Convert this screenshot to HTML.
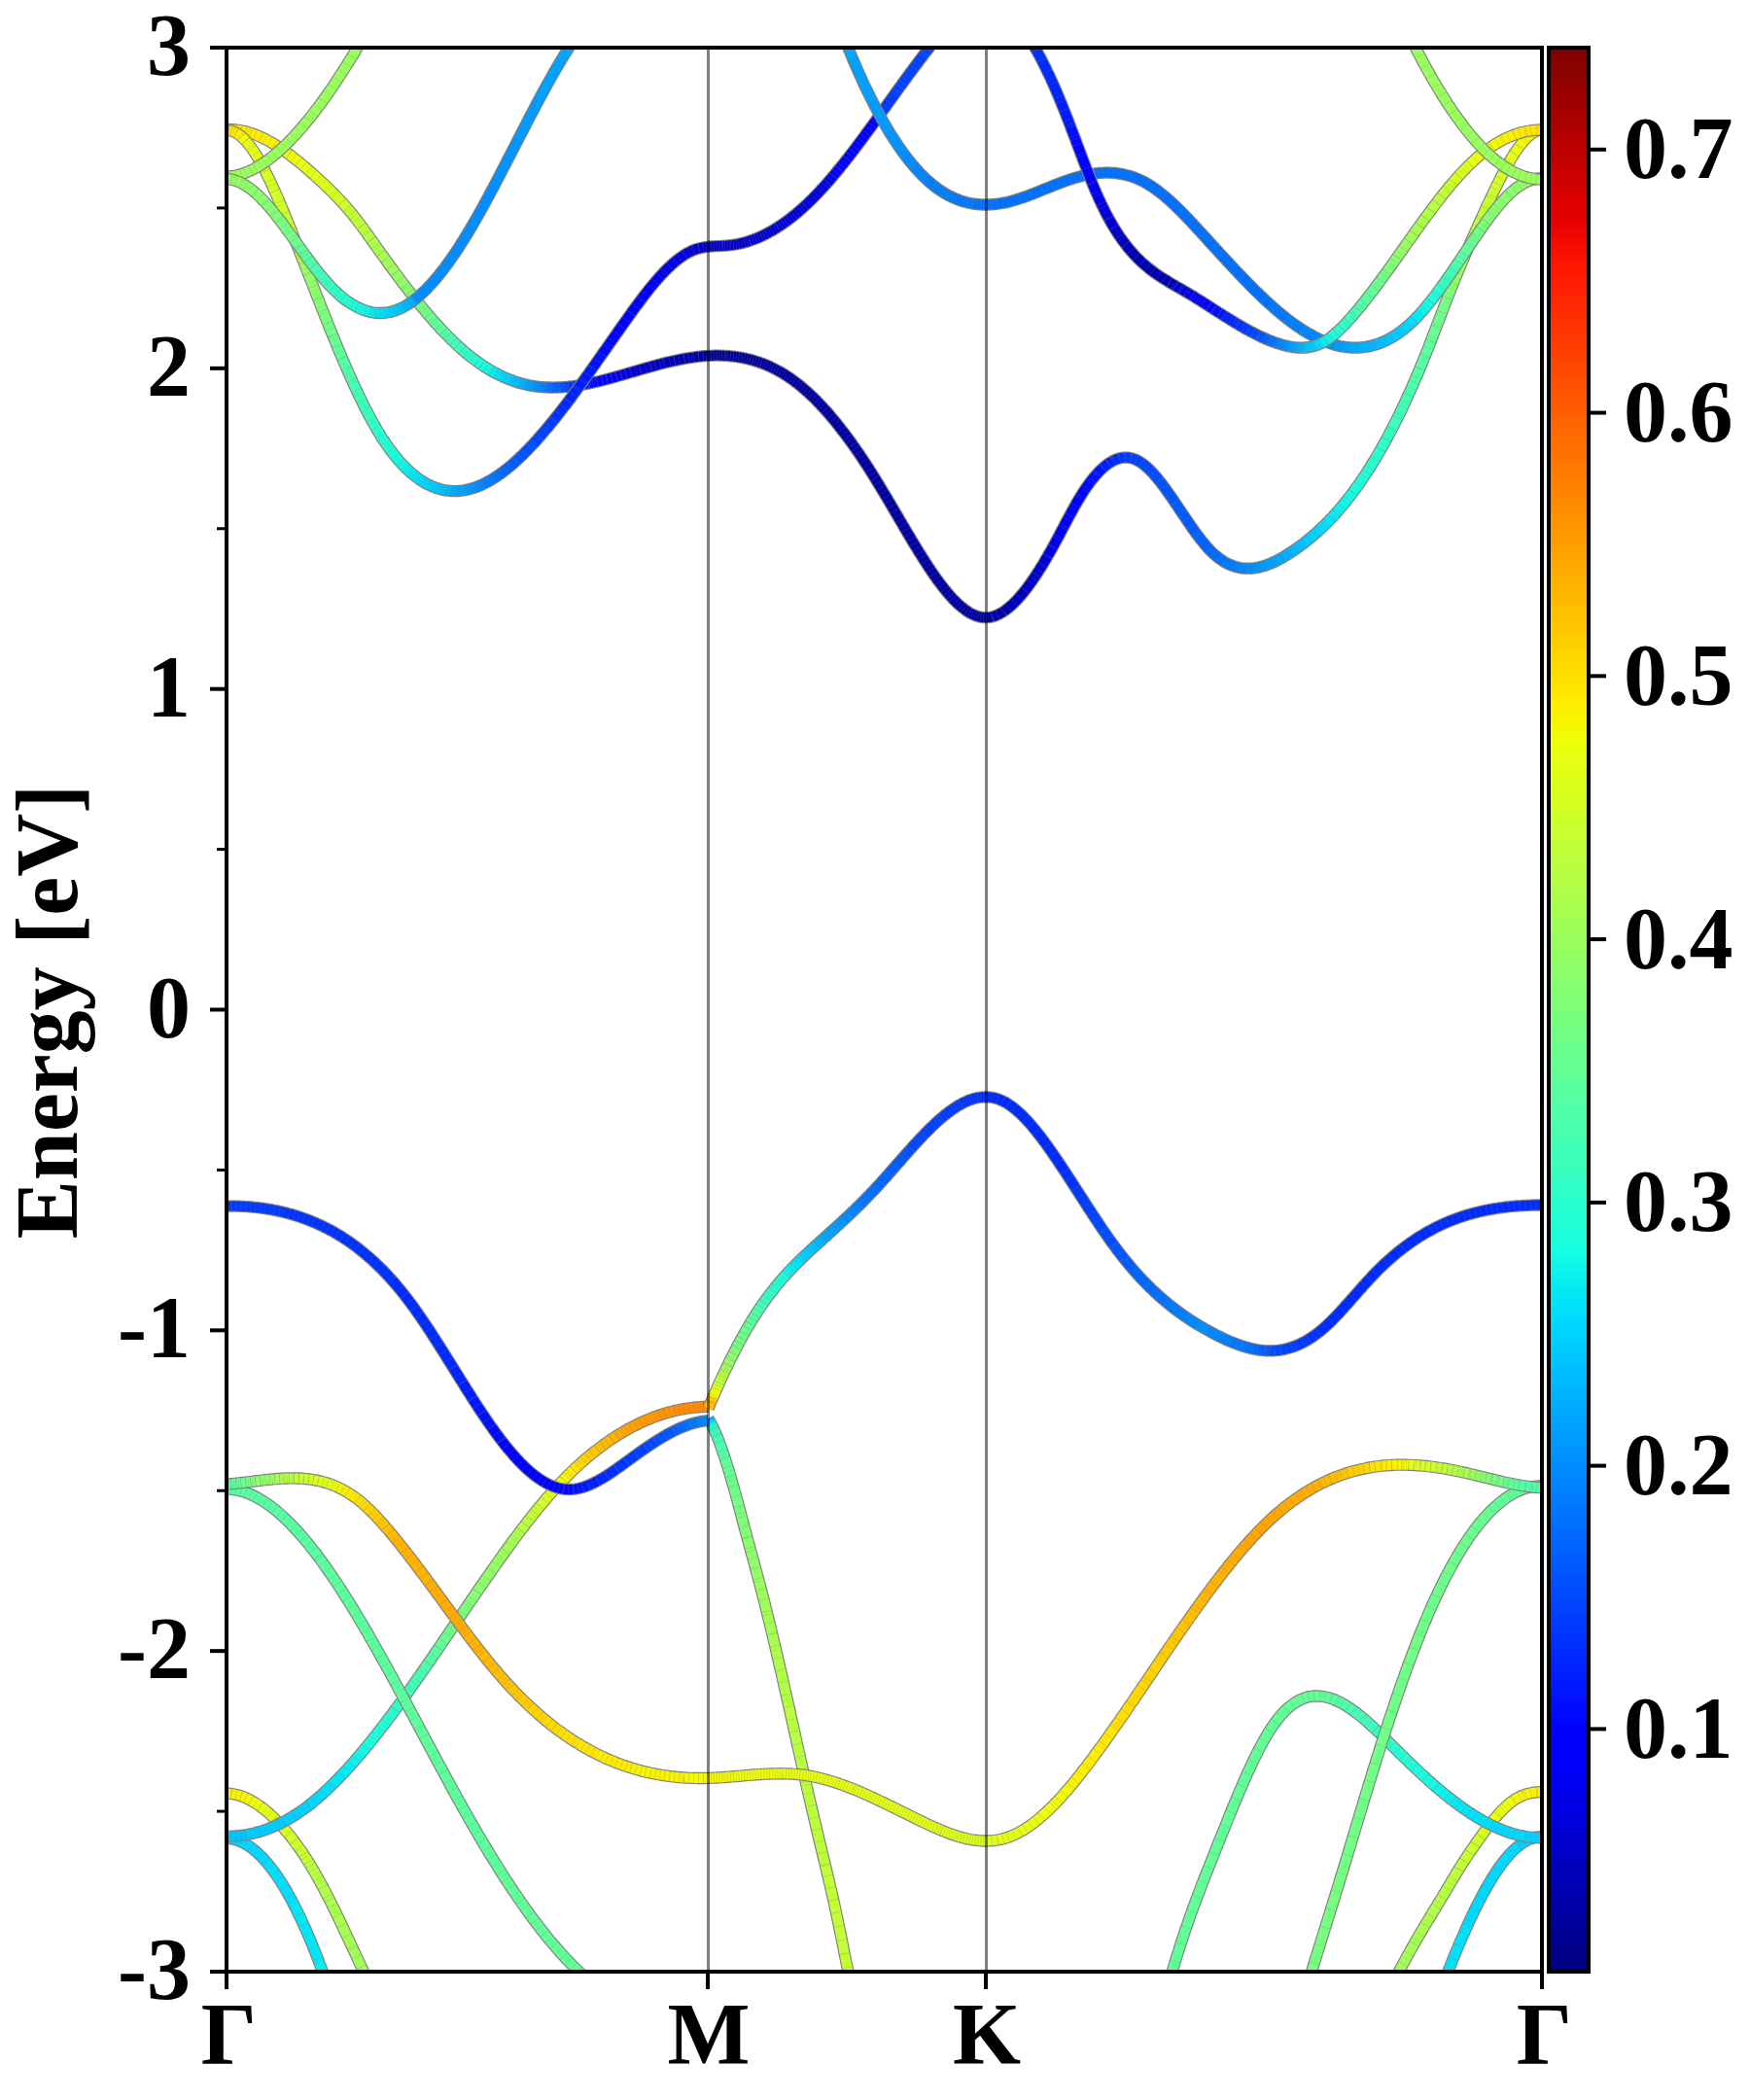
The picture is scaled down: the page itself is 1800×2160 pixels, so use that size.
<!DOCTYPE html>
<html lang="en"><head><meta charset="utf-8"><title>Band structure</title>
<style>html,body{margin:0;padding:0;background:#fff}svg{display:block}</style></head>
<body>
<svg width="1800" height="2160" viewBox="0 0 1800 2160" font-family="'Liberation Serif',serif" font-weight="bold" font-size="90px" fill="#000">
<rect width="1800" height="2160" fill="#fff"/>
<defs><clipPath id="ax"><rect x="233.0" y="49.0" width="1353.0" height="1979.0"/></clipPath></defs>
<g clip-path="url(#ax)" fill="none" stroke-linecap="butt" stroke-linejoin="round">
<g><path d="M233.0,1891.0 235.5,1891.1 238.0,1891.4 240.5,1891.9 242.9,1892.5 245.3,1893.3 247.6,1894.3 249.9,1895.3 252.2,1896.5 254.4,1897.8 256.5,1899.2 258.6,1900.6 260.6,1902.2 262.5,1903.8 264.4,1905.4 266.3,1907.2 268.1,1908.9 269.9,1910.7 271.6,1912.6 273.3,1914.5 274.9,1916.4 276.6,1918.3 278.1,1920.3 279.7,1922.3 281.2,1924.3 282.7,1926.4 284.1,1928.4 285.5,1930.5 286.9,1932.6 288.3,1934.7 289.7,1936.9 291.0,1939.0 292.3,1941.2 293.6,1943.3 294.9,1945.5 296.1,1947.7 297.3,1949.9 298.6,1952.1 299.8,1954.3 300.9,1956.5 302.1,1958.8 303.3,1961.0 304.4,1963.2 305.5,1965.5 306.6,1967.7 307.7,1970.0 308.8,1972.3 309.9,1974.5 310.9,1976.8 312.0,1979.1 313.0,1981.4 314.0,1983.7 315.1,1986.0 316.1,1988.3 317.1,1990.6 318.1,1992.9 319.0,1995.2 320.0,1997.5 321.0,1999.9 321.9,2002.2 322.8,2004.5 323.8,2006.8 324.7,2009.2 325.6,2011.5 326.5,2013.9 327.4,2016.2 328.3,2018.5 329.2,2020.9 330.1,2023.2 331.0,2025.6 331.9,2027.9 332.7,2030.3 333.6,2032.7 334.4,2035.0 335.3,2037.4 336.1,2039.7 336.9,2042.1 337.8,2044.5 338.6,2046.9 339.4,2049.2 340.2,2051.6 341.0,2053.9" stroke="#808080" stroke-width="12.3"/>
<path d="M233.0,1891.0 235.5,1891.1 238.0,1891.4 240.5,1891.9 242.9,1892.5 245.3,1893.3 247.6,1894.3" stroke="#00d2ff" stroke-width="10.0"/>
<path d="M247.6,1894.3 249.9,1895.3 252.2,1896.5 254.4,1897.8 256.5,1899.2 258.6,1900.6 260.6,1902.2 262.5,1903.8 264.4,1905.4 266.3,1907.2 268.1,1908.9 269.9,1910.7 271.6,1912.6 273.3,1914.5 274.9,1916.4" stroke="#00d9ff" stroke-width="10.0"/>
<path d="M274.9,1916.4 276.6,1918.3 278.1,1920.3 279.7,1922.3 281.2,1924.3 282.7,1926.4 284.1,1928.4 285.5,1930.5 286.9,1932.6 288.3,1934.7 289.7,1936.9 291.0,1939.0 292.3,1941.2 293.6,1943.3 294.9,1945.5 296.1,1947.7 297.3,1949.9 298.6,1952.1 299.8,1954.3 300.9,1956.5" stroke="#00e0fb" stroke-width="10.0"/>
<path d="M300.9,1956.5 302.1,1958.8 303.3,1961.0 304.4,1963.2 305.5,1965.5 306.6,1967.7 307.7,1970.0 308.8,1972.3 309.9,1974.5 310.9,1976.8 312.0,1979.1 313.0,1981.4 314.0,1983.7 315.1,1986.0 316.1,1988.3 317.1,1990.6 318.1,1992.9 319.0,1995.2 320.0,1997.5 321.0,1999.9 321.9,2002.2 322.8,2004.5 323.8,2006.8 324.7,2009.2 325.6,2011.5 326.5,2013.9 327.4,2016.2 328.3,2018.5" stroke="#02e7f5" stroke-width="10.0"/>
<path d="M328.3,2018.5 329.2,2020.9 330.1,2023.2 331.0,2025.6 331.9,2027.9 332.7,2030.3 333.6,2032.7 334.4,2035.0 335.3,2037.4 336.1,2039.7 336.9,2042.1 337.8,2044.5 338.6,2046.9 339.4,2049.2 340.2,2051.6 341.0,2053.9" stroke="#07eef0" stroke-width="10.0"/>
<path d="M238.7,1886.5l-1.6,9.9M244.3,1887.8l-2.8,9.6M249.9,1889.8l-4.0,9.2M255.3,1892.5l-5.0,8.7M260.7,1896.0l-5.8,8.1M266.0,1900.1l-6.5,7.6M271.2,1904.9l-7.0,7.1M276.4,1910.4l-7.5,6.6M281.5,1916.5l-7.8,6.2M286.6,1923.3l-8.1,5.8M291.7,1930.8l-8.4,5.5M296.7,1938.8l-8.6,5.1M301.8,1947.6l-8.7,4.9M306.8,1957.0l-8.9,4.6M311.8,1967.0l-9.0,4.4M316.8,1977.7l-9.1,4.1M321.8,1989.0l-9.2,3.9M326.8,2001.0l-9.3,3.8M331.8,2013.6l-9.3,3.6M336.8,2026.9l-9.4,3.4M341.8,2040.8l-9.4,3.3" stroke="#7a7a7a" stroke-opacity="0.3" stroke-width="0.9"/>
</g>
<g><path d="M1481.0,2049.5 1481.9,2047.1 1482.8,2044.8 1483.7,2042.5 1484.6,2040.1 1485.5,2037.8 1486.4,2035.5 1487.3,2033.2 1488.2,2030.8 1489.1,2028.5 1490.0,2026.2 1490.9,2023.9 1491.9,2021.6 1492.8,2019.2 1493.7,2016.9 1494.7,2014.6 1495.6,2012.3 1496.6,2010.0 1497.5,2007.7 1498.5,2005.4 1499.5,2003.1 1500.4,2000.8 1501.4,1998.5 1502.4,1996.2 1503.4,1993.9 1504.4,1991.7 1505.4,1989.4 1506.4,1987.1 1507.4,1984.8 1508.4,1982.6 1509.5,1980.3 1510.5,1978.0 1511.5,1975.8 1512.6,1973.5 1513.7,1971.3 1514.7,1969.0 1515.8,1966.8 1516.9,1964.5 1518.0,1962.3 1519.1,1960.1 1520.2,1957.9 1521.4,1955.6 1522.5,1953.4 1523.7,1951.2 1524.8,1949.0 1526.0,1946.9 1527.2,1944.7 1528.4,1942.5 1529.7,1940.3 1530.9,1938.2 1532.2,1936.1 1533.4,1933.9 1534.7,1931.8 1536.0,1929.7 1537.4,1927.6 1538.7,1925.5 1540.1,1923.5 1541.5,1921.4 1542.9,1919.4 1544.4,1917.4 1545.9,1915.4 1547.4,1913.5 1549.0,1911.6 1550.6,1909.7 1552.2,1907.8 1553.9,1906.0 1555.6,1904.3 1557.4,1902.6 1559.2,1900.9 1561.1,1899.3 1563.0,1897.8 1565.0,1896.4 1567.1,1895.0 1569.2,1893.8 1571.4,1892.7 1573.7,1891.7 1576.0,1890.8 1578.4,1890.1 1580.8,1889.6 1583.3,1889.3 1585.7,1889.2 1586.0,1889.2" stroke="#808080" stroke-width="12.3"/>
<path d="M1481.0,2049.5 1481.9,2047.1 1482.8,2044.8 1483.7,2042.5 1484.6,2040.1 1485.5,2037.8 1486.4,2035.5 1487.3,2033.2 1488.2,2030.8 1489.1,2028.5 1490.0,2026.2 1490.9,2023.9 1491.9,2021.6 1492.8,2019.2 1493.7,2016.9 1494.7,2014.6 1495.6,2012.3 1496.6,2010.0 1497.5,2007.7 1498.5,2005.4 1499.5,2003.1 1500.4,2000.8 1501.4,1998.5 1502.4,1996.2 1503.4,1993.9 1504.4,1991.7 1505.4,1989.4 1506.4,1987.1 1507.4,1984.8 1508.4,1982.6 1509.5,1980.3" stroke="#00e0fb" stroke-width="10.0"/>
<path d="M1509.5,1980.3 1510.5,1978.0 1511.5,1975.8 1512.6,1973.5 1513.7,1971.3 1514.7,1969.0 1515.8,1966.8 1516.9,1964.5 1518.0,1962.3 1519.1,1960.1 1520.2,1957.9 1521.4,1955.6 1522.5,1953.4 1523.7,1951.2 1524.8,1949.0 1526.0,1946.9 1527.2,1944.7 1528.4,1942.5 1529.7,1940.3 1530.9,1938.2 1532.2,1936.1 1533.4,1933.9 1534.7,1931.8 1536.0,1929.7 1537.4,1927.6 1538.7,1925.5 1540.1,1923.5 1541.5,1921.4 1542.9,1919.4 1544.4,1917.4 1545.9,1915.4 1547.4,1913.5 1549.0,1911.6 1550.6,1909.7 1552.2,1907.8 1553.9,1906.0 1555.6,1904.3 1557.4,1902.6 1559.2,1900.9 1561.1,1899.3" stroke="#00d9ff" stroke-width="10.0"/>
<path d="M1561.1,1899.3 1563.0,1897.8 1565.0,1896.4 1567.1,1895.0 1569.2,1893.8 1571.4,1892.7 1573.7,1891.7 1576.0,1890.8 1578.4,1890.1 1580.8,1889.6 1583.3,1889.3 1585.7,1889.2 1586.0,1889.2" stroke="#00d2ff" stroke-width="10.0"/>
<path d="M1478.5,2042.1l9.3,3.6M1484.2,2027.3l9.3,3.7M1489.9,2013.0l9.3,3.8M1495.7,1999.2l9.2,3.9M1501.4,1986.0l9.1,4.1M1507.2,1973.3l9.1,4.2M1512.9,1961.3l9.0,4.4M1518.7,1949.9l8.9,4.7M1524.5,1939.3l8.7,4.9M1530.3,1929.4l8.5,5.2M1536.1,1920.4l8.3,5.6M1542.0,1912.3l7.9,6.1M1548.0,1905.1l7.5,6.7M1554.0,1898.9l6.8,7.3M1560.1,1893.7l6.0,8.0M1566.4,1889.6l4.9,8.7M1572.8,1886.6l3.5,9.4M1579.4,1884.8l1.8,9.8" stroke="#7a7a7a" stroke-opacity="0.3" stroke-width="0.9"/>
</g>
<g><path d="M233.0,1844.5 235.5,1844.7 238.0,1845.0 240.5,1845.4 242.9,1845.9 245.4,1846.5 247.8,1847.3 250.1,1848.1 252.5,1849.1 254.7,1850.2 257.0,1851.3 259.2,1852.5 261.4,1853.8 263.5,1855.1 265.6,1856.5 267.7,1858.0 269.7,1859.5 271.7,1861.0 273.7,1862.6 275.6,1864.2 277.5,1865.9 279.3,1867.6 281.2,1869.3 283.0,1871.1 284.7,1872.9 286.5,1874.7 288.2,1876.5 289.9,1878.4 291.6,1880.2 293.3,1882.1 294.9,1884.1 296.5,1886.0 298.1,1887.9 299.7,1889.9 301.2,1891.9 302.7,1893.9 304.2,1895.9 305.7,1897.9 307.2,1900.0 308.6,1902.1 310.1,1904.1 311.5,1906.2 312.9,1908.3 314.2,1910.4 315.6,1912.5 316.9,1914.6 318.3,1916.8 319.6,1918.9 320.9,1921.1 322.2,1923.2 323.4,1925.4 324.7,1927.6 325.9,1929.8 327.2,1932.0 328.4,1934.2 329.6,1936.4 330.8,1938.6 332.0,1940.8 333.2,1943.0 334.3,1945.2 335.5,1947.4 336.6,1949.7 337.8,1951.9 338.9,1954.1 340.1,1956.4 341.2,1958.6 342.3,1960.9 343.4,1963.1 344.5,1965.4 345.6,1967.6 346.7,1969.9 347.8,1972.1 348.9,1974.4 350.0,1976.6 351.0,1978.9 352.1,1981.2 353.2,1983.4 354.2,1985.7 355.3,1987.9 356.4,1990.2 357.4,1992.5 358.5,1994.7 359.6,1997.0 360.6,1999.3 361.7,2001.5 362.7,2003.8 363.8,2006.1 364.8,2008.3 365.9,2010.6 366.9,2012.9 368.0,2015.1 369.1,2017.4 370.1,2019.7 371.2,2021.9 372.2,2024.2 373.3,2026.5 374.4,2028.7 375.4,2031.0 376.5,2033.2 377.6,2035.5 378.6,2037.7 379.7,2040.0 380.8,2042.2 381.9,2044.5 383.0,2046.7 384.1,2049.0 385.2,2051.2 385.5,2051.9" stroke="#808080" stroke-width="12.3"/>
<path d="M233.0,1844.5 235.5,1844.7 238.0,1845.0" stroke="#ffec00" stroke-width="10.0"/>
<path d="M238.0,1845.0 240.5,1845.4 242.9,1845.9 245.4,1846.5 247.8,1847.3" stroke="#f9f300" stroke-width="10.0"/>
<path d="M247.8,1847.3 250.1,1848.1 252.5,1849.1 254.7,1850.2 257.0,1851.3 259.2,1852.5" stroke="#f4f903" stroke-width="10.0"/>
<path d="M259.2,1852.5 261.4,1853.8 263.5,1855.1 265.6,1856.5 267.7,1858.0" stroke="#eeff09" stroke-width="10.0"/>
<path d="M267.7,1858.0 269.7,1859.5 271.7,1861.0 273.7,1862.6 275.6,1864.2" stroke="#e8ff0f" stroke-width="10.0"/>
<path d="M275.6,1864.2 277.5,1865.9 279.3,1867.6 281.2,1869.3 283.0,1871.1" stroke="#e3ff14" stroke-width="10.0"/>
<path d="M283.0,1871.1 284.7,1872.9 286.5,1874.7 288.2,1876.5 289.9,1878.4" stroke="#ddff1a" stroke-width="10.0"/>
<path d="M289.9,1878.4 291.6,1880.2 293.3,1882.1 294.9,1884.1 296.5,1886.0" stroke="#d7ff1f" stroke-width="10.0"/>
<path d="M296.5,1886.0 298.1,1887.9 299.7,1889.9 301.2,1891.9 302.7,1893.9" stroke="#d2ff25" stroke-width="10.0"/>
<path d="M302.7,1893.9 304.2,1895.9 305.7,1897.9 307.2,1900.0 308.6,1902.1" stroke="#ccff2b" stroke-width="10.0"/>
<path d="M308.6,1902.1 310.1,1904.1 311.5,1906.2 312.9,1908.3 314.2,1910.4" stroke="#c6ff30" stroke-width="10.0"/>
<path d="M314.2,1910.4 315.6,1912.5 316.9,1914.6 318.3,1916.8 319.6,1918.9" stroke="#c1ff36" stroke-width="10.0"/>
<path d="M319.6,1918.9 320.9,1921.1 322.2,1923.2 323.4,1925.4 324.7,1927.6" stroke="#bbff3c" stroke-width="10.0"/>
<path d="M324.7,1927.6 325.9,1929.8 327.2,1932.0 328.4,1934.2 329.6,1936.4" stroke="#b6ff41" stroke-width="10.0"/>
<path d="M329.6,1936.4 330.8,1938.6 332.0,1940.8 333.2,1943.0 334.3,1945.2 335.5,1947.4 336.6,1949.7 337.8,1951.9 338.9,1954.1" stroke="#b0ff47" stroke-width="10.0"/>
<path d="M338.9,1954.1 340.1,1956.4 341.2,1958.6 342.3,1960.9 343.4,1963.1 344.5,1965.4 345.6,1967.6 346.7,1969.9 347.8,1972.1 348.9,1974.4 350.0,1976.6 351.0,1978.9" stroke="#aaff4c" stroke-width="10.0"/>
<path d="M351.0,1978.9 352.1,1981.2 353.2,1983.4 354.2,1985.7 355.3,1987.9 356.4,1990.2 357.4,1992.5 358.5,1994.7 359.6,1997.0 360.6,1999.3 361.7,2001.5 362.7,2003.8" stroke="#a5ff52" stroke-width="10.0"/>
<path d="M362.7,2003.8 363.8,2006.1 364.8,2008.3 365.9,2010.6 366.9,2012.9 368.0,2015.1 369.1,2017.4 370.1,2019.7 371.2,2021.9 372.2,2024.2 373.3,2026.5 374.4,2028.7" stroke="#9fff58" stroke-width="10.0"/>
<path d="M374.4,2028.7 375.4,2031.0 376.5,2033.2 377.6,2035.5 378.6,2037.7 379.7,2040.0 380.8,2042.2 381.9,2044.5 383.0,2046.7 384.1,2049.0 385.2,2051.2 385.5,2051.9" stroke="#99ff5d" stroke-width="10.0"/>
<path d="M238.6,1840.0l-1.3,9.9M244.1,1841.0l-2.3,9.7M249.5,1842.6l-3.2,9.5M254.8,1844.7l-4.0,9.1M260.1,1847.3l-4.7,8.8M265.4,1850.4l-5.3,8.4M270.6,1853.9l-5.9,8.1M275.8,1857.9l-6.3,7.8M280.9,1862.3l-6.7,7.4M286.1,1867.1l-7.0,7.1M291.1,1872.3l-7.3,6.9M296.2,1877.9l-7.5,6.6M301.3,1884.0l-7.8,6.3M306.4,1890.4l-8.0,6.0M311.4,1897.3l-8.2,5.8M316.4,1904.6l-8.3,5.5M321.5,1912.5l-8.5,5.3M326.5,1920.7l-8.6,5.1M331.5,1929.5l-8.7,4.9M336.5,1938.7l-8.8,4.7M341.5,1948.2l-8.9,4.6M346.5,1958.1l-9.0,4.4M351.5,1968.2l-9.0,4.4M356.4,1978.6l-9.0,4.3M361.4,1989.1l-9.1,4.2M366.4,1999.8l-9.1,4.2M371.3,2010.4l-9.1,4.2M376.3,2021.0l-9.1,4.2M381.2,2031.5l-9.0,4.3M386.2,2041.8l-9.0,4.4" stroke="#7a7a7a" stroke-opacity="0.3" stroke-width="0.9"/>
</g>
<g><path d="M1427.5,2050.1 1428.6,2047.8 1429.7,2045.6 1430.9,2043.4 1432.0,2041.2 1433.1,2038.9 1434.3,2036.7 1435.4,2034.5 1436.6,2032.3 1437.7,2030.1 1438.9,2027.9 1440.0,2025.7 1441.2,2023.5 1442.4,2021.3 1443.6,2019.1 1444.8,2016.9 1446.0,2014.7 1447.2,2012.5 1448.4,2010.3 1449.6,2008.1 1450.8,2006.0 1452.0,2003.8 1453.2,2001.6 1454.5,1999.5 1455.7,1997.3 1457.0,1995.1 1458.2,1993.0 1459.5,1990.8 1460.7,1988.7 1462.0,1986.5 1463.3,1984.4 1464.6,1982.2 1465.8,1980.1 1467.1,1978.0 1468.4,1975.8 1469.7,1973.7 1471.0,1971.5 1472.3,1969.4 1473.6,1967.3 1474.9,1965.1 1476.2,1963.0 1477.5,1960.9 1478.8,1958.7 1480.1,1956.6 1481.4,1954.5 1482.7,1952.3 1484.0,1950.2 1485.3,1948.0 1486.6,1945.9 1487.9,1943.7 1489.1,1941.6 1490.4,1939.4 1491.7,1937.3 1492.9,1935.1 1494.2,1933.0 1495.5,1930.8 1496.8,1928.7 1498.1,1926.5 1499.4,1924.4 1500.7,1922.3 1502.0,1920.2 1503.3,1918.1 1504.7,1916.0 1506.0,1913.9 1507.4,1911.8 1508.8,1909.8 1510.1,1907.7 1511.5,1905.6 1512.9,1903.6 1514.4,1901.5 1515.8,1899.5 1517.2,1897.4 1518.6,1895.4 1520.1,1893.3 1521.5,1891.3 1523.0,1889.3 1524.4,1887.2 1525.9,1885.2 1527.4,1883.2 1528.9,1881.2 1530.4,1879.3 1531.9,1877.3 1533.4,1875.3 1535.0,1873.4 1536.6,1871.5 1538.2,1869.6 1539.8,1867.7 1541.4,1865.9 1543.1,1864.0 1544.8,1862.2 1546.6,1860.5 1548.3,1858.8 1550.2,1857.1 1552.0,1855.5 1553.9,1853.9 1555.9,1852.5 1557.9,1851.1 1560.0,1849.8 1562.2,1848.6 1564.4,1847.5 1566.7,1846.5 1569.0,1845.7 1571.4,1845.0 1573.8,1844.4 1576.2,1843.9 1578.7,1843.6 1581.2,1843.3 1583.7,1843.2 1586.0,1843.2" stroke="#808080" stroke-width="12.3"/>
<path d="M1427.5,2050.1 1428.6,2047.8 1429.7,2045.6 1430.9,2043.4 1432.0,2041.2 1433.1,2038.9 1434.3,2036.7" stroke="#99ff5d" stroke-width="10.0"/>
<path d="M1434.3,2036.7 1435.4,2034.5 1436.6,2032.3 1437.7,2030.1 1438.9,2027.9 1440.0,2025.7 1441.2,2023.5 1442.4,2021.3 1443.6,2019.1 1444.8,2016.9 1446.0,2014.7" stroke="#9fff58" stroke-width="10.0"/>
<path d="M1446.0,2014.7 1447.2,2012.5 1448.4,2010.3 1449.6,2008.1 1450.8,2006.0 1452.0,2003.8 1453.2,2001.6 1454.5,1999.5 1455.7,1997.3 1457.0,1995.1" stroke="#a5ff52" stroke-width="10.0"/>
<path d="M1457.0,1995.1 1458.2,1993.0 1459.5,1990.8 1460.7,1988.7 1462.0,1986.5 1463.3,1984.4 1464.6,1982.2 1465.8,1980.1 1467.1,1978.0 1468.4,1975.8" stroke="#aaff4c" stroke-width="10.0"/>
<path d="M1468.4,1975.8 1469.7,1973.7 1471.0,1971.5 1472.3,1969.4 1473.6,1967.3 1474.9,1965.1 1476.2,1963.0 1477.5,1960.9 1478.8,1958.7 1480.1,1956.6" stroke="#b0ff47" stroke-width="10.0"/>
<path d="M1480.1,1956.6 1481.4,1954.5 1482.7,1952.3 1484.0,1950.2 1485.3,1948.0 1486.6,1945.9 1487.9,1943.7 1489.1,1941.6 1490.4,1939.4 1491.7,1937.3" stroke="#b6ff41" stroke-width="10.0"/>
<path d="M1491.7,1937.3 1492.9,1935.1 1494.2,1933.0 1495.5,1930.8 1496.8,1928.7 1498.1,1926.5 1499.4,1924.4 1500.7,1922.3" stroke="#bbff3c" stroke-width="10.0"/>
<path d="M1500.7,1922.3 1502.0,1920.2 1503.3,1918.1 1504.7,1916.0 1506.0,1913.9" stroke="#c1ff36" stroke-width="10.0"/>
<path d="M1506.0,1913.9 1507.4,1911.8 1508.8,1909.8 1510.1,1907.7 1511.5,1905.6" stroke="#c6ff30" stroke-width="10.0"/>
<path d="M1511.5,1905.6 1512.9,1903.6 1514.4,1901.5 1515.8,1899.5 1517.2,1897.4" stroke="#ccff2b" stroke-width="10.0"/>
<path d="M1517.2,1897.4 1518.6,1895.4 1520.1,1893.3 1521.5,1891.3 1523.0,1889.3" stroke="#d2ff25" stroke-width="10.0"/>
<path d="M1523.0,1889.3 1524.4,1887.2 1525.9,1885.2 1527.4,1883.2" stroke="#d7ff1f" stroke-width="10.0"/>
<path d="M1527.4,1883.2 1528.9,1881.2 1530.4,1879.3 1531.9,1877.3 1533.4,1875.3 1535.0,1873.4" stroke="#ddff1a" stroke-width="10.0"/>
<path d="M1535.0,1873.4 1536.6,1871.5 1538.2,1869.6 1539.8,1867.7 1541.4,1865.9" stroke="#e3ff14" stroke-width="10.0"/>
<path d="M1541.4,1865.9 1543.1,1864.0 1544.8,1862.2 1546.6,1860.5 1548.3,1858.8" stroke="#e8ff0f" stroke-width="10.0"/>
<path d="M1548.3,1858.8 1550.2,1857.1 1552.0,1855.5 1553.9,1853.9 1555.9,1852.5" stroke="#eeff09" stroke-width="10.0"/>
<path d="M1555.9,1852.5 1557.9,1851.1 1560.0,1849.8 1562.2,1848.6 1564.4,1847.5 1566.7,1846.5" stroke="#f4f903" stroke-width="10.0"/>
<path d="M1566.7,1846.5 1569.0,1845.7 1571.4,1845.0 1573.8,1844.4 1576.2,1843.9 1578.7,1843.6 1581.2,1843.3" stroke="#f9f300" stroke-width="10.0"/>
<path d="M1581.2,1843.3 1583.7,1843.2 1586.0,1843.2" stroke="#ffec00" stroke-width="10.0"/>
<path d="M1427.2,2039.5l8.9,4.5M1433.0,2028.3l8.9,4.6M1438.7,2017.5l8.8,4.7M1444.5,2007.0l8.7,4.9M1450.2,1996.8l8.7,5.0M1456.0,1986.9l8.6,5.1M1461.7,1977.3l8.6,5.2M1467.4,1967.8l8.5,5.2M1473.1,1958.5l8.5,5.2M1478.8,1949.0l8.6,5.2M1484.5,1939.5l8.6,5.1M1490.3,1929.8l8.6,5.1M1496.0,1920.3l8.5,5.3M1501.8,1911.2l8.4,5.5M1507.6,1902.6l8.3,5.6M1513.3,1894.2l8.2,5.7M1519.1,1886.1l8.1,5.8M1524.9,1878.3l8.0,6.0M1530.7,1870.8l7.8,6.3M1536.5,1863.8l7.5,6.6M1542.5,1857.5l7.1,7.1M1548.5,1851.9l6.5,7.6M1554.6,1847.2l5.6,8.3M1560.9,1843.6l4.4,9.0M1567.3,1841.0l3.2,9.5M1573.6,1839.3l2.0,9.8M1579.9,1838.4l0.9,10.0" stroke="#7a7a7a" stroke-opacity="0.3" stroke-width="0.9"/>
</g>
<g><path d="M233.0,1888.8 235.5,1888.8 238.0,1888.7 240.5,1888.6 243.0,1888.4 245.5,1888.2 248.0,1887.9 250.5,1887.6 252.9,1887.2 255.4,1886.8 257.9,1886.3 260.3,1885.7 262.7,1885.2 265.2,1884.5 267.6,1883.8 270.0,1883.1 272.3,1882.3 274.7,1881.4 277.0,1880.5 279.4,1879.6 281.7,1878.6 284.0,1877.6 286.2,1876.5 288.5,1875.4 290.7,1874.3 293.0,1873.1 295.2,1871.9 297.3,1870.7 299.5,1869.4 301.6,1868.1 303.8,1866.7 305.9,1865.3 308.0,1863.9 310.0,1862.5 312.1,1861.1 314.1,1859.6 316.1,1858.1 318.1,1856.5 320.1,1855.0 322.0,1853.4 323.9,1851.8 325.9,1850.2 327.8,1848.5 329.7,1846.9 331.5,1845.2 333.4,1843.5 335.2,1841.8 337.1,1840.1 338.9,1838.4 340.7,1836.6 342.5,1834.9 344.3,1833.1 346.0,1831.3 347.8,1829.6 349.5,1827.7 351.3,1825.9 353.0,1824.1 354.7,1822.3 356.4,1820.4 358.1,1818.6 359.8,1816.7 361.4,1814.9 363.1,1813.0 364.8,1811.1 366.4,1809.2 368.0,1807.3 369.7,1805.4 371.3,1803.5 372.9,1801.6 374.5,1799.7 376.1,1797.7 377.7,1795.8 379.3,1793.8 380.9,1791.9 382.4,1789.9 384.0,1788.0 385.5,1786.0 387.1,1784.1 388.6,1782.1 390.2,1780.1 391.7,1778.1 393.2,1776.2 394.8,1774.2 396.3,1772.2 397.8,1770.2 399.3,1768.2 400.8,1766.2 402.3,1764.2 403.8,1762.2 405.3,1760.2 406.8,1758.1 408.3,1756.1 409.8,1754.1 411.2,1752.1 412.7,1750.1 414.2,1748.0 415.6,1746.0 417.1,1744.0 418.6,1741.9 420.0,1739.9 421.5,1737.9 422.9,1735.8 424.4,1733.8 425.8,1731.7 427.2,1729.7 428.7,1727.7 430.1,1725.6 431.6,1723.6 433.0,1721.5 434.4,1719.4 435.8,1717.4 437.3,1715.3 438.7,1713.3 440.1,1711.2 441.5,1709.2 443.0,1707.1 444.4,1705.0 445.8,1703.0 447.2,1700.9 448.6,1698.9 450.0,1696.8 451.4,1694.7 452.9,1692.7 454.3,1690.6 455.7,1688.5 457.1,1686.5 458.5,1684.4 459.9,1682.3 461.3,1680.3 462.7,1678.2 464.1,1676.1 465.5,1674.1 466.9,1672.0 468.3,1669.9 469.7,1667.9 471.2,1665.8 472.6,1663.7 474.0,1661.7 475.4,1659.6 476.8,1657.5 478.2,1655.5 479.6,1653.4 481.0,1651.3 482.4,1649.3 483.8,1647.2 485.2,1645.1 486.6,1643.1 488.1,1641.0 489.5,1639.0 490.9,1636.9 492.3,1634.8 493.7,1632.8 495.1,1630.7 496.6,1628.7 498.0,1626.6 499.4,1624.6 500.8,1622.5 502.3,1620.5 503.7,1618.4 505.1,1616.4 506.6,1614.3 508.0,1612.3 509.4,1610.3 510.9,1608.2 512.3,1606.2 513.8,1604.1 515.2,1602.1 516.7,1600.1 518.1,1598.0 519.6,1596.0 521.1,1594.0 522.5,1592.0 524.0,1590.0 525.5,1587.9 526.9,1585.9 528.4,1583.9 529.9,1581.9 531.4,1579.9 532.9,1577.9 534.4,1575.9 535.9,1573.9 537.4,1571.9 538.9,1570.0 540.4,1568.0 542.0,1566.0 543.5,1564.0 545.0,1562.1 546.6,1560.1 548.1,1558.2 549.7,1556.2 551.3,1554.3 552.8,1552.3 554.4,1550.4 556.0,1548.5 557.6,1546.6 559.2,1544.7 560.8,1542.8 562.4,1540.9 564.1,1539.0 565.7,1537.1 567.4,1535.2 569.0,1533.4 570.7,1531.5 572.4,1529.7 574.1,1527.9 575.8,1526.0 577.5,1524.2 579.2,1522.4 581.0,1520.7 582.7,1518.9 584.5,1517.1 586.2,1515.4 588.0,1513.6 589.8,1511.9 591.6,1510.2 593.5,1508.5 595.3,1506.8 597.1,1505.1 599.0,1503.5 600.9,1501.8 602.8,1500.2 604.7,1498.6 606.6,1497.0 608.5,1495.4 610.5,1493.9 612.4,1492.3 614.4,1490.8 616.4,1489.3 618.4,1487.8 620.4,1486.3 622.4,1484.9 624.4,1483.4 626.5,1482.0 628.5,1480.6 630.6,1479.3 632.7,1477.9 634.8,1476.6 636.9,1475.3 639.1,1474.0 641.2,1472.7 643.4,1471.5 645.5,1470.2 647.7,1469.0 649.9,1467.9 652.1,1466.7 654.4,1465.6 656.6,1464.5 658.9,1463.4 661.1,1462.4 663.4,1461.4 665.7,1460.4 668.0,1459.4 670.3,1458.5 672.6,1457.6 675.0,1456.7 677.3,1455.9 679.7,1455.1 682.1,1454.3 684.4,1453.6 686.8,1452.9 689.2,1452.3 691.7,1451.6 694.1,1451.0 696.5,1450.5 699.0,1450.0 701.4,1449.5 703.9,1449.1 706.3,1448.7 708.8,1448.3 711.3,1448.0 713.8,1447.7 716.2,1447.5 718.7,1447.3 721.2,1447.1 723.7,1447.0 726.2,1446.9 728.4,1446.9" stroke="#808080" stroke-width="12.3"/>
<path d="M233.0,1888.8 235.5,1888.8 238.0,1888.7 240.5,1888.6 243.0,1888.4 245.5,1888.2 248.0,1887.9 250.5,1887.6 252.9,1887.2" stroke="#00c5ff" stroke-width="10.0"/>
<path d="M252.9,1887.2 255.4,1886.8 257.9,1886.3 260.3,1885.7 262.7,1885.2 265.2,1884.5 267.6,1883.8 270.0,1883.1 272.3,1882.3 274.7,1881.4 277.0,1880.5 279.4,1879.6 281.7,1878.6 284.0,1877.6 286.2,1876.5 288.5,1875.4 290.7,1874.3 293.0,1873.1" stroke="#00ccff" stroke-width="10.0"/>
<path d="M293.0,1873.1 295.2,1871.9 297.3,1870.7 299.5,1869.4 301.6,1868.1 303.8,1866.7 305.9,1865.3 308.0,1863.9 310.0,1862.5 312.1,1861.1 314.1,1859.6 316.1,1858.1 318.1,1856.5" stroke="#00d2ff" stroke-width="10.0"/>
<path d="M318.1,1856.5 320.1,1855.0 322.0,1853.4 323.9,1851.8 325.9,1850.2 327.8,1848.5 329.7,1846.9" stroke="#00d9ff" stroke-width="10.0"/>
<path d="M329.7,1846.9 331.5,1845.2 333.4,1843.5 335.2,1841.8 337.1,1840.1 338.9,1838.4 340.7,1836.6" stroke="#00e0fb" stroke-width="10.0"/>
<path d="M340.7,1836.6 342.5,1834.9 344.3,1833.1 346.0,1831.3 347.8,1829.6 349.5,1827.7 351.3,1825.9" stroke="#02e7f5" stroke-width="10.0"/>
<path d="M351.3,1825.9 353.0,1824.1 354.7,1822.3 356.4,1820.4 358.1,1818.6 359.8,1816.7 361.4,1814.9" stroke="#07eef0" stroke-width="10.0"/>
<path d="M361.4,1814.9 363.1,1813.0 364.8,1811.1 366.4,1809.2 368.0,1807.3 369.7,1805.4" stroke="#0df5ea" stroke-width="10.0"/>
<path d="M369.7,1805.4 371.3,1803.5 372.9,1801.6 374.5,1799.7 376.1,1797.7 377.7,1795.8" stroke="#12fce4" stroke-width="10.0"/>
<path d="M377.7,1795.8 379.3,1793.8 380.9,1791.9 382.4,1789.9 384.0,1788.0" stroke="#18ffdf" stroke-width="10.0"/>
<path d="M384.0,1788.0 385.5,1786.0 387.1,1784.1 388.6,1782.1 390.2,1780.1 391.7,1778.1" stroke="#1effd9" stroke-width="10.0"/>
<path d="M391.7,1778.1 393.2,1776.2 394.8,1774.2 396.3,1772.2 397.8,1770.2 399.3,1768.2" stroke="#23ffd3" stroke-width="10.0"/>
<path d="M399.3,1768.2 400.8,1766.2 402.3,1764.2 403.8,1762.2 405.3,1760.2 406.8,1758.1" stroke="#29ffce" stroke-width="10.0"/>
<path d="M406.8,1758.1 408.3,1756.1 409.8,1754.1 411.2,1752.1 412.7,1750.1" stroke="#2fffc8" stroke-width="10.0"/>
<path d="M412.7,1750.1 414.2,1748.0 415.6,1746.0 417.1,1744.0 418.6,1741.9" stroke="#34ffc3" stroke-width="10.0"/>
<path d="M418.6,1741.9 420.0,1739.9 421.5,1737.9 422.9,1735.8" stroke="#3affbd" stroke-width="10.0"/>
<path d="M422.9,1735.8 424.4,1733.8 425.8,1731.7 427.2,1729.7 428.7,1727.7" stroke="#3fffb7" stroke-width="10.0"/>
<path d="M428.7,1727.7 430.1,1725.6 431.6,1723.6 433.0,1721.5 434.4,1719.4" stroke="#45ffb2" stroke-width="10.0"/>
<path d="M434.4,1719.4 435.8,1717.4 437.3,1715.3 438.7,1713.3 440.1,1711.2" stroke="#4bffac" stroke-width="10.0"/>
<path d="M440.1,1711.2 441.5,1709.2 443.0,1707.1 444.4,1705.0" stroke="#50ffa6" stroke-width="10.0"/>
<path d="M444.4,1705.0 445.8,1703.0 447.2,1700.9 448.6,1698.9" stroke="#56ffa1" stroke-width="10.0"/>
<path d="M448.6,1698.9 450.0,1696.8 451.4,1694.7" stroke="#5cff9b" stroke-width="10.0"/>
<path d="M451.4,1694.7 452.9,1692.7 454.3,1690.6 455.7,1688.5" stroke="#61ff96" stroke-width="10.0"/>
<path d="M455.7,1688.5 457.1,1686.5 458.5,1684.4 459.9,1682.3" stroke="#67ff90" stroke-width="10.0"/>
<path d="M459.9,1682.3 461.3,1680.3 462.7,1678.2 464.1,1676.1" stroke="#6cff8a" stroke-width="10.0"/>
<path d="M464.1,1676.1 465.5,1674.1 466.9,1672.0 468.3,1669.9" stroke="#72ff85" stroke-width="10.0"/>
<path d="M468.3,1669.9 469.7,1667.9 471.2,1665.8 472.6,1663.7 474.0,1661.7" stroke="#78ff7f" stroke-width="10.0"/>
<path d="M474.0,1661.7 475.4,1659.6 476.8,1657.5 478.2,1655.5 479.6,1653.4 481.0,1651.3 482.4,1649.3" stroke="#7dff79" stroke-width="10.0"/>
<path d="M482.4,1649.3 483.8,1647.2 485.2,1645.1 486.6,1643.1 488.1,1641.0 489.5,1639.0 490.9,1636.9" stroke="#83ff74" stroke-width="10.0"/>
<path d="M490.9,1636.9 492.3,1634.8 493.7,1632.8 495.1,1630.7 496.6,1628.7 498.0,1626.6" stroke="#89ff6e" stroke-width="10.0"/>
<path d="M498.0,1626.6 499.4,1624.6 500.8,1622.5 502.3,1620.5 503.7,1618.4 505.1,1616.4 506.6,1614.3" stroke="#8eff69" stroke-width="10.0"/>
<path d="M506.6,1614.3 508.0,1612.3 509.4,1610.3 510.9,1608.2 512.3,1606.2 513.8,1604.1" stroke="#94ff63" stroke-width="10.0"/>
<path d="M513.8,1604.1 515.2,1602.1 516.7,1600.1 518.1,1598.0 519.6,1596.0" stroke="#99ff5d" stroke-width="10.0"/>
<path d="M519.6,1596.0 521.1,1594.0 522.5,1592.0 524.0,1590.0" stroke="#9fff58" stroke-width="10.0"/>
<path d="M524.0,1590.0 525.5,1587.9 526.9,1585.9 528.4,1583.9" stroke="#a5ff52" stroke-width="10.0"/>
<path d="M528.4,1583.9 529.9,1581.9 531.4,1579.9 532.9,1577.9" stroke="#aaff4c" stroke-width="10.0"/>
<path d="M532.9,1577.9 534.4,1575.9 535.9,1573.9" stroke="#b0ff47" stroke-width="10.0"/>
<path d="M535.9,1573.9 537.4,1571.9 538.9,1570.0 540.4,1568.0" stroke="#b6ff41" stroke-width="10.0"/>
<path d="M540.4,1568.0 542.0,1566.0 543.5,1564.0 545.0,1562.1" stroke="#bbff3c" stroke-width="10.0"/>
<path d="M545.0,1562.1 546.6,1560.1 548.1,1558.2" stroke="#c1ff36" stroke-width="10.0"/>
<path d="M548.1,1558.2 549.7,1556.2 551.3,1554.3 552.8,1552.3" stroke="#c6ff30" stroke-width="10.0"/>
<path d="M552.8,1552.3 554.4,1550.4 556.0,1548.5" stroke="#ccff2b" stroke-width="10.0"/>
<path d="M556.0,1548.5 557.6,1546.6 559.2,1544.7 560.8,1542.8" stroke="#d2ff25" stroke-width="10.0"/>
<path d="M560.8,1542.8 562.4,1540.9 564.1,1539.0" stroke="#d7ff1f" stroke-width="10.0"/>
<path d="M564.1,1539.0 565.7,1537.1 567.4,1535.2" stroke="#ddff1a" stroke-width="10.0"/>
<path d="M567.4,1535.2 569.0,1533.4 570.7,1531.5" stroke="#e3ff14" stroke-width="10.0"/>
<path d="M570.7,1531.5 572.4,1529.7 574.1,1527.9 575.8,1526.0" stroke="#e8ff0f" stroke-width="10.0"/>
<path d="M575.8,1526.0 577.5,1524.2 579.2,1522.4" stroke="#eeff09" stroke-width="10.0"/>
<path d="M579.2,1522.4 581.0,1520.7 582.7,1518.9" stroke="#f4f903" stroke-width="10.0"/>
<path d="M582.7,1518.9 584.5,1517.1 586.2,1515.4" stroke="#f9f300" stroke-width="10.0"/>
<path d="M586.2,1515.4 588.0,1513.6 589.8,1511.9" stroke="#ffec00" stroke-width="10.0"/>
<path d="M589.8,1511.9 591.6,1510.2 593.5,1508.5" stroke="#ffe600" stroke-width="10.0"/>
<path d="M593.5,1508.5 595.3,1506.8 597.1,1505.1" stroke="#ffdf00" stroke-width="10.0"/>
<path d="M597.1,1505.1 599.0,1503.5 600.9,1501.8" stroke="#ffd900" stroke-width="10.0"/>
<path d="M600.9,1501.8 602.8,1500.2 604.7,1498.6" stroke="#ffd300" stroke-width="10.0"/>
<path d="M604.7,1498.6 606.6,1497.0 608.5,1495.4" stroke="#ffcc00" stroke-width="10.0"/>
<path d="M608.5,1495.4 610.5,1493.9 612.4,1492.3 614.4,1490.8" stroke="#ffc600" stroke-width="10.0"/>
<path d="M614.4,1490.8 616.4,1489.3 618.4,1487.8 620.4,1486.3" stroke="#ffbf00" stroke-width="10.0"/>
<path d="M620.4,1486.3 622.4,1484.9 624.4,1483.4 626.5,1482.0 628.5,1480.6" stroke="#ffb900" stroke-width="10.0"/>
<path d="M628.5,1480.6 630.6,1479.3 632.7,1477.9 634.8,1476.6" stroke="#ffb200" stroke-width="10.0"/>
<path d="M634.8,1476.6 636.9,1475.3 639.1,1474.0 641.2,1472.7" stroke="#ffac00" stroke-width="10.0"/>
<path d="M641.2,1472.7 643.4,1471.5 645.5,1470.2 647.7,1469.0" stroke="#ffa500" stroke-width="10.0"/>
<path d="M647.7,1469.0 649.9,1467.9 652.1,1466.7 654.4,1465.6 656.6,1464.5 658.9,1463.4" stroke="#ff9f00" stroke-width="10.0"/>
<path d="M658.9,1463.4 661.1,1462.4 663.4,1461.4 665.7,1460.4 668.0,1459.4 670.3,1458.5 672.6,1457.6 675.0,1456.7 677.3,1455.9" stroke="#ff9800" stroke-width="10.0"/>
<path d="M677.3,1455.9 679.7,1455.1 682.1,1454.3 684.4,1453.6 686.8,1452.9 689.2,1452.3 691.7,1451.6 694.1,1451.0" stroke="#ff9200" stroke-width="10.0"/>
<path d="M694.1,1451.0 696.5,1450.5 699.0,1450.0 701.4,1449.5 703.9,1449.1 706.3,1448.7 708.8,1448.3 711.3,1448.0 713.8,1447.7 716.2,1447.5 718.7,1447.3 721.2,1447.1 723.7,1447.0 726.2,1446.9 728.4,1446.9" stroke="#ff8b00" stroke-width="10.0"/>
<path d="M237.8,1883.7l0.3,10.0M242.5,1883.5l0.8,10.0M247.3,1883.0l1.2,9.9M252.0,1882.3l1.6,9.9M256.7,1881.4l2.1,9.8M261.5,1880.3l2.5,9.7M266.2,1879.0l2.9,9.6M271.0,1877.4l3.3,9.4M275.8,1875.7l3.7,9.3M280.5,1873.7l4.0,9.1M285.3,1871.4l4.4,9.0M290.1,1869.0l4.7,8.8M294.9,1866.3l5.0,8.6M299.7,1863.4l5.3,8.5M304.5,1860.2l5.6,8.3M309.3,1856.8l5.9,8.1M314.2,1853.2l6.1,7.9M319.0,1849.4l6.3,7.7M323.9,1845.3l6.5,7.6M328.7,1841.0l6.7,7.4M333.6,1836.5l6.9,7.3M338.5,1831.8l7.0,7.1M343.4,1826.9l7.1,7.0M348.3,1821.8l7.3,6.9M353.2,1816.5l7.4,6.8M358.1,1811.1l7.5,6.6M363.0,1805.5l7.6,6.5M367.9,1799.7l7.6,6.4M372.8,1793.8l7.7,6.4M377.8,1787.8l7.8,6.3M382.7,1781.6l7.9,6.2M387.6,1775.3l7.9,6.1M392.5,1768.9l8.0,6.1M397.5,1762.3l8.0,6.0M402.4,1755.7l8.0,5.9M407.3,1748.9l8.1,5.9M412.3,1742.1l8.1,5.8M417.2,1735.2l8.1,5.8M422.2,1728.2l8.2,5.8M427.1,1721.2l8.2,5.7M432.0,1714.1l8.2,5.7M437.0,1707.0l8.2,5.7M441.9,1699.8l8.2,5.7M446.9,1692.5l8.3,5.6M451.8,1685.3l8.3,5.6M456.8,1678.0l8.3,5.6M461.8,1670.7l8.3,5.6M466.7,1663.4l8.3,5.6M471.7,1656.2l8.3,5.6M476.6,1648.9l8.3,5.6M481.6,1641.6l8.3,5.7M486.5,1634.4l8.2,5.7M491.5,1627.2l8.2,5.7M496.5,1620.1l8.2,5.7M501.4,1612.9l8.2,5.7M506.4,1605.9l8.2,5.8M511.4,1598.9l8.1,5.8M516.3,1592.0l8.1,5.9M521.3,1585.2l8.1,5.9M526.3,1578.4l8.0,6.0M531.3,1571.8l8.0,6.0M536.2,1565.2l7.9,6.1M541.2,1558.8l7.9,6.2M546.2,1552.5l7.8,6.3M551.2,1546.4l7.7,6.4M556.2,1540.4l7.6,6.5M561.2,1534.6l7.5,6.6M566.2,1529.0l7.4,6.7M571.2,1523.6l7.3,6.8M576.3,1518.3l7.2,7.0M581.3,1513.2l7.0,7.1M586.3,1508.3l6.9,7.2M591.3,1503.6l6.7,7.4M596.4,1499.1l6.6,7.5M601.4,1494.8l6.4,7.7M606.4,1490.7l6.3,7.8M611.5,1486.7l6.1,7.9M616.5,1482.9l5.9,8.1M621.6,1479.3l5.7,8.2M626.6,1475.9l5.5,8.3M631.7,1472.6l5.3,8.5M636.8,1469.5l5.1,8.6M641.8,1466.6l4.9,8.7M646.9,1463.8l4.7,8.8M651.9,1461.2l4.5,9.0M657.0,1458.8l4.2,9.1M662.1,1456.5l4.0,9.2M667.2,1454.4l3.7,9.3M672.3,1452.4l3.5,9.4M677.4,1450.6l3.2,9.5M682.5,1449.0l2.9,9.6M687.6,1447.5l2.6,9.7M692.7,1446.2l2.3,9.7M697.8,1445.1l2.0,9.8M702.9,1444.1l1.7,9.9M708.0,1443.4l1.4,9.9M713.1,1442.7l1.0,9.9M718.2,1442.3l0.7,10.0M723.4,1442.0l0.4,10.0" stroke="#7a7a7a" stroke-opacity="0.3" stroke-width="0.9"/>
</g>
<g><path d="M1199.0,2051.8 1199.6,2049.4 1200.3,2047.0 1201.0,2044.6 1201.6,2042.2 1202.3,2039.8 1203.0,2037.4 1203.7,2035.0 1204.3,2032.6 1205.0,2030.2 1205.7,2027.8 1206.4,2025.4 1207.1,2023.0 1207.9,2020.7 1208.6,2018.3 1209.3,2015.9 1210.0,2013.5 1210.8,2011.1 1211.5,2008.7 1212.3,2006.4 1213.0,2004.0 1213.8,2001.6 1214.5,1999.3 1215.3,1996.9 1216.1,1994.5 1216.9,1992.2 1217.7,1989.8 1218.4,1987.4 1219.2,1985.1 1220.0,1982.7 1220.9,1980.4 1221.7,1978.0 1222.5,1975.7 1223.3,1973.3 1224.2,1971.0 1225.0,1968.6 1225.8,1966.3 1226.7,1963.9 1227.5,1961.6 1228.4,1959.2 1229.3,1956.9 1230.1,1954.6 1231.0,1952.2 1231.9,1949.9 1232.8,1947.6 1233.7,1945.2 1234.5,1942.9 1235.4,1940.6 1236.3,1938.2 1237.2,1935.9 1238.1,1933.6 1239.0,1931.3 1240.0,1928.9 1240.9,1926.6 1241.8,1924.3 1242.7,1922.0 1243.6,1919.6 1244.6,1917.3 1245.5,1915.0 1246.4,1912.7 1247.3,1910.4 1248.3,1908.0 1249.2,1905.7 1250.1,1903.4 1251.0,1901.1 1252.0,1898.8 1252.9,1896.4 1253.8,1894.1 1254.8,1891.8 1255.7,1889.5 1256.6,1887.2 1257.5,1884.8 1258.5,1882.5 1259.4,1880.2 1260.3,1877.9 1261.3,1875.6 1262.2,1873.2 1263.1,1870.9 1264.1,1868.6 1265.0,1866.3 1266.0,1864.0 1266.9,1861.7 1267.9,1859.4 1268.8,1857.1 1269.8,1854.8 1270.7,1852.5 1271.7,1850.2 1272.7,1847.9 1273.6,1845.6 1274.6,1843.3 1275.6,1841.0 1276.6,1838.7 1277.6,1836.4 1278.6,1834.1 1279.6,1831.8 1280.6,1829.5 1281.6,1827.3 1282.6,1825.0 1283.6,1822.7 1284.7,1820.5 1285.7,1818.2 1286.8,1816.0 1287.8,1813.7 1288.9,1811.5 1290.0,1809.2 1291.1,1807.0 1292.2,1804.8 1293.3,1802.5 1294.4,1800.3 1295.6,1798.1 1296.8,1795.9 1297.9,1793.8 1299.1,1791.6 1300.3,1789.4 1301.6,1787.3 1302.8,1785.1 1304.1,1783.0 1305.4,1780.9 1306.7,1778.8 1308.1,1776.7 1309.5,1774.7 1310.9,1772.7 1312.4,1770.7 1313.8,1768.7 1315.4,1766.8 1317.0,1764.9 1318.6,1763.1 1320.3,1761.3 1322.0,1759.5 1323.8,1757.8 1325.6,1756.2 1327.5,1754.6 1329.5,1753.1 1331.5,1751.7 1333.6,1750.4 1335.7,1749.2 1337.9,1748.1 1340.2,1747.1 1342.5,1746.3 1344.9,1745.6 1347.3,1745.1 1349.8,1744.7 1352.3,1744.5 1354.8,1744.5 1357.3,1744.6 1359.8,1744.8 1362.3,1745.2 1364.7,1745.7 1367.1,1746.4 1369.5,1747.2 1371.9,1748.0 1374.2,1749.0 1376.5,1750.1 1378.8,1751.2 1381.0,1752.4 1383.2,1753.6 1385.3,1754.9 1387.4,1756.3 1389.5,1757.7 1391.6,1759.2 1393.6,1760.6 1395.6,1762.2 1397.6,1763.7 1399.6,1765.3 1401.5,1766.9 1403.4,1768.5 1405.3,1770.1 1407.2,1771.8 1409.1,1773.5 1410.9,1775.2 1412.8,1776.9 1414.6,1778.6 1416.4,1780.3 1418.3,1782.0 1420.1,1783.8 1421.9,1785.5 1423.6,1787.3 1425.4,1789.0 1427.2,1790.8 1429.0,1792.5 1430.8,1794.3 1432.5,1796.1 1434.3,1797.8 1436.1,1799.6 1437.9,1801.3 1439.6,1803.1 1441.4,1804.9 1443.2,1806.6 1445.0,1808.4 1446.8,1810.1 1448.6,1811.8 1450.3,1813.6 1452.2,1815.3 1454.0,1817.0 1455.8,1818.7 1457.6,1820.4 1459.4,1822.1 1461.2,1823.8 1463.1,1825.5 1464.9,1827.2 1466.8,1828.9 1468.6,1830.6 1470.5,1832.2 1472.4,1833.9 1474.2,1835.5 1476.1,1837.2 1478.0,1838.8 1479.9,1840.4 1481.8,1842.0 1483.7,1843.6 1485.7,1845.2 1487.6,1846.7 1489.6,1848.3 1491.5,1849.8 1493.5,1851.4 1495.5,1852.9 1497.4,1854.4 1499.4,1855.9 1501.5,1857.4 1503.5,1858.8 1505.5,1860.3 1507.6,1861.7 1509.6,1863.1 1511.7,1864.5 1513.8,1865.8 1515.9,1867.2 1518.0,1868.5 1520.1,1869.8 1522.3,1871.0 1524.4,1872.3 1526.6,1873.5 1528.8,1874.7 1531.0,1875.8 1533.2,1876.9 1535.5,1878.0 1537.7,1879.1 1540.0,1880.1 1542.3,1881.1 1544.6,1882.0 1546.9,1882.9 1549.3,1883.8 1551.6,1884.6 1554.0,1885.4 1556.4,1886.1 1558.8,1886.8 1561.2,1887.4 1563.6,1887.9 1566.1,1888.4 1568.5,1888.9 1571.0,1889.3 1573.5,1889.6 1575.9,1889.8 1578.4,1890.0 1580.9,1890.2 1583.4,1890.3 1585.9,1890.3 1586.0,1890.3" stroke="#808080" stroke-width="12.3"/>
<path d="M1199.0,2051.8 1199.6,2049.4 1200.3,2047.0 1201.0,2044.6 1201.6,2042.2 1202.3,2039.8 1203.0,2037.4 1203.7,2035.0 1204.3,2032.6 1205.0,2030.2 1205.7,2027.8 1206.4,2025.4 1207.1,2023.0 1207.9,2020.7 1208.6,2018.3 1209.3,2015.9 1210.0,2013.5 1210.8,2011.1 1211.5,2008.7 1212.3,2006.4 1213.0,2004.0 1213.8,2001.6 1214.5,1999.3 1215.3,1996.9 1216.1,1994.5 1216.9,1992.2 1217.7,1989.8 1218.4,1987.4 1219.2,1985.1 1220.0,1982.7 1220.9,1980.4 1221.7,1978.0 1222.5,1975.7 1223.3,1973.3 1224.2,1971.0 1225.0,1968.6 1225.8,1966.3 1226.7,1963.9 1227.5,1961.6 1228.4,1959.2 1229.3,1956.9 1230.1,1954.6 1231.0,1952.2 1231.9,1949.9 1232.8,1947.6 1233.7,1945.2 1234.5,1942.9 1235.4,1940.6 1236.3,1938.2 1237.2,1935.9 1238.1,1933.6 1239.0,1931.3 1240.0,1928.9 1240.9,1926.6 1241.8,1924.3 1242.7,1922.0 1243.6,1919.6 1244.6,1917.3 1245.5,1915.0 1246.4,1912.7 1247.3,1910.4 1248.3,1908.0 1249.2,1905.7 1250.1,1903.4 1251.0,1901.1 1252.0,1898.8 1252.9,1896.4 1253.8,1894.1 1254.8,1891.8 1255.7,1889.5 1256.6,1887.2 1257.5,1884.8 1258.5,1882.5 1259.4,1880.2 1260.3,1877.9 1261.3,1875.6 1262.2,1873.2 1263.1,1870.9 1264.1,1868.6 1265.0,1866.3 1266.0,1864.0 1266.9,1861.7 1267.9,1859.4 1268.8,1857.1 1269.8,1854.8 1270.7,1852.5 1271.7,1850.2 1272.7,1847.9 1273.6,1845.6 1274.6,1843.3 1275.6,1841.0 1276.6,1838.7 1277.6,1836.4 1278.6,1834.1 1279.6,1831.8 1280.6,1829.5 1281.6,1827.3 1282.6,1825.0 1283.6,1822.7 1284.7,1820.5 1285.7,1818.2 1286.8,1816.0 1287.8,1813.7 1288.9,1811.5 1290.0,1809.2 1291.1,1807.0 1292.2,1804.8 1293.3,1802.5 1294.4,1800.3 1295.6,1798.1 1296.8,1795.9 1297.9,1793.8 1299.1,1791.6 1300.3,1789.4 1301.6,1787.3 1302.8,1785.1 1304.1,1783.0 1305.4,1780.9 1306.7,1778.8 1308.1,1776.7 1309.5,1774.7 1310.9,1772.7 1312.4,1770.7 1313.8,1768.7 1315.4,1766.8 1317.0,1764.9 1318.6,1763.1 1320.3,1761.3 1322.0,1759.5 1323.8,1757.8 1325.6,1756.2 1327.5,1754.6 1329.5,1753.1 1331.5,1751.7 1333.6,1750.4 1335.7,1749.2 1337.9,1748.1 1340.2,1747.1 1342.5,1746.3 1344.9,1745.6 1347.3,1745.1 1349.8,1744.7 1352.3,1744.5 1354.8,1744.5 1357.3,1744.6 1359.8,1744.8" stroke="#61ff96" stroke-width="10.0"/>
<path d="M1359.8,1744.8 1362.3,1745.2 1364.7,1745.7 1367.1,1746.4 1369.5,1747.2" stroke="#5cff9b" stroke-width="10.0"/>
<path d="M1369.5,1747.2 1371.9,1748.0 1374.2,1749.0 1376.5,1750.1" stroke="#56ffa1" stroke-width="10.0"/>
<path d="M1376.5,1750.1 1378.8,1751.2 1381.0,1752.4 1383.2,1753.6 1385.3,1754.9 1387.4,1756.3" stroke="#50ffa6" stroke-width="10.0"/>
<path d="M1387.4,1756.3 1389.5,1757.7 1391.6,1759.2 1393.6,1760.6" stroke="#4bffac" stroke-width="10.0"/>
<path d="M1393.6,1760.6 1395.6,1762.2 1397.6,1763.7 1399.6,1765.3 1401.5,1766.9" stroke="#45ffb2" stroke-width="10.0"/>
<path d="M1401.5,1766.9 1403.4,1768.5 1405.3,1770.1 1407.2,1771.8" stroke="#3fffb7" stroke-width="10.0"/>
<path d="M1407.2,1771.8 1409.1,1773.5 1410.9,1775.2 1412.8,1776.9 1414.6,1778.6" stroke="#3affbd" stroke-width="10.0"/>
<path d="M1414.6,1778.6 1416.4,1780.3 1418.3,1782.0 1420.1,1783.8" stroke="#34ffc3" stroke-width="10.0"/>
<path d="M1420.1,1783.8 1421.9,1785.5 1423.6,1787.3 1425.4,1789.0 1427.2,1790.8" stroke="#2fffc8" stroke-width="10.0"/>
<path d="M1427.2,1790.8 1429.0,1792.5 1430.8,1794.3 1432.5,1796.1 1434.3,1797.8 1436.1,1799.6" stroke="#29ffce" stroke-width="10.0"/>
<path d="M1436.1,1799.6 1437.9,1801.3 1439.6,1803.1 1441.4,1804.9 1443.2,1806.6 1445.0,1808.4 1446.8,1810.1" stroke="#23ffd3" stroke-width="10.0"/>
<path d="M1446.8,1810.1 1448.6,1811.8 1450.3,1813.6 1452.2,1815.3 1454.0,1817.0 1455.8,1818.7" stroke="#1effd9" stroke-width="10.0"/>
<path d="M1455.8,1818.7 1457.6,1820.4 1459.4,1822.1 1461.2,1823.8 1463.1,1825.5 1464.9,1827.2 1466.8,1828.9" stroke="#18ffdf" stroke-width="10.0"/>
<path d="M1466.8,1828.9 1468.6,1830.6 1470.5,1832.2 1472.4,1833.9 1474.2,1835.5 1476.1,1837.2" stroke="#12fce4" stroke-width="10.0"/>
<path d="M1476.1,1837.2 1478.0,1838.8 1479.9,1840.4 1481.8,1842.0 1483.7,1843.6 1485.7,1845.2 1487.6,1846.7" stroke="#0df5ea" stroke-width="10.0"/>
<path d="M1487.6,1846.7 1489.6,1848.3 1491.5,1849.8 1493.5,1851.4 1495.5,1852.9 1497.4,1854.4" stroke="#07eef0" stroke-width="10.0"/>
<path d="M1497.4,1854.4 1499.4,1855.9 1501.5,1857.4 1503.5,1858.8 1505.5,1860.3 1507.6,1861.7 1509.6,1863.1" stroke="#02e7f5" stroke-width="10.0"/>
<path d="M1509.6,1863.1 1511.7,1864.5 1513.8,1865.8 1515.9,1867.2 1518.0,1868.5 1520.1,1869.8 1522.3,1871.0 1524.4,1872.3 1526.6,1873.5 1528.8,1874.7 1531.0,1875.8 1533.2,1876.9" stroke="#00e0fb" stroke-width="10.0"/>
<path d="M1533.2,1876.9 1535.5,1878.0 1537.7,1879.1 1540.0,1880.1 1542.3,1881.1 1544.6,1882.0 1546.9,1882.9 1549.3,1883.8 1551.6,1884.6 1554.0,1885.4 1556.4,1886.1 1558.8,1886.8 1561.2,1887.4 1563.6,1887.9 1566.1,1888.4 1568.5,1888.9" stroke="#00d9ff" stroke-width="10.0"/>
<path d="M1568.5,1888.9 1571.0,1889.3 1573.5,1889.6 1575.9,1889.8 1578.4,1890.0 1580.9,1890.2 1583.4,1890.3 1585.9,1890.3 1586.0,1890.3" stroke="#00d2ff" stroke-width="10.0"/>
<path d="M1198.3,2035.6l9.6,2.7M1204.0,2016.0l9.6,2.9M1209.8,1997.7l9.5,3.1M1215.5,1980.5l9.5,3.2M1221.3,1964.2l9.4,3.4M1227.0,1948.7l9.4,3.5M1232.7,1933.7l9.3,3.6M1238.5,1919.1l9.3,3.7M1244.2,1904.8l9.3,3.7M1249.9,1890.5l9.3,3.7M1255.6,1876.2l9.3,3.7M1261.3,1862.1l9.3,3.8M1267.1,1848.3l9.2,3.9M1272.8,1834.8l9.2,4.0M1278.6,1821.8l9.1,4.1M1284.3,1809.5l9.0,4.3M1290.1,1797.9l8.9,4.6M1295.9,1787.1l8.7,4.9M1301.7,1777.3l8.4,5.4M1307.6,1768.6l8.1,5.9M1313.6,1761.1l7.5,6.6M1319.7,1754.8l6.9,7.3M1325.8,1749.6l6.0,8.0M1332.1,1745.5l4.9,8.7M1338.4,1742.5l3.6,9.3M1344.9,1740.5l2.2,9.8M1351.3,1739.6l0.7,10.0M1357.8,1739.6l-0.7,10.0M1364.1,1740.5l-2.0,9.8M1370.4,1742.2l-3.1,9.5M1376.6,1744.6l-4.1,9.1M1382.7,1747.6l-4.8,8.8M1388.7,1751.1l-5.4,8.4M1394.6,1755.2l-5.8,8.1M1400.5,1759.6l-6.2,7.9M1406.4,1764.4l-6.5,7.6M1412.2,1769.5l-6.7,7.4M1418.0,1774.9l-6.8,7.3M1423.7,1780.4l-7.0,7.2M1429.5,1786.0l-7.0,7.1M1435.2,1791.7l-7.1,7.1M1440.9,1797.4l-7.0,7.1M1446.6,1803.0l-7.0,7.1M1452.3,1808.5l-6.9,7.2M1458.0,1814.0l-6.9,7.3M1463.7,1819.3l-6.8,7.3M1469.3,1824.5l-6.7,7.4M1475.0,1829.6l-6.6,7.5M1480.7,1834.5l-6.5,7.6M1486.3,1839.2l-6.4,7.7M1492.0,1843.8l-6.2,7.8M1497.6,1848.2l-6.1,7.9M1503.2,1852.5l-5.9,8.1M1508.8,1856.5l-5.7,8.2M1514.5,1860.3l-5.5,8.4M1520.0,1863.9l-5.3,8.5M1525.6,1867.2l-5.0,8.7M1531.2,1870.3l-4.7,8.8M1536.7,1873.1l-4.4,9.0M1542.3,1875.6l-4.0,9.2M1547.8,1877.9l-3.6,9.3M1553.3,1879.9l-3.2,9.5M1558.8,1881.6l-2.7,9.6M1564.2,1883.0l-2.2,9.8M1569.7,1884.0l-1.6,9.9M1575.1,1884.7l-1.1,9.9M1580.5,1885.2l-0.5,10.0" stroke="#7a7a7a" stroke-opacity="0.3" stroke-width="0.9"/>
</g>
<g><path d="M233.0,1531.6 235.5,1531.7 238.0,1531.9 240.5,1532.2 243.0,1532.6 245.4,1533.1 247.9,1533.7 250.3,1534.4 252.7,1535.2 255.0,1536.1 257.4,1537.0 259.7,1538.0 261.9,1539.1 264.2,1540.3 266.4,1541.5 268.5,1542.8 270.7,1544.1 272.8,1545.5 274.9,1546.9 276.9,1548.3 279.0,1549.8 281.0,1551.3 282.9,1552.9 284.9,1554.5 286.8,1556.1 288.7,1557.8 290.6,1559.5 292.4,1561.2 294.2,1562.9 296.0,1564.7 297.8,1566.4 299.6,1568.2 301.3,1570.0 303.1,1571.9 304.8,1573.7 306.5,1575.6 308.1,1577.4 309.8,1579.3 311.4,1581.2 313.1,1583.1 314.7,1585.1 316.3,1587.0 317.9,1588.9 319.4,1590.9 321.0,1592.9 322.5,1594.8 324.1,1596.8 325.6,1598.8 327.1,1600.8 328.6,1602.8 330.1,1604.9 331.6,1606.9 333.0,1608.9 334.5,1611.0 336.0,1613.0 337.4,1615.1 338.8,1617.1 340.2,1619.2 341.7,1621.2 343.1,1623.3 344.5,1625.4 345.9,1627.5 347.2,1629.6 348.6,1631.7 350.0,1633.8 351.3,1635.9 352.7,1638.0 354.0,1640.1 355.4,1642.2 356.7,1644.3 358.1,1646.5 359.4,1648.6 360.7,1650.7 362.0,1652.8 363.3,1655.0 364.6,1657.1 365.9,1659.3 367.2,1661.4 368.5,1663.6 369.8,1665.7 371.1,1667.9 372.3,1670.0 373.6,1672.2 374.9,1674.3 376.1,1676.5 377.4,1678.7 378.7,1680.8 379.9,1683.0 381.1,1685.2 382.4,1687.3 383.6,1689.5 384.9,1691.7 386.1,1693.9 387.3,1696.0 388.6,1698.2 389.8,1700.4 391.0,1702.6 392.2,1704.8 393.5,1707.0 394.7,1709.2 395.9,1711.3 397.1,1713.5 398.3,1715.7 399.5,1717.9 400.7,1720.1 401.9,1722.3 403.1,1724.5 404.3,1726.7 405.5,1728.9 406.7,1731.1 407.9,1733.3 409.1,1735.5 410.3,1737.7 411.5,1739.9 412.7,1742.1 413.8,1744.3 415.0,1746.5 416.2,1748.7 417.4,1750.9 418.6,1753.1 419.8,1755.3 420.9,1757.5 422.1,1759.7 423.3,1761.9 424.5,1764.1 425.7,1766.3 426.8,1768.5 428.0,1770.7 429.2,1772.9 430.4,1775.1 431.6,1777.4 432.7,1779.6 433.9,1781.8 435.1,1784.0 436.3,1786.2 437.4,1788.4 438.6,1790.6 439.8,1792.8 441.0,1795.0 442.2,1797.2 443.3,1799.4 444.5,1801.6 445.7,1803.8 446.9,1806.0 448.1,1808.2 449.2,1810.4 450.4,1812.6 451.6,1814.8 452.8,1817.0 454.0,1819.2 455.2,1821.4 456.4,1823.6 457.5,1825.8 458.7,1828.0 459.9,1830.2 461.1,1832.4 462.3,1834.6 463.5,1836.8 464.7,1839.0 465.9,1841.2 467.1,1843.3 468.3,1845.5 469.5,1847.7 470.7,1849.9 472.0,1852.1 473.2,1854.3 474.4,1856.5 475.6,1858.6 476.8,1860.8 478.1,1863.0 479.3,1865.2 480.5,1867.3 481.8,1869.5 483.0,1871.7 484.2,1873.8 485.5,1876.0 486.7,1878.2 488.0,1880.3 489.2,1882.5 490.5,1884.6 491.7,1886.8 493.0,1889.0 494.3,1891.1 495.5,1893.3 496.8,1895.4 498.1,1897.5 499.4,1899.7 500.7,1901.8 502.0,1904.0 503.2,1906.1 504.5,1908.2 505.9,1910.4 507.2,1912.5 508.5,1914.6 509.8,1916.7 511.1,1918.8 512.4,1920.9 513.8,1923.1 515.1,1925.2 516.4,1927.3 517.8,1929.4 519.1,1931.5 520.5,1933.6 521.9,1935.7 523.2,1937.7 524.6,1939.8 526.0,1941.9 527.4,1944.0 528.8,1946.0 530.2,1948.1 531.6,1950.2 533.0,1952.2 534.4,1954.3 535.8,1956.3 537.2,1958.4 538.7,1960.4 540.1,1962.5 541.6,1964.5 543.0,1966.5 544.5,1968.5 546.0,1970.5 547.4,1972.5 548.9,1974.5 550.4,1976.5 551.9,1978.5 553.4,1980.5 555.0,1982.5 556.5,1984.5 558.0,1986.4 559.6,1988.4 561.1,1990.3 562.7,1992.3 564.3,1994.2 565.9,1996.1 567.5,1998.0 569.1,1999.9 570.7,2001.8 572.3,2003.7 574.0,2005.6 575.6,2007.4 577.3,2009.3 578.9,2011.1 580.6,2013.0 582.3,2014.8 584.1,2016.6 585.8,2018.4 587.5,2020.2 589.3,2021.9 591.0,2023.7 592.8,2025.4 594.6,2027.1 596.4,2028.8 598.3,2030.5 600.1,2032.2 602.0,2033.9 603.9,2035.5 605.8,2037.1 607.7,2038.7 609.6,2040.3 611.6,2041.8 612.0,2042.1" stroke="#808080" stroke-width="12.3"/>
<path d="M233.0,1531.6 235.5,1531.7 238.0,1531.9 240.5,1532.2 243.0,1532.6 245.4,1533.1 247.9,1533.7 250.3,1534.4 252.7,1535.2 255.0,1536.1 257.4,1537.0 259.7,1538.0 261.9,1539.1 264.2,1540.3 266.4,1541.5 268.5,1542.8 270.7,1544.1 272.8,1545.5 274.9,1546.9 276.9,1548.3 279.0,1549.8 281.0,1551.3 282.9,1552.9 284.9,1554.5 286.8,1556.1 288.7,1557.8 290.6,1559.5 292.4,1561.2 294.2,1562.9 296.0,1564.7 297.8,1566.4 299.6,1568.2 301.3,1570.0 303.1,1571.9 304.8,1573.7 306.5,1575.6 308.1,1577.4 309.8,1579.3 311.4,1581.2 313.1,1583.1 314.7,1585.1 316.3,1587.0 317.9,1588.9 319.4,1590.9 321.0,1592.9 322.5,1594.8 324.1,1596.8 325.6,1598.8 327.1,1600.8 328.6,1602.8" stroke="#56ffa1" stroke-width="10.0"/>
<path d="M328.6,1602.8 330.1,1604.9 331.6,1606.9 333.0,1608.9 334.5,1611.0 336.0,1613.0 337.4,1615.1 338.8,1617.1 340.2,1619.2 341.7,1621.2 343.1,1623.3 344.5,1625.4 345.9,1627.5 347.2,1629.6 348.6,1631.7 350.0,1633.8 351.3,1635.9 352.7,1638.0 354.0,1640.1 355.4,1642.2 356.7,1644.3 358.1,1646.5 359.4,1648.6 360.7,1650.7 362.0,1652.8 363.3,1655.0 364.6,1657.1 365.9,1659.3 367.2,1661.4 368.5,1663.6 369.8,1665.7 371.1,1667.9 372.3,1670.0 373.6,1672.2 374.9,1674.3 376.1,1676.5 377.4,1678.7 378.7,1680.8 379.9,1683.0 381.1,1685.2 382.4,1687.3 383.6,1689.5 384.9,1691.7 386.1,1693.9 387.3,1696.0 388.6,1698.2 389.8,1700.4 391.0,1702.6 392.2,1704.8 393.5,1707.0 394.7,1709.2 395.9,1711.3 397.1,1713.5 398.3,1715.7 399.5,1717.9 400.7,1720.1 401.9,1722.3 403.1,1724.5 404.3,1726.7 405.5,1728.9 406.7,1731.1 407.9,1733.3 409.1,1735.5 410.3,1737.7 411.5,1739.9 412.7,1742.1 413.8,1744.3 415.0,1746.5 416.2,1748.7 417.4,1750.9 418.6,1753.1 419.8,1755.3 420.9,1757.5 422.1,1759.7 423.3,1761.9 424.5,1764.1 425.7,1766.3 426.8,1768.5 428.0,1770.7 429.2,1772.9 430.4,1775.1 431.6,1777.4 432.7,1779.6 433.9,1781.8 435.1,1784.0 436.3,1786.2 437.4,1788.4 438.6,1790.6 439.8,1792.8 441.0,1795.0 442.2,1797.2 443.3,1799.4 444.5,1801.6 445.7,1803.8 446.9,1806.0 448.1,1808.2 449.2,1810.4 450.4,1812.6 451.6,1814.8 452.8,1817.0 454.0,1819.2 455.2,1821.4 456.4,1823.6 457.5,1825.8 458.7,1828.0 459.9,1830.2 461.1,1832.4 462.3,1834.6 463.5,1836.8 464.7,1839.0 465.9,1841.2 467.1,1843.3 468.3,1845.5 469.5,1847.7 470.7,1849.9 472.0,1852.1 473.2,1854.3 474.4,1856.5 475.6,1858.6 476.8,1860.8 478.1,1863.0 479.3,1865.2 480.5,1867.3 481.8,1869.5 483.0,1871.7 484.2,1873.8 485.5,1876.0 486.7,1878.2 488.0,1880.3 489.2,1882.5 490.5,1884.6 491.7,1886.8 493.0,1889.0 494.3,1891.1 495.5,1893.3 496.8,1895.4 498.1,1897.5 499.4,1899.7 500.7,1901.8 502.0,1904.0 503.2,1906.1 504.5,1908.2 505.9,1910.4 507.2,1912.5 508.5,1914.6 509.8,1916.7 511.1,1918.8 512.4,1920.9 513.8,1923.1 515.1,1925.2 516.4,1927.3 517.8,1929.4" stroke="#5cff9b" stroke-width="10.0"/>
<path d="M517.8,1929.4 519.1,1931.5 520.5,1933.6 521.9,1935.7 523.2,1937.7 524.6,1939.8 526.0,1941.9 527.4,1944.0 528.8,1946.0 530.2,1948.1 531.6,1950.2 533.0,1952.2 534.4,1954.3 535.8,1956.3 537.2,1958.4 538.7,1960.4 540.1,1962.5 541.6,1964.5 543.0,1966.5 544.5,1968.5 546.0,1970.5 547.4,1972.5 548.9,1974.5 550.4,1976.5 551.9,1978.5 553.4,1980.5 555.0,1982.5 556.5,1984.5 558.0,1986.4 559.6,1988.4 561.1,1990.3 562.7,1992.3 564.3,1994.2 565.9,1996.1 567.5,1998.0 569.1,1999.9 570.7,2001.8 572.3,2003.7 574.0,2005.6 575.6,2007.4 577.3,2009.3 578.9,2011.1 580.6,2013.0 582.3,2014.8 584.1,2016.6 585.8,2018.4 587.5,2020.2 589.3,2021.9 591.0,2023.7 592.8,2025.4 594.6,2027.1 596.4,2028.8 598.3,2030.5 600.1,2032.2 602.0,2033.9 603.9,2035.5 605.8,2037.1 607.7,2038.7 609.6,2040.3 611.6,2041.8 612.0,2042.1" stroke="#61ff96" stroke-width="10.0"/>
<path d="M238.4,1526.9l-1.0,10.0M243.8,1527.7l-1.8,9.8M249.2,1528.9l-2.6,9.7M254.5,1530.5l-3.3,9.4M259.8,1532.6l-4.0,9.2M265.0,1535.1l-4.5,8.9M270.2,1537.9l-5.1,8.6M275.4,1541.2l-5.5,8.3M280.5,1544.8l-5.9,8.1M285.7,1548.7l-6.3,7.8M290.8,1553.0l-6.6,7.5M295.9,1557.6l-6.8,7.3M300.9,1562.5l-7.1,7.1M306.0,1567.7l-7.3,6.9M311.1,1573.2l-7.5,6.7M316.1,1579.0l-7.6,6.5M321.1,1585.0l-7.8,6.3M326.1,1591.3l-7.9,6.1M331.1,1597.9l-8.0,6.0M336.2,1604.7l-8.1,5.9M341.2,1611.7l-8.2,5.7M346.1,1619.0l-8.3,5.6M351.1,1626.4l-8.3,5.5M356.1,1634.1l-8.4,5.4M361.1,1641.9l-8.5,5.3M366.1,1649.9l-8.5,5.2M371.1,1658.1l-8.6,5.2M376.0,1666.5l-8.6,5.1M381.0,1674.9l-8.6,5.0M386.0,1683.6l-8.7,5.0M391.0,1692.3l-8.7,4.9M395.9,1701.1l-8.7,4.9M400.9,1710.1l-8.8,4.8M405.9,1719.1l-8.8,4.8M410.8,1728.2l-8.8,4.8M415.8,1737.3l-8.8,4.8M420.7,1746.6l-8.8,4.7M425.7,1755.8l-8.8,4.7M430.7,1765.1l-8.8,4.7M435.6,1774.3l-8.8,4.7M440.6,1783.6l-8.8,4.7M445.5,1792.9l-8.8,4.7M450.5,1802.1l-8.8,4.7M455.4,1811.4l-8.8,4.7M460.4,1820.5l-8.8,4.8M465.3,1829.6l-8.8,4.8M470.3,1838.7l-8.8,4.8M475.2,1847.6l-8.7,4.8M480.2,1856.5l-8.7,4.9M485.1,1865.3l-8.7,4.9M490.0,1873.9l-8.7,5.0M495.0,1882.4l-8.6,5.0M499.9,1890.8l-8.6,5.1M504.9,1899.1l-8.6,5.2M509.8,1907.2l-8.5,5.2M514.7,1915.2l-8.5,5.3M519.7,1923.0l-8.4,5.4M524.6,1930.7l-8.4,5.4M529.5,1938.2l-8.3,5.5M534.4,1945.5l-8.3,5.6M539.4,1952.7l-8.2,5.7M544.3,1959.7l-8.1,5.8M549.2,1966.5l-8.1,5.9M554.1,1973.1l-8.0,6.0M559.0,1979.6l-7.9,6.1M563.9,1985.8l-7.8,6.2M568.8,1991.9l-7.7,6.4M573.7,1997.7l-7.6,6.5M578.6,2003.3l-7.5,6.6M583.5,2008.7l-7.4,6.8M588.4,2013.9l-7.2,6.9M593.3,2018.9l-7.0,7.1M598.2,2023.6l-6.9,7.3M603.0,2028.1l-6.7,7.4M607.9,2032.3l-6.5,7.6M612.7,2036.3l-6.3,7.8" stroke="#7a7a7a" stroke-opacity="0.3" stroke-width="0.9"/>
</g>
<g><path d="M1342.5,2049.4 1343.2,2047.1 1344.0,2044.7 1344.7,2042.3 1345.4,2039.9 1346.1,2037.5 1346.9,2035.1 1347.6,2032.7 1348.3,2030.3 1349.1,2027.9 1349.8,2025.6 1350.5,2023.2 1351.3,2020.8 1352.0,2018.4 1352.7,2016.0 1353.5,2013.6 1354.2,2011.2 1355.0,2008.8 1355.7,2006.5 1356.4,2004.1 1357.2,2001.7 1357.9,1999.3 1358.7,1996.9 1359.4,1994.5 1360.2,1992.1 1360.9,1989.8 1361.6,1987.4 1362.4,1985.0 1363.1,1982.6 1363.9,1980.2 1364.6,1977.8 1365.4,1975.4 1366.1,1973.0 1366.8,1970.7 1367.6,1968.3 1368.3,1965.9 1369.1,1963.5 1369.8,1961.1 1370.5,1958.7 1371.3,1956.3 1372.0,1953.9 1372.8,1951.5 1373.5,1949.2 1374.2,1946.8 1375.0,1944.4 1375.7,1942.0 1376.4,1939.6 1377.2,1937.2 1377.9,1934.8 1378.6,1932.4 1379.4,1930.0 1380.1,1927.6 1380.8,1925.2 1381.6,1922.8 1382.3,1920.4 1383.0,1918.1 1383.7,1915.7 1384.5,1913.3 1385.2,1910.9 1385.9,1908.5 1386.6,1906.1 1387.3,1903.7 1388.1,1901.3 1388.8,1898.9 1389.5,1896.5 1390.2,1894.1 1390.9,1891.7 1391.7,1889.3 1392.4,1886.9 1393.1,1884.5 1393.8,1882.1 1394.5,1879.7 1395.2,1877.3 1396.0,1874.9 1396.7,1872.6 1397.4,1870.2 1398.1,1867.8 1398.8,1865.4 1399.6,1863.0 1400.3,1860.6 1401.0,1858.2 1401.7,1855.8 1402.4,1853.4 1403.2,1851.0 1403.9,1848.6 1404.6,1846.2 1405.3,1843.8 1406.1,1841.4 1406.8,1839.1 1407.5,1836.7 1408.2,1834.3 1409.0,1831.9 1409.7,1829.5 1410.4,1827.1 1411.2,1824.7 1411.9,1822.3 1412.6,1820.0 1413.4,1817.6 1414.1,1815.2 1414.9,1812.8 1415.6,1810.4 1416.4,1808.0 1417.1,1805.7 1417.9,1803.3 1418.6,1800.9 1419.4,1798.5 1420.1,1796.1 1420.9,1793.7 1421.6,1791.4 1422.4,1789.0 1423.1,1786.6 1423.9,1784.2 1424.7,1781.9 1425.4,1779.5 1426.2,1777.1 1427.0,1774.7 1427.8,1772.4 1428.5,1770.0 1429.3,1767.6 1430.1,1765.2 1430.9,1762.9 1431.7,1760.5 1432.5,1758.1 1433.3,1755.8 1434.1,1753.4 1434.9,1751.0 1435.7,1748.7 1436.5,1746.3 1437.3,1744.0 1438.1,1741.6 1438.9,1739.2 1439.7,1736.9 1440.5,1734.5 1441.3,1732.2 1442.2,1729.8 1443.0,1727.5 1443.8,1725.1 1444.7,1722.8 1445.5,1720.4 1446.4,1718.1 1447.2,1715.7 1448.1,1713.4 1448.9,1711.0 1449.8,1708.7 1450.7,1706.4 1451.5,1704.0 1452.4,1701.7 1453.3,1699.4 1454.2,1697.0 1455.1,1694.7 1456.0,1692.4 1456.9,1690.1 1457.8,1687.7 1458.7,1685.4 1459.6,1683.1 1460.5,1680.8 1461.4,1678.5 1462.4,1676.2 1463.3,1673.9 1464.3,1671.6 1465.2,1669.3 1466.2,1667.0 1467.2,1664.7 1468.1,1662.4 1469.1,1660.1 1470.1,1657.8 1471.1,1655.5 1472.1,1653.2 1473.1,1651.0 1474.2,1648.7 1475.2,1646.4 1476.2,1644.2 1477.3,1641.9 1478.3,1639.7 1479.4,1637.4 1480.5,1635.2 1481.6,1632.9 1482.7,1630.7 1483.8,1628.5 1484.9,1626.2 1486.0,1624.0 1487.1,1621.8 1488.3,1619.6 1489.5,1617.4 1490.6,1615.2 1491.8,1613.0 1493.0,1610.8 1494.2,1608.7 1495.4,1606.5 1496.7,1604.3 1497.9,1602.2 1499.2,1600.0 1500.4,1597.9 1501.7,1595.8 1503.0,1593.7 1504.3,1591.5 1505.7,1589.5 1507.0,1587.4 1508.4,1585.3 1509.8,1583.2 1511.2,1581.2 1512.6,1579.1 1514.1,1577.1 1515.5,1575.1 1517.0,1573.1 1518.5,1571.2 1520.0,1569.2 1521.6,1567.3 1523.2,1565.3 1524.8,1563.4 1526.4,1561.6 1528.0,1559.7 1529.7,1557.9 1531.4,1556.1 1533.1,1554.3 1534.9,1552.6 1536.7,1550.9 1538.5,1549.2 1540.4,1547.6 1542.3,1546.0 1544.2,1544.4 1546.2,1542.9 1548.2,1541.4 1550.2,1540.0 1552.3,1538.7 1554.4,1537.4 1556.6,1536.2 1558.8,1535.0 1561.0,1534.0 1563.3,1533.0 1565.6,1532.0 1567.9,1531.2 1570.3,1530.5 1572.7,1529.9 1575.1,1529.4 1577.6,1529.0 1580.1,1528.7 1582.5,1528.5 1585.0,1528.4 1586.0,1528.4" stroke="#808080" stroke-width="12.3"/>
<path d="M1342.5,2049.4 1343.2,2047.1 1344.0,2044.7 1344.7,2042.3 1345.4,2039.9 1346.1,2037.5 1346.9,2035.1 1347.6,2032.7 1348.3,2030.3 1349.1,2027.9 1349.8,2025.6 1350.5,2023.2 1351.3,2020.8 1352.0,2018.4 1352.7,2016.0 1353.5,2013.6 1354.2,2011.2 1355.0,2008.8 1355.7,2006.5 1356.4,2004.1 1357.2,2001.7 1357.9,1999.3 1358.7,1996.9 1359.4,1994.5 1360.2,1992.1 1360.9,1989.8 1361.6,1987.4 1362.4,1985.0 1363.1,1982.6 1363.9,1980.2 1364.6,1977.8 1365.4,1975.4 1366.1,1973.0 1366.8,1970.7 1367.6,1968.3 1368.3,1965.9 1369.1,1963.5 1369.8,1961.1 1370.5,1958.7 1371.3,1956.3 1372.0,1953.9 1372.8,1951.5 1373.5,1949.2 1374.2,1946.8 1375.0,1944.4 1375.7,1942.0 1376.4,1939.6 1377.2,1937.2 1377.9,1934.8 1378.6,1932.4 1379.4,1930.0 1380.1,1927.6 1380.8,1925.2 1381.6,1922.8 1382.3,1920.4" stroke="#78ff7f" stroke-width="10.0"/>
<path d="M1382.3,1920.4 1383.0,1918.1 1383.7,1915.7 1384.5,1913.3 1385.2,1910.9 1385.9,1908.5 1386.6,1906.1 1387.3,1903.7 1388.1,1901.3 1388.8,1898.9 1389.5,1896.5 1390.2,1894.1 1390.9,1891.7 1391.7,1889.3 1392.4,1886.9 1393.1,1884.5 1393.8,1882.1 1394.5,1879.7 1395.2,1877.3 1396.0,1874.9 1396.7,1872.6 1397.4,1870.2 1398.1,1867.8 1398.8,1865.4 1399.6,1863.0 1400.3,1860.6 1401.0,1858.2 1401.7,1855.8 1402.4,1853.4 1403.2,1851.0 1403.9,1848.6 1404.6,1846.2 1405.3,1843.8 1406.1,1841.4 1406.8,1839.1 1407.5,1836.7 1408.2,1834.3 1409.0,1831.9 1409.7,1829.5 1410.4,1827.1 1411.2,1824.7 1411.9,1822.3 1412.6,1820.0 1413.4,1817.6 1414.1,1815.2 1414.9,1812.8 1415.6,1810.4 1416.4,1808.0 1417.1,1805.7 1417.9,1803.3 1418.6,1800.9 1419.4,1798.5 1420.1,1796.1 1420.9,1793.7 1421.6,1791.4 1422.4,1789.0 1423.1,1786.6 1423.9,1784.2 1424.7,1781.9 1425.4,1779.5 1426.2,1777.1 1427.0,1774.7 1427.8,1772.4 1428.5,1770.0 1429.3,1767.6 1430.1,1765.2 1430.9,1762.9 1431.7,1760.5 1432.5,1758.1 1433.3,1755.8 1434.1,1753.4 1434.9,1751.0 1435.7,1748.7 1436.5,1746.3 1437.3,1744.0 1438.1,1741.6 1438.9,1739.2 1439.7,1736.9 1440.5,1734.5 1441.3,1732.2 1442.2,1729.8 1443.0,1727.5 1443.8,1725.1 1444.7,1722.8 1445.5,1720.4 1446.4,1718.1 1447.2,1715.7 1448.1,1713.4 1448.9,1711.0 1449.8,1708.7 1450.7,1706.4 1451.5,1704.0 1452.4,1701.7 1453.3,1699.4 1454.2,1697.0 1455.1,1694.7 1456.0,1692.4 1456.9,1690.1 1457.8,1687.7 1458.7,1685.4 1459.6,1683.1 1460.5,1680.8 1461.4,1678.5" stroke="#72ff85" stroke-width="10.0"/>
<path d="M1461.4,1678.5 1462.4,1676.2 1463.3,1673.9 1464.3,1671.6 1465.2,1669.3 1466.2,1667.0 1467.2,1664.7 1468.1,1662.4 1469.1,1660.1 1470.1,1657.8 1471.1,1655.5 1472.1,1653.2 1473.1,1651.0 1474.2,1648.7 1475.2,1646.4 1476.2,1644.2 1477.3,1641.9 1478.3,1639.7 1479.4,1637.4 1480.5,1635.2 1481.6,1632.9 1482.7,1630.7 1483.8,1628.5 1484.9,1626.2 1486.0,1624.0 1487.1,1621.8 1488.3,1619.6 1489.5,1617.4 1490.6,1615.2 1491.8,1613.0 1493.0,1610.8 1494.2,1608.7 1495.4,1606.5 1496.7,1604.3 1497.9,1602.2 1499.2,1600.0 1500.4,1597.9 1501.7,1595.8 1503.0,1593.7 1504.3,1591.5 1505.7,1589.5 1507.0,1587.4 1508.4,1585.3 1509.8,1583.2 1511.2,1581.2" stroke="#6cff8a" stroke-width="10.0"/>
<path d="M1511.2,1581.2 1512.6,1579.1 1514.1,1577.1 1515.5,1575.1 1517.0,1573.1 1518.5,1571.2 1520.0,1569.2 1521.6,1567.3 1523.2,1565.3 1524.8,1563.4 1526.4,1561.6 1528.0,1559.7 1529.7,1557.9 1531.4,1556.1 1533.1,1554.3" stroke="#67ff90" stroke-width="10.0"/>
<path d="M1533.1,1554.3 1534.9,1552.6 1536.7,1550.9 1538.5,1549.2 1540.4,1547.6 1542.3,1546.0 1544.2,1544.4 1546.2,1542.9 1548.2,1541.4 1550.2,1540.0 1552.3,1538.7 1554.4,1537.4" stroke="#61ff96" stroke-width="10.0"/>
<path d="M1554.4,1537.4 1556.6,1536.2 1558.8,1535.0 1561.0,1534.0 1563.3,1533.0 1565.6,1532.0 1567.9,1531.2 1570.3,1530.5 1572.7,1529.9 1575.1,1529.4 1577.6,1529.0" stroke="#5cff9b" stroke-width="10.0"/>
<path d="M1577.6,1529.0 1580.1,1528.7 1582.5,1528.5 1585.0,1528.4 1586.0,1528.4" stroke="#56ffa1" stroke-width="10.0"/>
<path d="M1341.2,2036.6l9.6,2.9M1346.9,2018.0l9.6,3.0M1352.6,1999.5l9.5,3.0M1358.3,1981.1l9.5,3.0M1364.1,1962.8l9.6,3.0M1369.8,1944.3l9.6,2.9M1375.5,1925.7l9.6,2.9M1381.2,1906.8l9.6,2.9M1386.9,1887.8l9.6,2.9M1392.6,1868.7l9.6,2.9M1398.3,1849.7l9.6,2.9M1404.1,1830.9l9.6,2.9M1409.8,1812.3l9.5,3.0M1415.5,1794.1l9.5,3.0M1421.2,1776.3l9.5,3.1M1427.0,1758.9l9.5,3.2M1432.7,1741.9l9.5,3.2M1438.4,1725.5l9.4,3.3M1444.1,1709.5l9.4,3.4M1449.9,1694.2l9.3,3.6M1455.6,1679.5l9.3,3.7M1461.4,1665.5l9.2,3.9M1467.1,1652.2l9.1,4.0M1472.9,1639.5l9.1,4.2M1478.6,1627.5l9.0,4.4M1484.4,1616.2l8.9,4.7M1490.2,1605.6l8.7,4.9M1496.0,1595.6l8.6,5.1M1501.8,1586.3l8.4,5.4M1507.6,1577.6l8.2,5.7M1513.4,1569.6l8.0,6.0M1519.3,1562.2l7.7,6.4M1525.2,1555.4l7.4,6.8M1531.1,1549.3l7.0,7.2M1537.0,1543.9l6.5,7.6M1543.0,1539.0l6.0,8.0M1549.0,1534.8l5.4,8.4M1555.1,1531.3l4.7,8.8M1561.2,1528.4l3.9,9.2M1567.4,1526.2l3.0,9.6M1573.6,1524.6l2.0,9.8M1579.8,1523.7l0.9,10.0" stroke="#7a7a7a" stroke-opacity="0.3" stroke-width="0.9"/>
</g>
<g><path d="M728.5,1459.1 729.8,1461.3 731.1,1463.5 732.3,1465.8 733.4,1468.1 734.5,1470.4 735.5,1472.7 736.5,1475.0 737.5,1477.4 738.4,1479.7 739.4,1482.1 740.3,1484.5 741.1,1486.8 742.0,1489.2 742.8,1491.6 743.7,1494.0 744.5,1496.4 745.3,1498.8 746.0,1501.2 746.8,1503.6 747.6,1506.0 748.3,1508.4 749.1,1510.8 749.8,1513.2 750.5,1515.6 751.2,1518.0 751.9,1520.4 752.6,1522.8 753.3,1525.2 754.0,1527.6 754.7,1530.1 755.4,1532.5 756.0,1534.9 756.7,1537.3 757.3,1539.7 758.0,1542.1 758.7,1544.6 759.3,1547.0 760.0,1549.4 760.6,1551.8 761.2,1554.2 761.9,1556.7 762.5,1559.1 763.2,1561.5 763.8,1563.9 764.4,1566.3 765.1,1568.7 765.7,1571.2 766.4,1573.6 767.0,1576.0 767.7,1578.4 768.3,1580.8 769.0,1583.2 769.6,1585.6 770.3,1588.0 770.9,1590.4 771.6,1592.8 772.2,1595.3 772.9,1597.7 773.6,1600.1 774.2,1602.5 774.9,1604.9 775.5,1607.3 776.2,1609.7 776.8,1612.2 777.5,1614.6 778.1,1617.0 778.8,1619.4 779.4,1621.8 780.1,1624.2 780.7,1626.7 781.4,1629.1 782.0,1631.5 782.6,1633.9 783.3,1636.4 783.9,1638.8 784.5,1641.2 785.1,1643.6 785.8,1646.1 786.4,1648.5 787.0,1650.9 787.6,1653.4 788.2,1655.8 788.8,1658.2 789.4,1660.7 790.0,1663.1 790.6,1665.5 791.2,1668.0 791.8,1670.4 792.4,1672.8 792.9,1675.3 793.5,1677.7 794.1,1680.1 794.7,1682.6 795.3,1685.0 795.8,1687.4 796.4,1689.9 797.0,1692.3 797.6,1694.8 798.1,1697.2 798.7,1699.6 799.3,1702.1 799.8,1704.5 800.4,1707.0 801.0,1709.4 801.5,1711.8 802.1,1714.3 802.6,1716.7 803.2,1719.1 803.8,1721.6 804.3,1724.0 804.9,1726.5 805.4,1728.9 806.0,1731.3 806.5,1733.8 807.1,1736.2 807.6,1738.7 808.2,1741.1 808.7,1743.5 809.3,1746.0 809.8,1748.4 810.4,1750.9 810.9,1753.3 811.5,1755.8 812.0,1758.2 812.6,1760.6 813.1,1763.1 813.6,1765.5 814.2,1768.0 814.7,1770.4 815.3,1772.8 815.8,1775.3 816.4,1777.7 816.9,1780.2 817.5,1782.6 818.0,1785.0 818.5,1787.5 819.1,1789.9 819.6,1792.4 820.2,1794.8 820.7,1797.2 821.3,1799.7 821.8,1802.1 822.4,1804.6 822.9,1807.0 823.4,1809.4 824.0,1811.9 824.5,1814.3 825.1,1816.7 825.6,1819.2 826.2,1821.6 826.7,1824.1 827.3,1826.5 827.8,1828.9 828.4,1831.4 828.9,1833.8 829.5,1836.2 830.0,1838.7 830.6,1841.1 831.2,1843.5 831.7,1846.0 832.3,1848.4 832.8,1850.9 833.4,1853.3 833.9,1855.7 834.5,1858.2 835.1,1860.6 835.6,1863.0 836.2,1865.4 836.8,1867.9 837.3,1870.3 837.9,1872.7 838.5,1875.2 839.1,1877.6 839.6,1880.0 840.2,1882.5 840.8,1884.9 841.4,1887.3 841.9,1889.7 842.5,1892.2 843.1,1894.6 843.7,1897.0 844.3,1899.5 844.9,1901.9 845.5,1904.3 846.0,1906.7 846.6,1909.2 847.2,1911.6 847.8,1914.0 848.4,1916.5 849.0,1918.9 849.5,1921.3 850.1,1923.8 850.7,1926.2 851.3,1928.7 851.9,1931.1 852.4,1933.5 853.0,1936.0 853.6,1938.4 854.1,1940.9 854.7,1943.3 855.3,1945.7 855.8,1948.2 856.4,1950.6 856.9,1953.1 857.5,1955.5 858.0,1958.0 858.6,1960.4 859.1,1962.9 859.6,1965.3 860.1,1967.8 860.7,1970.2 861.2,1972.7 861.7,1975.1 862.2,1977.6 862.7,1980.1 863.2,1982.5 863.7,1985.0 864.2,1987.4 864.7,1989.9 865.2,1992.3 865.7,1994.8 866.2,1997.3 866.7,1999.7 867.2,2002.2 867.7,2004.6 868.1,2007.1 868.6,2009.5 869.1,2012.0 869.6,2014.4 870.1,2016.8 870.6,2019.3 871.1,2021.7 871.6,2024.2 872.1,2026.6 872.6,2029.0 873.1,2031.5 873.7,2033.9 874.2,2036.3 874.7,2038.7 875.3,2041.1 875.9,2043.5 876.4,2046.0 877.0,2048.3 877.6,2050.7 878.0,2052.1" stroke="#808080" stroke-width="12.3"/>
<path d="M728.5,1459.1 729.8,1461.3" stroke="#00a9ff" stroke-width="10.0"/>
<path d="M729.8,1461.3 731.1,1463.5" stroke="#00d2ff" stroke-width="10.0"/>
<path d="M731.1,1463.5 732.3,1465.8" stroke="#12fce4" stroke-width="10.0"/>
<path d="M732.3,1465.8 733.4,1468.1" stroke="#1effd9" stroke-width="10.0"/>
<path d="M733.4,1468.1 734.5,1470.4" stroke="#29ffce" stroke-width="10.0"/>
<path d="M734.5,1470.4 735.5,1472.7" stroke="#34ffc3" stroke-width="10.0"/>
<path d="M735.5,1472.7 736.5,1475.0" stroke="#3affbd" stroke-width="10.0"/>
<path d="M736.5,1475.0 737.5,1477.4" stroke="#3fffb7" stroke-width="10.0"/>
<path d="M737.5,1477.4 738.4,1479.7 739.4,1482.1" stroke="#45ffb2" stroke-width="10.0"/>
<path d="M739.4,1482.1 740.3,1484.5 741.1,1486.8" stroke="#4bffac" stroke-width="10.0"/>
<path d="M741.1,1486.8 742.0,1489.2 742.8,1491.6 743.7,1494.0" stroke="#50ffa6" stroke-width="10.0"/>
<path d="M743.7,1494.0 744.5,1496.4 745.3,1498.8" stroke="#56ffa1" stroke-width="10.0"/>
<path d="M745.3,1498.8 746.0,1501.2 746.8,1503.6 747.6,1506.0" stroke="#5cff9b" stroke-width="10.0"/>
<path d="M747.6,1506.0 748.3,1508.4 749.1,1510.8 749.8,1513.2" stroke="#61ff96" stroke-width="10.0"/>
<path d="M749.8,1513.2 750.5,1515.6 751.2,1518.0 751.9,1520.4 752.6,1522.8" stroke="#67ff90" stroke-width="10.0"/>
<path d="M752.6,1522.8 753.3,1525.2 754.0,1527.6 754.7,1530.1" stroke="#6cff8a" stroke-width="10.0"/>
<path d="M754.7,1530.1 755.4,1532.5 756.0,1534.9 756.7,1537.3 757.3,1539.7 758.0,1542.1" stroke="#72ff85" stroke-width="10.0"/>
<path d="M758.0,1542.1 758.7,1544.6 759.3,1547.0 760.0,1549.4 760.6,1551.8 761.2,1554.2 761.9,1556.7" stroke="#78ff7f" stroke-width="10.0"/>
<path d="M761.9,1556.7 762.5,1559.1 763.2,1561.5 763.8,1563.9 764.4,1566.3 765.1,1568.7" stroke="#7dff79" stroke-width="10.0"/>
<path d="M765.1,1568.7 765.7,1571.2 766.4,1573.6 767.0,1576.0 767.7,1578.4 768.3,1580.8" stroke="#83ff74" stroke-width="10.0"/>
<path d="M768.3,1580.8 769.0,1583.2 769.6,1585.6 770.3,1588.0 770.9,1590.4 771.6,1592.8 772.2,1595.3" stroke="#89ff6e" stroke-width="10.0"/>
<path d="M772.2,1595.3 772.9,1597.7 773.6,1600.1 774.2,1602.5 774.9,1604.9 775.5,1607.3 776.2,1609.7 776.8,1612.2" stroke="#8eff69" stroke-width="10.0"/>
<path d="M776.8,1612.2 777.5,1614.6 778.1,1617.0 778.8,1619.4 779.4,1621.8 780.1,1624.2 780.7,1626.7" stroke="#94ff63" stroke-width="10.0"/>
<path d="M780.7,1626.7 781.4,1629.1 782.0,1631.5 782.6,1633.9 783.3,1636.4 783.9,1638.8 784.5,1641.2 785.1,1643.6" stroke="#99ff5d" stroke-width="10.0"/>
<path d="M785.1,1643.6 785.8,1646.1 786.4,1648.5 787.0,1650.9 787.6,1653.4 788.2,1655.8 788.8,1658.2 789.4,1660.7" stroke="#9fff58" stroke-width="10.0"/>
<path d="M789.4,1660.7 790.0,1663.1 790.6,1665.5 791.2,1668.0 791.8,1670.4 792.4,1672.8 792.9,1675.3 793.5,1677.7 794.1,1680.1" stroke="#a5ff52" stroke-width="10.0"/>
<path d="M794.1,1680.1 794.7,1682.6 795.3,1685.0 795.8,1687.4 796.4,1689.9 797.0,1692.3 797.6,1694.8 798.1,1697.2" stroke="#aaff4c" stroke-width="10.0"/>
<path d="M798.1,1697.2 798.7,1699.6 799.3,1702.1 799.8,1704.5 800.4,1707.0 801.0,1709.4 801.5,1711.8 802.1,1714.3 802.6,1716.7 803.2,1719.1 803.8,1721.6 804.3,1724.0 804.9,1726.5 805.4,1728.9 806.0,1731.3 806.5,1733.8 807.1,1736.2 807.6,1738.7 808.2,1741.1 808.7,1743.5 809.3,1746.0 809.8,1748.4" stroke="#b0ff47" stroke-width="10.0"/>
<path d="M809.8,1748.4 810.4,1750.9 810.9,1753.3 811.5,1755.8 812.0,1758.2 812.6,1760.6 813.1,1763.1 813.6,1765.5 814.2,1768.0 814.7,1770.4 815.3,1772.8 815.8,1775.3 816.4,1777.7 816.9,1780.2 817.5,1782.6 818.0,1785.0 818.5,1787.5 819.1,1789.9 819.6,1792.4 820.2,1794.8 820.7,1797.2 821.3,1799.7 821.8,1802.1 822.4,1804.6 822.9,1807.0 823.4,1809.4 824.0,1811.9 824.5,1814.3 825.1,1816.7 825.6,1819.2 826.2,1821.6 826.7,1824.1 827.3,1826.5 827.8,1828.9 828.4,1831.4 828.9,1833.8 829.5,1836.2" stroke="#b6ff41" stroke-width="10.0"/>
<path d="M829.5,1836.2 830.0,1838.7 830.6,1841.1 831.2,1843.5 831.7,1846.0 832.3,1848.4 832.8,1850.9 833.4,1853.3 833.9,1855.7 834.5,1858.2 835.1,1860.6 835.6,1863.0 836.2,1865.4 836.8,1867.9 837.3,1870.3 837.9,1872.7 838.5,1875.2 839.1,1877.6 839.6,1880.0 840.2,1882.5 840.8,1884.9 841.4,1887.3 841.9,1889.7 842.5,1892.2 843.1,1894.6 843.7,1897.0 844.3,1899.5 844.9,1901.9 845.5,1904.3 846.0,1906.7 846.6,1909.2 847.2,1911.6 847.8,1914.0 848.4,1916.5 849.0,1918.9" stroke="#bbff3c" stroke-width="10.0"/>
<path d="M849.0,1918.9 849.5,1921.3 850.1,1923.8 850.7,1926.2 851.3,1928.7 851.9,1931.1 852.4,1933.5 853.0,1936.0 853.6,1938.4 854.1,1940.9 854.7,1943.3 855.3,1945.7 855.8,1948.2 856.4,1950.6 856.9,1953.1 857.5,1955.5 858.0,1958.0 858.6,1960.4 859.1,1962.9 859.6,1965.3 860.1,1967.8 860.7,1970.2 861.2,1972.7 861.7,1975.1 862.2,1977.6 862.7,1980.1 863.2,1982.5 863.7,1985.0 864.2,1987.4 864.7,1989.9 865.2,1992.3 865.7,1994.8 866.2,1997.3 866.7,1999.7 867.2,2002.2 867.7,2004.6 868.1,2007.1 868.6,2009.5" stroke="#c1ff36" stroke-width="10.0"/>
<path d="M868.6,2009.5 869.1,2012.0 869.6,2014.4 870.1,2016.8 870.6,2019.3 871.1,2021.7 871.6,2024.2 872.1,2026.6 872.6,2029.0 873.1,2031.5 873.7,2033.9 874.2,2036.3 874.7,2038.7 875.3,2041.1 875.9,2043.5 876.4,2046.0 877.0,2048.3 877.6,2050.7 878.0,2052.1" stroke="#c6ff30" stroke-width="10.0"/>
<path d="M735.8,1461.7l-8.8,4.7M738.8,1467.7l-9.1,4.2M741.7,1474.4l-9.2,3.8M744.6,1481.8l-9.4,3.5M747.5,1489.9l-9.4,3.3M750.4,1498.4l-9.5,3.1M753.3,1507.6l-9.6,2.9M756.2,1517.1l-9.6,2.8M759.1,1527.1l-9.6,2.7M761.9,1537.5l-9.6,2.6M764.8,1548.1l-9.7,2.6M767.7,1558.9l-9.7,2.6M770.5,1569.7l-9.7,2.6M773.4,1580.3l-9.7,2.6M776.2,1590.8l-9.6,2.6M779.1,1601.3l-9.6,2.6M781.9,1611.9l-9.7,2.6M784.8,1622.5l-9.7,2.6M787.7,1633.4l-9.7,2.5M790.5,1644.6l-9.7,2.5M793.4,1656.1l-9.7,2.4M796.3,1667.8l-9.7,2.4M799.1,1679.7l-9.7,2.3M802.0,1691.8l-9.7,2.3M804.9,1704.1l-9.7,2.3M807.7,1716.6l-9.7,2.2M810.6,1729.1l-9.8,2.2M813.5,1741.8l-9.8,2.2M816.3,1754.6l-9.8,2.2M819.2,1767.4l-9.8,2.2M822.0,1780.2l-9.8,2.2M824.9,1793.0l-9.8,2.2M827.8,1805.8l-9.8,2.2M830.6,1818.5l-9.8,2.2M833.5,1831.2l-9.8,2.2M836.3,1843.8l-9.7,2.2M839.2,1856.2l-9.7,2.3M842.0,1868.5l-9.7,2.3M844.9,1880.6l-9.7,2.3M847.8,1892.6l-9.7,2.3M850.6,1904.4l-9.7,2.3M853.5,1916.3l-9.7,2.3M856.3,1928.3l-9.7,2.3M859.2,1940.6l-9.7,2.2M862.1,1953.2l-9.8,2.2M864.9,1966.3l-9.8,2.1M867.8,1980.0l-9.8,2.0M870.7,1994.2l-9.8,2.0M873.5,2008.6l-9.8,2.0M876.4,2022.7l-9.8,2.0M879.2,2035.9l-9.8,2.2M882.1,2047.9l-9.7,2.5" stroke="#7a7a7a" stroke-opacity="0.3" stroke-width="0.9"/>
</g>
<g><path d="M233.0,1526.6 235.5,1526.4 238.0,1526.2 240.5,1526.0 243.0,1525.7 245.5,1525.5 247.9,1525.2 250.4,1524.9 252.9,1524.6 255.4,1524.3 257.9,1524.0 260.3,1523.7 262.8,1523.4 265.3,1523.1 267.8,1522.8 270.3,1522.5 272.8,1522.2 275.2,1522.0 277.7,1521.7 280.2,1521.5 282.7,1521.2 285.2,1521.0 287.7,1520.9 290.2,1520.7 292.7,1520.6 295.2,1520.5 297.7,1520.4 300.2,1520.4 302.7,1520.4 305.2,1520.5 307.7,1520.5 310.2,1520.7 312.7,1520.9 315.2,1521.1 317.6,1521.4 320.1,1521.7 322.6,1522.1 325.1,1522.6 327.5,1523.1 330.0,1523.6 332.4,1524.3 334.8,1525.0 337.2,1525.7 339.6,1526.5 341.9,1527.4 344.3,1528.3 346.6,1529.3 348.8,1530.4 351.1,1531.5 353.3,1532.7 355.5,1533.9 357.7,1535.2 359.8,1536.5 361.9,1537.9 364.0,1539.3 366.0,1540.8 368.0,1542.3 370.0,1543.9 372.0,1545.5 373.9,1547.2 375.7,1548.8 377.6,1550.6 379.4,1552.3 381.2,1554.0 383.0,1555.8 384.8,1557.6 386.5,1559.4 388.2,1561.3 389.9,1563.1 391.6,1565.0 393.3,1566.8 395.0,1568.7 396.6,1570.6 398.2,1572.5 399.9,1574.4 401.5,1576.3 403.1,1578.3 404.7,1580.2 406.3,1582.1 407.8,1584.1 409.4,1586.0 411.0,1588.0 412.6,1589.9 414.1,1591.9 415.7,1593.9 417.2,1595.8 418.7,1597.8 420.3,1599.8 421.8,1601.8 423.3,1603.8 424.9,1605.7 426.4,1607.7 427.9,1609.7 429.4,1611.7 430.9,1613.7 432.4,1615.7 433.9,1617.7 435.4,1619.7 436.9,1621.8 438.4,1623.8 439.9,1625.8 441.3,1627.8 442.8,1629.8 444.3,1631.8 445.8,1633.8 447.3,1635.8 448.8,1637.9 450.2,1639.9 451.7,1641.9 453.2,1643.9 454.7,1645.9 456.1,1647.9 457.6,1650.0 459.1,1652.0 460.6,1654.0 462.1,1656.0 463.5,1658.0 465.0,1660.0 466.5,1662.0 468.0,1664.1 469.5,1666.1 471.0,1668.1 472.4,1670.1 473.9,1672.1 475.4,1674.1 476.9,1676.1 478.4,1678.1 479.9,1680.1 481.4,1682.1 482.9,1684.1 484.4,1686.1 485.9,1688.0 487.5,1690.0 489.0,1692.0 490.5,1694.0 492.0,1696.0 493.6,1697.9 495.1,1699.9 496.7,1701.8 498.2,1703.8 499.8,1705.7 501.3,1707.7 502.9,1709.6 504.5,1711.6 506.1,1713.5 507.7,1715.4 509.3,1717.3 510.9,1719.2 512.5,1721.1 514.1,1723.0 515.8,1724.9 517.4,1726.8 519.1,1728.6 520.7,1730.5 522.4,1732.3 524.1,1734.2 525.8,1736.0 527.5,1737.8 529.2,1739.6 530.9,1741.4 532.7,1743.2 534.4,1745.0 536.2,1746.7 538.0,1748.5 539.7,1750.2 541.5,1751.9 543.3,1753.7 545.2,1755.4 547.0,1757.1 548.8,1758.7 550.7,1760.4 552.5,1762.1 554.4,1763.7 556.3,1765.3 558.2,1767.0 560.1,1768.6 562.0,1770.1 564.0,1771.7 565.9,1773.3 567.9,1774.8 569.8,1776.3 571.8,1777.8 573.8,1779.3 575.8,1780.8 577.9,1782.3 579.9,1783.7 581.9,1785.1 584.0,1786.5 586.1,1787.9 588.1,1789.3 590.2,1790.7 592.3,1792.0 594.5,1793.3 596.6,1794.6 598.7,1795.9 600.9,1797.1 603.1,1798.4 605.2,1799.6 607.4,1800.8 609.6,1801.9 611.8,1803.1 614.1,1804.2 616.3,1805.3 618.5,1806.4 620.8,1807.4 623.1,1808.5 625.4,1809.5 627.6,1810.5 630.0,1811.4 632.3,1812.4 634.6,1813.3 636.9,1814.2 639.3,1815.0 641.6,1815.9 644.0,1816.7 646.3,1817.5 648.7,1818.2 651.1,1819.0 653.5,1819.7 655.9,1820.4 658.3,1821.0 660.7,1821.7 663.1,1822.3 665.6,1822.8 668.0,1823.4 670.4,1823.9 672.9,1824.4 675.3,1824.9 677.8,1825.3 680.3,1825.8 682.7,1826.1 685.2,1826.5 687.7,1826.9 690.1,1827.2 692.6,1827.5 695.1,1827.7 697.6,1828.0 700.1,1828.2 702.6,1828.4 705.1,1828.5 707.6,1828.7 710.1,1828.8 712.6,1828.9 715.1,1828.9 717.6,1829.0 720.1,1829.0 722.6,1829.0 725.1,1829.0 727.6,1828.9 730.1,1828.8 732.6,1828.7 735.1,1828.6 737.6,1828.5 740.1,1828.4 742.6,1828.2 745.0,1828.0 747.5,1827.8 750.0,1827.6 752.5,1827.4 755.0,1827.2 757.5,1827.0 760.0,1826.8 762.5,1826.6 765.0,1826.4 767.5,1826.1 770.0,1825.9 772.4,1825.7 774.9,1825.5 777.4,1825.3 779.9,1825.1 782.4,1825.0 784.9,1824.8 787.4,1824.7 789.9,1824.6 792.4,1824.5 794.9,1824.4 797.4,1824.3 799.9,1824.3 802.4,1824.2 804.9,1824.3 807.4,1824.3 809.9,1824.4 812.4,1824.5 814.9,1824.6 817.4,1824.8 819.9,1825.0 822.4,1825.2 824.9,1825.5 827.3,1825.8 829.8,1826.2 832.3,1826.6 834.8,1827.0 837.2,1827.5 839.7,1828.0 842.1,1828.6 844.5,1829.2 847.0,1829.8 849.4,1830.5 851.8,1831.1 854.2,1831.8 856.6,1832.6 859.0,1833.3 861.3,1834.1 863.7,1834.9 866.1,1835.8 868.4,1836.6 870.8,1837.5 873.1,1838.4 875.5,1839.3 877.8,1840.2 880.1,1841.2 882.4,1842.1 884.7,1843.1 887.0,1844.1 889.3,1845.1 891.6,1846.1 893.9,1847.1 896.2,1848.2 898.4,1849.2 900.7,1850.3 903.0,1851.3 905.2,1852.4 907.5,1853.5 909.7,1854.6 912.0,1855.7 914.2,1856.8 916.5,1857.9 918.7,1859.0 921.0,1860.1 923.2,1861.2 925.5,1862.3 927.7,1863.4 929.9,1864.5 932.2,1865.6 934.4,1866.7 936.7,1867.8 938.9,1868.9 941.1,1870.1 943.4,1871.2 945.6,1872.3 947.9,1873.4 950.1,1874.4 952.4,1875.5 954.6,1876.6 956.9,1877.6 959.2,1878.7 961.4,1879.7 963.7,1880.7 966.0,1881.7 968.3,1882.7 970.6,1883.6 972.9,1884.5 975.3,1885.4 977.6,1886.3 980.0,1887.1 982.3,1887.9 984.7,1888.6 987.1,1889.4 989.5,1890.0 991.9,1890.6 994.3,1891.2 996.8,1891.7 999.2,1892.2 1001.7,1892.6 1004.2,1892.9 1006.6,1893.2 1009.1,1893.3 1011.6,1893.5 1014.1,1893.5 1016.6,1893.4 1019.1,1893.3 1021.6,1893.1 1024.1,1892.8 1026.6,1892.4 1029.0,1891.9 1031.5,1891.3 1033.9,1890.7 1036.3,1889.9 1038.7,1889.1 1041.0,1888.1 1043.3,1887.1 1045.6,1886.1 1047.9,1884.9 1050.1,1883.7 1052.2,1882.4 1054.4,1881.1 1056.5,1879.7 1058.6,1878.3 1060.6,1876.9 1062.7,1875.4 1064.6,1873.8 1066.6,1872.3 1068.6,1870.7 1070.5,1869.0 1072.4,1867.4 1074.2,1865.7 1076.1,1864.0 1077.9,1862.3 1079.7,1860.5 1081.5,1858.8 1083.3,1857.0 1085.0,1855.2 1086.8,1853.4 1088.5,1851.6 1090.2,1849.7 1091.9,1847.9 1093.6,1846.0 1095.2,1844.1 1096.9,1842.2 1098.5,1840.3 1100.2,1838.4 1101.8,1836.5 1103.4,1834.6 1105.0,1832.6 1106.6,1830.7 1108.1,1828.7 1109.7,1826.8 1111.2,1824.8 1112.8,1822.8 1114.3,1820.8 1115.9,1818.9 1117.4,1816.9 1118.9,1814.9 1120.4,1812.9 1121.9,1810.9 1123.4,1808.9 1124.9,1806.9 1126.4,1804.8 1127.9,1802.8 1129.4,1800.8 1130.8,1798.8 1132.3,1796.8 1133.8,1794.7 1135.2,1792.7 1136.7,1790.7 1138.1,1788.6 1139.6,1786.6 1141.0,1784.5 1142.5,1782.5 1143.9,1780.4 1145.4,1778.4 1146.8,1776.3 1148.2,1774.3 1149.7,1772.2 1151.1,1770.2 1152.5,1768.1 1153.9,1766.1 1155.4,1764.0 1156.8,1762.0 1158.2,1759.9 1159.6,1757.8 1161.0,1755.8 1162.4,1753.7 1163.8,1751.6 1165.3,1749.6 1166.7,1747.5 1168.1,1745.4 1169.5,1743.4 1170.9,1741.3 1172.3,1739.2 1173.7,1737.2 1175.1,1735.1 1176.5,1733.0 1177.9,1731.0 1179.3,1728.9 1180.7,1726.8 1182.1,1724.7 1183.5,1722.7 1184.9,1720.6 1186.3,1718.5 1187.7,1716.5 1189.1,1714.4 1190.5,1712.3 1191.9,1710.2 1193.3,1708.2 1194.7,1706.1 1196.1,1704.0 1197.5,1702.0 1198.9,1699.9 1200.3,1697.8 1201.7,1695.8 1203.1,1693.7 1204.5,1691.6 1206.0,1689.6 1207.4,1687.5 1208.8,1685.5 1210.2,1683.4 1211.6,1681.3 1213.0,1679.3 1214.5,1677.2 1215.9,1675.2 1217.3,1673.1 1218.7,1671.1 1220.2,1669.0 1221.6,1667.0 1223.0,1664.9 1224.5,1662.9 1225.9,1660.9 1227.4,1658.8 1228.8,1656.8 1230.3,1654.8 1231.7,1652.7 1233.2,1650.7 1234.6,1648.7 1236.1,1646.7 1237.6,1644.6 1239.0,1642.6 1240.5,1640.6 1242.0,1638.6 1243.5,1636.6 1245.0,1634.6 1246.4,1632.6 1247.9,1630.6 1249.4,1628.6 1251.0,1626.6 1252.5,1624.6 1254.0,1622.6 1255.5,1620.7 1257.0,1618.7 1258.6,1616.7 1260.1,1614.8 1261.7,1612.8 1263.2,1610.9 1264.8,1608.9 1266.4,1607.0 1267.9,1605.0 1269.5,1603.1 1271.1,1601.2 1272.7,1599.3 1274.3,1597.4 1275.9,1595.5 1277.6,1593.6 1279.2,1591.7 1280.8,1589.8 1282.5,1588.0 1284.1,1586.1 1285.8,1584.3 1287.5,1582.4 1289.2,1580.6 1290.9,1578.8 1292.6,1577.0 1294.3,1575.2 1296.1,1573.4 1297.8,1571.6 1299.6,1569.8 1301.4,1568.1 1303.1,1566.4 1304.9,1564.6 1306.8,1562.9 1308.6,1561.2 1310.4,1559.6 1312.3,1557.9 1314.2,1556.3 1316.1,1554.7 1318.0,1553.1 1319.9,1551.5 1321.8,1549.9 1323.8,1548.4 1325.8,1546.9 1327.7,1545.4 1329.7,1543.9 1331.8,1542.4 1333.8,1541.0 1335.9,1539.6 1337.9,1538.2 1340.0,1536.8 1342.1,1535.5 1344.2,1534.2 1346.3,1532.9 1348.5,1531.6 1350.7,1530.4 1352.8,1529.2 1355.0,1528.0 1357.2,1526.8 1359.5,1525.7 1361.7,1524.6 1364.0,1523.6 1366.2,1522.5 1368.5,1521.5 1370.8,1520.5 1373.1,1519.6 1375.4,1518.7 1377.8,1517.8 1380.1,1517.0 1382.5,1516.2 1384.8,1515.4 1387.2,1514.6 1389.6,1513.9 1392.0,1513.2 1394.4,1512.6 1396.8,1512.0 1399.3,1511.4 1401.7,1510.9 1404.1,1510.4 1406.6,1509.9 1409.1,1509.4 1411.5,1509.0 1414.0,1508.7 1416.5,1508.3 1418.9,1508.0 1421.4,1507.7 1423.9,1507.5 1426.4,1507.3 1428.9,1507.1 1431.4,1507.0 1433.9,1506.8 1436.4,1506.7 1438.9,1506.7 1441.4,1506.7 1443.9,1506.7 1446.4,1506.7 1448.9,1506.8 1451.4,1506.8 1453.9,1507.0 1456.4,1507.1 1458.9,1507.3 1461.4,1507.5 1463.9,1507.7 1466.3,1507.9 1468.8,1508.2 1471.3,1508.5 1473.8,1508.8 1476.3,1509.1 1478.8,1509.5 1481.2,1509.8 1483.7,1510.2 1486.2,1510.6 1488.6,1511.1 1491.1,1511.5 1493.6,1512.0 1496.0,1512.5 1498.5,1513.0 1500.9,1513.5 1503.3,1514.0 1505.8,1514.6 1508.2,1515.1 1510.7,1515.7 1513.1,1516.3 1515.5,1516.8 1518.0,1517.4 1520.4,1518.0 1522.8,1518.6 1525.2,1519.2 1527.7,1519.8 1530.1,1520.4 1532.5,1521.0 1535.0,1521.6 1537.4,1522.2 1539.8,1522.8 1542.2,1523.3 1544.7,1523.9 1547.1,1524.5 1549.6,1525.0 1552.0,1525.5 1554.5,1526.0 1556.9,1526.5 1559.4,1527.0 1561.8,1527.4 1564.3,1527.8 1566.7,1528.2 1569.2,1528.6 1571.7,1528.9 1574.2,1529.3 1576.6,1529.5 1579.1,1529.8 1581.6,1530.0 1584.1,1530.2 1586.0,1530.3" stroke="#808080" stroke-width="12.3"/>
<path d="M233.0,1526.6 235.5,1526.4" stroke="#4bffac" stroke-width="10.0"/>
<path d="M235.5,1526.4 238.0,1526.2" stroke="#50ffa6" stroke-width="10.0"/>
<path d="M238.0,1526.2 240.5,1526.0" stroke="#56ffa1" stroke-width="10.0"/>
<path d="M240.5,1526.0 243.0,1525.7" stroke="#5cff9b" stroke-width="10.0"/>
<path d="M243.0,1525.7 245.5,1525.5" stroke="#61ff96" stroke-width="10.0"/>
<path d="M245.5,1525.5 247.9,1525.2" stroke="#67ff90" stroke-width="10.0"/>
<path d="M247.9,1525.2 250.4,1524.9 252.9,1524.6" stroke="#6cff8a" stroke-width="10.0"/>
<path d="M252.9,1524.6 255.4,1524.3" stroke="#72ff85" stroke-width="10.0"/>
<path d="M255.4,1524.3 257.9,1524.0" stroke="#78ff7f" stroke-width="10.0"/>
<path d="M257.9,1524.0 260.3,1523.7" stroke="#7dff79" stroke-width="10.0"/>
<path d="M260.3,1523.7 262.8,1523.4" stroke="#83ff74" stroke-width="10.0"/>
<path d="M262.8,1523.4 265.3,1523.1 267.8,1522.8" stroke="#89ff6e" stroke-width="10.0"/>
<path d="M267.8,1522.8 270.3,1522.5" stroke="#8eff69" stroke-width="10.0"/>
<path d="M270.3,1522.5 272.8,1522.2 275.2,1522.0" stroke="#94ff63" stroke-width="10.0"/>
<path d="M275.2,1522.0 277.7,1521.7 280.2,1521.5" stroke="#99ff5d" stroke-width="10.0"/>
<path d="M280.2,1521.5 282.7,1521.2" stroke="#9fff58" stroke-width="10.0"/>
<path d="M282.7,1521.2 285.2,1521.0 287.7,1520.9" stroke="#a5ff52" stroke-width="10.0"/>
<path d="M287.7,1520.9 290.2,1520.7" stroke="#aaff4c" stroke-width="10.0"/>
<path d="M290.2,1520.7 292.7,1520.6 295.2,1520.5" stroke="#b0ff47" stroke-width="10.0"/>
<path d="M295.2,1520.5 297.7,1520.4 300.2,1520.4" stroke="#b6ff41" stroke-width="10.0"/>
<path d="M300.2,1520.4 302.7,1520.4" stroke="#bbff3c" stroke-width="10.0"/>
<path d="M302.7,1520.4 305.2,1520.5 307.7,1520.5" stroke="#c1ff36" stroke-width="10.0"/>
<path d="M307.7,1520.5 310.2,1520.7 312.7,1520.9" stroke="#c6ff30" stroke-width="10.0"/>
<path d="M312.7,1520.9 315.2,1521.1 317.6,1521.4" stroke="#ccff2b" stroke-width="10.0"/>
<path d="M317.6,1521.4 320.1,1521.7 322.6,1522.1" stroke="#d2ff25" stroke-width="10.0"/>
<path d="M322.6,1522.1 325.1,1522.6 327.5,1523.1" stroke="#d7ff1f" stroke-width="10.0"/>
<path d="M327.5,1523.1 330.0,1523.6 332.4,1524.3 334.8,1525.0" stroke="#ddff1a" stroke-width="10.0"/>
<path d="M334.8,1525.0 337.2,1525.7 339.6,1526.5" stroke="#e3ff14" stroke-width="10.0"/>
<path d="M339.6,1526.5 341.9,1527.4 344.3,1528.3" stroke="#e8ff0f" stroke-width="10.0"/>
<path d="M344.3,1528.3 346.6,1529.3 348.8,1530.4" stroke="#eeff09" stroke-width="10.0"/>
<path d="M348.8,1530.4 351.1,1531.5 353.3,1532.7" stroke="#f4f903" stroke-width="10.0"/>
<path d="M353.3,1532.7 355.5,1533.9 357.7,1535.2" stroke="#f9f300" stroke-width="10.0"/>
<path d="M357.7,1535.2 359.8,1536.5 361.9,1537.9 364.0,1539.3" stroke="#ffec00" stroke-width="10.0"/>
<path d="M364.0,1539.3 366.0,1540.8 368.0,1542.3" stroke="#ffe600" stroke-width="10.0"/>
<path d="M368.0,1542.3 370.0,1543.9 372.0,1545.5 373.9,1547.2" stroke="#ffdf00" stroke-width="10.0"/>
<path d="M373.9,1547.2 375.7,1548.8 377.6,1550.6" stroke="#ffd900" stroke-width="10.0"/>
<path d="M377.6,1550.6 379.4,1552.3 381.2,1554.0 383.0,1555.8" stroke="#ffd300" stroke-width="10.0"/>
<path d="M383.0,1555.8 384.8,1557.6 386.5,1559.4 388.2,1561.3 389.9,1563.1" stroke="#ffcc00" stroke-width="10.0"/>
<path d="M389.9,1563.1 391.6,1565.0 393.3,1566.8 395.0,1568.7 396.6,1570.6" stroke="#ffc600" stroke-width="10.0"/>
<path d="M396.6,1570.6 398.2,1572.5 399.9,1574.4 401.5,1576.3" stroke="#ffbf00" stroke-width="10.0"/>
<path d="M401.5,1576.3 403.1,1578.3 404.7,1580.2 406.3,1582.1 407.8,1584.1" stroke="#ffb900" stroke-width="10.0"/>
<path d="M407.8,1584.1 409.4,1586.0 411.0,1588.0 412.6,1589.9 414.1,1591.9 415.7,1593.9 417.2,1595.8 418.7,1597.8 420.3,1599.8 421.8,1601.8 423.3,1603.8 424.9,1605.7 426.4,1607.7 427.9,1609.7 429.4,1611.7 430.9,1613.7 432.4,1615.7 433.9,1617.7 435.4,1619.7 436.9,1621.8 438.4,1623.8 439.9,1625.8 441.3,1627.8" stroke="#ffb200" stroke-width="10.0"/>
<path d="M441.3,1627.8 442.8,1629.8 444.3,1631.8 445.8,1633.8 447.3,1635.8 448.8,1637.9 450.2,1639.9 451.7,1641.9 453.2,1643.9 454.7,1645.9 456.1,1647.9 457.6,1650.0 459.1,1652.0 460.6,1654.0 462.1,1656.0 463.5,1658.0 465.0,1660.0 466.5,1662.0 468.0,1664.1 469.5,1666.1 471.0,1668.1 472.4,1670.1 473.9,1672.1 475.4,1674.1 476.9,1676.1 478.4,1678.1" stroke="#ffac00" stroke-width="10.0"/>
<path d="M478.4,1678.1 479.9,1680.1 481.4,1682.1 482.9,1684.1 484.4,1686.1 485.9,1688.0 487.5,1690.0 489.0,1692.0 490.5,1694.0 492.0,1696.0 493.6,1697.9" stroke="#ffb200" stroke-width="10.0"/>
<path d="M493.6,1697.9 495.1,1699.9 496.7,1701.8 498.2,1703.8 499.8,1705.7 501.3,1707.7 502.9,1709.6 504.5,1711.6 506.1,1713.5 507.7,1715.4 509.3,1717.3" stroke="#ffb900" stroke-width="10.0"/>
<path d="M509.3,1717.3 510.9,1719.2 512.5,1721.1 514.1,1723.0 515.8,1724.9 517.4,1726.8 519.1,1728.6 520.7,1730.5 522.4,1732.3 524.1,1734.2" stroke="#ffbf00" stroke-width="10.0"/>
<path d="M524.1,1734.2 525.8,1736.0 527.5,1737.8 529.2,1739.6 530.9,1741.4 532.7,1743.2 534.4,1745.0" stroke="#ffc600" stroke-width="10.0"/>
<path d="M534.4,1745.0 536.2,1746.7 538.0,1748.5 539.7,1750.2 541.5,1751.9 543.3,1753.7 545.2,1755.4" stroke="#ffcc00" stroke-width="10.0"/>
<path d="M545.2,1755.4 547.0,1757.1 548.8,1758.7 550.7,1760.4 552.5,1762.1 554.4,1763.7 556.3,1765.3 558.2,1767.0" stroke="#ffd300" stroke-width="10.0"/>
<path d="M558.2,1767.0 560.1,1768.6 562.0,1770.1 564.0,1771.7 565.9,1773.3 567.9,1774.8 569.8,1776.3 571.8,1777.8" stroke="#ffd900" stroke-width="10.0"/>
<path d="M571.8,1777.8 573.8,1779.3 575.8,1780.8 577.9,1782.3 579.9,1783.7 581.9,1785.1 584.0,1786.5 586.1,1787.9 588.1,1789.3 590.2,1790.7 592.3,1792.0" stroke="#ffdf00" stroke-width="10.0"/>
<path d="M592.3,1792.0 594.5,1793.3 596.6,1794.6 598.7,1795.9 600.9,1797.1 603.1,1798.4 605.2,1799.6 607.4,1800.8 609.6,1801.9 611.8,1803.1" stroke="#ffe600" stroke-width="10.0"/>
<path d="M611.8,1803.1 614.1,1804.2 616.3,1805.3 618.5,1806.4 620.8,1807.4 623.1,1808.5 625.4,1809.5 627.6,1810.5 630.0,1811.4 632.3,1812.4 634.6,1813.3 636.9,1814.2 639.3,1815.0 641.6,1815.9 644.0,1816.7 646.3,1817.5 648.7,1818.2" stroke="#ffec00" stroke-width="10.0"/>
<path d="M648.7,1818.2 651.1,1819.0 653.5,1819.7 655.9,1820.4 658.3,1821.0 660.7,1821.7 663.1,1822.3 665.6,1822.8 668.0,1823.4 670.4,1823.9 672.9,1824.4 675.3,1824.9 677.8,1825.3 680.3,1825.8 682.7,1826.1 685.2,1826.5 687.7,1826.9 690.1,1827.2 692.6,1827.5 695.1,1827.7 697.6,1828.0 700.1,1828.2 702.6,1828.4" stroke="#f9f300" stroke-width="10.0"/>
<path d="M702.6,1828.4 705.1,1828.5 707.6,1828.7 710.1,1828.8 712.6,1828.9 715.1,1828.9 717.6,1829.0 720.1,1829.0 722.6,1829.0 725.1,1829.0 727.6,1828.9 730.1,1828.8 732.6,1828.7 735.1,1828.6 737.6,1828.5 740.1,1828.4 742.6,1828.2 745.0,1828.0 747.5,1827.8 750.0,1827.6 752.5,1827.4 755.0,1827.2" stroke="#f4f903" stroke-width="10.0"/>
<path d="M755.0,1827.2 757.5,1827.0 760.0,1826.8 762.5,1826.6 765.0,1826.4 767.5,1826.1 770.0,1825.9 772.4,1825.7 774.9,1825.5 777.4,1825.3 779.9,1825.1 782.4,1825.0 784.9,1824.8 787.4,1824.7 789.9,1824.6 792.4,1824.5 794.9,1824.4 797.4,1824.3 799.9,1824.3 802.4,1824.2 804.9,1824.3" stroke="#eeff09" stroke-width="10.0"/>
<path d="M804.9,1824.3 807.4,1824.3 809.9,1824.4 812.4,1824.5 814.9,1824.6 817.4,1824.8 819.9,1825.0 822.4,1825.2 824.9,1825.5 827.3,1825.8 829.8,1826.2 832.3,1826.6 834.8,1827.0 837.2,1827.5 839.7,1828.0 842.1,1828.6 844.5,1829.2 847.0,1829.8 849.4,1830.5 851.8,1831.1 854.2,1831.8 856.6,1832.6 859.0,1833.3 861.3,1834.1 863.7,1834.9 866.1,1835.8 868.4,1836.6 870.8,1837.5 873.1,1838.4 875.5,1839.3 877.8,1840.2" stroke="#e8ff0f" stroke-width="10.0"/>
<path d="M877.8,1840.2 880.1,1841.2 882.4,1842.1 884.7,1843.1 887.0,1844.1 889.3,1845.1 891.6,1846.1 893.9,1847.1 896.2,1848.2 898.4,1849.2 900.7,1850.3 903.0,1851.3 905.2,1852.4 907.5,1853.5 909.7,1854.6 912.0,1855.7 914.2,1856.8 916.5,1857.9 918.7,1859.0 921.0,1860.1 923.2,1861.2 925.5,1862.3 927.7,1863.4 929.9,1864.5 932.2,1865.6 934.4,1866.7 936.7,1867.8 938.9,1868.9 941.1,1870.1 943.4,1871.2 945.6,1872.3 947.9,1873.4 950.1,1874.4 952.4,1875.5 954.6,1876.6 956.9,1877.6 959.2,1878.7 961.4,1879.7 963.7,1880.7 966.0,1881.7 968.3,1882.7" stroke="#e3ff14" stroke-width="10.0"/>
<path d="M968.3,1882.7 970.6,1883.6 972.9,1884.5 975.3,1885.4 977.6,1886.3 980.0,1887.1 982.3,1887.9 984.7,1888.6 987.1,1889.4 989.5,1890.0 991.9,1890.6 994.3,1891.2 996.8,1891.7 999.2,1892.2 1001.7,1892.6 1004.2,1892.9 1006.6,1893.2 1009.1,1893.3 1011.6,1893.5 1014.1,1893.5 1016.6,1893.4 1019.1,1893.3 1021.6,1893.1 1024.1,1892.8 1026.6,1892.4" stroke="#ddff1a" stroke-width="10.0"/>
<path d="M1026.6,1892.4 1029.0,1891.9 1031.5,1891.3 1033.9,1890.7 1036.3,1889.9 1038.7,1889.1 1041.0,1888.1 1043.3,1887.1 1045.6,1886.1 1047.9,1884.9 1050.1,1883.7" stroke="#e3ff14" stroke-width="10.0"/>
<path d="M1050.1,1883.7 1052.2,1882.4 1054.4,1881.1 1056.5,1879.7 1058.6,1878.3 1060.6,1876.9 1062.7,1875.4 1064.6,1873.8 1066.6,1872.3 1068.6,1870.7 1070.5,1869.0" stroke="#e8ff0f" stroke-width="10.0"/>
<path d="M1070.5,1869.0 1072.4,1867.4 1074.2,1865.7 1076.1,1864.0 1077.9,1862.3 1079.7,1860.5 1081.5,1858.8 1083.3,1857.0 1085.0,1855.2" stroke="#eeff09" stroke-width="10.0"/>
<path d="M1085.0,1855.2 1086.8,1853.4 1088.5,1851.6 1090.2,1849.7 1091.9,1847.9 1093.6,1846.0 1095.2,1844.1 1096.9,1842.2 1098.5,1840.3 1100.2,1838.4 1101.8,1836.5" stroke="#f4f903" stroke-width="10.0"/>
<path d="M1101.8,1836.5 1103.4,1834.6 1105.0,1832.6 1106.6,1830.7 1108.1,1828.7 1109.7,1826.8 1111.2,1824.8 1112.8,1822.8 1114.3,1820.8 1115.9,1818.9" stroke="#f9f300" stroke-width="10.0"/>
<path d="M1115.9,1818.9 1117.4,1816.9 1118.9,1814.9 1120.4,1812.9 1121.9,1810.9 1123.4,1808.9 1124.9,1806.9 1126.4,1804.8 1127.9,1802.8 1129.4,1800.8 1130.8,1798.8 1132.3,1796.8" stroke="#ffec00" stroke-width="10.0"/>
<path d="M1132.3,1796.8 1133.8,1794.7 1135.2,1792.7 1136.7,1790.7 1138.1,1788.6 1139.6,1786.6 1141.0,1784.5 1142.5,1782.5 1143.9,1780.4 1145.4,1778.4 1146.8,1776.3" stroke="#ffe600" stroke-width="10.0"/>
<path d="M1146.8,1776.3 1148.2,1774.3 1149.7,1772.2 1151.1,1770.2 1152.5,1768.1 1153.9,1766.1 1155.4,1764.0 1156.8,1762.0 1158.2,1759.9 1159.6,1757.8 1161.0,1755.8 1162.4,1753.7" stroke="#ffdf00" stroke-width="10.0"/>
<path d="M1162.4,1753.7 1163.8,1751.6 1165.3,1749.6 1166.7,1747.5 1168.1,1745.4 1169.5,1743.4 1170.9,1741.3 1172.3,1739.2 1173.7,1737.2 1175.1,1735.1 1176.5,1733.0 1177.9,1731.0" stroke="#ffd900" stroke-width="10.0"/>
<path d="M1177.9,1731.0 1179.3,1728.9 1180.7,1726.8 1182.1,1724.7 1183.5,1722.7 1184.9,1720.6 1186.3,1718.5 1187.7,1716.5 1189.1,1714.4 1190.5,1712.3 1191.9,1710.2 1193.3,1708.2" stroke="#ffd300" stroke-width="10.0"/>
<path d="M1193.3,1708.2 1194.7,1706.1 1196.1,1704.0 1197.5,1702.0 1198.9,1699.9 1200.3,1697.8 1201.7,1695.8 1203.1,1693.7 1204.5,1691.6 1206.0,1689.6" stroke="#ffcc00" stroke-width="10.0"/>
<path d="M1206.0,1689.6 1207.4,1687.5 1208.8,1685.5 1210.2,1683.4 1211.6,1681.3 1213.0,1679.3 1214.5,1677.2 1215.9,1675.2 1217.3,1673.1" stroke="#ffc600" stroke-width="10.0"/>
<path d="M1217.3,1673.1 1218.7,1671.1 1220.2,1669.0 1221.6,1667.0 1223.0,1664.9 1224.5,1662.9 1225.9,1660.9 1227.4,1658.8 1228.8,1656.8" stroke="#ffbf00" stroke-width="10.0"/>
<path d="M1228.8,1656.8 1230.3,1654.8 1231.7,1652.7 1233.2,1650.7 1234.6,1648.7 1236.1,1646.7 1237.6,1644.6 1239.0,1642.6 1240.5,1640.6" stroke="#ffb900" stroke-width="10.0"/>
<path d="M1240.5,1640.6 1242.0,1638.6 1243.5,1636.6 1245.0,1634.6 1246.4,1632.6 1247.9,1630.6 1249.4,1628.6 1251.0,1626.6 1252.5,1624.6 1254.0,1622.6 1255.5,1620.7 1257.0,1618.7" stroke="#ffb200" stroke-width="10.0"/>
<path d="M1257.0,1618.7 1258.6,1616.7 1260.1,1614.8 1261.7,1612.8 1263.2,1610.9 1264.8,1608.9 1266.4,1607.0 1267.9,1605.0 1269.5,1603.1 1271.1,1601.2 1272.7,1599.3 1274.3,1597.4 1275.9,1595.5 1277.6,1593.6 1279.2,1591.7" stroke="#ffac00" stroke-width="10.0"/>
<path d="M1279.2,1591.7 1280.8,1589.8 1282.5,1588.0 1284.1,1586.1 1285.8,1584.3 1287.5,1582.4 1289.2,1580.6 1290.9,1578.8 1292.6,1577.0 1294.3,1575.2 1296.1,1573.4 1297.8,1571.6 1299.6,1569.8 1301.4,1568.1 1303.1,1566.4 1304.9,1564.6 1306.8,1562.9 1308.6,1561.2 1310.4,1559.6 1312.3,1557.9 1314.2,1556.3 1316.1,1554.7 1318.0,1553.1" stroke="#ffa500" stroke-width="10.0"/>
<path d="M1318.0,1553.1 1319.9,1551.5 1321.8,1549.9 1323.8,1548.4 1325.8,1546.9 1327.7,1545.4 1329.7,1543.9 1331.8,1542.4 1333.8,1541.0 1335.9,1539.6 1337.9,1538.2 1340.0,1536.8 1342.1,1535.5 1344.2,1534.2 1346.3,1532.9 1348.5,1531.6 1350.7,1530.4" stroke="#ffac00" stroke-width="10.0"/>
<path d="M1350.7,1530.4 1352.8,1529.2 1355.0,1528.0 1357.2,1526.8 1359.5,1525.7" stroke="#ffb200" stroke-width="10.0"/>
<path d="M1359.5,1525.7 1361.7,1524.6 1364.0,1523.6 1366.2,1522.5 1368.5,1521.5" stroke="#ffb900" stroke-width="10.0"/>
<path d="M1368.5,1521.5 1370.8,1520.5 1373.1,1519.6 1375.4,1518.7 1377.8,1517.8" stroke="#ffbf00" stroke-width="10.0"/>
<path d="M1377.8,1517.8 1380.1,1517.0 1382.5,1516.2 1384.8,1515.4" stroke="#ffc600" stroke-width="10.0"/>
<path d="M1384.8,1515.4 1387.2,1514.6 1389.6,1513.9 1392.0,1513.2 1394.4,1512.6" stroke="#ffcc00" stroke-width="10.0"/>
<path d="M1394.4,1512.6 1396.8,1512.0 1399.3,1511.4 1401.7,1510.9" stroke="#ffd300" stroke-width="10.0"/>
<path d="M1401.7,1510.9 1404.1,1510.4 1406.6,1509.9 1409.1,1509.4" stroke="#ffd900" stroke-width="10.0"/>
<path d="M1409.1,1509.4 1411.5,1509.0 1414.0,1508.7" stroke="#ffdf00" stroke-width="10.0"/>
<path d="M1414.0,1508.7 1416.5,1508.3 1418.9,1508.0 1421.4,1507.7" stroke="#ffe600" stroke-width="10.0"/>
<path d="M1421.4,1507.7 1423.9,1507.5 1426.4,1507.3 1428.9,1507.1 1431.4,1507.0" stroke="#ffec00" stroke-width="10.0"/>
<path d="M1431.4,1507.0 1433.9,1506.8 1436.4,1506.7 1438.9,1506.7 1441.4,1506.7" stroke="#f9f300" stroke-width="10.0"/>
<path d="M1441.4,1506.7 1443.9,1506.7 1446.4,1506.7" stroke="#f4f903" stroke-width="10.0"/>
<path d="M1446.4,1506.7 1448.9,1506.8" stroke="#eeff09" stroke-width="10.0"/>
<path d="M1448.9,1506.8 1451.4,1506.8 1453.9,1507.0" stroke="#e8ff0f" stroke-width="10.0"/>
<path d="M1453.9,1507.0 1456.4,1507.1" stroke="#e3ff14" stroke-width="10.0"/>
<path d="M1456.4,1507.1 1458.9,1507.3 1461.4,1507.5" stroke="#ddff1a" stroke-width="10.0"/>
<path d="M1461.4,1507.5 1463.9,1507.7 1466.3,1507.9" stroke="#d7ff1f" stroke-width="10.0"/>
<path d="M1466.3,1507.9 1468.8,1508.2 1471.3,1508.5" stroke="#d2ff25" stroke-width="10.0"/>
<path d="M1471.3,1508.5 1473.8,1508.8 1476.3,1509.1 1478.8,1509.5" stroke="#ccff2b" stroke-width="10.0"/>
<path d="M1478.8,1509.5 1481.2,1509.8 1483.7,1510.2" stroke="#c6ff30" stroke-width="10.0"/>
<path d="M1483.7,1510.2 1486.2,1510.6 1488.6,1511.1" stroke="#c1ff36" stroke-width="10.0"/>
<path d="M1488.6,1511.1 1491.1,1511.5 1493.6,1512.0" stroke="#bbff3c" stroke-width="10.0"/>
<path d="M1493.6,1512.0 1496.0,1512.5 1498.5,1513.0" stroke="#b6ff41" stroke-width="10.0"/>
<path d="M1498.5,1513.0 1500.9,1513.5 1503.3,1514.0" stroke="#b0ff47" stroke-width="10.0"/>
<path d="M1503.3,1514.0 1505.8,1514.6" stroke="#aaff4c" stroke-width="10.0"/>
<path d="M1505.8,1514.6 1508.2,1515.1 1510.7,1515.7" stroke="#a5ff52" stroke-width="10.0"/>
<path d="M1510.7,1515.7 1513.1,1516.3" stroke="#9fff58" stroke-width="10.0"/>
<path d="M1513.1,1516.3 1515.5,1516.8 1518.0,1517.4" stroke="#99ff5d" stroke-width="10.0"/>
<path d="M1518.0,1517.4 1520.4,1518.0" stroke="#94ff63" stroke-width="10.0"/>
<path d="M1520.4,1518.0 1522.8,1518.6 1525.2,1519.2" stroke="#8eff69" stroke-width="10.0"/>
<path d="M1525.2,1519.2 1527.7,1519.8" stroke="#89ff6e" stroke-width="10.0"/>
<path d="M1527.7,1519.8 1530.1,1520.4 1532.5,1521.0" stroke="#83ff74" stroke-width="10.0"/>
<path d="M1532.5,1521.0 1535.0,1521.6" stroke="#7dff79" stroke-width="10.0"/>
<path d="M1535.0,1521.6 1537.4,1522.2 1539.8,1522.8" stroke="#78ff7f" stroke-width="10.0"/>
<path d="M1539.8,1522.8 1542.2,1523.3" stroke="#72ff85" stroke-width="10.0"/>
<path d="M1542.2,1523.3 1544.7,1523.9 1547.1,1524.5" stroke="#6cff8a" stroke-width="10.0"/>
<path d="M1547.1,1524.5 1549.6,1525.0" stroke="#67ff90" stroke-width="10.0"/>
<path d="M1549.6,1525.0 1552.0,1525.5 1554.5,1526.0" stroke="#61ff96" stroke-width="10.0"/>
<path d="M1554.5,1526.0 1556.9,1526.5 1559.4,1527.0 1561.8,1527.4" stroke="#5cff9b" stroke-width="10.0"/>
<path d="M1561.8,1527.4 1564.3,1527.8 1566.7,1528.2 1569.2,1528.6" stroke="#56ffa1" stroke-width="10.0"/>
<path d="M1569.2,1528.6 1571.7,1528.9 1574.2,1529.3 1576.6,1529.5" stroke="#50ffa6" stroke-width="10.0"/>
<path d="M1576.6,1529.5 1579.1,1529.8 1581.6,1530.0 1584.1,1530.2 1586.0,1530.3" stroke="#4bffac" stroke-width="10.0"/>
<path d="M237.5,1521.2l0.9,10.0M242.4,1520.8l1.0,9.9M247.3,1520.2l1.1,9.9M252.2,1519.7l1.2,9.9M257.2,1519.1l1.2,9.9M262.1,1518.5l1.2,9.9M267.1,1517.8l1.2,9.9M272.1,1517.3l1.1,9.9M277.1,1516.7l1.0,9.9M282.1,1516.3l0.9,10.0M287.2,1515.9l0.7,10.0M292.2,1515.6l0.5,10.0M297.3,1515.4l0.2,10.0M302.4,1515.4l-0.1,10.0M307.5,1515.5l-0.4,10.0M312.7,1515.9l-0.8,10.0M317.8,1516.4l-1.2,9.9M323.0,1517.1l-1.6,9.9M328.2,1518.1l-2.1,9.8M333.4,1519.4l-2.6,9.7M338.6,1520.9l-3.1,9.5M343.8,1522.8l-3.6,9.3M349.0,1524.9l-4.1,9.1M354.2,1527.5l-4.6,8.9M359.4,1530.4l-5.1,8.6M364.6,1533.7l-5.6,8.3M369.8,1537.4l-6.0,8.0M375.0,1541.5l-6.4,7.7M380.1,1546.0l-6.8,7.4M385.2,1550.9l-7.0,7.1M390.2,1556.1l-7.3,6.9M395.3,1561.6l-7.4,6.7M400.3,1567.2l-7.6,6.5M405.3,1573.1l-7.7,6.4M410.3,1579.2l-7.7,6.3M415.3,1585.3l-7.8,6.2M420.3,1591.6l-7.9,6.2M425.3,1598.1l-7.9,6.1M430.2,1604.6l-8.0,6.1M435.2,1611.1l-8.0,6.0M440.2,1617.8l-8.0,6.0M445.1,1624.5l-8.0,5.9M450.1,1631.2l-8.1,5.9M455.1,1638.0l-8.1,5.9M460.0,1644.8l-8.1,5.9M465.0,1651.5l-8.1,5.9M469.9,1658.3l-8.1,5.9M474.9,1665.0l-8.0,6.0M479.8,1671.6l-8.0,6.0M484.7,1678.2l-8.0,6.0M489.7,1684.7l-7.9,6.1M494.6,1691.1l-7.9,6.1M499.5,1697.4l-7.8,6.2M504.5,1703.6l-7.8,6.3M509.4,1709.6l-7.7,6.4M514.3,1715.5l-7.6,6.5M519.2,1721.2l-7.5,6.6M524.1,1726.7l-7.4,6.7M529.0,1732.1l-7.3,6.8M533.9,1737.3l-7.2,6.9M538.8,1742.3l-7.1,7.1M543.7,1747.1l-7.0,7.2M548.6,1751.7l-6.8,7.3M553.5,1756.2l-6.7,7.4M558.3,1760.5l-6.5,7.6M563.2,1764.6l-6.4,7.7M568.1,1768.6l-6.2,7.8M573.0,1772.4l-6.1,7.9M577.9,1776.1l-5.9,8.1M582.7,1779.6l-5.8,8.2M587.6,1783.0l-5.6,8.3M592.5,1786.2l-5.4,8.4M597.3,1789.2l-5.2,8.5M602.2,1792.1l-5.0,8.6M607.0,1794.9l-4.8,8.7M611.9,1797.5l-4.6,8.9M616.8,1800.0l-4.4,9.0M621.6,1802.3l-4.2,9.1M626.5,1804.5l-4.0,9.1M631.3,1806.6l-3.8,9.2M636.2,1808.5l-3.6,9.3M641.0,1810.4l-3.4,9.4M645.9,1812.1l-3.2,9.5M650.7,1813.6l-3.0,9.5M655.6,1815.1l-2.8,9.6M660.4,1816.4l-2.5,9.7M665.2,1817.6l-2.3,9.7M670.1,1818.7l-2.1,9.8M674.9,1819.7l-1.9,9.8M679.8,1820.6l-1.7,9.9M684.6,1821.4l-1.5,9.9M689.5,1822.0l-1.3,9.9M694.3,1822.6l-1.1,9.9M699.2,1823.1l-0.9,10.0M704.1,1823.5l-0.7,10.0M708.9,1823.7l-0.5,10.0M713.8,1823.9l-0.3,10.0M718.6,1824.0l-0.1,10.0M723.5,1824.0l0.1,10.0M728.4,1823.9l0.3,10.0M731.2,1823.8l0.4,10.0M734.0,1823.7l0.5,10.0M736.8,1823.5l0.5,10.0M739.6,1823.4l0.6,10.0M742.5,1823.2l0.7,10.0M745.3,1823.0l0.7,10.0M748.1,1822.8l0.8,10.0M751.0,1822.5l0.8,10.0M753.8,1822.3l0.8,10.0M756.7,1822.1l0.9,10.0M759.5,1821.8l0.9,10.0M762.4,1821.6l0.9,10.0M765.2,1821.3l0.9,10.0M768.1,1821.1l0.9,10.0M771.0,1820.8l0.8,10.0M773.9,1820.6l0.8,10.0M776.7,1820.4l0.8,10.0M779.6,1820.2l0.7,10.0M782.5,1820.0l0.6,10.0M785.4,1819.8l0.6,10.0M788.3,1819.6l0.5,10.0M791.2,1819.5l0.4,10.0M794.1,1819.4l0.3,10.0M797.0,1819.3l0.2,10.0M799.9,1819.3l0.1,10.0M802.9,1819.2l-0.0,10.0M805.8,1819.3l-0.1,10.0M808.7,1819.3l-0.3,10.0M811.7,1819.4l-0.4,10.0M814.6,1819.6l-0.6,10.0M817.5,1819.8l-0.7,10.0M820.5,1820.0l-0.9,10.0M823.4,1820.3l-1.1,9.9M826.4,1820.7l-1.3,9.9M829.3,1821.1l-1.5,9.9M832.3,1821.5l-1.6,9.9M835.2,1822.0l-1.8,9.8M838.2,1822.6l-2.0,9.8M841.1,1823.2l-2.2,9.8M844.1,1823.9l-2.3,9.7M847.0,1824.7l-2.5,9.7M849.9,1825.4l-2.6,9.7M852.9,1826.2l-2.8,9.6M855.8,1827.1l-2.9,9.6M858.7,1828.0l-3.0,9.5M861.6,1829.0l-3.1,9.5M864.5,1829.9l-3.2,9.5M867.5,1831.0l-3.4,9.4M870.4,1832.0l-3.5,9.4M873.3,1833.1l-3.6,9.3M876.2,1834.2l-3.6,9.3M879.1,1835.4l-3.7,9.3M882.0,1836.5l-3.8,9.2M884.9,1837.8l-3.9,9.2M887.8,1839.0l-3.9,9.2M890.7,1840.2l-4.0,9.2M893.6,1841.5l-4.1,9.1M896.4,1842.8l-4.1,9.1M899.3,1844.1l-4.2,9.1M902.2,1845.5l-4.2,9.1M905.1,1846.8l-4.3,9.0M908.0,1848.2l-4.3,9.0M910.8,1849.6l-4.3,9.0M913.7,1850.9l-4.4,9.0M916.6,1852.3l-4.4,9.0M919.5,1853.7l-4.4,9.0M922.3,1855.2l-4.4,9.0M925.2,1856.6l-4.4,9.0M928.1,1858.0l-4.4,9.0M930.9,1859.4l-4.4,9.0M933.8,1860.8l-4.4,9.0M936.6,1862.3l-4.4,9.0M939.5,1863.7l-4.4,9.0M942.4,1865.1l-4.4,9.0M945.2,1866.5l-4.4,9.0M948.1,1867.9l-4.4,9.0M950.9,1869.3l-4.4,9.0M953.7,1870.6l-4.3,9.0M956.6,1872.0l-4.3,9.0M959.4,1873.3l-4.2,9.1M962.2,1874.6l-4.1,9.1M965.0,1875.8l-4.0,9.2M967.8,1877.1l-3.9,9.2M970.6,1878.2l-3.8,9.2M973.4,1879.4l-3.7,9.3M976.2,1880.4l-3.5,9.3M979.0,1881.5l-3.4,9.4M981.8,1882.5l-3.2,9.5M984.6,1883.4l-3.0,9.5M987.3,1884.2l-2.8,9.6M990.1,1885.0l-2.6,9.6M992.8,1885.7l-2.4,9.7M995.6,1886.4l-2.2,9.8M998.3,1886.9l-1.9,9.8M1001.0,1887.4l-1.6,9.9M1003.7,1887.8l-1.3,9.9M1006.4,1888.1l-1.0,10.0M1009.1,1888.3l-0.6,10.0M1011.8,1888.5l-0.3,10.0M1014.5,1888.5l0.1,10.0M1019.8,1888.2l0.8,10.0M1025.1,1887.6l1.7,9.9M1030.4,1886.4l2.5,9.7M1035.7,1884.8l3.3,9.4M1041.0,1882.7l4.1,9.1M1046.4,1880.0l4.8,8.8M1051.8,1876.8l5.4,8.4M1057.3,1873.1l5.8,8.1M1062.8,1868.9l6.2,7.8M1068.4,1864.3l6.6,7.5M1073.9,1859.2l6.9,7.3M1079.5,1853.7l7.1,7.0M1085.1,1847.8l7.3,6.8M1090.8,1841.6l7.5,6.6M1096.4,1835.1l7.6,6.5M1102.1,1828.3l7.8,6.3M1107.7,1821.2l7.9,6.2M1113.4,1813.9l7.9,6.1M1119.1,1806.3l8.0,6.0M1124.8,1798.6l8.1,5.9M1130.5,1790.8l8.1,5.8M1136.2,1782.8l8.2,5.8M1141.8,1774.7l8.2,5.7M1147.6,1766.5l8.2,5.7M1153.3,1758.2l8.2,5.7M1159.0,1749.9l8.3,5.6M1164.7,1741.5l8.3,5.6M1170.4,1733.1l8.3,5.6M1176.1,1724.7l8.3,5.6M1181.8,1716.2l8.3,5.6M1187.5,1707.8l8.3,5.6M1193.2,1699.4l8.3,5.6M1199.0,1691.0l8.3,5.6M1204.7,1682.6l8.2,5.7M1210.4,1674.3l8.2,5.7M1216.1,1666.1l8.2,5.7M1221.9,1657.9l8.2,5.8M1227.6,1649.9l8.1,5.8M1233.3,1641.9l8.1,5.9M1239.1,1634.1l8.0,6.0M1244.8,1626.4l8.0,6.0M1250.6,1618.9l7.9,6.1M1256.3,1611.5l7.8,6.2M1262.1,1604.3l7.8,6.3M1267.8,1597.3l7.7,6.4M1273.6,1590.5l7.6,6.5M1279.4,1583.9l7.5,6.7M1285.2,1577.6l7.3,6.8M1290.9,1571.5l7.2,7.0M1296.7,1565.6l7.0,7.1M1302.5,1560.0l6.8,7.3M1308.4,1554.7l6.6,7.5M1314.2,1549.7l6.4,7.7M1320.0,1545.0l6.2,7.9M1325.9,1540.5l5.9,8.0M1331.7,1536.4l5.7,8.2M1337.5,1532.5l5.4,8.4M1343.4,1528.8l5.1,8.6M1349.3,1525.4l4.9,8.7M1355.1,1522.3l4.6,8.9M1361.0,1519.4l4.3,9.0M1366.9,1516.8l3.9,9.2M1372.7,1514.4l3.6,9.3M1378.6,1512.2l3.3,9.4M1384.5,1510.2l3.0,9.5M1390.4,1508.5l2.7,9.6M1396.2,1507.0l2.3,9.7M1402.1,1505.7l2.0,9.8M1408.0,1504.6l1.7,9.9M1413.8,1503.6l1.4,9.9M1419.7,1502.9l1.1,9.9M1425.6,1502.3l0.8,10.0M1431.4,1501.9l0.5,10.0M1437.3,1501.7l0.2,10.0M1443.1,1501.7l-0.0,10.0M1449.0,1501.8l-0.3,10.0M1454.8,1502.0l-0.5,10.0M1460.7,1502.4l-0.8,10.0M1466.5,1502.9l-1.0,10.0M1472.3,1503.5l-1.2,9.9M1478.1,1504.3l-1.4,9.9M1483.9,1505.2l-1.6,9.9M1489.7,1506.2l-1.8,9.8M1495.5,1507.3l-1.9,9.8M1501.3,1508.5l-2.1,9.8M1507.1,1509.7l-2.2,9.8M1512.9,1511.1l-2.3,9.7M1518.6,1512.4l-2.4,9.7M1524.3,1513.9l-2.4,9.7M1530.0,1515.3l-2.4,9.7M1535.7,1516.7l-2.4,9.7M1541.4,1518.0l-2.3,9.7M1547.1,1519.3l-2.2,9.8M1552.7,1520.5l-2.1,9.8M1558.4,1521.7l-1.9,9.8M1564.0,1522.7l-1.7,9.9M1569.6,1523.6l-1.4,9.9M1575.2,1524.3l-1.2,9.9M1580.7,1524.9l-0.9,10.0" stroke="#7a7a7a" stroke-opacity="0.3" stroke-width="0.9"/>
</g>
<g><path d="M233.0,1240.6 235.5,1240.6 238.0,1240.6 240.5,1240.6 243.0,1240.6 245.5,1240.7 248.0,1240.8 250.5,1240.9 253.0,1241.1 255.5,1241.2 258.0,1241.4 260.5,1241.7 263.0,1241.9 265.4,1242.2 267.9,1242.5 270.4,1242.8 272.9,1243.2 275.4,1243.6 277.8,1244.0 280.3,1244.4 282.7,1244.9 285.2,1245.4 287.6,1245.9 290.1,1246.5 292.5,1247.1 294.9,1247.7 297.4,1248.4 299.8,1249.0 302.2,1249.7 304.6,1250.5 307.0,1251.2 309.3,1252.0 311.7,1252.9 314.0,1253.7 316.4,1254.6 318.7,1255.5 321.0,1256.5 323.4,1257.4 325.7,1258.4 327.9,1259.5 330.2,1260.5 332.5,1261.6 334.7,1262.7 337.0,1263.8 339.2,1265.0 341.4,1266.2 343.6,1267.4 345.8,1268.7 347.9,1270.0 350.1,1271.3 352.2,1272.6 354.3,1274.0 356.4,1275.3 358.5,1276.7 360.5,1278.2 362.6,1279.6 364.6,1281.1 366.6,1282.6 368.6,1284.1 370.6,1285.7 372.5,1287.3 374.5,1288.9 376.4,1290.5 378.3,1292.1 380.2,1293.8 382.1,1295.4 383.9,1297.1 385.8,1298.8 387.6,1300.6 389.4,1302.3 391.2,1304.1 393.0,1305.8 394.7,1307.6 396.5,1309.4 398.2,1311.3 399.9,1313.1 401.6,1315.0 403.3,1316.8 404.9,1318.7 406.6,1320.6 408.2,1322.5 409.8,1324.5 411.4,1326.4 413.0,1328.3 414.6,1330.3 416.1,1332.3 417.7,1334.2 419.2,1336.2 420.7,1338.2 422.2,1340.3 423.7,1342.3 425.2,1344.3 426.7,1346.3 428.1,1348.4 429.6,1350.4 431.0,1352.5 432.4,1354.5 433.8,1356.6 435.3,1358.7 436.7,1360.8 438.1,1362.8 439.4,1364.9 440.8,1367.0 442.2,1369.1 443.6,1371.2 444.9,1373.3 446.3,1375.4 447.6,1377.5 449.0,1379.6 450.3,1381.7 451.7,1383.9 453.0,1386.0 454.4,1388.1 455.7,1390.2 457.0,1392.3 458.4,1394.4 459.7,1396.6 461.0,1398.7 462.3,1400.8 463.7,1402.9 465.0,1405.0 466.3,1407.2 467.6,1409.3 468.9,1411.4 470.3,1413.5 471.6,1415.7 472.9,1417.8 474.2,1419.9 475.6,1422.0 476.9,1424.1 478.2,1426.2 479.5,1428.4 480.9,1430.5 482.2,1432.6 483.6,1434.7 484.9,1436.8 486.2,1438.9 487.6,1441.0 488.9,1443.1 490.3,1445.2 491.7,1447.3 493.0,1449.4 494.4,1451.4 495.8,1453.5 497.2,1455.6 498.6,1457.7 500.0,1459.7 501.4,1461.8 502.8,1463.8 504.2,1465.9 505.7,1467.9 507.1,1469.9 508.6,1472.0 510.0,1474.0 511.5,1476.0 513.0,1478.0 514.5,1480.0 516.0,1481.9 517.5,1483.9 519.1,1485.9 520.6,1487.8 522.2,1489.7 523.8,1491.6 525.4,1493.5 527.0,1495.4 528.7,1497.3 530.3,1499.1 532.0,1501.0 533.7,1502.8 535.4,1504.6 537.2,1506.3 538.9,1508.1 540.7,1509.8 542.6,1511.5 544.4,1513.1 546.3,1514.7 548.2,1516.3 550.2,1517.8 552.1,1519.3 554.2,1520.8 556.2,1522.1 558.3,1523.5 560.4,1524.7 562.6,1525.9 564.8,1527.0 567.1,1528.0 569.4,1529.0 571.7,1529.8 574.1,1530.5 576.5,1531.1 579.0,1531.5 581.4,1531.9 583.9,1532.0 586.4,1532.0 588.9,1531.9 591.4,1531.6 593.9,1531.2 596.3,1530.7 598.8,1530.0 601.2,1529.3 603.5,1528.4 605.9,1527.5 608.2,1526.5 610.5,1525.4 612.7,1524.3 614.9,1523.1 617.1,1521.9 619.3,1520.7 621.5,1519.4 623.6,1518.0 625.7,1516.7 627.8,1515.3 629.9,1513.9 631.9,1512.5 634.0,1511.0 636.0,1509.6 638.1,1508.1 640.1,1506.7 642.1,1505.2 644.1,1503.7 646.2,1502.2 648.2,1500.8 650.2,1499.3 652.2,1497.8 654.3,1496.4 656.3,1494.9 658.3,1493.5 660.4,1492.0 662.4,1490.6 664.5,1489.2 666.5,1487.8 668.6,1486.4 670.7,1485.0 672.8,1483.7 674.9,1482.3 677.0,1481.0 679.1,1479.7 681.2,1478.4 683.4,1477.2 685.6,1475.9 687.7,1474.7 689.9,1473.6 692.2,1472.4 694.4,1471.3 696.6,1470.2 698.9,1469.2 701.2,1468.2 703.5,1467.3 705.8,1466.4 708.1,1465.5 710.5,1464.7 712.9,1464.0 715.3,1463.4 717.7,1462.8 720.2,1462.3 722.6,1461.8 725.1,1461.5 727.6,1461.2 728.4,1461.1" stroke="#808080" stroke-width="12.3"/>
<path d="M233.0,1240.6 235.5,1240.6 238.0,1240.6 240.5,1240.6 243.0,1240.6 245.5,1240.7 248.0,1240.8 250.5,1240.9 253.0,1241.1 255.5,1241.2 258.0,1241.4 260.5,1241.7 263.0,1241.9 265.4,1242.2 267.9,1242.5 270.4,1242.8 272.9,1243.2 275.4,1243.6 277.8,1244.0 280.3,1244.4 282.7,1244.9 285.2,1245.4 287.6,1245.9 290.1,1246.5" stroke="#0039ff" stroke-width="10.0"/>
<path d="M290.1,1246.5 292.5,1247.1 294.9,1247.7 297.4,1248.4 299.8,1249.0 302.2,1249.7 304.6,1250.5 307.0,1251.2 309.3,1252.0 311.7,1252.9 314.0,1253.7 316.4,1254.6 318.7,1255.5 321.0,1256.5 323.4,1257.4 325.7,1258.4 327.9,1259.5 330.2,1260.5 332.5,1261.6 334.7,1262.7 337.0,1263.8 339.2,1265.0 341.4,1266.2 343.6,1267.4 345.8,1268.7 347.9,1270.0 350.1,1271.3 352.2,1272.6 354.3,1274.0 356.4,1275.3 358.5,1276.7 360.5,1278.2 362.6,1279.6 364.6,1281.1 366.6,1282.6 368.6,1284.1 370.6,1285.7 372.5,1287.3 374.5,1288.9 376.4,1290.5 378.3,1292.1 380.2,1293.8 382.1,1295.4 383.9,1297.1 385.8,1298.8 387.6,1300.6 389.4,1302.3 391.2,1304.1 393.0,1305.8 394.7,1307.6 396.5,1309.4 398.2,1311.3 399.9,1313.1 401.6,1315.0 403.3,1316.8" stroke="#0032ff" stroke-width="10.0"/>
<path d="M403.3,1316.8 404.9,1318.7 406.6,1320.6 408.2,1322.5 409.8,1324.5 411.4,1326.4 413.0,1328.3 414.6,1330.3 416.1,1332.3 417.7,1334.2 419.2,1336.2 420.7,1338.2 422.2,1340.3 423.7,1342.3 425.2,1344.3 426.7,1346.3 428.1,1348.4 429.6,1350.4 431.0,1352.5 432.4,1354.5 433.8,1356.6 435.3,1358.7 436.7,1360.8 438.1,1362.8 439.4,1364.9 440.8,1367.0 442.2,1369.1 443.6,1371.2 444.9,1373.3 446.3,1375.4 447.6,1377.5 449.0,1379.6 450.3,1381.7 451.7,1383.9 453.0,1386.0 454.4,1388.1 455.7,1390.2 457.0,1392.3 458.4,1394.4 459.7,1396.6 461.0,1398.7 462.3,1400.8 463.7,1402.9 465.0,1405.0 466.3,1407.2" stroke="#002bff" stroke-width="10.0"/>
<path d="M466.3,1407.2 467.6,1409.3 468.9,1411.4 470.3,1413.5 471.6,1415.7 472.9,1417.8 474.2,1419.9 475.6,1422.0" stroke="#0024ff" stroke-width="10.0"/>
<path d="M475.6,1422.0 476.9,1424.1 478.2,1426.2 479.5,1428.4 480.9,1430.5 482.2,1432.6 483.6,1434.7 484.9,1436.8 486.2,1438.9" stroke="#001dff" stroke-width="10.0"/>
<path d="M486.2,1438.9 487.6,1441.0 488.9,1443.1 490.3,1445.2 491.7,1447.3 493.0,1449.4 494.4,1451.4 495.8,1453.5" stroke="#0016ff" stroke-width="10.0"/>
<path d="M495.8,1453.5 497.2,1455.6 498.6,1457.7 500.0,1459.7 501.4,1461.8 502.8,1463.8 504.2,1465.9 505.7,1467.9" stroke="#000fff" stroke-width="10.0"/>
<path d="M505.7,1467.9 507.1,1469.9 508.6,1472.0 510.0,1474.0 511.5,1476.0 513.0,1478.0 514.5,1480.0 516.0,1481.9" stroke="#0008ff" stroke-width="10.0"/>
<path d="M516.0,1481.9 517.5,1483.9 519.1,1485.9 520.6,1487.8 522.2,1489.7 523.8,1491.6 525.4,1493.5 527.0,1495.4 528.7,1497.3 530.3,1499.1 532.0,1501.0 533.7,1502.8 535.4,1504.6 537.2,1506.3 538.9,1508.1 540.7,1509.8 542.6,1511.5 544.4,1513.1 546.3,1514.7 548.2,1516.3 550.2,1517.8 552.1,1519.3 554.2,1520.8 556.2,1522.1 558.3,1523.5 560.4,1524.7 562.6,1525.9 564.8,1527.0 567.1,1528.0 569.4,1529.0 571.7,1529.8 574.1,1530.5 576.5,1531.1 579.0,1531.5" stroke="#0001ff" stroke-width="10.0"/>
<path d="M579.0,1531.5 581.4,1531.9 583.9,1532.0 586.4,1532.0 588.9,1531.9" stroke="#0008ff" stroke-width="10.0"/>
<path d="M588.9,1531.9 591.4,1531.6 593.9,1531.2 596.3,1530.7 598.8,1530.0" stroke="#000fff" stroke-width="10.0"/>
<path d="M598.8,1530.0 601.2,1529.3 603.5,1528.4 605.9,1527.5" stroke="#0016ff" stroke-width="10.0"/>
<path d="M605.9,1527.5 608.2,1526.5 610.5,1525.4 612.7,1524.3 614.9,1523.1" stroke="#001dff" stroke-width="10.0"/>
<path d="M614.9,1523.1 617.1,1521.9 619.3,1520.7 621.5,1519.4 623.6,1518.0" stroke="#0024ff" stroke-width="10.0"/>
<path d="M623.6,1518.0 625.7,1516.7 627.8,1515.3 629.9,1513.9 631.9,1512.5 634.0,1511.0" stroke="#002bff" stroke-width="10.0"/>
<path d="M634.0,1511.0 636.0,1509.6 638.1,1508.1 640.1,1506.7 642.1,1505.2 644.1,1503.7" stroke="#0032ff" stroke-width="10.0"/>
<path d="M644.1,1503.7 646.2,1502.2 648.2,1500.8 650.2,1499.3 652.2,1497.8 654.3,1496.4" stroke="#0039ff" stroke-width="10.0"/>
<path d="M654.3,1496.4 656.3,1494.9 658.3,1493.5 660.4,1492.0 662.4,1490.6 664.5,1489.2" stroke="#0040ff" stroke-width="10.0"/>
<path d="M664.5,1489.2 666.5,1487.8 668.6,1486.4 670.7,1485.0 672.8,1483.7 674.9,1482.3" stroke="#0047ff" stroke-width="10.0"/>
<path d="M674.9,1482.3 677.0,1481.0 679.1,1479.7 681.2,1478.4 683.4,1477.2" stroke="#004eff" stroke-width="10.0"/>
<path d="M683.4,1477.2 685.6,1475.9 687.7,1474.7 689.9,1473.6 692.2,1472.4" stroke="#0055ff" stroke-width="10.0"/>
<path d="M692.2,1472.4 694.4,1471.3 696.6,1470.2" stroke="#005cff" stroke-width="10.0"/>
<path d="M696.6,1470.2 698.9,1469.2 701.2,1468.2" stroke="#0063ff" stroke-width="10.0"/>
<path d="M701.2,1468.2 703.5,1467.3 705.8,1466.4" stroke="#006aff" stroke-width="10.0"/>
<path d="M705.8,1466.4 708.1,1465.5 710.5,1464.7" stroke="#0071ff" stroke-width="10.0"/>
<path d="M710.5,1464.7 712.9,1464.0 715.3,1463.4 717.7,1462.8" stroke="#0078ff" stroke-width="10.0"/>
<path d="M717.7,1462.8 720.2,1462.3 722.6,1461.8" stroke="#007fff" stroke-width="10.0"/>
<path d="M722.6,1461.8 725.1,1461.5 727.6,1461.2" stroke="#0086ff" stroke-width="10.0"/>
<path d="M727.6,1461.2 728.4,1461.1" stroke="#008dff" stroke-width="10.0"/>
<path d="M238.0,1235.6l-0.0,10.0M243.0,1235.6l-0.2,10.0M248.1,1235.8l-0.4,10.0M253.1,1236.1l-0.6,10.0M258.2,1236.4l-0.8,10.0M263.3,1236.9l-1.0,9.9M268.3,1237.5l-1.3,9.9M273.4,1238.2l-1.5,9.9M278.4,1239.0l-1.7,9.9M283.5,1240.0l-1.9,9.8M288.6,1241.0l-2.2,9.8M293.7,1242.2l-2.4,9.7M298.7,1243.5l-2.7,9.6M303.8,1245.0l-2.9,9.6M308.9,1246.6l-3.1,9.5M314.0,1248.4l-3.4,9.4M319.0,1250.3l-3.6,9.3M324.1,1252.3l-3.9,9.2M329.2,1254.5l-4.1,9.1M334.3,1256.9l-4.4,9.0M339.4,1259.5l-4.6,8.9M344.4,1262.2l-4.9,8.7M349.5,1265.1l-5.1,8.6M354.6,1268.2l-5.3,8.5M359.7,1271.5l-5.6,8.3M364.7,1275.0l-5.8,8.1M369.8,1278.8l-6.0,8.0M374.9,1282.7l-6.3,7.8M379.9,1286.9l-6.5,7.6M385.0,1291.3l-6.7,7.4M390.0,1296.0l-6.9,7.3M395.1,1300.9l-7.1,7.1M400.1,1306.1l-7.2,6.9M405.2,1311.5l-7.4,6.7M410.2,1317.2l-7.6,6.5M415.2,1323.2l-7.7,6.3M420.3,1329.4l-7.9,6.2M425.3,1336.0l-8.0,6.0M430.3,1342.8l-8.1,5.8M435.3,1349.9l-8.2,5.7M440.3,1357.2l-8.3,5.6M445.3,1364.7l-8.4,5.5M450.3,1372.4l-8.4,5.4M455.2,1380.1l-8.4,5.4M460.2,1388.0l-8.5,5.3M465.2,1395.9l-8.5,5.3M470.1,1403.9l-8.5,5.3M475.1,1411.8l-8.5,5.3M480.0,1419.7l-8.5,5.3M485.0,1427.6l-8.5,5.3M489.9,1435.4l-8.4,5.4M494.8,1443.0l-8.4,5.5M499.8,1450.5l-8.3,5.5M504.7,1457.8l-8.3,5.7M509.6,1464.8l-8.2,5.8M514.5,1471.6l-8.1,5.9M519.4,1478.1l-7.9,6.1M524.3,1484.4l-7.8,6.3M529.2,1490.2l-7.6,6.5M534.0,1495.8l-7.4,6.7M538.8,1500.9l-7.2,7.0M543.6,1505.6l-6.9,7.3M548.4,1510.0l-6.5,7.6M553.2,1513.8l-6.1,7.9M557.9,1517.2l-5.6,8.3M562.5,1520.2l-5.0,8.7M567.1,1522.6l-4.3,9.0M571.7,1524.5l-3.4,9.4M576.1,1525.9l-2.5,9.7M580.5,1526.7l-1.3,9.9M584.9,1527.1l-0.1,10.0M589.2,1526.9l1.0,9.9M593.7,1526.2l2.1,9.8M598.2,1525.0l2.9,9.6M602.8,1523.4l3.7,9.3M607.4,1521.3l4.3,9.0M612.2,1519.0l4.7,8.8M616.9,1516.3l5.1,8.6M621.7,1513.3l5.4,8.4M626.6,1510.1l5.6,8.3M631.5,1506.7l5.8,8.2M636.4,1503.2l5.9,8.1M641.3,1499.6l5.9,8.1M646.3,1496.0l5.9,8.1M651.3,1492.4l5.8,8.1M656.3,1488.8l5.8,8.2M661.3,1485.3l5.7,8.2M666.3,1482.0l5.5,8.3M671.3,1478.7l5.4,8.4M676.4,1475.5l5.2,8.5M681.4,1472.5l5.0,8.7M686.5,1469.7l4.7,8.8M691.6,1467.1l4.4,9.0M696.7,1464.7l4.1,9.1M701.9,1462.5l3.7,9.3M707.1,1460.6l3.2,9.5M712.3,1459.0l2.7,9.6M717.5,1457.7l2.1,9.8M722.8,1456.7l1.5,9.9" stroke="#7a7a7a" stroke-opacity="0.3" stroke-width="0.9"/>
</g>
<g><path d="M728.5,1448.6 729.5,1446.3 730.4,1444.0 731.4,1441.7 732.4,1439.5 733.4,1437.2 734.4,1434.9 735.4,1432.6 736.4,1430.3 737.4,1428.0 738.4,1425.8 739.4,1423.5 740.4,1421.2 741.5,1419.0 742.5,1416.7 743.6,1414.4 744.6,1412.2 745.7,1409.9 746.8,1407.7 747.9,1405.4 748.9,1403.2 750.0,1400.9 751.1,1398.7 752.2,1396.5 753.4,1394.3 754.5,1392.0 755.6,1389.8 756.8,1387.6 757.9,1385.4 759.1,1383.2 760.3,1381.0 761.5,1378.8 762.7,1376.6 763.9,1374.5 765.1,1372.3 766.3,1370.1 767.5,1368.0 768.8,1365.8 770.1,1363.7 771.3,1361.5 772.6,1359.4 773.9,1357.3 775.2,1355.2 776.5,1353.1 777.9,1351.0 779.2,1348.9 780.6,1346.8 782.0,1344.8 783.4,1342.7 784.8,1340.7 786.3,1338.6 787.7,1336.6 789.2,1334.6 790.7,1332.6 792.2,1330.6 793.7,1328.7 795.2,1326.7 796.8,1324.8 798.3,1322.8 799.9,1320.9 801.5,1319.0 803.1,1317.1 804.8,1315.2 806.4,1313.4 808.1,1311.5 809.8,1309.7 811.4,1307.9 813.2,1306.1 814.9,1304.3 816.6,1302.5 818.4,1300.7 820.1,1298.9 821.9,1297.2 823.7,1295.4 825.5,1293.7 827.3,1292.0 829.1,1290.3 830.9,1288.6 832.7,1286.9 834.6,1285.2 836.4,1283.5 838.3,1281.8 840.1,1280.1 842.0,1278.5 843.8,1276.8 845.7,1275.1 847.5,1273.4 849.4,1271.8 851.3,1270.1 853.1,1268.4 855.0,1266.7 856.8,1265.1 858.7,1263.4 860.5,1261.7 862.4,1260.0 864.2,1258.3 866.0,1256.6 867.9,1254.9 869.7,1253.2 871.5,1251.5 873.4,1249.8 875.2,1248.0 877.0,1246.3 878.8,1244.6 880.6,1242.8 882.4,1241.1 884.2,1239.3 885.9,1237.6 887.7,1235.8 889.5,1234.0 891.2,1232.2 893.0,1230.4 894.7,1228.6 896.4,1226.8 898.2,1225.0 899.9,1223.2 901.6,1221.3 903.3,1219.5 905.0,1217.6 906.7,1215.8 908.3,1213.9 910.0,1212.0 911.7,1210.2 913.3,1208.3 915.0,1206.4 916.6,1204.6 918.3,1202.7 919.9,1200.8 921.6,1198.9 923.2,1197.0 924.9,1195.2 926.5,1193.3 928.2,1191.4 929.8,1189.5 931.5,1187.6 933.1,1185.8 934.8,1183.9 936.5,1182.1 938.1,1180.2 939.8,1178.3 941.5,1176.5 943.2,1174.7 944.9,1172.8 946.6,1171.0 948.3,1169.2 950.0,1167.4 951.7,1165.6 953.5,1163.8 955.2,1162.1 957.0,1160.3 958.8,1158.6 960.6,1156.9 962.4,1155.2 964.3,1153.5 966.1,1151.8 968.0,1150.2 969.9,1148.6 971.8,1147.0 973.8,1145.5 975.7,1144.0 977.7,1142.5 979.7,1141.1 981.8,1139.7 983.9,1138.3 986.0,1137.0 988.2,1135.8 990.3,1134.6 992.6,1133.5 994.8,1132.5 997.1,1131.6 999.5,1130.8 1001.8,1130.0 1004.2,1129.4 1006.7,1129.0 1009.1,1128.6 1011.6,1128.4 1014.1,1128.3 1016.6,1128.4 1019.1,1128.7 1021.6,1129.1 1024.1,1129.7 1026.5,1130.4 1028.8,1131.3 1031.1,1132.3 1033.4,1133.5 1035.6,1134.7 1037.7,1136.1 1039.8,1137.5 1041.9,1139.0 1043.9,1140.6 1045.8,1142.2 1047.7,1143.9 1049.6,1145.6 1051.4,1147.3 1053.2,1149.1 1054.9,1150.9 1056.6,1152.8 1058.3,1154.6 1060.0,1156.5 1061.6,1158.4 1063.3,1160.4 1064.9,1162.3 1066.4,1164.3 1068.0,1166.2 1069.5,1168.2 1071.1,1170.2 1072.6,1172.2 1074.1,1174.2 1075.6,1176.3 1077.0,1178.3 1078.5,1180.3 1079.9,1182.4 1081.4,1184.4 1082.8,1186.5 1084.2,1188.6 1085.6,1190.6 1087.1,1192.7 1088.5,1194.8 1089.8,1196.9 1091.2,1198.9 1092.6,1201.0 1094.0,1203.1 1095.4,1205.2 1096.8,1207.3 1098.1,1209.4 1099.5,1211.5 1100.9,1213.6 1102.2,1215.7 1103.6,1217.8 1104.9,1219.9 1106.3,1222.0 1107.6,1224.1 1109.0,1226.2 1110.4,1228.3 1111.7,1230.4 1113.1,1232.5 1114.4,1234.6 1115.8,1236.7 1117.1,1238.8 1118.5,1240.9 1119.8,1243.0 1121.2,1245.1 1122.6,1247.2 1123.9,1249.3 1125.3,1251.4 1126.7,1253.4 1128.1,1255.5 1129.5,1257.6 1130.8,1259.7 1132.2,1261.7 1133.6,1263.8 1135.0,1265.9 1136.5,1267.9 1137.9,1270.0 1139.3,1272.0 1140.7,1274.0 1142.2,1276.1 1143.6,1278.1 1145.1,1280.1 1146.6,1282.1 1148.1,1284.1 1149.5,1286.1 1151.1,1288.1 1152.6,1290.1 1154.1,1292.0 1155.6,1294.0 1157.2,1295.9 1158.8,1297.9 1160.4,1299.8 1162.0,1301.7 1163.6,1303.6 1165.2,1305.5 1166.8,1307.4 1168.5,1309.2 1170.2,1311.1 1171.8,1312.9 1173.5,1314.7 1175.2,1316.5 1177.0,1318.3 1178.7,1320.1 1180.5,1321.9 1182.2,1323.6 1184.0,1325.4 1185.8,1327.1 1187.6,1328.8 1189.4,1330.5 1191.3,1332.2 1193.1,1333.8 1195.0,1335.5 1196.9,1337.1 1198.8,1338.7 1200.7,1340.3 1202.6,1341.9 1204.6,1343.4 1206.5,1345.0 1208.5,1346.5 1210.5,1348.0 1212.5,1349.5 1214.5,1350.9 1216.5,1352.4 1218.6,1353.8 1220.6,1355.2 1222.7,1356.6 1224.8,1358.0 1226.9,1359.3 1229.0,1360.7 1231.1,1362.0 1233.3,1363.3 1235.4,1364.5 1237.6,1365.8 1239.7,1367.0 1241.9,1368.2 1244.1,1369.4 1246.3,1370.6 1248.5,1371.8 1250.7,1372.9 1252.9,1374.0 1255.2,1375.1 1257.4,1376.2 1259.7,1377.3 1262.0,1378.3 1264.2,1379.3 1266.5,1380.3 1268.8,1381.2 1271.2,1382.1 1273.5,1383.0 1275.9,1383.8 1278.2,1384.6 1280.6,1385.3 1283.0,1386.0 1285.4,1386.7 1287.8,1387.2 1290.3,1387.8 1292.7,1388.2 1295.2,1388.6 1297.7,1388.9 1300.1,1389.2 1302.6,1389.3 1305.1,1389.4 1307.6,1389.4 1310.1,1389.3 1312.6,1389.1 1315.1,1388.9 1317.6,1388.5 1320.1,1388.1 1322.5,1387.5 1324.9,1386.9 1327.4,1386.2 1329.7,1385.4 1332.1,1384.6 1334.4,1383.6 1336.7,1382.6 1339.0,1381.5 1341.2,1380.3 1343.5,1379.1 1345.6,1377.9 1347.8,1376.5 1349.9,1375.1 1351.9,1373.7 1354.0,1372.2 1356.0,1370.7 1358.0,1369.1 1359.9,1367.5 1361.8,1365.9 1363.7,1364.2 1365.5,1362.5 1367.4,1360.7 1369.2,1359.0 1370.9,1357.2 1372.7,1355.4 1374.4,1353.6 1376.2,1351.8 1377.9,1350.0 1379.6,1348.1 1381.3,1346.3 1383.0,1344.4 1384.6,1342.5 1386.3,1340.7 1388.0,1338.8 1389.6,1336.9 1391.3,1335.0 1392.9,1333.2 1394.6,1331.3 1396.2,1329.4 1397.9,1327.5 1399.5,1325.7 1401.2,1323.8 1402.8,1321.9 1404.5,1320.1 1406.2,1318.2 1407.9,1316.4 1409.6,1314.6 1411.3,1312.8 1413.0,1310.9 1414.7,1309.2 1416.5,1307.4 1418.2,1305.6 1420.0,1303.9 1421.8,1302.2 1423.6,1300.4 1425.4,1298.7 1427.3,1297.1 1429.1,1295.4 1431.0,1293.8 1432.9,1292.1 1434.8,1290.5 1436.7,1288.9 1438.6,1287.4 1440.6,1285.8 1442.5,1284.3 1444.5,1282.8 1446.5,1281.3 1448.5,1279.8 1450.5,1278.4 1452.6,1277.0 1454.7,1275.6 1456.7,1274.2 1458.8,1272.8 1460.9,1271.5 1463.1,1270.2 1465.2,1268.9 1467.3,1267.7 1469.5,1266.5 1471.7,1265.3 1473.9,1264.1 1476.1,1262.9 1478.3,1261.8 1480.6,1260.7 1482.8,1259.7 1485.1,1258.6 1487.4,1257.6 1489.7,1256.6 1492.0,1255.7 1494.3,1254.8 1496.6,1253.9 1499.0,1253.0 1501.3,1252.2 1503.7,1251.4 1506.1,1250.6 1508.4,1249.9 1510.8,1249.2 1513.2,1248.5 1515.6,1247.8 1518.1,1247.2 1520.5,1246.6 1522.9,1246.0 1525.3,1245.5 1527.8,1244.9 1530.2,1244.5 1532.7,1244.0 1535.1,1243.6 1537.6,1243.1 1540.1,1242.8 1542.5,1242.4 1545.0,1242.1 1547.5,1241.7 1550.0,1241.4 1552.5,1241.2 1555.0,1240.9 1557.4,1240.7 1559.9,1240.5 1562.4,1240.3 1564.9,1240.2 1567.4,1240.0 1569.9,1239.9 1572.4,1239.8 1574.9,1239.7 1577.4,1239.6 1579.9,1239.5 1582.4,1239.5 1584.9,1239.5 1586.0,1239.5" stroke="#808080" stroke-width="12.3"/>
<path d="M728.5,1448.6 729.5,1446.3 730.4,1444.0 731.4,1441.7" stroke="#ffbf00" stroke-width="10.0"/>
<path d="M731.4,1441.7 732.4,1439.5 733.4,1437.2" stroke="#ffc600" stroke-width="10.0"/>
<path d="M733.4,1437.2 734.4,1434.9 735.4,1432.6 736.4,1430.3 737.4,1428.0 738.4,1425.8" stroke="#e8ff0f" stroke-width="10.0"/>
<path d="M738.4,1425.8 739.4,1423.5 740.4,1421.2 741.5,1419.0" stroke="#c1ff36" stroke-width="10.0"/>
<path d="M741.5,1419.0 742.5,1416.7 743.6,1414.4" stroke="#bbff3c" stroke-width="10.0"/>
<path d="M743.6,1414.4 744.6,1412.2" stroke="#b6ff41" stroke-width="10.0"/>
<path d="M744.6,1412.2 745.7,1409.9" stroke="#b0ff47" stroke-width="10.0"/>
<path d="M745.7,1409.9 746.8,1407.7" stroke="#aaff4c" stroke-width="10.0"/>
<path d="M746.8,1407.7 747.9,1405.4" stroke="#9fff58" stroke-width="10.0"/>
<path d="M747.9,1405.4 748.9,1403.2" stroke="#99ff5d" stroke-width="10.0"/>
<path d="M748.9,1403.2 750.0,1400.9 751.1,1398.7" stroke="#94ff63" stroke-width="10.0"/>
<path d="M751.1,1398.7 752.2,1396.5" stroke="#8eff69" stroke-width="10.0"/>
<path d="M752.2,1396.5 753.4,1394.3 754.5,1392.0" stroke="#89ff6e" stroke-width="10.0"/>
<path d="M754.5,1392.0 755.6,1389.8" stroke="#83ff74" stroke-width="10.0"/>
<path d="M755.6,1389.8 756.8,1387.6 757.9,1385.4" stroke="#7dff79" stroke-width="10.0"/>
<path d="M757.9,1385.4 759.1,1383.2 760.3,1381.0" stroke="#78ff7f" stroke-width="10.0"/>
<path d="M760.3,1381.0 761.5,1378.8 762.7,1376.6" stroke="#72ff85" stroke-width="10.0"/>
<path d="M762.7,1376.6 763.9,1374.5 765.1,1372.3" stroke="#6cff8a" stroke-width="10.0"/>
<path d="M765.1,1372.3 766.3,1370.1 767.5,1368.0 768.8,1365.8" stroke="#67ff90" stroke-width="10.0"/>
<path d="M768.8,1365.8 770.1,1363.7 771.3,1361.5" stroke="#61ff96" stroke-width="10.0"/>
<path d="M771.3,1361.5 772.6,1359.4 773.9,1357.3" stroke="#5cff9b" stroke-width="10.0"/>
<path d="M773.9,1357.3 775.2,1355.2 776.5,1353.1" stroke="#56ffa1" stroke-width="10.0"/>
<path d="M776.5,1353.1 777.9,1351.0 779.2,1348.9" stroke="#50ffa6" stroke-width="10.0"/>
<path d="M779.2,1348.9 780.6,1346.8 782.0,1344.8" stroke="#4bffac" stroke-width="10.0"/>
<path d="M782.0,1344.8 783.4,1342.7 784.8,1340.7" stroke="#45ffb2" stroke-width="10.0"/>
<path d="M784.8,1340.7 786.3,1338.6" stroke="#3fffb7" stroke-width="10.0"/>
<path d="M786.3,1338.6 787.7,1336.6 789.2,1334.6" stroke="#3affbd" stroke-width="10.0"/>
<path d="M789.2,1334.6 790.7,1332.6 792.2,1330.6" stroke="#34ffc3" stroke-width="10.0"/>
<path d="M792.2,1330.6 793.7,1328.7 795.2,1326.7" stroke="#2fffc8" stroke-width="10.0"/>
<path d="M795.2,1326.7 796.8,1324.8 798.3,1322.8" stroke="#29ffce" stroke-width="10.0"/>
<path d="M798.3,1322.8 799.9,1320.9 801.5,1319.0" stroke="#23ffd3" stroke-width="10.0"/>
<path d="M801.5,1319.0 803.1,1317.1 804.8,1315.2" stroke="#1effd9" stroke-width="10.0"/>
<path d="M804.8,1315.2 806.4,1313.4 808.1,1311.5" stroke="#18ffdf" stroke-width="10.0"/>
<path d="M808.1,1311.5 809.8,1309.7" stroke="#12fce4" stroke-width="10.0"/>
<path d="M809.8,1309.7 811.4,1307.9 813.2,1306.1" stroke="#0df5ea" stroke-width="10.0"/>
<path d="M813.2,1306.1 814.9,1304.3 816.6,1302.5" stroke="#07eef0" stroke-width="10.0"/>
<path d="M816.6,1302.5 818.4,1300.7 820.1,1298.9" stroke="#02e7f5" stroke-width="10.0"/>
<path d="M820.1,1298.9 821.9,1297.2 823.7,1295.4" stroke="#00e0fb" stroke-width="10.0"/>
<path d="M823.7,1295.4 825.5,1293.7" stroke="#00d9ff" stroke-width="10.0"/>
<path d="M825.5,1293.7 827.3,1292.0 829.1,1290.3" stroke="#00d2ff" stroke-width="10.0"/>
<path d="M829.1,1290.3 830.9,1288.6 832.7,1286.9" stroke="#00ccff" stroke-width="10.0"/>
<path d="M832.7,1286.9 834.6,1285.2 836.4,1283.5" stroke="#00c5ff" stroke-width="10.0"/>
<path d="M836.4,1283.5 838.3,1281.8 840.1,1280.1" stroke="#00beff" stroke-width="10.0"/>
<path d="M840.1,1280.1 842.0,1278.5 843.8,1276.8" stroke="#00b7ff" stroke-width="10.0"/>
<path d="M843.8,1276.8 845.7,1275.1 847.5,1273.4" stroke="#00b0ff" stroke-width="10.0"/>
<path d="M847.5,1273.4 849.4,1271.8 851.3,1270.1 853.1,1268.4" stroke="#00a9ff" stroke-width="10.0"/>
<path d="M853.1,1268.4 855.0,1266.7 856.8,1265.1 858.7,1263.4" stroke="#00a2ff" stroke-width="10.0"/>
<path d="M858.7,1263.4 860.5,1261.7 862.4,1260.0 864.2,1258.3" stroke="#009bff" stroke-width="10.0"/>
<path d="M864.2,1258.3 866.0,1256.6 867.9,1254.9" stroke="#0094ff" stroke-width="10.0"/>
<path d="M867.9,1254.9 869.7,1253.2 871.5,1251.5 873.4,1249.8" stroke="#008dff" stroke-width="10.0"/>
<path d="M873.4,1249.8 875.2,1248.0 877.0,1246.3 878.8,1244.6" stroke="#0086ff" stroke-width="10.0"/>
<path d="M878.8,1244.6 880.6,1242.8 882.4,1241.1 884.2,1239.3" stroke="#007fff" stroke-width="10.0"/>
<path d="M884.2,1239.3 885.9,1237.6 887.7,1235.8 889.5,1234.0 891.2,1232.2 893.0,1230.4" stroke="#0078ff" stroke-width="10.0"/>
<path d="M893.0,1230.4 894.7,1228.6 896.4,1226.8 898.2,1225.0 899.9,1223.2" stroke="#0071ff" stroke-width="10.0"/>
<path d="M899.9,1223.2 901.6,1221.3 903.3,1219.5 905.0,1217.6 906.7,1215.8" stroke="#006aff" stroke-width="10.0"/>
<path d="M906.7,1215.8 908.3,1213.9 910.0,1212.0 911.7,1210.2 913.3,1208.3 915.0,1206.4" stroke="#0063ff" stroke-width="10.0"/>
<path d="M915.0,1206.4 916.6,1204.6 918.3,1202.7 919.9,1200.8 921.6,1198.9" stroke="#005cff" stroke-width="10.0"/>
<path d="M921.6,1198.9 923.2,1197.0 924.9,1195.2 926.5,1193.3 928.2,1191.4 929.8,1189.5" stroke="#0055ff" stroke-width="10.0"/>
<path d="M929.8,1189.5 931.5,1187.6 933.1,1185.8 934.8,1183.9 936.5,1182.1" stroke="#004eff" stroke-width="10.0"/>
<path d="M936.5,1182.1 938.1,1180.2 939.8,1178.3 941.5,1176.5 943.2,1174.7 944.9,1172.8 946.6,1171.0 948.3,1169.2 950.0,1167.4" stroke="#0047ff" stroke-width="10.0"/>
<path d="M950.0,1167.4 951.7,1165.6 953.5,1163.8 955.2,1162.1 957.0,1160.3 958.8,1158.6 960.6,1156.9 962.4,1155.2 964.3,1153.5 966.1,1151.8 968.0,1150.2" stroke="#0040ff" stroke-width="10.0"/>
<path d="M968.0,1150.2 969.9,1148.6 971.8,1147.0 973.8,1145.5 975.7,1144.0 977.7,1142.5 979.7,1141.1 981.8,1139.7 983.9,1138.3 986.0,1137.0 988.2,1135.8" stroke="#0039ff" stroke-width="10.0"/>
<path d="M988.2,1135.8 990.3,1134.6 992.6,1133.5 994.8,1132.5 997.1,1131.6 999.5,1130.8 1001.8,1130.0 1004.2,1129.4 1006.7,1129.0" stroke="#0032ff" stroke-width="10.0"/>
<path d="M1006.7,1129.0 1009.1,1128.6 1011.6,1128.4 1014.1,1128.3 1016.6,1128.4 1019.1,1128.7 1021.6,1129.1 1024.1,1129.7 1026.5,1130.4 1028.8,1131.3 1031.1,1132.3 1033.4,1133.5 1035.6,1134.7 1037.7,1136.1 1039.8,1137.5 1041.9,1139.0 1043.9,1140.6 1045.8,1142.2 1047.7,1143.9 1049.6,1145.6 1051.4,1147.3 1053.2,1149.1 1054.9,1150.9 1056.6,1152.8 1058.3,1154.6 1060.0,1156.5 1061.6,1158.4 1063.3,1160.4 1064.9,1162.3 1066.4,1164.3 1068.0,1166.2 1069.5,1168.2 1071.1,1170.2 1072.6,1172.2 1074.1,1174.2 1075.6,1176.3 1077.0,1178.3 1078.5,1180.3 1079.9,1182.4 1081.4,1184.4 1082.8,1186.5 1084.2,1188.6 1085.6,1190.6 1087.1,1192.7 1088.5,1194.8 1089.8,1196.9 1091.2,1198.9 1092.6,1201.0 1094.0,1203.1 1095.4,1205.2" stroke="#002bff" stroke-width="10.0"/>
<path d="M1095.4,1205.2 1096.8,1207.3 1098.1,1209.4 1099.5,1211.5 1100.9,1213.6 1102.2,1215.7 1103.6,1217.8 1104.9,1219.9 1106.3,1222.0" stroke="#0032ff" stroke-width="10.0"/>
<path d="M1106.3,1222.0 1107.6,1224.1 1109.0,1226.2 1110.4,1228.3 1111.7,1230.4 1113.1,1232.5 1114.4,1234.6 1115.8,1236.7" stroke="#0039ff" stroke-width="10.0"/>
<path d="M1115.8,1236.7 1117.1,1238.8 1118.5,1240.9 1119.8,1243.0 1121.2,1245.1 1122.6,1247.2 1123.9,1249.3 1125.3,1251.4" stroke="#0040ff" stroke-width="10.0"/>
<path d="M1125.3,1251.4 1126.7,1253.4 1128.1,1255.5 1129.5,1257.6 1130.8,1259.7 1132.2,1261.7 1133.6,1263.8 1135.0,1265.9" stroke="#0047ff" stroke-width="10.0"/>
<path d="M1135.0,1265.9 1136.5,1267.9 1137.9,1270.0 1139.3,1272.0 1140.7,1274.0 1142.2,1276.1 1143.6,1278.1 1145.1,1280.1" stroke="#004eff" stroke-width="10.0"/>
<path d="M1145.1,1280.1 1146.6,1282.1 1148.1,1284.1 1149.5,1286.1 1151.1,1288.1 1152.6,1290.1 1154.1,1292.0 1155.6,1294.0" stroke="#0055ff" stroke-width="10.0"/>
<path d="M1155.6,1294.0 1157.2,1295.9 1158.8,1297.9 1160.4,1299.8 1162.0,1301.7 1163.6,1303.6 1165.2,1305.5" stroke="#005cff" stroke-width="10.0"/>
<path d="M1165.2,1305.5 1166.8,1307.4 1168.5,1309.2 1170.2,1311.1 1171.8,1312.9 1173.5,1314.7 1175.2,1316.5 1177.0,1318.3" stroke="#0063ff" stroke-width="10.0"/>
<path d="M1177.0,1318.3 1178.7,1320.1 1180.5,1321.9 1182.2,1323.6 1184.0,1325.4 1185.8,1327.1 1187.6,1328.8" stroke="#006aff" stroke-width="10.0"/>
<path d="M1187.6,1328.8 1189.4,1330.5 1191.3,1332.2 1193.1,1333.8 1195.0,1335.5 1196.9,1337.1 1198.8,1338.7" stroke="#0071ff" stroke-width="10.0"/>
<path d="M1198.8,1338.7 1200.7,1340.3 1202.6,1341.9 1204.6,1343.4 1206.5,1345.0 1208.5,1346.5" stroke="#0078ff" stroke-width="10.0"/>
<path d="M1208.5,1346.5 1210.5,1348.0 1212.5,1349.5 1214.5,1350.9 1216.5,1352.4 1218.6,1353.8 1220.6,1355.2" stroke="#007fff" stroke-width="10.0"/>
<path d="M1220.6,1355.2 1222.7,1356.6 1224.8,1358.0 1226.9,1359.3 1229.0,1360.7 1231.1,1362.0" stroke="#0086ff" stroke-width="10.0"/>
<path d="M1231.1,1362.0 1233.3,1363.3 1235.4,1364.5 1237.6,1365.8 1239.7,1367.0 1241.9,1368.2" stroke="#008dff" stroke-width="10.0"/>
<path d="M1241.9,1368.2 1244.1,1369.4 1246.3,1370.6 1248.5,1371.8 1250.7,1372.9 1252.9,1374.0 1255.2,1375.1" stroke="#0086ff" stroke-width="10.0"/>
<path d="M1255.2,1375.1 1257.4,1376.2 1259.7,1377.3 1262.0,1378.3 1264.2,1379.3 1266.5,1380.3" stroke="#007fff" stroke-width="10.0"/>
<path d="M1266.5,1380.3 1268.8,1381.2 1271.2,1382.1 1273.5,1383.0 1275.9,1383.8 1278.2,1384.6 1280.6,1385.3" stroke="#0078ff" stroke-width="10.0"/>
<path d="M1280.6,1385.3 1283.0,1386.0 1285.4,1386.7 1287.8,1387.2" stroke="#0071ff" stroke-width="10.0"/>
<path d="M1287.8,1387.2 1290.3,1387.8 1292.7,1388.2" stroke="#006aff" stroke-width="10.0"/>
<path d="M1292.7,1388.2 1295.2,1388.6 1297.7,1388.9" stroke="#0063ff" stroke-width="10.0"/>
<path d="M1297.7,1388.9 1300.1,1389.2 1302.6,1389.3" stroke="#005cff" stroke-width="10.0"/>
<path d="M1302.6,1389.3 1305.1,1389.4" stroke="#0055ff" stroke-width="10.0"/>
<path d="M1305.1,1389.4 1307.6,1389.4 1310.1,1389.3" stroke="#004eff" stroke-width="10.0"/>
<path d="M1310.1,1389.3 1312.6,1389.1 1315.1,1388.9 1317.6,1388.5" stroke="#0047ff" stroke-width="10.0"/>
<path d="M1317.6,1388.5 1320.1,1388.1 1322.5,1387.5 1324.9,1386.9 1327.4,1386.2 1329.7,1385.4 1332.1,1384.6" stroke="#0040ff" stroke-width="10.0"/>
<path d="M1332.1,1384.6 1334.4,1383.6 1336.7,1382.6 1339.0,1381.5 1341.2,1380.3 1343.5,1379.1" stroke="#0039ff" stroke-width="10.0"/>
<path d="M1343.5,1379.1 1345.6,1377.9 1347.8,1376.5 1349.9,1375.1 1351.9,1373.7 1354.0,1372.2 1356.0,1370.7" stroke="#0032ff" stroke-width="10.0"/>
<path d="M1356.0,1370.7 1358.0,1369.1 1359.9,1367.5 1361.8,1365.9 1363.7,1364.2 1365.5,1362.5 1367.4,1360.7 1369.2,1359.0 1370.9,1357.2 1372.7,1355.4 1374.4,1353.6 1376.2,1351.8 1377.9,1350.0 1379.6,1348.1 1381.3,1346.3 1383.0,1344.4 1384.6,1342.5 1386.3,1340.7 1388.0,1338.8 1389.6,1336.9 1391.3,1335.0 1392.9,1333.2 1394.6,1331.3 1396.2,1329.4 1397.9,1327.5 1399.5,1325.7 1401.2,1323.8 1402.8,1321.9 1404.5,1320.1 1406.2,1318.2 1407.9,1316.4 1409.6,1314.6 1411.3,1312.8 1413.0,1310.9 1414.7,1309.2 1416.5,1307.4 1418.2,1305.6 1420.0,1303.9 1421.8,1302.2 1423.6,1300.4 1425.4,1298.7 1427.3,1297.1 1429.1,1295.4 1431.0,1293.8 1432.9,1292.1 1434.8,1290.5 1436.7,1288.9 1438.6,1287.4 1440.6,1285.8 1442.5,1284.3 1444.5,1282.8 1446.5,1281.3 1448.5,1279.8 1450.5,1278.4 1452.6,1277.0 1454.7,1275.6 1456.7,1274.2 1458.8,1272.8 1460.9,1271.5 1463.1,1270.2 1465.2,1268.9 1467.3,1267.7 1469.5,1266.5 1471.7,1265.3 1473.9,1264.1 1476.1,1262.9 1478.3,1261.8 1480.6,1260.7 1482.8,1259.7 1485.1,1258.6 1487.4,1257.6 1489.7,1256.6 1492.0,1255.7 1494.3,1254.8 1496.6,1253.9 1499.0,1253.0 1501.3,1252.2 1503.7,1251.4 1506.1,1250.6 1508.4,1249.9 1510.8,1249.2 1513.2,1248.5 1515.6,1247.8 1518.1,1247.2 1520.5,1246.6 1522.9,1246.0 1525.3,1245.5 1527.8,1244.9 1530.2,1244.5 1532.7,1244.0 1535.1,1243.6 1537.6,1243.1 1540.1,1242.8 1542.5,1242.4 1545.0,1242.1 1547.5,1241.7 1550.0,1241.4 1552.5,1241.2 1555.0,1240.9 1557.4,1240.7 1559.9,1240.5 1562.4,1240.3 1564.9,1240.2 1567.4,1240.0 1569.9,1239.9 1572.4,1239.8 1574.9,1239.7 1577.4,1239.6 1579.9,1239.5 1582.4,1239.5 1584.9,1239.5 1586.0,1239.5" stroke="#002bff" stroke-width="10.0"/>
<path d="M726.8,1439.9l9.2,3.9M729.6,1433.2l9.2,4.0M732.5,1426.7l9.1,4.1M735.4,1420.3l9.1,4.1M738.3,1414.0l9.1,4.2M741.1,1407.9l9.0,4.3M744.0,1401.9l9.0,4.4M746.9,1396.0l9.0,4.5M749.8,1390.3l8.9,4.5M752.7,1384.7l8.9,4.6M755.6,1379.2l8.8,4.7M758.4,1373.9l8.8,4.8M761.3,1368.8l8.7,4.9M764.2,1363.7l8.6,5.0M767.1,1358.8l8.6,5.1M770.0,1354.1l8.5,5.3M772.9,1349.5l8.4,5.4M775.8,1345.0l8.3,5.5M778.7,1340.7l8.3,5.6M781.6,1336.5l8.2,5.8M784.5,1332.5l8.1,5.9M787.4,1328.6l8.0,6.0M790.3,1324.8l7.9,6.2M793.3,1321.1l7.8,6.3M796.2,1317.6l7.7,6.4M799.1,1314.2l7.6,6.5M802.0,1310.8l7.5,6.6M804.9,1307.6l7.4,6.7M807.8,1304.5l7.3,6.8M810.7,1301.4l7.2,6.9M813.6,1298.4l7.1,7.0M816.5,1295.5l7.1,7.1M819.4,1292.6l7.0,7.2M822.3,1289.8l6.9,7.2M825.2,1287.1l6.9,7.3M828.1,1284.4l6.8,7.3M830.9,1281.7l6.8,7.4M833.8,1279.1l6.7,7.4M836.7,1276.5l6.7,7.4M839.6,1273.9l6.7,7.4M842.4,1271.3l6.7,7.4M845.3,1268.8l6.7,7.4M848.1,1266.2l6.7,7.4M851.0,1263.6l6.7,7.4M853.8,1261.0l6.7,7.4M856.7,1258.4l6.7,7.4M859.5,1255.8l6.8,7.4M862.4,1253.2l6.8,7.3M865.2,1250.5l6.8,7.3M868.1,1247.9l6.9,7.3M870.9,1245.2l6.9,7.3M873.8,1242.5l6.9,7.2M876.6,1239.7l7.0,7.2M879.4,1237.0l7.0,7.1M882.3,1234.1l7.1,7.1M885.1,1231.3l7.1,7.0M887.9,1228.4l7.2,7.0M890.8,1225.5l7.2,6.9M893.6,1222.5l7.3,6.9M896.4,1219.5l7.3,6.8M899.3,1216.5l7.4,6.8M902.1,1213.3l7.4,6.7M905.0,1210.2l7.4,6.7M907.8,1207.0l7.5,6.6M910.7,1203.8l7.5,6.6M913.5,1200.6l7.5,6.6M916.4,1197.3l7.5,6.6M919.2,1194.0l7.5,6.6M922.1,1190.8l7.5,6.6M924.9,1187.5l7.5,6.6M927.8,1184.2l7.5,6.6M930.7,1181.0l7.5,6.7M933.6,1177.8l7.4,6.7M936.4,1174.6l7.4,6.7M939.3,1171.5l7.4,6.8M942.2,1168.4l7.3,6.8M945.1,1165.3l7.2,6.9M948.0,1162.3l7.2,7.0M950.9,1159.3l7.1,7.1M953.8,1156.5l7.0,7.2M956.7,1153.7l6.9,7.3M959.6,1150.9l6.8,7.4M962.6,1148.3l6.6,7.5M965.5,1145.8l6.5,7.6M968.4,1143.3l6.3,7.8M971.4,1141.0l6.1,7.9M974.4,1138.7l5.9,8.1M977.3,1136.6l5.7,8.2M980.3,1134.6l5.4,8.4M983.4,1132.8l5.1,8.6M986.4,1131.1l4.8,8.8M989.4,1129.5l4.4,9.0M992.5,1128.1l4.0,9.2M995.6,1126.8l3.5,9.4M998.7,1125.8l3.0,9.5M1001.8,1124.9l2.5,9.7M1005.0,1124.2l1.9,9.8M1008.2,1123.7l1.2,9.9M1011.4,1123.4l0.5,10.0M1014.6,1123.3l-0.2,10.0M1021.0,1123.9l-1.6,9.9M1027.5,1125.5l-3.1,9.5M1033.8,1128.1l-4.4,9.0M1040.1,1131.6l-5.4,8.4M1046.2,1136.0l-6.2,7.8M1052.2,1141.2l-6.8,7.3M1058.1,1147.1l-7.2,6.9M1064.0,1153.5l-7.5,6.6M1069.8,1160.5l-7.8,6.3M1075.6,1168.0l-8.0,6.0M1081.4,1175.9l-8.1,5.8M1087.2,1184.1l-8.2,5.7M1092.9,1192.5l-8.3,5.6M1098.7,1201.1l-8.4,5.5M1104.4,1209.9l-8.4,5.4M1110.1,1218.8l-8.4,5.4M1115.9,1227.6l-8.4,5.4M1121.6,1236.5l-8.4,5.4M1127.3,1245.2l-8.4,5.5M1133.0,1253.8l-8.3,5.5M1138.6,1262.3l-8.3,5.6M1144.3,1270.4l-8.2,5.8M1150.0,1278.3l-8.1,5.9M1155.6,1285.8l-7.9,6.1M1161.3,1293.0l-7.8,6.3M1166.9,1299.8l-7.6,6.5M1172.5,1306.2l-7.4,6.7M1178.2,1312.3l-7.3,6.9M1183.8,1318.1l-7.1,7.1M1189.4,1323.6l-6.9,7.3M1195.0,1328.8l-6.7,7.4M1200.6,1333.7l-6.5,7.6M1206.2,1338.4l-6.3,7.8M1211.8,1342.7l-6.1,8.0M1217.4,1346.9l-5.8,8.1M1223.1,1350.8l-5.6,8.3M1228.7,1354.5l-5.4,8.4M1234.3,1358.0l-5.2,8.5M1239.9,1361.4l-5.0,8.7M1245.5,1364.5l-4.8,8.8M1251.1,1367.5l-4.6,8.9M1256.7,1370.3l-4.4,9.0M1262.3,1373.0l-4.2,9.1M1267.9,1375.4l-3.9,9.2M1273.4,1377.6l-3.5,9.4M1278.9,1379.6l-3.1,9.5M1284.4,1381.2l-2.6,9.6M1289.9,1382.6l-2.1,9.8M1295.3,1383.6l-1.5,9.9M1300.7,1384.2l-0.8,10.0M1306.0,1384.4l-0.1,10.0M1311.3,1384.2l0.7,10.0M1316.6,1383.6l1.6,9.9M1321.9,1382.5l2.4,9.7M1327.2,1381.0l3.2,9.5M1332.6,1379.0l3.9,9.2M1338.0,1376.4l4.6,8.9M1343.4,1373.4l5.2,8.5M1348.8,1369.8l5.8,8.2M1354.3,1365.7l6.3,7.8M1359.8,1361.0l6.7,7.4M1365.3,1355.7l7.0,7.1M1370.9,1350.0l7.2,6.9M1376.6,1344.0l7.4,6.7M1382.2,1337.7l7.5,6.6M1387.9,1331.3l7.5,6.6M1393.7,1324.8l7.5,6.6M1399.4,1318.3l7.4,6.7M1405.2,1312.0l7.3,6.8M1411.0,1305.8l7.2,7.0M1416.8,1300.0l7.0,7.2M1422.6,1294.5l6.8,7.4M1428.4,1289.4l6.5,7.6M1434.3,1284.5l6.3,7.8M1440.1,1279.9l6.1,7.9M1445.9,1275.5l5.8,8.1M1451.8,1271.5l5.6,8.3M1457.6,1267.7l5.3,8.5M1463.5,1264.1l5.0,8.6M1469.3,1260.9l4.8,8.8M1475.2,1257.8l4.5,8.9M1481.0,1255.0l4.2,9.1M1486.9,1252.4l3.9,9.2M1492.8,1250.0l3.6,9.3M1498.6,1247.9l3.3,9.4M1504.5,1245.9l3.0,9.5M1510.3,1244.1l2.8,9.6M1516.2,1242.5l2.5,9.7M1522.0,1241.1l2.2,9.7M1527.9,1239.8l2.0,9.8M1533.7,1238.7l1.7,9.8M1539.5,1237.8l1.5,9.9M1545.4,1237.0l1.3,9.9M1551.2,1236.3l1.1,9.9M1557.0,1235.7l0.9,10.0M1562.8,1235.3l0.7,10.0M1568.6,1234.9l0.5,10.0M1574.4,1234.7l0.3,10.0M1580.2,1234.5l0.2,10.0" stroke="#7a7a7a" stroke-opacity="0.3" stroke-width="0.9"/>
</g>
<g><path d="M233.0,133.0 235.5,133.0 238.0,133.1 240.5,133.2 243.0,133.5 245.5,133.8 247.9,134.2 250.4,134.7 252.8,135.3 255.3,136.0 257.7,136.8 260.0,137.6 262.4,138.4 264.7,139.4 267.0,140.4 269.3,141.4 271.6,142.5 273.8,143.7 276.0,144.9 278.2,146.1 280.4,147.3 282.5,148.6 284.7,150.0 286.8,151.3 288.9,152.7 290.9,154.1 293.0,155.6 295.0,157.1 297.1,158.5 299.1,160.0 301.1,161.6 303.0,163.1 305.0,164.7 306.9,166.2 308.9,167.8 310.8,169.4 312.7,171.0 314.7,172.7 316.6,174.3 318.4,175.9 320.3,177.6 322.2,179.3 324.1,180.9 325.9,182.6 327.8,184.3 329.6,186.0 331.5,187.7 333.3,189.4 335.1,191.1 336.9,192.8 338.7,194.6 340.5,196.4 342.3,198.1 344.1,199.9 345.8,201.7 347.5,203.5 349.3,205.4 351.0,207.2 352.7,209.1 354.3,210.9 356.0,212.8 357.6,214.7 359.3,216.6 360.9,218.6 362.5,220.5 364.0,222.5 365.6,224.4 367.1,226.4 368.7,228.4 370.2,230.4 371.7,232.4 373.2,234.4 374.7,236.5 376.1,238.5 377.6,240.5 379.1,242.5 380.5,244.6 382.0,246.6 383.4,248.6 384.9,250.7 386.3,252.7 387.8,254.8 389.2,256.8 390.7,258.8 392.1,260.9 393.6,262.9 395.1,264.9 396.5,267.0 398.0,269.0 399.4,271.0 400.9,273.0 402.4,275.0 403.9,277.0 405.3,279.1 406.8,281.1 408.3,283.1 409.8,285.1 411.3,287.1 412.8,289.1 414.3,291.1 415.8,293.0 417.3,295.0 418.9,297.0 420.4,299.0 421.9,300.9 423.5,302.9 425.0,304.9 426.6,306.8 428.1,308.8 429.7,310.7 431.2,312.6 432.8,314.6 434.4,316.5 436.0,318.4 437.6,320.3 439.2,322.2 440.8,324.1 442.5,326.0 444.1,327.9 445.8,329.8 447.4,331.6 449.1,333.5 450.8,335.3 452.4,337.2 454.1,339.0 455.9,340.8 457.6,342.6 459.3,344.4 461.1,346.1 462.8,347.9 464.6,349.7 466.4,351.4 468.2,353.1 470.0,354.8 471.8,356.5 473.7,358.2 475.5,359.8 477.4,361.4 479.3,363.0 481.2,364.6 483.2,366.2 485.1,367.7 487.1,369.2 489.1,370.7 491.1,372.2 493.2,373.6 495.2,375.0 497.3,376.4 499.4,377.8 501.5,379.1 503.6,380.4 505.8,381.6 507.9,382.8 510.1,384.0 512.3,385.1 514.6,386.2 516.8,387.3 519.1,388.3 521.4,389.3 523.7,390.2 526.0,391.1 528.4,392.0 530.7,392.8 533.1,393.5 535.5,394.2 537.9,394.8 540.3,395.4 542.8,396.0 545.2,396.5 547.7,396.9 550.1,397.3 552.6,397.6 555.1,397.9 557.6,398.1 560.1,398.3 562.6,398.4 565.1,398.5 567.6,398.6 570.1,398.6 572.6,398.5 575.1,398.4 577.6,398.3 580.0,398.1 582.5,397.9 585.0,397.7 587.5,397.4 590.0,397.1 592.5,396.7 595.0,396.4 597.4,396.0 599.9,395.5 602.3,395.1 604.8,394.6 607.3,394.1 609.7,393.6 612.1,393.0 614.6,392.4 617.0,391.9 619.4,391.3 621.9,390.7 624.3,390.0 626.7,389.4 629.1,388.7 631.5,388.1 633.9,387.4 636.4,386.7 638.8,386.0 641.2,385.3 643.6,384.6 646.0,383.9 648.4,383.2 650.8,382.5 653.2,381.8 655.6,381.1 658.0,380.4 660.4,379.7 662.8,379.0 665.2,378.3 667.6,377.7 670.0,377.0 672.4,376.3 674.8,375.7 677.2,375.0 679.6,374.4 682.0,373.7 684.5,373.1 686.9,372.5 689.3,372.0 691.8,371.4 694.2,370.9 696.6,370.4 699.1,369.9 701.5,369.4 704.0,368.9 706.4,368.5 708.9,368.1 711.4,367.7 713.9,367.4 716.3,367.0 718.8,366.7 721.3,366.5 723.8,366.2 726.3,366.1 728.8,365.9 731.3,365.8 733.8,365.7 736.3,365.6 738.8,365.6 741.3,365.7 743.8,365.8 746.3,365.9 748.8,366.0 751.2,366.3 753.7,366.5 756.2,366.8 758.7,367.2 761.2,367.6 763.6,368.0 766.1,368.5 768.5,369.1 771.0,369.7 773.4,370.3 775.8,371.0 778.2,371.8 780.6,372.5 782.9,373.4 785.3,374.3 787.6,375.2 789.9,376.2 792.2,377.2 794.5,378.3 796.7,379.4 799.0,380.6 801.2,381.8 803.4,383.0 805.5,384.3 807.7,385.6 809.8,387.0 811.9,388.4 813.9,389.8 816.0,391.3 818.0,392.8 820.0,394.3 822.0,395.9 823.9,397.4 825.8,399.1 827.7,400.7 829.6,402.4 831.5,404.0 833.3,405.8 835.2,407.5 837.0,409.2 838.8,411.0 840.5,412.8 842.3,414.6 844.0,416.4 845.7,418.3 847.4,420.1 849.1,422.0 850.8,423.8 852.4,425.7 854.1,427.6 855.7,429.6 857.3,431.5 858.9,433.4 860.5,435.4 862.0,437.3 863.6,439.3 865.1,441.3 866.7,443.3 868.2,445.2 869.7,447.2 871.2,449.3 872.7,451.3 874.2,453.3 875.7,455.3 877.1,457.4 878.6,459.4 880.0,461.5 881.4,463.5 882.9,465.6 884.3,467.7 885.7,469.7 887.1,471.8 888.5,473.9 889.8,476.0 891.2,478.1 892.6,480.2 893.9,482.3 895.3,484.4 896.6,486.5 898.0,488.7 899.3,490.8 900.6,492.9 901.9,495.1 903.2,497.2 904.5,499.3 905.8,501.5 907.1,503.6 908.4,505.8 909.7,507.9 911.0,510.1 912.3,512.2 913.5,514.4 914.8,516.5 916.1,518.7 917.3,520.8 918.6,523.0 919.9,525.2 921.1,527.3 922.4,529.5 923.7,531.6 924.9,533.8 926.2,535.9 927.5,538.1 928.7,540.2 930.0,542.4 931.3,544.6 932.5,546.7 933.8,548.9 935.1,551.0 936.4,553.1 937.6,555.3 938.9,557.4 940.2,559.6 941.5,561.7 942.8,563.8 944.1,565.9 945.4,568.1 946.8,570.2 948.1,572.3 949.4,574.4 950.8,576.5 952.1,578.6 953.5,580.7 954.8,582.8 956.2,584.8 957.6,586.9 959.0,589.0 960.4,591.0 961.8,593.1 963.3,595.1 964.7,597.1 966.2,599.1 967.7,601.1 969.2,603.1 970.7,605.0 972.3,606.9 973.9,608.9 975.5,610.8 977.1,612.6 978.8,614.5 980.4,616.3 982.2,618.0 983.9,619.8 985.7,621.5 987.6,623.1 989.5,624.7 991.4,626.2 993.4,627.7 995.4,629.1 997.5,630.4 999.7,631.5 1001.9,632.6 1004.2,633.5 1006.6,634.2 1009.0,634.8 1011.4,635.1 1013.9,635.2 1016.4,635.1 1018.9,634.7 1021.4,634.2 1023.8,633.4 1026.1,632.4 1028.4,631.3 1030.6,630.0 1032.8,628.7 1034.8,627.2 1036.8,625.6 1038.8,624.0 1040.7,622.3 1042.5,620.6 1044.3,618.8 1046.1,617.0 1047.8,615.1 1049.5,613.2 1051.1,611.3 1052.7,609.4 1054.3,607.4 1055.8,605.4 1057.3,603.4 1058.8,601.4 1060.3,599.3 1061.7,597.2 1063.2,595.2 1064.6,593.1 1066.0,591.0 1067.3,588.9 1068.7,586.8 1070.0,584.6 1071.4,582.5 1072.7,580.4 1074.0,578.2 1075.2,576.0 1076.5,573.9 1077.8,571.7 1079.0,569.5 1080.3,567.3 1081.5,565.2 1082.7,563.0 1083.9,560.8 1085.1,558.6 1086.3,556.4 1087.5,554.2 1088.7,552.0 1089.9,549.7 1091.0,547.5 1092.2,545.3 1093.4,543.1 1094.5,540.9 1095.7,538.7 1096.9,536.5 1098.0,534.3 1099.2,532.1 1100.4,529.9 1101.6,527.7 1102.8,525.5 1104.0,523.3 1105.2,521.1 1106.4,519.0 1107.6,516.8 1108.9,514.7 1110.2,512.5 1111.5,510.4 1112.8,508.3 1114.1,506.2 1115.5,504.2 1116.8,502.1 1118.3,500.1 1119.7,498.1 1121.2,496.1 1122.7,494.1 1124.2,492.2 1125.8,490.3 1127.4,488.4 1129.0,486.6 1130.7,484.8 1132.5,483.1 1134.3,481.4 1136.2,479.8 1138.1,478.2 1140.1,476.8 1142.1,475.5 1144.3,474.2 1146.5,473.2 1148.8,472.2 1151.1,471.5 1153.5,470.9 1156.0,470.6 1158.5,470.6 1161.0,470.7 1163.4,471.2 1165.9,471.9 1168.3,472.8 1170.5,473.9 1172.7,475.2 1174.9,476.6 1176.9,478.2 1178.8,479.8 1180.7,481.5 1182.6,483.3 1184.3,485.1 1186.1,486.9 1187.7,488.8 1189.4,490.7 1191.0,492.7 1192.6,494.6 1194.1,496.6 1195.7,498.6 1197.2,500.6 1198.7,502.7 1200.1,504.7 1201.6,506.7 1203.0,508.8 1204.5,510.9 1205.9,512.9 1207.3,515.0 1208.7,517.1 1210.1,519.1 1211.5,521.2 1212.9,523.3 1214.3,525.4 1215.7,527.5 1217.1,529.5 1218.5,531.6 1219.9,533.7 1221.3,535.7 1222.7,537.8 1224.1,539.8 1225.5,541.9 1226.9,543.9 1228.4,546.0 1229.8,548.0 1231.3,550.0 1232.8,552.0 1234.3,553.9 1235.8,555.9 1237.4,557.8 1239.0,559.7 1240.6,561.6 1242.2,563.5 1243.9,565.3 1245.6,567.0 1247.4,568.8 1249.2,570.4 1251.1,572.0 1253.0,573.6 1255.0,575.0 1257.0,576.4 1259.1,577.8 1261.2,579.0 1263.4,580.1 1265.7,581.1 1268.0,582.0 1270.4,582.8 1272.8,583.4 1275.2,584.0 1277.6,584.4 1280.1,584.6 1282.6,584.7 1285.1,584.7 1287.6,584.6 1290.1,584.3 1292.6,583.9 1295.0,583.4 1297.5,582.8 1299.9,582.1 1302.3,581.3 1304.6,580.5 1307.0,579.5 1309.3,578.5 1311.6,577.5 1313.8,576.4 1316.0,575.2 1318.2,574.0 1320.4,572.7 1322.6,571.4 1324.7,570.1 1326.8,568.8 1328.9,567.4 1331.0,566.0 1333.1,564.5 1335.1,563.1 1337.2,561.6 1339.2,560.1 1341.2,558.6 1343.1,557.1 1345.1,555.5 1347.1,553.9 1349.0,552.3 1350.9,550.7 1352.8,549.0 1354.7,547.3 1356.5,545.7 1358.4,543.9 1360.2,542.2 1362.0,540.5 1363.8,538.7 1365.6,536.9 1367.3,535.1 1369.0,533.3 1370.8,531.5 1372.5,529.6 1374.1,527.8 1375.8,525.9 1377.5,524.0 1379.1,522.1 1380.7,520.2 1382.3,518.2 1383.9,516.3 1385.5,514.3 1387.0,512.3 1388.6,510.4 1390.1,508.4 1391.6,506.4 1393.1,504.3 1394.6,502.3 1396.1,500.3 1397.5,498.2 1399.0,496.2 1400.4,494.1 1401.8,492.0 1403.2,489.9 1404.6,487.8 1406.0,485.7 1407.3,483.6 1408.7,481.5 1410.0,479.4 1411.3,477.2 1412.6,475.1 1413.9,473.0 1415.2,470.8 1416.5,468.6 1417.8,466.5 1419.0,464.3 1420.3,462.1 1421.5,459.9 1422.7,457.8 1424.0,455.6 1425.2,453.4 1426.4,451.2 1427.6,449.0 1428.7,446.7 1429.9,444.5 1431.1,442.3 1432.2,440.1 1433.4,437.8 1434.5,435.6 1435.7,433.4 1436.8,431.1 1437.9,428.9 1439.0,426.6 1440.1,424.4 1441.2,422.1 1442.3,419.8 1443.3,417.6 1444.4,415.3 1445.5,413.0 1446.5,410.8 1447.6,408.5 1448.6,406.2 1449.7,403.9 1450.7,401.6 1451.7,399.3 1452.7,397.0 1453.7,394.7 1454.7,392.4 1455.7,390.1 1456.7,387.8 1457.7,385.5 1458.7,383.2 1459.7,380.9 1460.6,378.6 1461.6,376.3 1462.5,374.0 1463.5,371.7 1464.4,369.3 1465.4,367.0 1466.3,364.7 1467.2,362.4 1468.2,360.0 1469.1,357.7 1470.0,355.4 1470.9,353.0 1471.8,350.7 1472.7,348.4 1473.6,346.0 1474.5,343.7 1475.4,341.3 1476.3,339.0 1477.2,336.7 1478.1,334.3 1479.0,332.0 1479.9,329.7 1480.8,327.3 1481.7,325.0 1482.6,322.7 1483.5,320.3 1484.4,318.0 1485.2,315.7 1486.1,313.3 1487.0,311.0 1487.9,308.7 1488.8,306.4 1489.8,304.0 1490.7,301.7 1491.6,299.4 1492.5,297.1 1493.4,294.7 1494.4,292.4 1495.3,290.1 1496.2,287.8 1497.2,285.5 1498.1,283.2 1499.1,280.9 1500.0,278.6 1501.0,276.3 1502.0,274.0 1502.9,271.7 1503.9,269.4 1504.9,267.1 1505.9,264.8 1506.8,262.5 1507.8,260.2 1508.8,257.9 1509.8,255.6 1510.8,253.4 1511.8,251.1 1512.8,248.8 1513.8,246.5 1514.8,244.2 1515.9,241.9 1516.9,239.6 1517.9,237.4 1518.9,235.1 1519.9,232.8 1520.9,230.5 1522.0,228.3 1523.0,226.0 1524.0,223.7 1525.1,221.4 1526.1,219.2 1527.1,216.9 1528.2,214.6 1529.2,212.4 1530.3,210.1 1531.4,207.8 1532.4,205.6 1533.5,203.3 1534.6,201.1 1535.6,198.8 1536.7,196.6 1537.8,194.3 1538.9,192.1 1540.0,189.9 1541.1,187.6 1542.2,185.4 1543.3,183.2 1544.5,181.0 1545.6,178.8 1546.8,176.6 1548.0,174.4 1549.2,172.2 1550.4,170.0 1551.6,167.9 1552.8,165.7 1554.1,163.6 1555.4,161.5 1556.7,159.4 1558.0,157.3 1559.4,155.3 1560.8,153.2 1562.3,151.2 1563.8,149.3 1565.3,147.4 1566.9,145.5 1568.5,143.7 1570.2,141.9 1572.0,140.2 1573.9,138.7 1575.8,137.2 1577.9,136.0 1580.1,134.9 1582.4,134.1 1584.8,133.7 1586.0,133.6" stroke="#808080" stroke-width="12.3"/>
<path d="M233.0,133.0 235.5,133.0 238.0,133.1 240.5,133.2" stroke="#ffdf00" stroke-width="10.0"/>
<path d="M240.5,133.2 243.0,133.5 245.5,133.8 247.9,134.2 250.4,134.7 252.8,135.3 255.3,136.0" stroke="#ffe600" stroke-width="10.0"/>
<path d="M255.3,136.0 257.7,136.8 260.0,137.6 262.4,138.4 264.7,139.4 267.0,140.4 269.3,141.4" stroke="#ffec00" stroke-width="10.0"/>
<path d="M269.3,141.4 271.6,142.5 273.8,143.7 276.0,144.9 278.2,146.1 280.4,147.3 282.5,148.6 284.7,150.0" stroke="#f9f300" stroke-width="10.0"/>
<path d="M284.7,150.0 286.8,151.3 288.9,152.7 290.9,154.1 293.0,155.6 295.0,157.1 297.1,158.5" stroke="#f4f903" stroke-width="10.0"/>
<path d="M297.1,158.5 299.1,160.0 301.1,161.6 303.0,163.1 305.0,164.7 306.9,166.2" stroke="#eeff09" stroke-width="10.0"/>
<path d="M306.9,166.2 308.9,167.8 310.8,169.4 312.7,171.0 314.7,172.7 316.6,174.3 318.4,175.9" stroke="#e8ff0f" stroke-width="10.0"/>
<path d="M318.4,175.9 320.3,177.6 322.2,179.3 324.1,180.9 325.9,182.6 327.8,184.3 329.6,186.0" stroke="#e3ff14" stroke-width="10.0"/>
<path d="M329.6,186.0 331.5,187.7 333.3,189.4 335.1,191.1 336.9,192.8 338.7,194.6" stroke="#ddff1a" stroke-width="10.0"/>
<path d="M338.7,194.6 340.5,196.4 342.3,198.1 344.1,199.9" stroke="#d7ff1f" stroke-width="10.0"/>
<path d="M344.1,199.9 345.8,201.7 347.5,203.5 349.3,205.4 351.0,207.2" stroke="#d2ff25" stroke-width="10.0"/>
<path d="M351.0,207.2 352.7,209.1 354.3,210.9 356.0,212.8 357.6,214.7" stroke="#ccff2b" stroke-width="10.0"/>
<path d="M357.6,214.7 359.3,216.6 360.9,218.6 362.5,220.5 364.0,222.5" stroke="#c6ff30" stroke-width="10.0"/>
<path d="M364.0,222.5 365.6,224.4 367.1,226.4 368.7,228.4 370.2,230.4 371.7,232.4" stroke="#c1ff36" stroke-width="10.0"/>
<path d="M371.7,232.4 373.2,234.4 374.7,236.5 376.1,238.5 377.6,240.5" stroke="#bbff3c" stroke-width="10.0"/>
<path d="M377.6,240.5 379.1,242.5 380.5,244.6 382.0,246.6" stroke="#b6ff41" stroke-width="10.0"/>
<path d="M382.0,246.6 383.4,248.6 384.9,250.7 386.3,252.7 387.8,254.8" stroke="#b0ff47" stroke-width="10.0"/>
<path d="M387.8,254.8 389.2,256.8 390.7,258.8 392.1,260.9" stroke="#aaff4c" stroke-width="10.0"/>
<path d="M392.1,260.9 393.6,262.9 395.1,264.9 396.5,267.0" stroke="#a5ff52" stroke-width="10.0"/>
<path d="M396.5,267.0 398.0,269.0 399.4,271.0 400.9,273.0 402.4,275.0" stroke="#9fff58" stroke-width="10.0"/>
<path d="M402.4,275.0 403.9,277.0 405.3,279.1 406.8,281.1" stroke="#99ff5d" stroke-width="10.0"/>
<path d="M406.8,281.1 408.3,283.1 409.8,285.1 411.3,287.1 412.8,289.1" stroke="#94ff63" stroke-width="10.0"/>
<path d="M412.8,289.1 414.3,291.1 415.8,293.0 417.3,295.0" stroke="#8eff69" stroke-width="10.0"/>
<path d="M417.3,295.0 418.9,297.0 420.4,299.0 421.9,300.9" stroke="#89ff6e" stroke-width="10.0"/>
<path d="M421.9,300.9 423.5,302.9 425.0,304.9 426.6,306.8" stroke="#83ff74" stroke-width="10.0"/>
<path d="M426.6,306.8 428.1,308.8 429.7,310.7" stroke="#7dff79" stroke-width="10.0"/>
<path d="M429.7,310.7 431.2,312.6 432.8,314.6 434.4,316.5" stroke="#78ff7f" stroke-width="10.0"/>
<path d="M434.4,316.5 436.0,318.4 437.6,320.3" stroke="#72ff85" stroke-width="10.0"/>
<path d="M437.6,320.3 439.2,322.2 440.8,324.1" stroke="#6cff8a" stroke-width="10.0"/>
<path d="M440.8,324.1 442.5,326.0 444.1,327.9" stroke="#67ff90" stroke-width="10.0"/>
<path d="M444.1,327.9 445.8,329.8 447.4,331.6" stroke="#61ff96" stroke-width="10.0"/>
<path d="M447.4,331.6 449.1,333.5 450.8,335.3 452.4,337.2" stroke="#5cff9b" stroke-width="10.0"/>
<path d="M452.4,337.2 454.1,339.0 455.9,340.8" stroke="#56ffa1" stroke-width="10.0"/>
<path d="M455.9,340.8 457.6,342.6 459.3,344.4" stroke="#50ffa6" stroke-width="10.0"/>
<path d="M459.3,344.4 461.1,346.1 462.8,347.9" stroke="#4bffac" stroke-width="10.0"/>
<path d="M462.8,347.9 464.6,349.7 466.4,351.4" stroke="#45ffb2" stroke-width="10.0"/>
<path d="M466.4,351.4 468.2,353.1 470.0,354.8" stroke="#3fffb7" stroke-width="10.0"/>
<path d="M470.0,354.8 471.8,356.5 473.7,358.2 475.5,359.8" stroke="#3affbd" stroke-width="10.0"/>
<path d="M475.5,359.8 477.4,361.4 479.3,363.0" stroke="#34ffc3" stroke-width="10.0"/>
<path d="M479.3,363.0 481.2,364.6 483.2,366.2" stroke="#2fffc8" stroke-width="10.0"/>
<path d="M483.2,366.2 485.1,367.7 487.1,369.2" stroke="#29ffce" stroke-width="10.0"/>
<path d="M487.1,369.2 489.1,370.7 491.1,372.2" stroke="#23ffd3" stroke-width="10.0"/>
<path d="M491.1,372.2 493.2,373.6 495.2,375.0" stroke="#1effd9" stroke-width="10.0"/>
<path d="M495.2,375.0 497.3,376.4 499.4,377.8" stroke="#18ffdf" stroke-width="10.0"/>
<path d="M499.4,377.8 501.5,379.1 503.6,380.4" stroke="#12fce4" stroke-width="10.0"/>
<path d="M503.6,380.4 505.8,381.6" stroke="#0df5ea" stroke-width="10.0"/>
<path d="M505.8,381.6 507.9,382.8 510.1,384.0" stroke="#07eef0" stroke-width="10.0"/>
<path d="M510.1,384.0 512.3,385.1" stroke="#02e7f5" stroke-width="10.0"/>
<path d="M512.3,385.1 514.6,386.2 516.8,387.3" stroke="#00e0fb" stroke-width="10.0"/>
<path d="M516.8,387.3 519.1,388.3" stroke="#00d9ff" stroke-width="10.0"/>
<path d="M519.1,388.3 521.4,389.3 523.7,390.2" stroke="#00d2ff" stroke-width="10.0"/>
<path d="M523.7,390.2 526.0,391.1" stroke="#00ccff" stroke-width="10.0"/>
<path d="M526.0,391.1 528.4,392.0" stroke="#00c5ff" stroke-width="10.0"/>
<path d="M528.4,392.0 530.7,392.8 533.1,393.5" stroke="#00beff" stroke-width="10.0"/>
<path d="M533.1,393.5 535.5,394.2" stroke="#00b7ff" stroke-width="10.0"/>
<path d="M535.5,394.2 537.9,394.8 540.3,395.4" stroke="#00b0ff" stroke-width="10.0"/>
<path d="M540.3,395.4 542.8,396.0" stroke="#00a9ff" stroke-width="10.0"/>
<path d="M542.8,396.0 545.2,396.5" stroke="#00a2ff" stroke-width="10.0"/>
<path d="M545.2,396.5 547.7,396.9" stroke="#009bff" stroke-width="10.0"/>
<path d="M547.7,396.9 550.1,397.3" stroke="#0094ff" stroke-width="10.0"/>
<path d="M550.1,397.3 552.6,397.6 555.1,397.9" stroke="#008dff" stroke-width="10.0"/>
<path d="M555.1,397.9 557.6,398.1" stroke="#0086ff" stroke-width="10.0"/>
<path d="M557.6,398.1 560.1,398.3" stroke="#007fff" stroke-width="10.0"/>
<path d="M560.1,398.3 562.6,398.4" stroke="#0078ff" stroke-width="10.0"/>
<path d="M562.6,398.4 565.1,398.5" stroke="#0071ff" stroke-width="10.0"/>
<path d="M565.1,398.5 567.6,398.6" stroke="#006aff" stroke-width="10.0"/>
<path d="M567.6,398.6 570.1,398.6" stroke="#0063ff" stroke-width="10.0"/>
<path d="M570.1,398.6 572.6,398.5 575.1,398.4" stroke="#005cff" stroke-width="10.0"/>
<path d="M575.1,398.4 577.6,398.3" stroke="#0055ff" stroke-width="10.0"/>
<path d="M577.6,398.3 580.0,398.1" stroke="#004eff" stroke-width="10.0"/>
<path d="M580.0,398.1 582.5,397.9" stroke="#0047ff" stroke-width="10.0"/>
<path d="M582.5,397.9 585.0,397.7" stroke="#0040ff" stroke-width="10.0"/>
<path d="M585.0,397.7 587.5,397.4 590.0,397.1" stroke="#0039ff" stroke-width="10.0"/>
<path d="M590.0,397.1 592.5,396.7" stroke="#0032ff" stroke-width="10.0"/>
<path d="M592.5,396.7 595.0,396.4" stroke="#002bff" stroke-width="10.0"/>
<path d="M595.0,396.4 597.4,396.0 599.9,395.5" stroke="#0024ff" stroke-width="10.0"/>
<path d="M599.9,395.5 602.3,395.1" stroke="#001dff" stroke-width="10.0"/>
<path d="M602.3,395.1 604.8,394.6" stroke="#0016ff" stroke-width="10.0"/>
<path d="M604.8,394.6 607.3,394.1" stroke="#000fff" stroke-width="10.0"/>
<path d="M607.3,394.1 609.7,393.6 612.1,393.0" stroke="#0008ff" stroke-width="10.0"/>
<path d="M612.1,393.0 614.6,392.4" stroke="#0001ff" stroke-width="10.0"/>
<path d="M614.6,392.4 617.0,391.9 619.4,391.3" stroke="#0000ff" stroke-width="10.0"/>
<path d="M619.4,391.3 621.9,390.7 624.3,390.0" stroke="#0000ff" stroke-width="10.0"/>
<path d="M624.3,390.0 626.7,389.4 629.1,388.7" stroke="#0000fa" stroke-width="10.0"/>
<path d="M629.1,388.7 631.5,388.1 633.9,387.4" stroke="#0000f2" stroke-width="10.0"/>
<path d="M633.9,387.4 636.4,386.7 638.8,386.0" stroke="#0000ea" stroke-width="10.0"/>
<path d="M638.8,386.0 641.2,385.3 643.6,384.6" stroke="#0000e2" stroke-width="10.0"/>
<path d="M643.6,384.6 646.0,383.9 648.4,383.2" stroke="#0000da" stroke-width="10.0"/>
<path d="M648.4,383.2 650.8,382.5 653.2,381.8 655.6,381.1 658.0,380.4" stroke="#0000d2" stroke-width="10.0"/>
<path d="M658.0,380.4 660.4,379.7 662.8,379.0 665.2,378.3 667.6,377.7 670.0,377.0" stroke="#0000ca" stroke-width="10.0"/>
<path d="M670.0,377.0 672.4,376.3 674.8,375.7 677.2,375.0 679.6,374.4 682.0,373.7" stroke="#0000c2" stroke-width="10.0"/>
<path d="M682.0,373.7 684.5,373.1 686.9,372.5 689.3,372.0 691.8,371.4 694.2,370.9" stroke="#0000ba" stroke-width="10.0"/>
<path d="M694.2,370.9 696.6,370.4 699.1,369.9 701.5,369.4 704.0,368.9" stroke="#0000b3" stroke-width="10.0"/>
<path d="M704.0,368.9 706.4,368.5 708.9,368.1 711.4,367.7" stroke="#0000ab" stroke-width="10.0"/>
<path d="M711.4,367.7 713.9,367.4 716.3,367.0 718.8,366.7" stroke="#0000a3" stroke-width="10.0"/>
<path d="M718.8,366.7 721.3,366.5 723.8,366.2 726.3,366.1" stroke="#00009b" stroke-width="10.0"/>
<path d="M726.3,366.1 728.8,365.9 731.3,365.8 733.8,365.7 736.3,365.6 738.8,365.6 741.3,365.7 743.8,365.8 746.3,365.9" stroke="#000093" stroke-width="10.0"/>
<path d="M746.3,365.9 748.8,366.0 751.2,366.3 753.7,366.5 756.2,366.8 758.7,367.2 761.2,367.6 763.6,368.0 766.1,368.5 768.5,369.1 771.0,369.7 773.4,370.3 775.8,371.0 778.2,371.8 780.6,372.5 782.9,373.4" stroke="#00009b" stroke-width="10.0"/>
<path d="M782.9,373.4 785.3,374.3 787.6,375.2 789.9,376.2 792.2,377.2 794.5,378.3 796.7,379.4 799.0,380.6 801.2,381.8 803.4,383.0 805.5,384.3 807.7,385.6 809.8,387.0 811.9,388.4 813.9,389.8 816.0,391.3 818.0,392.8 820.0,394.3 822.0,395.9 823.9,397.4 825.8,399.1 827.7,400.7 829.6,402.4 831.5,404.0 833.3,405.8 835.2,407.5 837.0,409.2 838.8,411.0 840.5,412.8 842.3,414.6 844.0,416.4 845.7,418.3 847.4,420.1 849.1,422.0 850.8,423.8 852.4,425.7 854.1,427.6 855.7,429.6 857.3,431.5 858.9,433.4 860.5,435.4 862.0,437.3 863.6,439.3 865.1,441.3 866.7,443.3 868.2,445.2 869.7,447.2 871.2,449.3 872.7,451.3 874.2,453.3 875.7,455.3 877.1,457.4 878.6,459.4 880.0,461.5 881.4,463.5 882.9,465.6 884.3,467.7 885.7,469.7 887.1,471.8 888.5,473.9 889.8,476.0 891.2,478.1 892.6,480.2 893.9,482.3 895.3,484.4 896.6,486.5 898.0,488.7 899.3,490.8 900.6,492.9 901.9,495.1 903.2,497.2 904.5,499.3 905.8,501.5 907.1,503.6 908.4,505.8 909.7,507.9 911.0,510.1 912.3,512.2 913.5,514.4 914.8,516.5 916.1,518.7 917.3,520.8 918.6,523.0 919.9,525.2 921.1,527.3 922.4,529.5 923.7,531.6 924.9,533.8 926.2,535.9 927.5,538.1 928.7,540.2 930.0,542.4 931.3,544.6 932.5,546.7 933.8,548.9 935.1,551.0 936.4,553.1 937.6,555.3 938.9,557.4 940.2,559.6 941.5,561.7 942.8,563.8 944.1,565.9 945.4,568.1 946.8,570.2 948.1,572.3 949.4,574.4 950.8,576.5 952.1,578.6 953.5,580.7 954.8,582.8 956.2,584.8 957.6,586.9 959.0,589.0 960.4,591.0 961.8,593.1 963.3,595.1 964.7,597.1 966.2,599.1 967.7,601.1 969.2,603.1 970.7,605.0 972.3,606.9 973.9,608.9 975.5,610.8 977.1,612.6 978.8,614.5 980.4,616.3 982.2,618.0 983.9,619.8 985.7,621.5 987.6,623.1 989.5,624.7 991.4,626.2 993.4,627.7 995.4,629.1 997.5,630.4 999.7,631.5 1001.9,632.6 1004.2,633.5 1006.6,634.2 1009.0,634.8 1011.4,635.1 1013.9,635.2 1016.4,635.1 1018.9,634.7 1021.4,634.2" stroke="#0000a3" stroke-width="10.0"/>
<path d="M1021.4,634.2 1023.8,633.4 1026.1,632.4 1028.4,631.3 1030.6,630.0 1032.8,628.7" stroke="#0000ab" stroke-width="10.0"/>
<path d="M1032.8,628.7 1034.8,627.2 1036.8,625.6 1038.8,624.0 1040.7,622.3 1042.5,620.6 1044.3,618.8" stroke="#0000b3" stroke-width="10.0"/>
<path d="M1044.3,618.8 1046.1,617.0 1047.8,615.1 1049.5,613.2 1051.1,611.3 1052.7,609.4 1054.3,607.4" stroke="#0000ba" stroke-width="10.0"/>
<path d="M1054.3,607.4 1055.8,605.4 1057.3,603.4 1058.8,601.4 1060.3,599.3 1061.7,597.2 1063.2,595.2" stroke="#0000c2" stroke-width="10.0"/>
<path d="M1063.2,595.2 1064.6,593.1 1066.0,591.0 1067.3,588.9 1068.7,586.8" stroke="#0000ca" stroke-width="10.0"/>
<path d="M1068.7,586.8 1070.0,584.6 1071.4,582.5 1072.7,580.4" stroke="#0000d2" stroke-width="10.0"/>
<path d="M1072.7,580.4 1074.0,578.2 1075.2,576.0 1076.5,573.9 1077.8,571.7" stroke="#0000da" stroke-width="10.0"/>
<path d="M1077.8,571.7 1079.0,569.5 1080.3,567.3 1081.5,565.2 1082.7,563.0" stroke="#0000e2" stroke-width="10.0"/>
<path d="M1082.7,563.0 1083.9,560.8 1085.1,558.6 1086.3,556.4 1087.5,554.2" stroke="#0000ea" stroke-width="10.0"/>
<path d="M1087.5,554.2 1088.7,552.0 1089.9,549.7 1091.0,547.5 1092.2,545.3 1093.4,543.1" stroke="#0000f2" stroke-width="10.0"/>
<path d="M1093.4,543.1 1094.5,540.9 1095.7,538.7 1096.9,536.5 1098.0,534.3" stroke="#0000fa" stroke-width="10.0"/>
<path d="M1098.0,534.3 1099.2,532.1 1100.4,529.9 1101.6,527.7 1102.8,525.5 1104.0,523.3" stroke="#0000ff" stroke-width="10.0"/>
<path d="M1104.0,523.3 1105.2,521.1 1106.4,519.0 1107.6,516.8 1108.9,514.7 1110.2,512.5" stroke="#0000ff" stroke-width="10.0"/>
<path d="M1110.2,512.5 1111.5,510.4 1112.8,508.3 1114.1,506.2 1115.5,504.2" stroke="#0001ff" stroke-width="10.0"/>
<path d="M1115.5,504.2 1116.8,502.1 1118.3,500.1 1119.7,498.1 1121.2,496.1" stroke="#0008ff" stroke-width="10.0"/>
<path d="M1121.2,496.1 1122.7,494.1 1124.2,492.2 1125.8,490.3 1127.4,488.4" stroke="#000fff" stroke-width="10.0"/>
<path d="M1127.4,488.4 1129.0,486.6 1130.7,484.8 1132.5,483.1 1134.3,481.4" stroke="#0016ff" stroke-width="10.0"/>
<path d="M1134.3,481.4 1136.2,479.8 1138.1,478.2 1140.1,476.8" stroke="#001dff" stroke-width="10.0"/>
<path d="M1140.1,476.8 1142.1,475.5 1144.3,474.2" stroke="#0024ff" stroke-width="10.0"/>
<path d="M1144.3,474.2 1146.5,473.2 1148.8,472.2 1151.1,471.5" stroke="#002bff" stroke-width="10.0"/>
<path d="M1151.1,471.5 1153.5,470.9 1156.0,470.6" stroke="#0032ff" stroke-width="10.0"/>
<path d="M1156.0,470.6 1158.5,470.6 1161.0,470.7 1163.4,471.2" stroke="#0039ff" stroke-width="10.0"/>
<path d="M1163.4,471.2 1165.9,471.9 1168.3,472.8 1170.5,473.9 1172.7,475.2" stroke="#0040ff" stroke-width="10.0"/>
<path d="M1172.7,475.2 1174.9,476.6 1176.9,478.2 1178.8,479.8 1180.7,481.5 1182.6,483.3" stroke="#0047ff" stroke-width="10.0"/>
<path d="M1182.6,483.3 1184.3,485.1 1186.1,486.9 1187.7,488.8 1189.4,490.7 1191.0,492.7 1192.6,494.6" stroke="#004eff" stroke-width="10.0"/>
<path d="M1192.6,494.6 1194.1,496.6 1195.7,498.6 1197.2,500.6 1198.7,502.7 1200.1,504.7 1201.6,506.7 1203.0,508.8 1204.5,510.9 1205.9,512.9 1207.3,515.0 1208.7,517.1" stroke="#0055ff" stroke-width="10.0"/>
<path d="M1208.7,517.1 1210.1,519.1 1211.5,521.2 1212.9,523.3 1214.3,525.4 1215.7,527.5 1217.1,529.5 1218.5,531.6 1219.9,533.7 1221.3,535.7 1222.7,537.8 1224.1,539.8 1225.5,541.9 1226.9,543.9 1228.4,546.0 1229.8,548.0" stroke="#005cff" stroke-width="10.0"/>
<path d="M1229.8,548.0 1231.3,550.0 1232.8,552.0 1234.3,553.9 1235.8,555.9 1237.4,557.8 1239.0,559.7 1240.6,561.6 1242.2,563.5 1243.9,565.3" stroke="#0063ff" stroke-width="10.0"/>
<path d="M1243.9,565.3 1245.6,567.0 1247.4,568.8 1249.2,570.4 1251.1,572.0 1253.0,573.6" stroke="#006aff" stroke-width="10.0"/>
<path d="M1253.0,573.6 1255.0,575.0 1257.0,576.4 1259.1,577.8" stroke="#0071ff" stroke-width="10.0"/>
<path d="M1259.1,577.8 1261.2,579.0 1263.4,580.1 1265.7,581.1 1268.0,582.0" stroke="#0078ff" stroke-width="10.0"/>
<path d="M1268.0,582.0 1270.4,582.8 1272.8,583.4 1275.2,584.0" stroke="#007fff" stroke-width="10.0"/>
<path d="M1275.2,584.0 1277.6,584.4 1280.1,584.6 1282.6,584.7" stroke="#0086ff" stroke-width="10.0"/>
<path d="M1282.6,584.7 1285.1,584.7 1287.6,584.6 1290.1,584.3" stroke="#008dff" stroke-width="10.0"/>
<path d="M1290.1,584.3 1292.6,583.9 1295.0,583.4 1297.5,582.8" stroke="#0094ff" stroke-width="10.0"/>
<path d="M1297.5,582.8 1299.9,582.1 1302.3,581.3 1304.6,580.5" stroke="#009bff" stroke-width="10.0"/>
<path d="M1304.6,580.5 1307.0,579.5 1309.3,578.5 1311.6,577.5" stroke="#00a2ff" stroke-width="10.0"/>
<path d="M1311.6,577.5 1313.8,576.4 1316.0,575.2 1318.2,574.0 1320.4,572.7" stroke="#00a9ff" stroke-width="10.0"/>
<path d="M1320.4,572.7 1322.6,571.4 1324.7,570.1 1326.8,568.8" stroke="#00b0ff" stroke-width="10.0"/>
<path d="M1326.8,568.8 1328.9,567.4 1331.0,566.0 1333.1,564.5" stroke="#00b7ff" stroke-width="10.0"/>
<path d="M1333.1,564.5 1335.1,563.1 1337.2,561.6 1339.2,560.1" stroke="#00beff" stroke-width="10.0"/>
<path d="M1339.2,560.1 1341.2,558.6 1343.1,557.1" stroke="#00c5ff" stroke-width="10.0"/>
<path d="M1343.1,557.1 1345.1,555.5 1347.1,553.9 1349.0,552.3" stroke="#00ccff" stroke-width="10.0"/>
<path d="M1349.0,552.3 1350.9,550.7 1352.8,549.0 1354.7,547.3" stroke="#00d2ff" stroke-width="10.0"/>
<path d="M1354.7,547.3 1356.5,545.7 1358.4,543.9 1360.2,542.2" stroke="#00d9ff" stroke-width="10.0"/>
<path d="M1360.2,542.2 1362.0,540.5 1363.8,538.7 1365.6,536.9" stroke="#00e0fb" stroke-width="10.0"/>
<path d="M1365.6,536.9 1367.3,535.1 1369.0,533.3 1370.8,531.5" stroke="#02e7f5" stroke-width="10.0"/>
<path d="M1370.8,531.5 1372.5,529.6 1374.1,527.8 1375.8,525.9" stroke="#07eef0" stroke-width="10.0"/>
<path d="M1375.8,525.9 1377.5,524.0 1379.1,522.1 1380.7,520.2 1382.3,518.2 1383.9,516.3" stroke="#0df5ea" stroke-width="10.0"/>
<path d="M1383.9,516.3 1385.5,514.3 1387.0,512.3 1388.6,510.4 1390.1,508.4 1391.6,506.4" stroke="#12fce4" stroke-width="10.0"/>
<path d="M1391.6,506.4 1393.1,504.3 1394.6,502.3 1396.1,500.3 1397.5,498.2 1399.0,496.2" stroke="#18ffdf" stroke-width="10.0"/>
<path d="M1399.0,496.2 1400.4,494.1 1401.8,492.0 1403.2,489.9 1404.6,487.8 1406.0,485.7" stroke="#1effd9" stroke-width="10.0"/>
<path d="M1406.0,485.7 1407.3,483.6 1408.7,481.5 1410.0,479.4 1411.3,477.2 1412.6,475.1" stroke="#23ffd3" stroke-width="10.0"/>
<path d="M1412.6,475.1 1413.9,473.0 1415.2,470.8 1416.5,468.6 1417.8,466.5 1419.0,464.3 1420.3,462.1" stroke="#29ffce" stroke-width="10.0"/>
<path d="M1420.3,462.1 1421.5,459.9 1422.7,457.8 1424.0,455.6 1425.2,453.4 1426.4,451.2" stroke="#2fffc8" stroke-width="10.0"/>
<path d="M1426.4,451.2 1427.6,449.0 1428.7,446.7 1429.9,444.5 1431.1,442.3 1432.2,440.1" stroke="#34ffc3" stroke-width="10.0"/>
<path d="M1432.2,440.1 1433.4,437.8 1434.5,435.6 1435.7,433.4 1436.8,431.1 1437.9,428.9 1439.0,426.6" stroke="#3affbd" stroke-width="10.0"/>
<path d="M1439.0,426.6 1440.1,424.4 1441.2,422.1 1442.3,419.8 1443.3,417.6 1444.4,415.3 1445.5,413.0" stroke="#3fffb7" stroke-width="10.0"/>
<path d="M1445.5,413.0 1446.5,410.8 1447.6,408.5 1448.6,406.2 1449.7,403.9 1450.7,401.6 1451.7,399.3" stroke="#45ffb2" stroke-width="10.0"/>
<path d="M1451.7,399.3 1452.7,397.0 1453.7,394.7 1454.7,392.4 1455.7,390.1 1456.7,387.8" stroke="#4bffac" stroke-width="10.0"/>
<path d="M1456.7,387.8 1457.7,385.5 1458.7,383.2 1459.7,380.9 1460.6,378.6" stroke="#50ffa6" stroke-width="10.0"/>
<path d="M1460.6,378.6 1461.6,376.3 1462.5,374.0 1463.5,371.7 1464.4,369.3 1465.4,367.0" stroke="#56ffa1" stroke-width="10.0"/>
<path d="M1465.4,367.0 1466.3,364.7 1467.2,362.4 1468.2,360.0 1469.1,357.7" stroke="#5cff9b" stroke-width="10.0"/>
<path d="M1469.1,357.7 1470.0,355.4 1470.9,353.0 1471.8,350.7 1472.7,348.4 1473.6,346.0" stroke="#61ff96" stroke-width="10.0"/>
<path d="M1473.6,346.0 1474.5,343.7 1475.4,341.3 1476.3,339.0 1477.2,336.7 1478.1,334.3" stroke="#67ff90" stroke-width="10.0"/>
<path d="M1478.1,334.3 1479.0,332.0 1479.9,329.7 1480.8,327.3 1481.7,325.0" stroke="#6cff8a" stroke-width="10.0"/>
<path d="M1481.7,325.0 1482.6,322.7 1483.5,320.3 1484.4,318.0 1485.2,315.7 1486.1,313.3" stroke="#72ff85" stroke-width="10.0"/>
<path d="M1486.1,313.3 1487.0,311.0 1487.9,308.7 1488.8,306.4" stroke="#78ff7f" stroke-width="10.0"/>
<path d="M1488.8,306.4 1489.8,304.0 1490.7,301.7" stroke="#7dff79" stroke-width="10.0"/>
<path d="M1490.7,301.7 1491.6,299.4 1492.5,297.1" stroke="#83ff74" stroke-width="10.0"/>
<path d="M1492.5,297.1 1493.4,294.7" stroke="#89ff6e" stroke-width="10.0"/>
<path d="M1493.4,294.7 1494.4,292.4 1495.3,290.1" stroke="#8eff69" stroke-width="10.0"/>
<path d="M1495.3,290.1 1496.2,287.8 1497.2,285.5" stroke="#94ff63" stroke-width="10.0"/>
<path d="M1497.2,285.5 1498.1,283.2 1499.1,280.9" stroke="#99ff5d" stroke-width="10.0"/>
<path d="M1499.1,280.9 1500.0,278.6 1501.0,276.3 1502.0,274.0 1502.9,271.7 1503.9,269.4" stroke="#9fff58" stroke-width="10.0"/>
<path d="M1503.9,269.4 1504.9,267.1 1505.9,264.8 1506.8,262.5 1507.8,260.2" stroke="#a5ff52" stroke-width="10.0"/>
<path d="M1507.8,260.2 1508.8,257.9 1509.8,255.6 1510.8,253.4 1511.8,251.1" stroke="#aaff4c" stroke-width="10.0"/>
<path d="M1511.8,251.1 1512.8,248.8 1513.8,246.5 1514.8,244.2 1515.9,241.9" stroke="#b0ff47" stroke-width="10.0"/>
<path d="M1515.9,241.9 1516.9,239.6 1517.9,237.4 1518.9,235.1 1519.9,232.8" stroke="#b6ff41" stroke-width="10.0"/>
<path d="M1519.9,232.8 1520.9,230.5 1522.0,228.3 1523.0,226.0 1524.0,223.7" stroke="#bbff3c" stroke-width="10.0"/>
<path d="M1524.0,223.7 1525.1,221.4 1526.1,219.2 1527.1,216.9 1528.2,214.6" stroke="#c1ff36" stroke-width="10.0"/>
<path d="M1528.2,214.6 1529.2,212.4 1530.3,210.1 1531.4,207.8 1532.4,205.6 1533.5,203.3" stroke="#c6ff30" stroke-width="10.0"/>
<path d="M1533.5,203.3 1534.6,201.1 1535.6,198.8 1536.7,196.6 1537.8,194.3" stroke="#ccff2b" stroke-width="10.0"/>
<path d="M1537.8,194.3 1538.9,192.1 1540.0,189.9 1541.1,187.6 1542.2,185.4 1543.3,183.2" stroke="#d2ff25" stroke-width="10.0"/>
<path d="M1543.3,183.2 1544.5,181.0 1545.6,178.8 1546.8,176.6 1548.0,174.4" stroke="#d7ff1f" stroke-width="10.0"/>
<path d="M1548.0,174.4 1549.2,172.2 1550.4,170.0 1551.6,167.9 1552.8,165.7" stroke="#ddff1a" stroke-width="10.0"/>
<path d="M1552.8,165.7 1554.1,163.6 1555.4,161.5 1556.7,159.4 1558.0,157.3" stroke="#e3ff14" stroke-width="10.0"/>
<path d="M1558.0,157.3 1559.4,155.3 1560.8,153.2 1562.3,151.2" stroke="#e8ff0f" stroke-width="10.0"/>
<path d="M1562.3,151.2 1563.8,149.3 1565.3,147.4 1566.9,145.5" stroke="#eeff09" stroke-width="10.0"/>
<path d="M1566.9,145.5 1568.5,143.7 1570.2,141.9 1572.0,140.2" stroke="#f4f903" stroke-width="10.0"/>
<path d="M1572.0,140.2 1573.9,138.7 1575.8,137.2" stroke="#f9f300" stroke-width="10.0"/>
<path d="M1575.8,137.2 1577.9,136.0 1580.1,134.9" stroke="#ffec00" stroke-width="10.0"/>
<path d="M1580.1,134.9 1582.4,134.1 1584.8,133.7" stroke="#ffe600" stroke-width="10.0"/>
<path d="M1584.8,133.7 1586.0,133.6" stroke="#ffdf00" stroke-width="10.0"/>
<path d="M238.2,128.1l-0.5,10.0M243.5,128.5l-1.1,9.9M248.8,129.3l-1.8,9.8M254.1,130.5l-2.5,9.7M259.3,132.0l-3.1,9.5M264.6,133.9l-3.7,9.3M269.8,136.1l-4.1,9.1M274.9,138.6l-4.6,8.9M280.1,141.4l-4.9,8.7M285.2,144.4l-5.2,8.5M290.3,147.7l-5.5,8.3M295.3,151.1l-5.8,8.2M300.4,154.8l-6.0,8.0M305.4,158.7l-6.2,7.9M310.5,162.7l-6.3,7.8M315.5,166.8l-6.4,7.6M320.5,171.1l-6.6,7.6M325.5,175.5l-6.6,7.5M330.5,180.0l-6.7,7.4M335.5,184.6l-6.8,7.3M340.5,189.4l-6.9,7.2M345.6,194.3l-7.1,7.1M350.6,199.5l-7.2,6.9M355.6,204.9l-7.4,6.7M360.7,210.6l-7.6,6.5M365.7,216.6l-7.7,6.3M370.7,222.9l-7.9,6.1M375.7,229.5l-8.0,6.0M380.7,236.3l-8.1,5.9M385.7,243.2l-8.1,5.8M390.7,250.2l-8.2,5.8M395.6,257.1l-8.1,5.8M400.6,264.0l-8.1,5.9M405.5,270.8l-8.1,5.9M410.4,277.6l-8.0,5.9M415.4,284.2l-8.0,6.0M420.3,290.7l-7.9,6.1M425.2,297.1l-7.9,6.1M430.2,303.3l-7.8,6.2M435.1,309.4l-7.8,6.3M440.0,315.4l-7.7,6.4M444.9,321.2l-7.6,6.5M449.8,326.8l-7.5,6.6M454.7,332.2l-7.4,6.8M459.6,337.5l-7.2,6.9M464.5,342.5l-7.1,7.0M469.4,347.3l-6.9,7.2M474.2,351.9l-6.8,7.4M479.1,356.3l-6.6,7.5M483.9,360.4l-6.3,7.7M488.8,364.2l-6.1,7.9M493.6,367.8l-5.8,8.1M498.4,371.2l-5.6,8.3M503.2,374.3l-5.3,8.5M508.0,377.1l-5.0,8.7M512.8,379.7l-4.6,8.9M517.6,382.1l-4.3,9.0M522.3,384.3l-3.9,9.2M527.1,386.2l-3.5,9.4M531.9,387.9l-3.1,9.5M536.6,389.3l-2.7,9.6M541.4,390.5l-2.3,9.7M546.1,391.5l-1.9,9.8M550.8,392.3l-1.4,9.9M555.6,392.9l-1.0,9.9M560.3,393.3l-0.6,10.0M565.1,393.5l-0.3,10.0M569.9,393.6l0.1,10.0M574.7,393.4l0.4,10.0M579.5,393.1l0.7,10.0M584.3,392.7l1.0,9.9M589.1,392.2l1.3,9.9M593.9,391.5l1.5,9.9M598.8,390.6l1.8,9.8M603.6,389.7l2.0,9.8M608.5,388.7l2.1,9.8M613.4,387.6l2.3,9.7M618.3,386.4l2.4,9.7M623.2,385.1l2.5,9.7M628.1,383.8l2.6,9.6M633.0,382.5l2.7,9.6M637.9,381.1l2.8,9.6M642.9,379.6l2.8,9.6M647.8,378.2l2.8,9.6M652.8,376.7l2.8,9.6M657.7,375.3l2.8,9.6M662.7,373.8l2.8,9.6M667.7,372.4l2.7,9.6M672.7,371.0l2.6,9.6M677.7,369.7l2.5,9.7M682.7,368.4l2.4,9.7M687.7,367.2l2.3,9.7M692.7,366.1l2.1,9.8M697.8,365.0l2.0,9.8M702.8,364.0l1.8,9.8M707.9,363.2l1.6,9.9M713.0,362.4l1.4,9.9M718.0,361.8l1.1,9.9M723.1,361.3l0.9,10.0M728.2,360.9l0.6,10.0M731.2,360.8l0.4,10.0M734.1,360.7l0.2,10.0M737.1,360.6l0.0,10.0M740.0,360.7l-0.1,10.0M743.0,360.7l-0.3,10.0M745.9,360.9l-0.5,10.0M748.9,361.0l-0.7,10.0M751.9,361.3l-0.9,10.0M754.8,361.6l-1.2,9.9M757.8,362.0l-1.4,9.9M760.8,362.4l-1.6,9.9M763.7,363.0l-1.8,9.8M766.7,363.5l-2.1,9.8M769.7,364.2l-2.3,9.7M772.7,364.9l-2.5,9.7M775.6,365.8l-2.7,9.6M778.6,366.6l-3.0,9.5M781.6,367.6l-3.2,9.5M784.6,368.7l-3.4,9.4M787.5,369.8l-3.7,9.3M790.5,371.0l-3.9,9.2M793.5,372.3l-4.1,9.1M796.5,373.7l-4.3,9.0M799.4,375.2l-4.6,8.9M802.4,376.7l-4.8,8.8M805.4,378.4l-5.0,8.7M808.3,380.2l-5.2,8.5M811.3,382.0l-5.4,8.4M814.2,384.0l-5.6,8.3M817.2,386.0l-5.8,8.2M820.1,388.1l-6.0,8.0M823.1,390.4l-6.1,7.9M826.0,392.7l-6.3,7.8M829.0,395.2l-6.5,7.6M831.9,397.7l-6.6,7.5M834.8,400.3l-6.8,7.4M837.8,403.1l-6.9,7.3M840.7,405.9l-7.0,7.1M843.6,408.8l-7.1,7.0M846.5,411.8l-7.2,6.9M849.4,414.9l-7.3,6.8M852.3,418.1l-7.4,6.7M855.2,421.4l-7.5,6.6M858.1,424.7l-7.6,6.5M861.0,428.2l-7.7,6.4M863.9,431.7l-7.8,6.3M866.8,435.3l-7.8,6.2M869.7,439.0l-7.9,6.1M872.6,442.8l-8.0,6.0M875.5,446.7l-8.0,6.0M878.4,450.6l-8.1,5.9M881.3,454.6l-8.1,5.8M884.2,458.7l-8.2,5.7M887.1,462.9l-8.2,5.7M889.9,467.1l-8.3,5.6M892.8,471.5l-8.3,5.5M895.7,475.9l-8.4,5.5M898.6,480.3l-8.4,5.4M901.5,484.9l-8.5,5.3M904.3,489.5l-8.5,5.3M907.2,494.1l-8.5,5.2M910.1,498.9l-8.6,5.2M913.0,503.6l-8.6,5.1M915.8,508.4l-8.6,5.1M918.7,513.3l-8.6,5.1M921.6,518.2l-8.6,5.1M924.4,523.0l-8.6,5.1M927.3,527.9l-8.6,5.1M930.2,532.8l-8.6,5.1M933.0,537.7l-8.6,5.1M935.9,542.5l-8.6,5.1M938.7,547.3l-8.6,5.1M941.6,552.1l-8.6,5.1M944.4,556.8l-8.6,5.2M947.3,561.5l-8.5,5.2M950.1,566.1l-8.5,5.3M952.9,570.6l-8.5,5.3M955.8,575.1l-8.4,5.4M958.6,579.4l-8.4,5.5M961.4,583.7l-8.3,5.6M964.3,587.8l-8.2,5.7M967.1,591.8l-8.1,5.8M969.9,595.7l-8.0,6.0M972.7,599.4l-7.9,6.1M975.5,603.0l-7.8,6.3M978.3,606.3l-7.6,6.4M981.1,609.5l-7.5,6.7M983.8,612.5l-7.3,6.9M986.6,615.3l-7.0,7.1M989.3,617.9l-6.7,7.4M992.0,620.3l-6.4,7.7M994.6,622.4l-6.0,8.0M997.3,624.3l-5.6,8.3M999.9,625.9l-5.0,8.6M1002.4,627.3l-4.4,9.0M1004.9,628.4l-3.7,9.3M1007.3,629.2l-2.8,9.6M1009.7,629.8l-1.9,9.8M1012.1,630.2l-0.9,10.0M1014.4,630.2l0.2,10.0M1019.0,629.6l2.3,9.7M1023.9,627.9l4.1,9.1M1029.0,625.2l5.4,8.4M1034.2,621.4l6.3,7.7M1039.6,616.5l7.0,7.1M1045.0,610.7l7.5,6.6M1050.6,604.0l7.9,6.2M1056.1,596.5l8.2,5.8M1061.8,588.3l8.4,5.5M1067.4,579.4l8.5,5.2M1073.0,569.9l8.7,5.0M1078.7,559.9l8.8,4.8M1084.4,549.4l8.8,4.7M1090.1,538.6l8.8,4.7M1095.8,527.8l8.8,4.7M1101.6,517.3l8.7,4.9M1107.4,507.5l8.5,5.3M1113.3,498.5l8.2,5.7M1119.2,490.5l7.9,6.2M1125.1,483.4l7.3,6.8M1131.2,477.5l6.6,7.5M1137.4,472.6l5.6,8.3M1143.8,468.9l4.3,9.0M1150.4,466.5l2.4,9.7M1157.3,465.6l0.2,10.0M1164.2,466.2l-2.1,9.8M1170.9,468.5l-4.2,9.1M1177.4,472.3l-5.8,8.2M1183.6,477.4l-6.8,7.4M1189.6,483.4l-7.4,6.7M1195.6,490.4l-7.8,6.3M1201.4,497.9l-8.0,5.9M1207.2,506.0l-8.2,5.7M1213.0,514.4l-8.3,5.6M1218.7,522.9l-8.3,5.6M1224.4,531.4l-8.3,5.6M1230.0,539.6l-8.2,5.7M1235.7,547.5l-8.0,6.0M1241.3,554.6l-7.7,6.3M1246.8,561.0l-7.3,6.8M1252.2,566.3l-6.7,7.4M1257.5,570.7l-5.9,8.1M1262.7,574.1l-4.9,8.7M1267.9,576.6l-3.8,9.2M1273.0,578.3l-2.6,9.7M1278.1,579.4l-1.3,9.9M1283.1,579.7l-0.1,10.0M1288.3,579.5l1.1,9.9M1293.5,578.6l2.1,9.8M1298.8,577.2l3.0,9.5M1304.1,575.3l3.7,9.3M1309.5,572.9l4.3,9.0M1315.0,570.1l4.8,8.8M1320.5,566.9l5.2,8.5M1326.1,563.3l5.5,8.3M1331.6,559.4l5.8,8.1M1337.2,555.3l6.1,8.0M1342.8,550.9l6.3,7.8M1348.4,546.2l6.6,7.5M1354.0,541.2l6.8,7.3M1359.6,535.8l7.0,7.1M1365.2,530.1l7.3,6.9M1370.8,524.0l7.5,6.7M1376.4,517.5l7.7,6.4M1382.1,510.6l7.8,6.2M1387.7,503.3l8.0,6.0M1393.3,495.5l8.2,5.8M1399.0,487.3l8.3,5.5M1404.6,478.6l8.5,5.3M1410.3,469.4l8.6,5.1M1415.9,459.7l8.7,5.0M1421.6,449.5l8.8,4.8M1427.3,438.8l8.9,4.6M1432.9,427.6l9.0,4.4M1438.6,415.9l9.0,4.3M1444.3,403.6l9.1,4.1M1450.0,390.9l9.2,4.0M1455.7,377.5l9.2,3.9M1461.3,363.6l9.3,3.7M1467.0,349.2l9.3,3.6M1472.7,334.4l9.3,3.6M1478.5,319.4l9.3,3.6M1484.2,304.5l9.3,3.6M1489.9,290.1l9.3,3.7M1495.7,276.1l9.2,3.8M1501.4,262.5l9.2,3.9M1507.1,249.3l9.2,4.0M1512.9,236.4l9.1,4.1M1518.6,223.6l9.1,4.1M1524.3,211.1l9.1,4.2M1530.1,198.9l9.0,4.3M1535.8,187.1l9.0,4.4M1541.6,175.8l8.8,4.7M1547.4,165.2l8.7,5.0M1553.2,155.6l8.4,5.4M1559.2,147.1l8.0,6.0M1565.2,139.8l7.2,6.9M1571.6,134.1l6.0,8.0M1578.4,130.2l3.8,9.3" stroke="#7a7a7a" stroke-opacity="0.3" stroke-width="0.9"/>
</g>
<g><path d="M233.0,133.8 235.5,134.0 238.0,134.6 240.4,135.4 242.7,136.5 244.9,137.9 246.9,139.4 248.9,141.0 250.8,142.8 252.5,144.6 254.2,146.6 255.8,148.5 257.4,150.6 258.9,152.6 260.4,154.7 261.8,156.8 263.1,158.9 264.5,161.1 265.8,163.3 267.0,165.4 268.3,167.6 269.5,169.8 270.7,172.1 271.9,174.3 273.0,176.5 274.1,178.8 275.3,181.0 276.4,183.3 277.5,185.6 278.5,187.8 279.6,190.1 280.7,192.4 281.7,194.7 282.7,197.0 283.8,199.3 284.8,201.6 285.8,203.9 286.8,206.2 287.8,208.5 288.7,210.8 289.7,213.1 290.7,215.4 291.6,217.7 292.6,220.0 293.6,222.4 294.5,224.7 295.5,227.0 296.4,229.3 297.3,231.6 298.3,234.0 299.2,236.3 300.1,238.6 301.1,240.9 302.0,243.3 302.9,245.6 303.8,247.9 304.7,250.2 305.7,252.6 306.6,254.9 307.5,257.2 308.4,259.5 309.3,261.9 310.2,264.2 311.2,266.5 312.1,268.9 313.0,271.2 313.9,273.5 314.8,275.8 315.7,278.2 316.6,280.5 317.5,282.8 318.4,285.2 319.3,287.5 320.3,289.8 321.2,292.1 322.1,294.5 323.0,296.8 323.9,299.1 324.8,301.5 325.7,303.8 326.6,306.1 327.6,308.4 328.5,310.8 329.4,313.1 330.3,315.4 331.2,317.7 332.2,320.0 333.1,322.4 334.0,324.7 334.9,327.0 335.9,329.3 336.8,331.6 337.7,334.0 338.6,336.3 339.6,338.6 340.5,340.9 341.5,343.2 342.4,345.5 343.4,347.8 344.3,350.1 345.3,352.5 346.2,354.8 347.2,357.1 348.1,359.4 349.1,361.7 350.1,364.0 351.0,366.3 352.0,368.6 353.0,370.9 354.0,373.1 355.0,375.4 356.0,377.7 357.0,380.0 358.0,382.3 359.0,384.6 360.0,386.8 361.0,389.1 362.0,391.4 363.1,393.7 364.1,395.9 365.2,398.2 366.2,400.4 367.3,402.7 368.3,405.0 369.4,407.2 370.5,409.4 371.6,411.7 372.7,413.9 373.8,416.1 374.9,418.4 376.0,420.6 377.2,422.8 378.3,425.0 379.5,427.2 380.7,429.4 381.9,431.6 383.1,433.7 384.3,435.9 385.5,438.1 386.8,440.2 388.0,442.4 389.3,444.5 390.6,446.6 391.9,448.7 393.2,450.8 394.6,452.9 396.0,454.9 397.4,457.0 398.8,459.0 400.2,461.0 401.7,463.0 403.2,465.0 404.7,467.0 406.3,468.9 407.8,470.8 409.4,472.7 411.0,474.6 412.7,476.4 414.4,478.3 416.1,480.0 417.9,481.8 419.6,483.5 421.5,485.2 423.3,486.8 425.2,488.4 427.2,490.0 429.1,491.4 431.1,492.9 433.2,494.3 435.3,495.6 437.4,496.8 439.6,498.0 441.8,499.1 444.1,500.2 446.4,501.1 448.7,502.0 451.1,502.7 453.5,503.4 455.9,503.9 458.3,504.4 460.8,504.7 463.3,505.0 465.8,505.1 468.3,505.1 470.8,505.0 473.3,504.8 475.8,504.5 478.2,504.1 480.7,503.6 483.1,503.0 485.5,502.4 487.9,501.6 490.3,500.8 492.7,499.8 495.0,498.9 497.3,497.8 499.5,496.7 501.7,495.5 503.9,494.3 506.1,493.0 508.2,491.7 510.4,490.3 512.4,488.9 514.5,487.5 516.5,486.0 518.5,484.5 520.5,482.9 522.5,481.4 524.4,479.8 526.4,478.1 528.3,476.5 530.1,474.8 532.0,473.1 533.8,471.4 535.7,469.7 537.5,468.0 539.2,466.2 541.0,464.4 542.8,462.6 544.5,460.8 546.2,459.0 548.0,457.2 549.7,455.3 551.4,453.5 553.0,451.6 554.7,449.7 556.3,447.8 558.0,445.9 559.6,444.0 561.2,442.1 562.9,440.2 564.5,438.3 566.0,436.3 567.6,434.4 569.2,432.4 570.8,430.5 572.3,428.5 573.9,426.6 575.4,424.6 577.0,422.6 578.5,420.6 580.0,418.6 581.6,416.7 583.1,414.7 584.6,412.7 586.1,410.7 587.6,408.7 589.1,406.6 590.6,404.6 592.1,402.6 593.5,400.6 595.0,398.6 596.5,396.6 598.0,394.5 599.4,392.5 600.9,390.5 602.3,388.4 603.8,386.4 605.3,384.4 606.7,382.3 608.2,380.3 609.6,378.2 611.0,376.2 612.5,374.2 613.9,372.1 615.4,370.1 616.8,368.0 618.2,366.0 619.7,363.9 621.1,361.9 622.6,359.8 624.0,357.8 625.4,355.7 626.9,353.7 628.3,351.6 629.7,349.6 631.2,347.6 632.6,345.5 634.0,343.5 635.5,341.4 636.9,339.4 638.3,337.3 639.8,335.3 641.2,333.2 642.7,331.2 644.1,329.2 645.6,327.1 647.0,325.1 648.5,323.1 649.9,321.0 651.4,319.0 652.8,317.0 654.3,315.0 655.8,313.0 657.3,311.0 658.8,309.0 660.3,307.0 661.8,305.0 663.3,303.0 664.9,301.1 666.4,299.1 667.9,297.2 669.5,295.2 671.1,293.3 672.7,291.4 674.3,289.5 675.9,287.6 677.6,285.8 679.2,283.9 680.9,282.1 682.6,280.3 684.3,278.5 686.1,276.7 687.9,275.0 689.7,273.3 691.5,271.6 693.4,270.0 695.3,268.4 697.2,266.9 699.2,265.4 701.2,263.9 703.3,262.6 705.4,261.3 707.5,260.0 709.7,258.9 711.9,257.9 714.2,256.9 716.6,256.1 719.0,255.4 721.4,254.9 723.8,254.4 726.3,254.0 728.8,253.7 731.3,253.5 733.7,253.3 736.2,253.2 738.7,253.1 741.2,253.0 743.7,252.8 746.2,252.7 748.7,252.5 751.2,252.2 753.7,251.9 756.2,251.5 758.6,251.1 761.1,250.5 763.5,250.0 766.0,249.3 768.4,248.6 770.8,247.9 773.1,247.0 775.5,246.2 777.8,245.3 780.1,244.3 782.4,243.3 784.7,242.2 787.0,241.1 789.2,239.9 791.4,238.8 793.6,237.5 795.8,236.3 797.9,235.0 800.0,233.6 802.1,232.3 804.2,230.9 806.3,229.4 808.3,228.0 810.4,226.5 812.4,225.0 814.4,223.4 816.3,221.9 818.3,220.3 820.2,218.7 822.1,217.0 824.0,215.4 825.9,213.7 827.7,212.0 829.6,210.3 831.4,208.6 833.2,206.8 835.0,205.1 836.8,203.3 838.5,201.5 840.3,199.7 842.0,197.9 843.7,196.1 845.4,194.2 847.1,192.4 848.8,190.5 850.5,188.6 852.1,186.7 853.8,184.8 855.4,182.9 857.0,181.0 858.6,179.1 860.2,177.2 861.8,175.2 863.4,173.3 865.0,171.3 866.6,169.4 868.1,167.4 869.7,165.5 871.2,163.5 872.8,161.5 874.3,159.5 875.8,157.6 877.3,155.6 878.9,153.6 880.4,151.6 881.9,149.6 883.4,147.6 884.9,145.6 886.4,143.6 887.9,141.6 889.4,139.6 890.8,137.5 892.3,135.5 893.8,133.5 895.3,131.5 896.8,129.5 898.2,127.4 899.7,125.4 901.2,123.4 902.6,121.4 904.1,119.3 905.6,117.3 907.0,115.3 908.5,113.2 909.9,111.2 911.4,109.2 912.9,107.1 914.3,105.1 915.8,103.1 917.2,101.1 918.7,99.0 920.1,97.0 921.6,95.0 923.1,92.9 924.5,90.9 926.0,88.9 927.5,86.9 928.9,84.9 930.4,82.8 931.9,80.8 933.4,78.8 934.8,76.8 936.3,74.8 937.8,72.8 939.3,70.8 940.8,68.8 942.3,66.8 943.8,64.8 945.3,62.8 946.8,60.8 948.3,58.8 949.8,56.8 951.3,54.8 952.9,52.9 954.4,50.9 956.0,48.9 957.5,47.0 959.1,45.0 960.6,43.1 962.2,41.2 963.8,39.2 964.0,38.9" stroke="#808080" stroke-width="12.3"/>
<path d="M233.0,133.8 235.5,134.0" stroke="#ffdf00" stroke-width="10.0"/>
<path d="M235.5,134.0 238.0,134.6 240.4,135.4" stroke="#ffe600" stroke-width="10.0"/>
<path d="M240.4,135.4 242.7,136.5" stroke="#ffec00" stroke-width="10.0"/>
<path d="M242.7,136.5 244.9,137.9 246.9,139.4" stroke="#f9f300" stroke-width="10.0"/>
<path d="M246.9,139.4 248.9,141.0" stroke="#f4f903" stroke-width="10.0"/>
<path d="M248.9,141.0 250.8,142.8 252.5,144.6" stroke="#eeff09" stroke-width="10.0"/>
<path d="M252.5,144.6 254.2,146.6 255.8,148.5 257.4,150.6 258.9,152.6" stroke="#e8ff0f" stroke-width="10.0"/>
<path d="M258.9,152.6 260.4,154.7 261.8,156.8 263.1,158.9 264.5,161.1 265.8,163.3" stroke="#e3ff14" stroke-width="10.0"/>
<path d="M265.8,163.3 267.0,165.4 268.3,167.6 269.5,169.8 270.7,172.1 271.9,174.3 273.0,176.5" stroke="#ddff1a" stroke-width="10.0"/>
<path d="M273.0,176.5 274.1,178.8 275.3,181.0 276.4,183.3 277.5,185.6 278.5,187.8 279.6,190.1" stroke="#d7ff1f" stroke-width="10.0"/>
<path d="M279.6,190.1 280.7,192.4 281.7,194.7 282.7,197.0 283.8,199.3 284.8,201.6 285.8,203.9 286.8,206.2 287.8,208.5 288.7,210.8" stroke="#d2ff25" stroke-width="10.0"/>
<path d="M288.7,210.8 289.7,213.1 290.7,215.4 291.6,217.7 292.6,220.0 293.6,222.4 294.5,224.7 295.5,227.0 296.4,229.3 297.3,231.6 298.3,234.0 299.2,236.3" stroke="#ccff2b" stroke-width="10.0"/>
<path d="M299.2,236.3 300.1,238.6 301.1,240.9 302.0,243.3 302.9,245.6 303.8,247.9 304.7,250.2" stroke="#c6ff30" stroke-width="10.0"/>
<path d="M304.7,250.2 305.7,252.6 306.6,254.9" stroke="#c1ff36" stroke-width="10.0"/>
<path d="M306.6,254.9 307.5,257.2" stroke="#bbff3c" stroke-width="10.0"/>
<path d="M307.5,257.2 308.4,259.5 309.3,261.9" stroke="#b6ff41" stroke-width="10.0"/>
<path d="M309.3,261.9 310.2,264.2" stroke="#b0ff47" stroke-width="10.0"/>
<path d="M310.2,264.2 311.2,266.5 312.1,268.9" stroke="#aaff4c" stroke-width="10.0"/>
<path d="M312.1,268.9 313.0,271.2" stroke="#a5ff52" stroke-width="10.0"/>
<path d="M313.0,271.2 313.9,273.5 314.8,275.8" stroke="#9fff58" stroke-width="10.0"/>
<path d="M314.8,275.8 315.7,278.2 316.6,280.5" stroke="#99ff5d" stroke-width="10.0"/>
<path d="M316.6,280.5 317.5,282.8 318.4,285.2 319.3,287.5 320.3,289.8" stroke="#94ff63" stroke-width="10.0"/>
<path d="M320.3,289.8 321.2,292.1 322.1,294.5 323.0,296.8 323.9,299.1" stroke="#8eff69" stroke-width="10.0"/>
<path d="M323.9,299.1 324.8,301.5 325.7,303.8 326.6,306.1" stroke="#89ff6e" stroke-width="10.0"/>
<path d="M326.6,306.1 327.6,308.4 328.5,310.8 329.4,313.1 330.3,315.4" stroke="#83ff74" stroke-width="10.0"/>
<path d="M330.3,315.4 331.2,317.7 332.2,320.0 333.1,322.4" stroke="#7dff79" stroke-width="10.0"/>
<path d="M333.1,322.4 334.0,324.7 334.9,327.0 335.9,329.3 336.8,331.6" stroke="#78ff7f" stroke-width="10.0"/>
<path d="M336.8,331.6 337.7,334.0 338.6,336.3 339.6,338.6" stroke="#72ff85" stroke-width="10.0"/>
<path d="M339.6,338.6 340.5,340.9 341.5,343.2 342.4,345.5" stroke="#6cff8a" stroke-width="10.0"/>
<path d="M342.4,345.5 343.4,347.8 344.3,350.1 345.3,352.5 346.2,354.8" stroke="#67ff90" stroke-width="10.0"/>
<path d="M346.2,354.8 347.2,357.1 348.1,359.4 349.1,361.7" stroke="#61ff96" stroke-width="10.0"/>
<path d="M349.1,361.7 350.1,364.0 351.0,366.3 352.0,368.6" stroke="#5cff9b" stroke-width="10.0"/>
<path d="M352.0,368.6 353.0,370.9 354.0,373.1 355.0,375.4 356.0,377.7" stroke="#56ffa1" stroke-width="10.0"/>
<path d="M356.0,377.7 357.0,380.0 358.0,382.3 359.0,384.6" stroke="#50ffa6" stroke-width="10.0"/>
<path d="M359.0,384.6 360.0,386.8 361.0,389.1 362.0,391.4 363.1,393.7" stroke="#4bffac" stroke-width="10.0"/>
<path d="M363.1,393.7 364.1,395.9 365.2,398.2 366.2,400.4 367.3,402.7 368.3,405.0" stroke="#45ffb2" stroke-width="10.0"/>
<path d="M368.3,405.0 369.4,407.2 370.5,409.4 371.6,411.7 372.7,413.9" stroke="#3fffb7" stroke-width="10.0"/>
<path d="M372.7,413.9 373.8,416.1 374.9,418.4 376.0,420.6 377.2,422.8 378.3,425.0" stroke="#3affbd" stroke-width="10.0"/>
<path d="M378.3,425.0 379.5,427.2 380.7,429.4 381.9,431.6 383.1,433.7" stroke="#34ffc3" stroke-width="10.0"/>
<path d="M383.1,433.7 384.3,435.9 385.5,438.1 386.8,440.2 388.0,442.4" stroke="#2fffc8" stroke-width="10.0"/>
<path d="M388.0,442.4 389.3,444.5 390.6,446.6 391.9,448.7 393.2,450.8" stroke="#29ffce" stroke-width="10.0"/>
<path d="M393.2,450.8 394.6,452.9 396.0,454.9 397.4,457.0 398.8,459.0" stroke="#23ffd3" stroke-width="10.0"/>
<path d="M398.8,459.0 400.2,461.0 401.7,463.0 403.2,465.0" stroke="#1effd9" stroke-width="10.0"/>
<path d="M403.2,465.0 404.7,467.0 406.3,468.9 407.8,470.8" stroke="#18ffdf" stroke-width="10.0"/>
<path d="M407.8,470.8 409.4,472.7 411.0,474.6 412.7,476.4" stroke="#12fce4" stroke-width="10.0"/>
<path d="M412.7,476.4 414.4,478.3 416.1,480.0 417.9,481.8" stroke="#0df5ea" stroke-width="10.0"/>
<path d="M417.9,481.8 419.6,483.5 421.5,485.2 423.3,486.8" stroke="#07eef0" stroke-width="10.0"/>
<path d="M423.3,486.8 425.2,488.4 427.2,490.0 429.1,491.4" stroke="#02e7f5" stroke-width="10.0"/>
<path d="M429.1,491.4 431.1,492.9 433.2,494.3" stroke="#00e0fb" stroke-width="10.0"/>
<path d="M433.2,494.3 435.3,495.6 437.4,496.8" stroke="#00d9ff" stroke-width="10.0"/>
<path d="M437.4,496.8 439.6,498.0 441.8,499.1" stroke="#00d2ff" stroke-width="10.0"/>
<path d="M441.8,499.1 444.1,500.2 446.4,501.1 448.7,502.0" stroke="#00ccff" stroke-width="10.0"/>
<path d="M448.7,502.0 451.1,502.7 453.5,503.4" stroke="#00c5ff" stroke-width="10.0"/>
<path d="M453.5,503.4 455.9,503.9 458.3,504.4" stroke="#00beff" stroke-width="10.0"/>
<path d="M458.3,504.4 460.8,504.7 463.3,505.0" stroke="#00b7ff" stroke-width="10.0"/>
<path d="M463.3,505.0 465.8,505.1" stroke="#00b0ff" stroke-width="10.0"/>
<path d="M465.8,505.1 468.3,505.1 470.8,505.0" stroke="#00a9ff" stroke-width="10.0"/>
<path d="M470.8,505.0 473.3,504.8 475.8,504.5 478.2,504.1" stroke="#00a2ff" stroke-width="10.0"/>
<path d="M478.2,504.1 480.7,503.6 483.1,503.0" stroke="#009bff" stroke-width="10.0"/>
<path d="M483.1,503.0 485.5,502.4 487.9,501.6" stroke="#0094ff" stroke-width="10.0"/>
<path d="M487.9,501.6 490.3,500.8 492.7,499.8" stroke="#008dff" stroke-width="10.0"/>
<path d="M492.7,499.8 495.0,498.9 497.3,497.8" stroke="#0086ff" stroke-width="10.0"/>
<path d="M497.3,497.8 499.5,496.7 501.7,495.5 503.9,494.3" stroke="#007fff" stroke-width="10.0"/>
<path d="M503.9,494.3 506.1,493.0 508.2,491.7" stroke="#0078ff" stroke-width="10.0"/>
<path d="M508.2,491.7 510.4,490.3 512.4,488.9" stroke="#0071ff" stroke-width="10.0"/>
<path d="M512.4,488.9 514.5,487.5 516.5,486.0 518.5,484.5" stroke="#006aff" stroke-width="10.0"/>
<path d="M518.5,484.5 520.5,482.9 522.5,481.4 524.4,479.8" stroke="#0063ff" stroke-width="10.0"/>
<path d="M524.4,479.8 526.4,478.1 528.3,476.5 530.1,474.8 532.0,473.1" stroke="#005cff" stroke-width="10.0"/>
<path d="M532.0,473.1 533.8,471.4 535.7,469.7 537.5,468.0 539.2,466.2" stroke="#0055ff" stroke-width="10.0"/>
<path d="M539.2,466.2 541.0,464.4 542.8,462.6 544.5,460.8 546.2,459.0 548.0,457.2" stroke="#004eff" stroke-width="10.0"/>
<path d="M548.0,457.2 549.7,455.3 551.4,453.5 553.0,451.6 554.7,449.7" stroke="#0047ff" stroke-width="10.0"/>
<path d="M554.7,449.7 556.3,447.8 558.0,445.9 559.6,444.0 561.2,442.1 562.9,440.2" stroke="#0040ff" stroke-width="10.0"/>
<path d="M562.9,440.2 564.5,438.3 566.0,436.3 567.6,434.4 569.2,432.4" stroke="#0039ff" stroke-width="10.0"/>
<path d="M569.2,432.4 570.8,430.5 572.3,428.5 573.9,426.6 575.4,424.6 577.0,422.6" stroke="#0032ff" stroke-width="10.0"/>
<path d="M577.0,422.6 578.5,420.6 580.0,418.6 581.6,416.7 583.1,414.7 584.6,412.7" stroke="#002bff" stroke-width="10.0"/>
<path d="M584.6,412.7 586.1,410.7 587.6,408.7 589.1,406.6 590.6,404.6 592.1,402.6 593.5,400.6" stroke="#0024ff" stroke-width="10.0"/>
<path d="M593.5,400.6 595.0,398.6 596.5,396.6 598.0,394.5 599.4,392.5 600.9,390.5" stroke="#001dff" stroke-width="10.0"/>
<path d="M600.9,390.5 602.3,388.4 603.8,386.4 605.3,384.4 606.7,382.3 608.2,380.3 609.6,378.2" stroke="#0016ff" stroke-width="10.0"/>
<path d="M609.6,378.2 611.0,376.2 612.5,374.2 613.9,372.1 615.4,370.1 616.8,368.0 618.2,366.0" stroke="#000fff" stroke-width="10.0"/>
<path d="M618.2,366.0 619.7,363.9 621.1,361.9 622.6,359.8 624.0,357.8 625.4,355.7 626.9,353.7" stroke="#0008ff" stroke-width="10.0"/>
<path d="M626.9,353.7 628.3,351.6 629.7,349.6 631.2,347.6 632.6,345.5 634.0,343.5 635.5,341.4 636.9,339.4" stroke="#0001ff" stroke-width="10.0"/>
<path d="M636.9,339.4 638.3,337.3 639.8,335.3 641.2,333.2 642.7,331.2 644.1,329.2 645.6,327.1 647.0,325.1 648.5,323.1" stroke="#0000ff" stroke-width="10.0"/>
<path d="M648.5,323.1 649.9,321.0 651.4,319.0 652.8,317.0 654.3,315.0 655.8,313.0 657.3,311.0 658.8,309.0 660.3,307.0" stroke="#0000ff" stroke-width="10.0"/>
<path d="M660.3,307.0 661.8,305.0 663.3,303.0 664.9,301.1 666.4,299.1 667.9,297.2 669.5,295.2 671.1,293.3" stroke="#0000fa" stroke-width="10.0"/>
<path d="M671.1,293.3 672.7,291.4 674.3,289.5 675.9,287.6 677.6,285.8 679.2,283.9 680.9,282.1 682.6,280.3" stroke="#0000f2" stroke-width="10.0"/>
<path d="M682.6,280.3 684.3,278.5 686.1,276.7 687.9,275.0 689.7,273.3 691.5,271.6 693.4,270.0 695.3,268.4" stroke="#0000ea" stroke-width="10.0"/>
<path d="M695.3,268.4 697.2,266.9 699.2,265.4 701.2,263.9 703.3,262.6 705.4,261.3" stroke="#0000e2" stroke-width="10.0"/>
<path d="M705.4,261.3 707.5,260.0 709.7,258.9 711.9,257.9" stroke="#0000da" stroke-width="10.0"/>
<path d="M711.9,257.9 714.2,256.9 716.6,256.1 719.0,255.4" stroke="#0000d2" stroke-width="10.0"/>
<path d="M719.0,255.4 721.4,254.9 723.8,254.4 726.3,254.0" stroke="#0000ca" stroke-width="10.0"/>
<path d="M726.3,254.0 728.8,253.7 731.3,253.5 733.7,253.3 736.2,253.2 738.7,253.1 741.2,253.0 743.7,252.8" stroke="#0000c2" stroke-width="10.0"/>
<path d="M743.7,252.8 746.2,252.7 748.7,252.5 751.2,252.2 753.7,251.9 756.2,251.5 758.6,251.1 761.1,250.5 763.5,250.0 766.0,249.3 768.4,248.6 770.8,247.9" stroke="#0000ca" stroke-width="10.0"/>
<path d="M770.8,247.9 773.1,247.0 775.5,246.2 777.8,245.3 780.1,244.3 782.4,243.3 784.7,242.2 787.0,241.1 789.2,239.9 791.4,238.8 793.6,237.5 795.8,236.3 797.9,235.0 800.0,233.6" stroke="#0000d2" stroke-width="10.0"/>
<path d="M800.0,233.6 802.1,232.3 804.2,230.9 806.3,229.4 808.3,228.0 810.4,226.5 812.4,225.0 814.4,223.4 816.3,221.9 818.3,220.3 820.2,218.7 822.1,217.0 824.0,215.4 825.9,213.7 827.7,212.0" stroke="#0000da" stroke-width="10.0"/>
<path d="M827.7,212.0 829.6,210.3 831.4,208.6 833.2,206.8 835.0,205.1 836.8,203.3 838.5,201.5 840.3,199.7 842.0,197.9 843.7,196.1" stroke="#0000e2" stroke-width="10.0"/>
<path d="M843.7,196.1 845.4,194.2 847.1,192.4 848.8,190.5 850.5,188.6" stroke="#0000ea" stroke-width="10.0"/>
<path d="M850.5,188.6 852.1,186.7 853.8,184.8 855.4,182.9 857.0,181.0" stroke="#0000f2" stroke-width="10.0"/>
<path d="M857.0,181.0 858.6,179.1 860.2,177.2 861.8,175.2 863.4,173.3" stroke="#0000fa" stroke-width="10.0"/>
<path d="M863.4,173.3 865.0,171.3 866.6,169.4 868.1,167.4 869.7,165.5 871.2,163.5" stroke="#0000ff" stroke-width="10.0"/>
<path d="M871.2,163.5 872.8,161.5 874.3,159.5 875.8,157.6 877.3,155.6" stroke="#0000ff" stroke-width="10.0"/>
<path d="M877.3,155.6 878.9,153.6 880.4,151.6 881.9,149.6 883.4,147.6 884.9,145.6 886.4,143.6 887.9,141.6 889.4,139.6 890.8,137.5 892.3,135.5 893.8,133.5 895.3,131.5 896.8,129.5 898.2,127.4 899.7,125.4 901.2,123.4 902.6,121.4 904.1,119.3 905.6,117.3" stroke="#0001ff" stroke-width="10.0"/>
<path d="M905.6,117.3 907.0,115.3" stroke="#000fff" stroke-width="10.0"/>
<path d="M907.0,115.3 908.5,113.2 909.9,111.2 911.4,109.2 912.9,107.1 914.3,105.1 915.8,103.1 917.2,101.1 918.7,99.0 920.1,97.0 921.6,95.0" stroke="#0039ff" stroke-width="10.0"/>
<path d="M921.6,95.0 923.1,92.9 924.5,90.9 926.0,88.9 927.5,86.9 928.9,84.9 930.4,82.8 931.9,80.8 933.4,78.8 934.8,76.8 936.3,74.8 937.8,72.8 939.3,70.8 940.8,68.8 942.3,66.8 943.8,64.8 945.3,62.8 946.8,60.8 948.3,58.8 949.8,56.8" stroke="#0040ff" stroke-width="10.0"/>
<path d="M949.8,56.8 951.3,54.8 952.9,52.9 954.4,50.9 956.0,48.9 957.5,47.0 959.1,45.0 960.6,43.1 962.2,41.2 963.8,39.2 964.0,38.9" stroke="#0047ff" stroke-width="10.0"/>
<path d="M239.4,129.8l-2.8,9.6M245.4,132.3l-4.9,8.7M251.1,136.3l-6.4,7.7M256.5,141.6l-7.4,6.7M261.8,148.1l-8.0,6.0M266.9,155.6l-8.4,5.4M272.0,164.1l-8.7,4.9M277.1,173.5l-8.9,4.6M282.1,183.7l-9.0,4.3M287.1,194.5l-9.1,4.1M292.1,205.9l-9.2,3.9M297.1,217.8l-9.2,3.8M302.1,230.0l-9.3,3.7M307.0,242.4l-9.3,3.7M312.0,255.0l-9.3,3.7M316.9,267.6l-9.3,3.6M321.9,280.3l-9.3,3.6M326.8,292.9l-9.3,3.6M331.8,305.5l-9.3,3.7M336.7,318.1l-9.3,3.7M341.7,330.5l-9.3,3.7M346.6,342.7l-9.3,3.8M351.6,354.7l-9.2,3.8M356.5,366.4l-9.2,3.9M361.5,377.8l-9.2,4.0M366.4,388.9l-9.1,4.1M371.3,399.6l-9.0,4.3M376.2,409.8l-9.0,4.4M381.1,419.6l-8.9,4.6M386.0,428.8l-8.8,4.8M390.9,437.4l-8.6,5.0M395.8,445.5l-8.5,5.3M400.6,452.9l-8.3,5.6M405.5,459.8l-8.0,5.9M410.3,466.0l-7.8,6.3M415.1,471.7l-7.5,6.6M419.9,476.8l-7.1,7.0M424.6,481.3l-6.7,7.4M429.4,485.3l-6.2,7.8M434.0,488.8l-5.7,8.2M438.7,491.8l-5.1,8.6M443.3,494.3l-4.4,9.0M447.9,496.3l-3.7,9.3M452.5,497.9l-2.9,9.6M457.0,499.1l-2.0,9.8M461.5,499.8l-1.1,9.9M466.0,500.1l-0.3,10.0M470.5,500.0l0.6,10.0M475.1,499.6l1.4,9.9M479.7,498.7l2.2,9.8M484.3,497.5l2.9,9.6M488.9,496.0l3.5,9.4M493.5,494.0l4.1,9.1M498.2,491.7l4.7,8.9M503.0,489.1l5.1,8.6M507.7,486.1l5.5,8.3M512.5,482.8l5.9,8.1M517.3,479.1l6.2,7.9M522.1,475.2l6.5,7.6M527.0,471.0l6.7,7.4M531.8,466.5l6.9,7.2M536.7,461.7l7.1,7.1M541.5,456.7l7.2,6.9M546.4,451.4l7.4,6.7M551.3,446.0l7.5,6.6M556.2,440.3l7.6,6.5M561.1,434.4l7.7,6.4M566.0,428.4l7.8,6.3M571.0,422.2l7.9,6.2M575.9,415.8l7.9,6.1M580.8,409.4l8.0,6.0M585.7,402.8l8.0,5.9M590.7,396.0l8.1,5.9M595.6,389.2l8.1,5.8M600.6,382.3l8.1,5.8M605.5,375.4l8.2,5.8M610.4,368.4l8.2,5.8M615.4,361.3l8.2,5.7M620.3,354.3l8.2,5.7M625.3,347.2l8.2,5.7M630.3,340.1l8.2,5.7M635.2,333.1l8.2,5.8M640.2,326.0l8.2,5.8M645.2,319.1l8.1,5.8M650.1,312.2l8.1,5.9M655.1,305.5l8.0,6.0M660.1,299.0l7.9,6.1M665.2,292.7l7.8,6.3M670.2,286.6l7.6,6.5M675.2,280.9l7.4,6.7M680.3,275.5l7.2,7.0M685.4,270.4l6.9,7.3M690.6,265.8l6.5,7.6M695.8,261.7l6.0,8.0M701.0,258.1l5.4,8.4M706.4,255.0l4.6,8.9M711.8,252.5l3.6,9.3M717.3,250.7l2.6,9.7M722.7,249.5l1.7,9.8M728.0,248.8l1.1,9.9M731.0,248.5l0.8,10.0M733.9,248.3l0.6,10.0M736.8,248.2l0.5,10.0M739.7,248.0l0.4,10.0M742.5,247.9l0.5,10.0M745.3,247.7l0.6,10.0M748.1,247.5l0.9,10.0M750.8,247.3l1.2,9.9M753.5,246.9l1.5,9.9M756.2,246.4l1.8,9.8M758.9,245.9l2.1,9.8M761.6,245.3l2.4,9.7M764.4,244.6l2.7,9.6M767.1,243.8l2.9,9.6M769.8,242.9l3.2,9.5M772.5,241.9l3.5,9.4M775.3,240.9l3.7,9.3M778.0,239.8l3.9,9.2M780.8,238.5l4.2,9.1M783.5,237.2l4.4,9.0M786.3,235.8l4.6,8.9M789.0,234.4l4.8,8.8M791.8,232.8l5.0,8.7M794.5,231.2l5.2,8.5M797.3,229.4l5.4,8.4M800.1,227.6l5.6,8.3M802.9,225.7l5.7,8.2M805.6,223.7l5.9,8.1M808.4,221.7l6.0,8.0M811.2,219.5l6.2,7.9M814.0,217.3l6.3,7.8M816.8,215.0l6.4,7.6M819.6,212.6l6.6,7.5M822.4,210.1l6.7,7.4M825.2,207.5l6.8,7.3M828.0,204.9l6.9,7.2M830.8,202.2l7.0,7.1M833.6,199.4l7.1,7.0M836.4,196.5l7.2,6.9M839.3,193.5l7.3,6.8M842.1,190.5l7.4,6.8M844.9,187.4l7.5,6.7M847.7,184.2l7.5,6.6M850.5,180.9l7.6,6.5M853.4,177.6l7.6,6.4M856.2,174.2l7.7,6.4M859.0,170.7l7.8,6.3M861.9,167.2l7.8,6.3M864.7,163.7l7.8,6.2M867.6,160.1l7.9,6.2M870.4,156.4l7.9,6.1M873.2,152.7l7.9,6.1M876.1,149.0l8.0,6.0M878.9,145.2l8.0,6.0M881.8,141.4l8.0,6.0M884.6,137.5l8.0,5.9M887.5,133.7l8.1,5.9M890.3,129.8l8.1,5.9M893.2,125.9l8.1,5.9M896.1,121.9l8.1,5.9M898.9,118.0l8.1,5.9M901.8,114.0l8.1,5.8M904.6,110.0l8.1,5.8M907.5,106.1l8.1,5.8M910.3,102.1l8.1,5.8M913.2,98.1l8.1,5.8M916.1,94.1l8.1,5.8M918.9,90.1l8.1,5.9M921.8,86.2l8.1,5.9M924.7,82.2l8.1,5.9M927.5,78.3l8.1,5.9M930.4,74.4l8.1,5.9M933.3,70.5l8.0,5.9M936.1,66.6l8.0,6.0M939.0,62.8l8.0,6.0M941.9,59.0l8.0,6.0M944.8,55.2l7.9,6.1M947.6,51.5l7.9,6.1M950.5,47.8l7.9,6.2M953.4,44.1l7.8,6.2M956.3,40.5l7.8,6.3M959.1,37.0l7.7,6.3" stroke="#7a7a7a" stroke-opacity="0.3" stroke-width="0.9"/>
</g>
<g><path d="M233.0,181.6 235.5,181.5 238.0,181.2 240.5,180.9 242.9,180.4 245.4,179.9 247.8,179.2 250.2,178.4 252.6,177.6 254.9,176.6 257.2,175.6 259.5,174.5 261.7,173.4 263.9,172.2 266.1,170.9 268.3,169.6 270.4,168.2 272.5,166.8 274.5,165.4 276.5,163.9 278.5,162.3 280.5,160.8 282.5,159.2 284.4,157.6 286.3,155.9 288.2,154.2 290.0,152.5 291.8,150.8 293.7,149.1 295.5,147.3 297.2,145.5 299.0,143.7 300.7,141.9 302.4,140.1 304.1,138.3 305.8,136.4 307.5,134.5 309.2,132.6 310.8,130.7 312.4,128.8 314.0,126.9 315.6,125.0 317.2,123.0 318.8,121.0 320.4,119.1 321.9,117.1 323.4,115.1 325.0,113.1 326.5,111.1 328.0,109.1 329.5,107.1 330.9,105.1 332.4,103.0 333.9,101.0 335.3,99.0 336.8,96.9 338.2,94.9 339.6,92.8 341.1,90.7 342.5,88.7 343.9,86.6 345.3,84.5 346.6,82.4 348.0,80.3 349.4,78.2 350.8,76.1 352.1,74.0 353.5,71.9 354.8,69.8 356.2,67.7 357.5,65.5 358.8,63.4 360.1,61.3 361.5,59.2 362.8,57.0 364.1,54.9 365.4,52.7 366.7,50.6 367.9,48.4 369.2,46.3 370.5,44.1 371.8,42.0 372.0,41.6" stroke="#808080" stroke-width="12.3"/>
<path d="M233.0,181.6 235.5,181.5 238.0,181.2 240.5,180.9 242.9,180.4 245.4,179.9 247.8,179.2 250.2,178.4 252.6,177.6 254.9,176.6 257.2,175.6 259.5,174.5 261.7,173.4 263.9,172.2 266.1,170.9 268.3,169.6 270.4,168.2 272.5,166.8 274.5,165.4 276.5,163.9 278.5,162.3 280.5,160.8 282.5,159.2 284.4,157.6 286.3,155.9 288.2,154.2 290.0,152.5 291.8,150.8 293.7,149.1 295.5,147.3 297.2,145.5 299.0,143.7 300.7,141.9 302.4,140.1 304.1,138.3 305.8,136.4 307.5,134.5 309.2,132.6 310.8,130.7 312.4,128.8 314.0,126.9 315.6,125.0 317.2,123.0 318.8,121.0 320.4,119.1 321.9,117.1 323.4,115.1 325.0,113.1 326.5,111.1 328.0,109.1 329.5,107.1 330.9,105.1 332.4,103.0 333.9,101.0 335.3,99.0 336.8,96.9 338.2,94.9 339.6,92.8 341.1,90.7 342.5,88.7 343.9,86.6 345.3,84.5 346.6,82.4 348.0,80.3 349.4,78.2 350.8,76.1 352.1,74.0 353.5,71.9 354.8,69.8 356.2,67.7 357.5,65.5 358.8,63.4 360.1,61.3 361.5,59.2 362.8,57.0 364.1,54.9 365.4,52.7 366.7,50.6 367.9,48.4 369.2,46.3 370.5,44.1 371.8,42.0 372.0,41.6" stroke="#99ff5d" stroke-width="10.0"/>
<path d="M237.4,176.3l1.2,9.9M241.9,175.5l2.1,9.8M246.4,174.4l2.9,9.6M251.0,172.8l3.6,9.3M255.7,170.8l4.2,9.1M260.3,168.5l4.8,8.8M265.0,165.7l5.3,8.5M269.8,162.6l5.7,8.2M274.6,159.1l6.1,7.9M279.4,155.3l6.4,7.7M284.2,151.1l6.7,7.5M289.0,146.6l6.9,7.2M293.9,141.9l7.1,7.0M298.7,136.8l7.3,6.8M303.6,131.4l7.5,6.6M308.5,125.8l7.6,6.5M313.3,119.8l7.8,6.3M318.2,113.7l7.9,6.1M323.1,107.2l8.0,6.0M328.0,100.6l8.1,5.9M333.0,93.6l8.2,5.7M337.9,86.5l8.3,5.6M342.8,79.2l8.3,5.5M347.7,71.6l8.4,5.4M352.6,63.9l8.5,5.3M357.6,55.9l8.5,5.2M362.5,47.8l8.6,5.2" stroke="#7a7a7a" stroke-opacity="0.3" stroke-width="0.9"/>
</g>
<g><path d="M233.0,183.9 235.5,184.2 238.0,184.6 240.4,185.2 242.8,186.0 245.2,186.9 247.5,187.9 249.7,189.1 251.9,190.3 254.1,191.7 256.2,193.1 258.2,194.6 260.2,196.2 262.1,197.8 264.0,199.5 265.9,201.2 267.7,203.0 269.4,204.8 271.2,206.6 272.9,208.4 274.6,210.3 276.2,212.2 277.9,214.1 279.5,216.0 281.1,218.0 282.7,219.9 284.2,221.9 285.8,223.9 287.3,225.9 288.9,227.8 290.4,229.8 291.9,231.9 293.4,233.9 294.9,235.9 296.3,237.9 297.8,239.9 299.3,241.9 300.8,244.0 302.2,246.0 303.7,248.0 305.2,250.1 306.6,252.1 308.1,254.1 309.5,256.1 311.0,258.2 312.5,260.2 313.9,262.2 315.4,264.2 316.9,266.2 318.4,268.2 319.9,270.2 321.4,272.2 322.9,274.2 324.4,276.2 325.9,278.1 327.5,280.1 329.1,282.0 330.6,283.9 332.2,285.8 333.8,287.7 335.5,289.6 337.1,291.5 338.8,293.3 340.5,295.1 342.2,296.9 344.0,298.6 345.8,300.3 347.6,302.0 349.5,303.7 351.3,305.3 353.3,306.8 355.2,308.3 357.2,309.8 359.3,311.2 361.3,312.5 363.5,313.8 365.6,315.0 367.8,316.2 370.0,317.2 372.3,318.2 374.6,319.1 377.0,319.9 379.4,320.5 381.8,321.1 384.3,321.5 386.7,321.8 389.2,322.0 391.7,322.0 394.2,321.9 396.7,321.7 399.2,321.3 401.7,320.8 404.1,320.2 406.5,319.4 408.9,318.5 411.2,317.6 413.5,316.5 415.7,315.3 417.9,314.1 420.1,312.7 422.2,311.3 424.2,309.9 426.2,308.4 428.2,306.8 430.2,305.2 432.1,303.5 433.9,301.8 435.8,300.1 437.6,298.4 439.4,296.6 441.1,294.7 442.8,292.9 444.5,291.0 446.2,289.2 447.8,287.3 449.5,285.3 451.1,283.4 452.6,281.4 454.2,279.5 455.7,277.5 457.3,275.5 458.8,273.4 460.3,271.4 461.7,269.4 463.2,267.3 464.6,265.3 466.1,263.2 467.5,261.1 468.9,259.0 470.3,257.0 471.6,254.9 473.0,252.7 474.3,250.6 475.7,248.5 477.0,246.4 478.3,244.3 479.7,242.1 481.0,240.0 482.2,237.8 483.5,235.7 484.8,233.5 486.1,231.3 487.3,229.2 488.6,227.0 489.8,224.8 491.1,222.6 492.3,220.5 493.5,218.3 494.8,216.1 496.0,213.9 497.2,211.7 498.4,209.5 499.6,207.3 500.8,205.1 502.0,202.9 503.2,200.7 504.3,198.5 505.5,196.3 506.7,194.1 507.9,191.9 509.0,189.6 510.2,187.4 511.4,185.2 512.5,183.0 513.7,180.8 514.8,178.6 516.0,176.3 517.1,174.1 518.3,171.9 519.5,169.7 520.6,167.5 521.7,165.2 522.9,163.0 524.0,160.8 525.2,158.6 526.3,156.3 527.5,154.1 528.6,151.9 529.8,149.7 530.9,147.4 532.0,145.2 533.2,143.0 534.3,140.8 535.5,138.6 536.6,136.3 537.8,134.1 538.9,131.9 540.1,129.7 541.2,127.5 542.4,125.2 543.5,123.0 544.7,120.8 545.8,118.6 547.0,116.4 548.1,114.2 549.3,112.0 550.5,109.8 551.6,107.5 552.8,105.3 554.0,103.1 555.2,100.9 556.3,98.7 557.5,96.5 558.7,94.4 559.9,92.2 561.1,90.0 562.3,87.8 563.5,85.6 564.7,83.4 566.0,81.3 567.2,79.1 568.4,76.9 569.7,74.7 570.9,72.6 572.1,70.4 573.4,68.3 574.7,66.1 575.9,64.0 577.2,61.9 578.5,59.7 579.8,57.6 581.1,55.5 582.4,53.4 583.8,51.3 585.1,49.2 586.5,47.1 587.8,45.0 589.2,42.9 590.6,40.8 592.0,38.8 592.0,38.8" stroke="#808080" stroke-width="12.3"/>
<path d="M233.0,183.9 235.5,184.2 238.0,184.6 240.4,185.2" stroke="#99ff5d" stroke-width="10.0"/>
<path d="M240.4,185.2 242.8,186.0 245.2,186.9 247.5,187.9 249.7,189.1" stroke="#94ff63" stroke-width="10.0"/>
<path d="M249.7,189.1 251.9,190.3 254.1,191.7 256.2,193.1 258.2,194.6 260.2,196.2 262.1,197.8" stroke="#8eff69" stroke-width="10.0"/>
<path d="M262.1,197.8 264.0,199.5 265.9,201.2 267.7,203.0 269.4,204.8 271.2,206.6 272.9,208.4" stroke="#89ff6e" stroke-width="10.0"/>
<path d="M272.9,208.4 274.6,210.3 276.2,212.2 277.9,214.1 279.5,216.0 281.1,218.0" stroke="#83ff74" stroke-width="10.0"/>
<path d="M281.1,218.0 282.7,219.9 284.2,221.9 285.8,223.9 287.3,225.9" stroke="#7dff79" stroke-width="10.0"/>
<path d="M287.3,225.9 288.9,227.8 290.4,229.8 291.9,231.9 293.4,233.9 294.9,235.9" stroke="#78ff7f" stroke-width="10.0"/>
<path d="M294.9,235.9 296.3,237.9 297.8,239.9 299.3,241.9 300.8,244.0" stroke="#72ff85" stroke-width="10.0"/>
<path d="M300.8,244.0 302.2,246.0 303.7,248.0 305.2,250.1 306.6,252.1" stroke="#6cff8a" stroke-width="10.0"/>
<path d="M306.6,252.1 308.1,254.1" stroke="#67ff90" stroke-width="10.0"/>
<path d="M308.1,254.1 309.5,256.1 311.0,258.2" stroke="#61ff96" stroke-width="10.0"/>
<path d="M311.0,258.2 312.5,260.2 313.9,262.2" stroke="#5cff9b" stroke-width="10.0"/>
<path d="M313.9,262.2 315.4,264.2 316.9,266.2" stroke="#56ffa1" stroke-width="10.0"/>
<path d="M316.9,266.2 318.4,268.2 319.9,270.2" stroke="#50ffa6" stroke-width="10.0"/>
<path d="M319.9,270.2 321.4,272.2 322.9,274.2" stroke="#4bffac" stroke-width="10.0"/>
<path d="M322.9,274.2 324.4,276.2 325.9,278.1 327.5,280.1 329.1,282.0" stroke="#45ffb2" stroke-width="10.0"/>
<path d="M329.1,282.0 330.6,283.9 332.2,285.8 333.8,287.7" stroke="#3fffb7" stroke-width="10.0"/>
<path d="M333.8,287.7 335.5,289.6 337.1,291.5 338.8,293.3" stroke="#3affbd" stroke-width="10.0"/>
<path d="M338.8,293.3 340.5,295.1 342.2,296.9 344.0,298.6" stroke="#34ffc3" stroke-width="10.0"/>
<path d="M344.0,298.6 345.8,300.3 347.6,302.0" stroke="#2fffc8" stroke-width="10.0"/>
<path d="M347.6,302.0 349.5,303.7 351.3,305.3 353.3,306.8" stroke="#29ffce" stroke-width="10.0"/>
<path d="M353.3,306.8 355.2,308.3 357.2,309.8 359.3,311.2" stroke="#23ffd3" stroke-width="10.0"/>
<path d="M359.3,311.2 361.3,312.5 363.5,313.8" stroke="#1effd9" stroke-width="10.0"/>
<path d="M363.5,313.8 365.6,315.0 367.8,316.2" stroke="#18ffdf" stroke-width="10.0"/>
<path d="M367.8,316.2 370.0,317.2 372.3,318.2 374.6,319.1" stroke="#12fce4" stroke-width="10.0"/>
<path d="M374.6,319.1 377.0,319.9 379.4,320.5" stroke="#0df5ea" stroke-width="10.0"/>
<path d="M379.4,320.5 381.8,321.1 384.3,321.5" stroke="#07eef0" stroke-width="10.0"/>
<path d="M384.3,321.5 386.7,321.8 389.2,322.0" stroke="#02e7f5" stroke-width="10.0"/>
<path d="M389.2,322.0 391.7,322.0 394.2,321.9" stroke="#00e0fb" stroke-width="10.0"/>
<path d="M394.2,321.9 396.7,321.7 399.2,321.3" stroke="#00d9ff" stroke-width="10.0"/>
<path d="M399.2,321.3 401.7,320.8 404.1,320.2" stroke="#00d2ff" stroke-width="10.0"/>
<path d="M404.1,320.2 406.5,319.4 408.9,318.5" stroke="#00ccff" stroke-width="10.0"/>
<path d="M408.9,318.5 411.2,317.6 413.5,316.5" stroke="#00c5ff" stroke-width="10.0"/>
<path d="M413.5,316.5 415.7,315.3" stroke="#00beff" stroke-width="10.0"/>
<path d="M415.7,315.3 417.9,314.1 420.1,312.7" stroke="#00b7ff" stroke-width="10.0"/>
<path d="M420.1,312.7 422.2,311.3 424.2,309.9" stroke="#00b0ff" stroke-width="10.0"/>
<path d="M424.2,309.9 426.2,308.4" stroke="#00a9ff" stroke-width="10.0"/>
<path d="M426.2,308.4 428.2,306.8 430.2,305.2 432.1,303.5 433.9,301.8 435.8,300.1 437.6,298.4 439.4,296.6 441.1,294.7 442.8,292.9 444.5,291.0 446.2,289.2 447.8,287.3 449.5,285.3 451.1,283.4 452.6,281.4 454.2,279.5 455.7,277.5 457.3,275.5 458.8,273.4 460.3,271.4 461.7,269.4 463.2,267.3 464.6,265.3 466.1,263.2 467.5,261.1 468.9,259.0 470.3,257.0 471.6,254.9 473.0,252.7 474.3,250.6 475.7,248.5 477.0,246.4 478.3,244.3 479.7,242.1 481.0,240.0 482.2,237.8 483.5,235.7 484.8,233.5 486.1,231.3 487.3,229.2 488.6,227.0 489.8,224.8 491.1,222.6 492.3,220.5 493.5,218.3 494.8,216.1 496.0,213.9 497.2,211.7 498.4,209.5 499.6,207.3 500.8,205.1 502.0,202.9 503.2,200.7 504.3,198.5 505.5,196.3 506.7,194.1 507.9,191.9 509.0,189.6 510.2,187.4 511.4,185.2" stroke="#008dff" stroke-width="10.0"/>
<path d="M511.4,185.2 512.5,183.0 513.7,180.8 514.8,178.6 516.0,176.3 517.1,174.1 518.3,171.9 519.5,169.7 520.6,167.5 521.7,165.2 522.9,163.0 524.0,160.8 525.2,158.6 526.3,156.3 527.5,154.1 528.6,151.9 529.8,149.7 530.9,147.4 532.0,145.2 533.2,143.0" stroke="#0094ff" stroke-width="10.0"/>
<path d="M533.2,143.0 534.3,140.8 535.5,138.6 536.6,136.3 537.8,134.1 538.9,131.9 540.1,129.7 541.2,127.5 542.4,125.2 543.5,123.0 544.7,120.8 545.8,118.6 547.0,116.4 548.1,114.2 549.3,112.0 550.5,109.8 551.6,107.5 552.8,105.3 554.0,103.1 555.2,100.9" stroke="#009bff" stroke-width="10.0"/>
<path d="M555.2,100.9 556.3,98.7 557.5,96.5 558.7,94.4 559.9,92.2 561.1,90.0 562.3,87.8 563.5,85.6 564.7,83.4 566.0,81.3 567.2,79.1 568.4,76.9 569.7,74.7 570.9,72.6 572.1,70.4 573.4,68.3 574.7,66.1 575.9,64.0 577.2,61.9" stroke="#00a2ff" stroke-width="10.0"/>
<path d="M577.2,61.9 578.5,59.7 579.8,57.6 581.1,55.5 582.4,53.4 583.8,51.3 585.1,49.2 586.5,47.1 587.8,45.0 589.2,42.9 590.6,40.8 592.0,38.8 592.0,38.8" stroke="#00a9ff" stroke-width="10.0"/>
<path d="M239.0,179.7l-2.1,9.8M244.6,181.3l-3.3,9.4M250.1,183.6l-4.4,9.0M255.5,186.6l-5.3,8.5M260.8,190.3l-6.0,8.0M266.0,194.6l-6.6,7.5M271.2,199.4l-7.0,7.1M276.3,204.8l-7.4,6.8M281.4,210.5l-7.6,6.5M286.4,216.6l-7.8,6.3M291.5,223.0l-7.9,6.1M296.5,229.6l-8.0,6.0M301.5,236.4l-8.1,5.9M306.4,243.3l-8.1,5.9M311.4,250.2l-8.1,5.8M316.3,257.0l-8.1,5.9M321.3,263.7l-8.0,6.0M326.2,270.2l-7.9,6.1M331.1,276.5l-7.8,6.2M335.9,282.5l-7.7,6.4M340.8,288.0l-7.4,6.7M345.6,293.1l-7.1,7.0M350.3,297.7l-6.8,7.4M355.1,301.9l-6.3,7.7M359.8,305.5l-5.8,8.1M364.5,308.6l-5.3,8.5M369.1,311.2l-4.6,8.9M373.7,313.4l-3.8,9.2M378.2,315.0l-3.0,9.6M382.7,316.1l-2.0,9.8M387.1,316.8l-1.0,10.0M391.5,317.0l0.1,10.0M395.9,316.7l1.2,9.9M400.4,316.0l2.2,9.7M404.8,314.7l3.2,9.5M409.3,312.9l4.1,9.1M413.9,310.6l4.9,8.7M418.5,307.8l5.6,8.3M423.2,304.4l6.1,7.9M427.9,300.5l6.6,7.6M432.7,296.2l6.9,7.2M437.5,291.3l7.3,6.9M442.3,286.0l7.5,6.6M447.1,280.3l7.7,6.3M452.0,274.1l7.9,6.1M456.9,267.6l8.1,5.9M461.8,260.6l8.2,5.7M466.7,253.3l8.4,5.5M471.6,245.7l8.5,5.3M476.5,237.7l8.6,5.2M481.4,229.4l8.6,5.0M486.3,220.9l8.7,4.9M491.2,212.1l8.7,4.8M496.2,203.1l8.8,4.8M501.1,193.9l8.8,4.7M506.1,184.6l8.9,4.7M511.0,175.1l8.9,4.6M515.9,165.6l8.9,4.6M520.9,156.0l8.9,4.6M525.9,146.3l8.9,4.6M530.8,136.7l8.9,4.6M535.8,127.1l8.9,4.6M540.7,117.5l8.9,4.6M545.7,108.1l8.8,4.7M550.7,98.7l8.8,4.7M555.6,89.6l8.8,4.8M560.6,80.5l8.7,4.9M565.6,71.8l8.7,5.0M570.6,63.2l8.6,5.1M575.6,54.9l8.5,5.2M580.6,46.9l8.4,5.4M585.6,39.3l8.3,5.6" stroke="#7a7a7a" stroke-opacity="0.3" stroke-width="0.9"/>
</g>
<g><path d="M866.0,33.2 866.9,35.5 867.8,37.8 868.7,40.1 869.7,42.5 870.6,44.8 871.5,47.1 872.5,49.4 873.4,51.7 874.4,54.0 875.3,56.3 876.3,58.6 877.2,60.9 878.2,63.2 879.2,65.5 880.2,67.8 881.2,70.0 882.2,72.3 883.2,74.6 884.2,76.9 885.3,79.1 886.3,81.4 887.3,83.7 888.4,85.9 889.4,88.2 890.5,90.4 891.6,92.7 892.7,94.9 893.8,97.2 894.9,99.4 896.0,101.6 897.1,103.8 898.2,106.1 899.4,108.3 900.5,110.5 901.7,112.7 902.9,114.9 904.0,117.1 905.2,119.2 906.4,121.4 907.7,123.6 908.9,125.7 910.1,127.9 911.4,130.1 912.6,132.2 913.9,134.3 915.2,136.4 916.5,138.6 917.9,140.7 919.2,142.8 920.5,144.8 921.9,146.9 923.3,149.0 924.7,151.0 926.1,153.1 927.6,155.1 929.0,157.1 930.5,159.1 932.0,161.1 933.5,163.1 935.0,165.0 936.6,166.9 938.2,168.9 939.8,170.8 941.4,172.6 943.0,174.5 944.7,176.3 946.4,178.1 948.1,179.9 949.9,181.7 951.7,183.4 953.5,185.1 955.3,186.7 957.2,188.4 959.1,189.9 961.0,191.5 963.0,193.0 965.0,194.5 967.1,195.9 969.1,197.2 971.2,198.5 973.4,199.8 975.6,201.0 977.8,202.1 980.0,203.2 982.3,204.2 984.6,205.1 986.9,206.0 989.3,206.8 991.6,207.5 994.0,208.1 996.5,208.7 998.9,209.2 1001.4,209.6 1003.8,210.0 1006.3,210.2 1008.8,210.4 1011.3,210.5 1013.8,210.5 1016.3,210.5 1018.8,210.4 1021.3,210.2 1023.8,210.0 1026.3,209.7 1028.8,209.3 1031.2,208.9 1033.7,208.4 1036.1,207.9 1038.6,207.3 1041.0,206.6 1043.4,206.0 1045.8,205.2 1048.2,204.5 1050.6,203.7 1053.0,202.9 1055.3,202.1 1057.7,201.2 1060.0,200.3 1062.3,199.4 1064.7,198.5 1067.0,197.6 1069.3,196.6 1071.6,195.7 1073.9,194.7 1076.3,193.8 1078.6,192.9 1080.9,191.9 1083.2,191.0 1085.5,190.1 1087.9,189.2 1090.2,188.3 1092.5,187.4 1094.9,186.5 1097.2,185.7 1099.6,184.9 1101.9,184.1 1104.3,183.3 1106.7,182.6 1109.1,182.0 1111.5,181.3 1114.0,180.7 1116.4,180.2 1118.8,179.7 1121.3,179.2 1123.7,178.8 1126.2,178.5 1128.7,178.2 1131.2,177.9 1133.7,177.8 1136.2,177.7 1138.7,177.6 1141.2,177.7 1143.7,177.8 1146.2,178.0 1148.7,178.2 1151.1,178.6 1153.6,179.0 1156.1,179.5 1158.5,180.1 1160.9,180.7 1163.3,181.4 1165.7,182.2 1168.1,183.1 1170.4,184.1 1172.7,185.1 1175.0,186.2 1177.2,187.3 1179.4,188.6 1181.6,189.9 1183.7,191.2 1185.8,192.6 1187.9,194.0 1189.9,195.5 1191.9,197.0 1193.9,198.6 1195.9,200.1 1197.8,201.7 1199.7,203.4 1201.6,205.0 1203.5,206.7 1205.3,208.4 1207.2,210.1 1209.0,211.8 1210.8,213.6 1212.6,215.3 1214.4,217.1 1216.1,218.9 1217.9,220.7 1219.6,222.5 1221.4,224.3 1223.1,226.1 1224.8,227.9 1226.5,229.7 1228.2,231.6 1229.9,233.4 1231.6,235.3 1233.3,237.1 1235.0,238.9 1236.7,240.8 1238.4,242.6 1240.1,244.5 1241.8,246.3 1243.4,248.2 1245.1,250.0 1246.8,251.9 1248.5,253.7 1250.2,255.6 1251.9,257.4 1253.5,259.3 1255.2,261.1 1256.9,263.0 1258.6,264.8 1260.3,266.6 1262.0,268.5 1263.7,270.3 1265.4,272.1 1267.1,274.0 1268.8,275.8 1270.5,277.6 1272.2,279.4 1273.9,281.2 1275.7,283.0 1277.4,284.8 1279.1,286.6 1280.9,288.4 1282.6,290.2 1284.4,292.0 1286.1,293.8 1287.9,295.5 1289.6,297.3 1291.4,299.1 1293.2,300.8 1295.0,302.5 1296.8,304.3 1298.6,306.0 1300.4,307.7 1302.2,309.4 1304.1,311.1 1305.9,312.8 1307.8,314.4 1309.6,316.1 1311.5,317.7 1313.4,319.4 1315.3,321.0 1317.2,322.6 1319.1,324.1 1321.1,325.7 1323.0,327.3 1325.0,328.8 1327.0,330.3 1329.0,331.8 1331.0,333.3 1333.0,334.7 1335.0,336.1 1337.1,337.5 1339.2,338.9 1341.3,340.2 1343.4,341.5 1345.5,342.8 1347.7,344.0 1349.9,345.2 1352.1,346.4 1354.3,347.5 1356.5,348.6 1358.8,349.6 1361.1,350.6 1363.4,351.5 1365.7,352.4 1368.1,353.2 1370.4,354.0 1372.8,354.7 1375.2,355.3 1377.7,355.9 1380.1,356.4 1382.6,356.8 1385.0,357.2 1387.5,357.4 1390.0,357.6 1392.5,357.7 1395.0,357.7 1397.5,357.6 1400.0,357.4 1402.5,357.2 1405.0,356.8 1407.4,356.4 1409.9,355.9 1412.3,355.2 1414.7,354.5 1417.1,353.8 1419.5,352.9 1421.8,352.0 1424.1,350.9 1426.4,349.9 1428.6,348.7 1430.9,347.5 1433.0,346.2 1435.2,344.9 1437.3,343.5 1439.3,342.0 1441.4,340.5 1443.4,339.0 1445.3,337.4 1447.3,335.8 1449.2,334.1 1451.0,332.5 1452.9,330.7 1454.7,329.0 1456.4,327.2 1458.2,325.4 1459.9,323.5 1461.6,321.6 1463.3,319.8 1464.9,317.9 1466.5,315.9 1468.1,314.0 1469.7,312.0 1471.3,310.1 1472.8,308.1 1474.4,306.1 1475.9,304.1 1477.4,302.1 1478.9,300.1 1480.4,298.1 1481.9,296.1 1483.3,294.0 1484.8,292.0 1486.3,290.0 1487.7,287.9 1489.1,285.9 1490.6,283.8 1492.0,281.7 1493.4,279.7 1494.8,277.6 1496.2,275.5 1497.6,273.5 1499.0,271.4 1500.4,269.3 1501.8,267.2 1503.2,265.2 1504.6,263.1 1506.0,261.0 1507.4,258.9 1508.8,256.9 1510.2,254.8 1511.6,252.7 1513.0,250.7 1514.4,248.6 1515.8,246.5 1517.2,244.5 1518.6,242.4 1520.1,240.4 1521.5,238.3 1522.9,236.3 1524.3,234.2 1525.8,232.2 1527.2,230.1 1528.7,228.1 1530.1,226.1 1531.6,224.1 1533.1,222.1 1534.6,220.1 1536.1,218.2 1537.7,216.2 1539.2,214.3 1540.8,212.3 1542.4,210.4 1544.0,208.6 1545.7,206.7 1547.3,204.9 1549.0,203.1 1550.8,201.3 1552.5,199.6 1554.3,197.9 1556.2,196.3 1558.1,194.7 1560.0,193.2 1562.0,191.7 1564.1,190.4 1566.2,189.1 1568.4,187.9 1570.6,186.8 1572.9,185.9 1575.2,185.0 1577.6,184.3 1580.0,183.8 1582.4,183.4 1584.9,183.2 1586.0,183.2" stroke="#808080" stroke-width="12.3"/>
<path d="M866.0,33.2 866.9,35.5 867.8,37.8 868.7,40.1 869.7,42.5 870.6,44.8 871.5,47.1 872.5,49.4 873.4,51.7 874.4,54.0 875.3,56.3 876.3,58.6" stroke="#00a9ff" stroke-width="10.0"/>
<path d="M876.3,58.6 877.2,60.9 878.2,63.2 879.2,65.5 880.2,67.8 881.2,70.0 882.2,72.3 883.2,74.6 884.2,76.9 885.3,79.1 886.3,81.4 887.3,83.7 888.4,85.9 889.4,88.2 890.5,90.4 891.6,92.7 892.7,94.9 893.8,97.2 894.9,99.4 896.0,101.6 897.1,103.8" stroke="#00a2ff" stroke-width="10.0"/>
<path d="M897.1,103.8 898.2,106.1 899.4,108.3 900.5,110.5 901.7,112.7 902.9,114.9 904.0,117.1 905.2,119.2 906.4,121.4 907.7,123.6 908.9,125.7 910.1,127.9 911.4,130.1 912.6,132.2 913.9,134.3" stroke="#009bff" stroke-width="10.0"/>
<path d="M913.9,134.3 915.2,136.4 916.5,138.6 917.9,140.7 919.2,142.8 920.5,144.8 921.9,146.9 923.3,149.0 924.7,151.0 926.1,153.1 927.6,155.1" stroke="#0094ff" stroke-width="10.0"/>
<path d="M927.6,155.1 929.0,157.1 930.5,159.1 932.0,161.1 933.5,163.1 935.0,165.0 936.6,166.9 938.2,168.9 939.8,170.8" stroke="#008dff" stroke-width="10.0"/>
<path d="M939.8,170.8 941.4,172.6 943.0,174.5 944.7,176.3 946.4,178.1 948.1,179.9 949.9,181.7 951.7,183.4 953.5,185.1" stroke="#0086ff" stroke-width="10.0"/>
<path d="M953.5,185.1 955.3,186.7 957.2,188.4 959.1,189.9 961.0,191.5 963.0,193.0 965.0,194.5 967.1,195.9 969.1,197.2 971.2,198.5 973.4,199.8 975.6,201.0" stroke="#007fff" stroke-width="10.0"/>
<path d="M975.6,201.0 977.8,202.1 980.0,203.2 982.3,204.2 984.6,205.1 986.9,206.0 989.3,206.8 991.6,207.5 994.0,208.1 996.5,208.7 998.9,209.2 1001.4,209.6" stroke="#0078ff" stroke-width="10.0"/>
<path d="M1001.4,209.6 1003.8,210.0 1006.3,210.2 1008.8,210.4 1011.3,210.5 1013.8,210.5 1016.3,210.5 1018.8,210.4 1021.3,210.2 1023.8,210.0 1026.3,209.7 1028.8,209.3 1031.2,208.9 1033.7,208.4 1036.1,207.9 1038.6,207.3 1041.0,206.6 1043.4,206.0 1045.8,205.2 1048.2,204.5 1050.6,203.7 1053.0,202.9 1055.3,202.1 1057.7,201.2 1060.0,200.3 1062.3,199.4 1064.7,198.5 1067.0,197.6 1069.3,196.6 1071.6,195.7 1073.9,194.7 1076.3,193.8 1078.6,192.9 1080.9,191.9 1083.2,191.0 1085.5,190.1 1087.9,189.2 1090.2,188.3 1092.5,187.4 1094.9,186.5 1097.2,185.7 1099.6,184.9 1101.9,184.1 1104.3,183.3 1106.7,182.6 1109.1,182.0 1111.5,181.3 1114.0,180.7 1116.4,180.2 1118.8,179.7 1121.3,179.2 1123.7,178.8 1126.2,178.5 1128.7,178.2 1131.2,177.9 1133.7,177.8 1136.2,177.7 1138.7,177.6 1141.2,177.7 1143.7,177.8 1146.2,178.0 1148.7,178.2 1151.1,178.6 1153.6,179.0 1156.1,179.5 1158.5,180.1 1160.9,180.7 1163.3,181.4 1165.7,182.2 1168.1,183.1 1170.4,184.1 1172.7,185.1 1175.0,186.2 1177.2,187.3 1179.4,188.6 1181.6,189.9 1183.7,191.2 1185.8,192.6 1187.9,194.0 1189.9,195.5 1191.9,197.0 1193.9,198.6 1195.9,200.1 1197.8,201.7 1199.7,203.4 1201.6,205.0 1203.5,206.7 1205.3,208.4 1207.2,210.1 1209.0,211.8 1210.8,213.6 1212.6,215.3 1214.4,217.1 1216.1,218.9 1217.9,220.7 1219.6,222.5 1221.4,224.3 1223.1,226.1 1224.8,227.9 1226.5,229.7 1228.2,231.6 1229.9,233.4 1231.6,235.3 1233.3,237.1 1235.0,238.9 1236.7,240.8 1238.4,242.6 1240.1,244.5 1241.8,246.3 1243.4,248.2 1245.1,250.0 1246.8,251.9 1248.5,253.7 1250.2,255.6 1251.9,257.4 1253.5,259.3 1255.2,261.1 1256.9,263.0 1258.6,264.8 1260.3,266.6 1262.0,268.5 1263.7,270.3 1265.4,272.1 1267.1,274.0 1268.8,275.8 1270.5,277.6 1272.2,279.4 1273.9,281.2 1275.7,283.0 1277.4,284.8 1279.1,286.6 1280.9,288.4 1282.6,290.2 1284.4,292.0 1286.1,293.8 1287.9,295.5 1289.6,297.3 1291.4,299.1 1293.2,300.8 1295.0,302.5 1296.8,304.3 1298.6,306.0 1300.4,307.7 1302.2,309.4 1304.1,311.1 1305.9,312.8 1307.8,314.4" stroke="#0071ff" stroke-width="10.0"/>
<path d="M1307.8,314.4 1309.6,316.1 1311.5,317.7 1313.4,319.4 1315.3,321.0 1317.2,322.6 1319.1,324.1 1321.1,325.7 1323.0,327.3" stroke="#0078ff" stroke-width="10.0"/>
<path d="M1323.0,327.3 1325.0,328.8 1327.0,330.3 1329.0,331.8 1331.0,333.3 1333.0,334.7 1335.0,336.1 1337.1,337.5 1339.2,338.9" stroke="#007fff" stroke-width="10.0"/>
<path d="M1339.2,338.9 1341.3,340.2 1343.4,341.5 1345.5,342.8 1347.7,344.0 1349.9,345.2 1352.1,346.4 1354.3,347.5" stroke="#0086ff" stroke-width="10.0"/>
<path d="M1354.3,347.5 1356.5,348.6 1358.8,349.6 1361.1,350.6 1363.4,351.5 1365.7,352.4" stroke="#008dff" stroke-width="10.0"/>
<path d="M1365.7,352.4 1368.1,353.2 1370.4,354.0 1372.8,354.7" stroke="#0094ff" stroke-width="10.0"/>
<path d="M1372.8,354.7 1375.2,355.3 1377.7,355.9 1380.1,356.4" stroke="#009bff" stroke-width="10.0"/>
<path d="M1380.1,356.4 1382.6,356.8 1385.0,357.2 1387.5,357.4 1390.0,357.6" stroke="#00a2ff" stroke-width="10.0"/>
<path d="M1390.0,357.6 1392.5,357.7 1395.0,357.7 1397.5,357.6" stroke="#00a9ff" stroke-width="10.0"/>
<path d="M1397.5,357.6 1400.0,357.4 1402.5,357.2 1405.0,356.8 1407.4,356.4" stroke="#00b0ff" stroke-width="10.0"/>
<path d="M1407.4,356.4 1409.9,355.9 1412.3,355.2 1414.7,354.5" stroke="#00b7ff" stroke-width="10.0"/>
<path d="M1414.7,354.5 1417.1,353.8 1419.5,352.9 1421.8,352.0 1424.1,350.9" stroke="#00beff" stroke-width="10.0"/>
<path d="M1424.1,350.9 1426.4,349.9 1428.6,348.7 1430.9,347.5 1433.0,346.2" stroke="#00c5ff" stroke-width="10.0"/>
<path d="M1433.0,346.2 1435.2,344.9 1437.3,343.5 1439.3,342.0 1441.4,340.5" stroke="#00ccff" stroke-width="10.0"/>
<path d="M1441.4,340.5 1443.4,339.0 1445.3,337.4 1447.3,335.8" stroke="#00d2ff" stroke-width="10.0"/>
<path d="M1447.3,335.8 1449.2,334.1 1451.0,332.5" stroke="#00d9ff" stroke-width="10.0"/>
<path d="M1451.0,332.5 1452.9,330.7 1454.7,329.0" stroke="#00e0fb" stroke-width="10.0"/>
<path d="M1454.7,329.0 1456.4,327.2 1458.2,325.4" stroke="#02e7f5" stroke-width="10.0"/>
<path d="M1458.2,325.4 1459.9,323.5 1461.6,321.6" stroke="#07eef0" stroke-width="10.0"/>
<path d="M1461.6,321.6 1463.3,319.8 1464.9,317.9" stroke="#0df5ea" stroke-width="10.0"/>
<path d="M1464.9,317.9 1466.5,315.9 1468.1,314.0" stroke="#12fce4" stroke-width="10.0"/>
<path d="M1468.1,314.0 1469.7,312.0 1471.3,310.1" stroke="#18ffdf" stroke-width="10.0"/>
<path d="M1471.3,310.1 1472.8,308.1 1474.4,306.1 1475.9,304.1" stroke="#1effd9" stroke-width="10.0"/>
<path d="M1475.9,304.1 1477.4,302.1 1478.9,300.1" stroke="#23ffd3" stroke-width="10.0"/>
<path d="M1478.9,300.1 1480.4,298.1 1481.9,296.1" stroke="#29ffce" stroke-width="10.0"/>
<path d="M1481.9,296.1 1483.3,294.0 1484.8,292.0" stroke="#2fffc8" stroke-width="10.0"/>
<path d="M1484.8,292.0 1486.3,290.0 1487.7,287.9" stroke="#34ffc3" stroke-width="10.0"/>
<path d="M1487.7,287.9 1489.1,285.9 1490.6,283.8" stroke="#3affbd" stroke-width="10.0"/>
<path d="M1490.6,283.8 1492.0,281.7 1493.4,279.7 1494.8,277.6" stroke="#3fffb7" stroke-width="10.0"/>
<path d="M1494.8,277.6 1496.2,275.5 1497.6,273.5" stroke="#45ffb2" stroke-width="10.0"/>
<path d="M1497.6,273.5 1499.0,271.4 1500.4,269.3" stroke="#4bffac" stroke-width="10.0"/>
<path d="M1500.4,269.3 1501.8,267.2 1503.2,265.2" stroke="#50ffa6" stroke-width="10.0"/>
<path d="M1503.2,265.2 1504.6,263.1 1506.0,261.0" stroke="#56ffa1" stroke-width="10.0"/>
<path d="M1506.0,261.0 1507.4,258.9 1508.8,256.9" stroke="#5cff9b" stroke-width="10.0"/>
<path d="M1508.8,256.9 1510.2,254.8 1511.6,252.7 1513.0,250.7" stroke="#61ff96" stroke-width="10.0"/>
<path d="M1513.0,250.7 1514.4,248.6 1515.8,246.5" stroke="#67ff90" stroke-width="10.0"/>
<path d="M1515.8,246.5 1517.2,244.5 1518.6,242.4" stroke="#6cff8a" stroke-width="10.0"/>
<path d="M1518.6,242.4 1520.1,240.4 1521.5,238.3 1522.9,236.3" stroke="#72ff85" stroke-width="10.0"/>
<path d="M1522.9,236.3 1524.3,234.2 1525.8,232.2" stroke="#78ff7f" stroke-width="10.0"/>
<path d="M1525.8,232.2 1527.2,230.1 1528.7,228.1" stroke="#7dff79" stroke-width="10.0"/>
<path d="M1528.7,228.1 1530.1,226.1 1531.6,224.1 1533.1,222.1 1534.6,220.1 1536.1,218.2 1537.7,216.2" stroke="#83ff74" stroke-width="10.0"/>
<path d="M1537.7,216.2 1539.2,214.3 1540.8,212.3 1542.4,210.4 1544.0,208.6 1545.7,206.7 1547.3,204.9 1549.0,203.1 1550.8,201.3 1552.5,199.6" stroke="#89ff6e" stroke-width="10.0"/>
<path d="M1552.5,199.6 1554.3,197.9 1556.2,196.3 1558.1,194.7 1560.0,193.2 1562.0,191.7 1564.1,190.4 1566.2,189.1" stroke="#8eff69" stroke-width="10.0"/>
<path d="M1566.2,189.1 1568.4,187.9 1570.6,186.8 1572.9,185.9 1575.2,185.0 1577.6,184.3 1580.0,183.8" stroke="#94ff63" stroke-width="10.0"/>
<path d="M1580.0,183.8 1582.4,183.4 1584.9,183.2 1586.0,183.2" stroke="#99ff5d" stroke-width="10.0"/>
<path d="M873.3,38.1l-9.3,3.7M876.1,45.2l-9.3,3.8M879.0,52.1l-9.2,3.8M881.8,58.9l-9.2,3.9M884.7,65.5l-9.2,4.0M887.5,72.0l-9.1,4.1M890.3,78.3l-9.1,4.2M893.2,84.4l-9.1,4.2M896.0,90.4l-9.0,4.3M898.9,96.2l-9.0,4.4M901.7,101.9l-8.9,4.5M904.5,107.4l-8.9,4.6M907.4,112.7l-8.8,4.7M910.2,117.9l-8.7,4.8M913.0,122.9l-8.7,5.0M915.8,127.8l-8.6,5.1M918.7,132.5l-8.5,5.2M921.5,137.1l-8.5,5.3M924.3,141.5l-8.4,5.5M927.1,145.7l-8.3,5.6M929.9,149.8l-8.2,5.7M932.7,153.7l-8.1,5.9M935.5,157.5l-8.0,6.0M938.3,161.2l-7.9,6.2M941.1,164.6l-7.7,6.4M943.9,167.9l-7.6,6.5M946.7,171.1l-7.4,6.7M949.5,174.1l-7.3,6.9M952.3,177.0l-7.1,7.1M955.0,179.7l-6.9,7.2M957.8,182.2l-6.7,7.4M960.5,184.6l-6.5,7.6M963.3,186.9l-6.2,7.8M966.0,189.0l-6.0,8.0M968.7,191.0l-5.7,8.2M971.4,192.8l-5.4,8.4M974.2,194.5l-5.1,8.6M976.9,196.0l-4.8,8.8M979.6,197.4l-4.5,8.9M982.3,198.7l-4.2,9.1M984.9,199.9l-3.8,9.2M987.6,200.9l-3.5,9.4M990.3,201.9l-3.1,9.5M993.0,202.7l-2.7,9.6M995.7,203.4l-2.4,9.7M998.3,204.0l-2.0,9.8M1001.0,204.5l-1.7,9.9M1003.7,204.9l-1.3,9.9M1006.4,205.2l-0.9,10.0M1009.1,205.4l-0.6,10.0M1011.8,205.5l-0.2,10.0M1014.5,205.5l0.1,10.0M1019.9,205.3l0.7,10.0M1025.3,204.8l1.3,9.9M1030.7,203.9l1.8,9.8M1036.2,202.7l2.3,9.7M1041.7,201.3l2.8,9.6M1047.2,199.5l3.1,9.5M1052.8,197.6l3.4,9.4M1058.4,195.6l3.6,9.3M1064.1,193.3l3.7,9.3M1069.8,191.1l3.8,9.3M1075.5,188.7l3.8,9.3M1081.2,186.4l3.7,9.3M1087.0,184.1l3.6,9.3M1092.8,181.9l3.4,9.4M1098.6,179.9l3.2,9.5M1104.5,178.1l2.8,9.6M1110.4,176.4l2.5,9.7M1116.3,175.1l2.0,9.8M1122.3,174.0l1.6,9.9M1128.3,173.2l1.0,9.9M1134.3,172.7l0.5,10.0M1140.3,172.7l-0.2,10.0M1146.4,173.0l-0.9,10.0M1152.4,173.7l-1.6,9.9M1158.5,174.9l-2.3,9.7M1164.6,176.6l-3.0,9.5M1170.7,178.8l-3.7,9.3M1176.7,181.5l-4.4,9.0M1182.8,184.7l-5.1,8.6M1188.8,188.5l-5.6,8.3M1194.7,192.8l-6.1,8.0M1200.6,197.5l-6.4,7.7M1206.4,202.6l-6.7,7.4M1212.3,208.0l-6.9,7.2M1218.1,213.7l-7.1,7.1M1223.8,219.6l-7.2,6.9M1229.6,225.7l-7.3,6.8M1235.4,231.9l-7.4,6.8M1241.1,238.2l-7.4,6.7M1246.8,244.5l-7.4,6.7M1252.5,250.7l-7.4,6.7M1258.2,257.0l-7.4,6.8M1263.9,263.2l-7.4,6.8M1269.6,269.3l-7.3,6.8M1275.3,275.4l-7.3,6.9M1281.0,281.4l-7.2,6.9M1286.7,287.2l-7.1,7.0M1292.3,292.9l-7.1,7.1M1298.0,298.5l-7.0,7.2M1303.7,303.9l-6.8,7.3M1309.3,309.1l-6.7,7.4M1315.0,314.1l-6.6,7.6M1320.6,318.9l-6.4,7.7M1326.2,323.4l-6.2,7.9M1331.8,327.7l-5.9,8.0M1337.4,331.7l-5.7,8.2M1342.9,335.3l-5.4,8.4M1348.5,338.7l-5.0,8.6M1354.0,341.8l-4.6,8.9M1359.5,344.5l-4.2,9.1M1364.9,346.8l-3.7,9.3M1370.4,348.7l-3.1,9.5M1375.8,350.3l-2.5,9.7M1381.2,351.5l-1.8,9.8M1386.5,352.3l-1.1,9.9M1391.8,352.7l-0.3,10.0M1397.2,352.6l0.5,10.0M1402.5,352.1l1.3,9.9M1407.8,351.2l2.1,9.8M1413.1,349.8l2.9,9.6M1418.4,347.9l3.7,9.3M1423.8,345.6l4.4,9.0M1429.2,342.7l5.0,8.6M1434.6,339.3l5.6,8.3M1440.0,335.3l6.2,7.9M1445.5,330.7l6.6,7.5M1451.0,325.5l7.0,7.1M1456.6,319.7l7.4,6.7M1462.2,313.4l7.6,6.4M1467.8,306.5l7.8,6.2M1473.4,299.1l8.0,6.0M1479.1,291.4l8.1,5.8M1484.7,283.4l8.2,5.7M1490.4,275.2l8.3,5.6M1496.1,266.8l8.3,5.6M1501.8,258.3l8.3,5.6M1507.6,249.8l8.3,5.6M1513.3,241.4l8.3,5.6M1519.0,233.0l8.2,5.7M1524.8,224.9l8.1,5.9M1530.6,217.2l7.9,6.1M1536.4,209.8l7.7,6.4M1542.3,203.0l7.4,6.7M1548.2,196.8l7.0,7.2M1554.2,191.4l6.4,7.7M1560.4,186.8l5.5,8.3M1566.6,183.2l4.5,8.9M1573.0,180.5l3.2,9.5M1579.4,178.8l1.7,9.8" stroke="#7a7a7a" stroke-opacity="0.3" stroke-width="0.9"/>
</g>
<g><path d="M1056.0,35.5 1057.4,37.6 1058.8,39.7 1060.2,41.8 1061.5,44.0 1062.8,46.1 1064.1,48.3 1065.3,50.5 1066.6,52.7 1067.8,54.9 1069.0,57.1 1070.2,59.3 1071.3,61.5 1072.5,63.8 1073.6,66.0 1074.7,68.3 1075.9,70.5 1076.9,72.8 1078.0,75.1 1079.1,77.3 1080.2,79.6 1081.2,81.9 1082.2,84.2 1083.3,86.5 1084.3,88.8 1085.3,91.1 1086.3,93.4 1087.3,95.7 1088.3,98.0 1089.2,100.3 1090.2,102.6 1091.1,105.0 1092.1,107.3 1093.0,109.6 1094.0,111.9 1094.9,114.3 1095.8,116.6 1096.7,118.9 1097.7,121.3 1098.6,123.6 1099.5,125.9 1100.4,128.3 1101.3,130.6 1102.1,133.0 1103.0,135.3 1103.9,137.6 1104.8,140.0 1105.7,142.3 1106.6,144.7 1107.4,147.0 1108.3,149.3 1109.2,151.7 1110.1,154.0 1111.0,156.4 1111.8,158.7 1112.7,161.0 1113.6,163.4 1114.5,165.7 1115.4,168.0 1116.3,170.4 1117.2,172.7 1118.1,175.0 1119.0,177.3 1119.9,179.6 1120.8,182.0 1121.8,184.3 1122.7,186.6 1123.6,188.9 1124.6,191.2 1125.6,193.5 1126.5,195.8 1127.5,198.1 1128.5,200.3 1129.5,202.6 1130.5,204.9 1131.6,207.1 1132.6,209.4 1133.7,211.6 1134.8,213.8 1135.9,216.0 1137.0,218.3 1138.1,220.5 1139.3,222.6 1140.5,224.8 1141.7,227.0 1142.9,229.1 1144.2,231.3 1145.4,233.4 1146.7,235.5 1148.0,237.6 1149.4,239.7 1150.7,241.8 1152.1,243.8 1153.6,245.9 1155.0,247.9 1156.5,249.8 1158.0,251.8 1159.5,253.8 1161.1,255.7 1162.7,257.6 1164.3,259.4 1165.9,261.3 1167.6,263.1 1169.3,264.9 1171.1,266.6 1172.9,268.4 1174.7,270.1 1176.5,271.7 1178.4,273.3 1180.3,274.9 1182.2,276.5 1184.2,278.0 1186.2,279.5 1188.2,281.0 1190.2,282.4 1192.3,283.8 1194.4,285.2 1196.5,286.5 1198.6,287.8 1200.7,289.1 1202.8,290.4 1205.0,291.7 1207.1,293.0 1209.3,294.2 1211.5,295.5 1213.6,296.7 1215.8,297.9 1218.0,299.2 1220.1,300.5 1222.3,301.7 1224.4,303.0 1226.6,304.3 1228.7,305.6 1230.8,307.0 1233.0,308.3 1235.1,309.6 1237.2,310.9 1239.3,312.3 1241.4,313.6 1243.5,315.0 1245.6,316.3 1247.7,317.7 1249.8,319.0 1251.9,320.4 1254.1,321.7 1256.2,323.0 1258.3,324.4 1260.4,325.7 1262.5,327.0 1264.6,328.3 1266.8,329.7 1268.9,330.9 1271.0,332.2 1273.2,333.5 1275.3,334.8 1277.5,336.0 1279.6,337.3 1281.8,338.5 1284.0,339.7 1286.2,340.9 1288.4,342.0 1290.6,343.2 1292.9,344.3 1295.1,345.4 1297.3,346.5 1299.6,347.5 1301.9,348.5 1304.2,349.5 1306.5,350.4 1308.8,351.3 1311.2,352.2 1313.5,353.0 1315.9,353.7 1318.3,354.5 1320.7,355.1 1323.1,355.7 1325.5,356.3 1328.0,356.7 1330.4,357.1 1332.9,357.4 1335.4,357.6 1337.9,357.7 1340.4,357.7 1342.9,357.5 1345.4,357.3 1347.9,356.8 1350.3,356.3 1352.7,355.6 1355.1,354.7 1357.4,353.8 1359.7,352.7 1362.0,351.4 1364.1,350.1 1366.2,348.7 1368.3,347.2 1370.3,345.7 1372.2,344.1 1374.1,342.4 1376.0,340.8 1377.9,339.0 1379.7,337.3 1381.5,335.5 1383.2,333.7 1384.9,331.9 1386.6,330.0 1388.3,328.1 1390.0,326.3 1391.6,324.4 1393.3,322.5 1394.9,320.6 1396.5,318.6 1398.1,316.7 1399.7,314.8 1401.3,312.8 1402.9,310.9 1404.4,308.9 1406.0,306.9 1407.5,304.9 1409.0,303.0 1410.6,301.0 1412.1,299.0 1413.6,297.0 1415.1,295.0 1416.6,293.0 1418.1,291.0 1419.6,288.9 1421.1,286.9 1422.5,284.9 1424.0,282.9 1425.5,280.9 1426.9,278.8 1428.4,276.8 1429.9,274.8 1431.3,272.7 1432.8,270.7 1434.2,268.6 1435.7,266.6 1437.1,264.6 1438.6,262.5 1440.0,260.5 1441.5,258.4 1442.9,256.4 1444.3,254.4 1445.8,252.3 1447.2,250.3 1448.7,248.2 1450.1,246.2 1451.6,244.2 1453.0,242.1 1454.5,240.1 1455.9,238.1 1457.4,236.0 1458.8,234.0 1460.3,232.0 1461.7,229.9 1463.2,227.9 1464.7,225.9 1466.1,223.9 1467.6,221.9 1469.1,219.9 1470.6,217.9 1472.1,215.9 1473.6,213.9 1475.1,211.9 1476.6,209.9 1478.1,207.9 1479.6,205.9 1481.2,204.0 1482.7,202.0 1484.2,200.0 1485.8,198.1 1487.4,196.2 1488.9,194.2 1490.5,192.3 1492.1,190.4 1493.7,188.5 1495.4,186.6 1497.0,184.7 1498.6,182.9 1500.3,181.0 1502.0,179.2 1503.7,177.4 1505.4,175.5 1507.1,173.8 1508.8,172.0 1510.6,170.2 1512.4,168.5 1514.2,166.8 1516.0,165.1 1517.9,163.4 1519.7,161.8 1521.6,160.2 1523.5,158.6 1525.5,157.1 1527.5,155.5 1529.4,154.1 1531.5,152.6 1533.5,151.2 1535.6,149.8 1537.7,148.5 1539.8,147.2 1541.9,145.9 1544.1,144.7 1546.3,143.6 1548.5,142.5 1550.8,141.4 1553.1,140.4 1555.4,139.5 1557.7,138.6 1560.0,137.8 1562.4,137.0 1564.8,136.3 1567.2,135.7 1569.7,135.2 1572.1,134.7 1574.6,134.3 1577.0,134.0 1579.5,133.8 1582.0,133.6 1584.5,133.6 1586.0,133.6" stroke="#808080" stroke-width="12.3"/>
<path d="M1056.0,35.5 1057.4,37.6 1058.8,39.7 1060.2,41.8 1061.5,44.0" stroke="#0039ff" stroke-width="10.0"/>
<path d="M1061.5,44.0 1062.8,46.1 1064.1,48.3 1065.3,50.5 1066.6,52.7 1067.8,54.9 1069.0,57.1 1070.2,59.3 1071.3,61.5" stroke="#0032ff" stroke-width="10.0"/>
<path d="M1071.3,61.5 1072.5,63.8 1073.6,66.0 1074.7,68.3 1075.9,70.5 1076.9,72.8 1078.0,75.1 1079.1,77.3 1080.2,79.6 1081.2,81.9" stroke="#002bff" stroke-width="10.0"/>
<path d="M1081.2,81.9 1082.2,84.2 1083.3,86.5 1084.3,88.8 1085.3,91.1 1086.3,93.4 1087.3,95.7 1088.3,98.0 1089.2,100.3 1090.2,102.6 1091.1,105.0" stroke="#0024ff" stroke-width="10.0"/>
<path d="M1091.1,105.0 1092.1,107.3 1093.0,109.6 1094.0,111.9 1094.9,114.3 1095.8,116.6 1096.7,118.9 1097.7,121.3 1098.6,123.6" stroke="#001dff" stroke-width="10.0"/>
<path d="M1098.6,123.6 1099.5,125.9 1100.4,128.3 1101.3,130.6" stroke="#0016ff" stroke-width="10.0"/>
<path d="M1101.3,130.6 1102.1,133.0 1103.0,135.3 1103.9,137.6 1104.8,140.0" stroke="#000fff" stroke-width="10.0"/>
<path d="M1104.8,140.0 1105.7,142.3 1106.6,144.7 1107.4,147.0 1108.3,149.3" stroke="#0008ff" stroke-width="10.0"/>
<path d="M1108.3,149.3 1109.2,151.7 1110.1,154.0 1111.0,156.4 1111.8,158.7 1112.7,161.0" stroke="#0001ff" stroke-width="10.0"/>
<path d="M1112.7,161.0 1113.6,163.4 1114.5,165.7 1115.4,168.0 1116.3,170.4" stroke="#0000ff" stroke-width="10.0"/>
<path d="M1116.3,170.4 1117.2,172.7 1118.1,175.0 1119.0,177.3 1119.9,179.6" stroke="#0000ff" stroke-width="10.0"/>
<path d="M1119.9,179.6 1120.8,182.0 1121.8,184.3 1122.7,186.6 1123.6,188.9" stroke="#0000fa" stroke-width="10.0"/>
<path d="M1123.6,188.9 1124.6,191.2 1125.6,193.5 1126.5,195.8 1127.5,198.1" stroke="#0000f2" stroke-width="10.0"/>
<path d="M1127.5,198.1 1128.5,200.3 1129.5,202.6 1130.5,204.9 1131.6,207.1 1132.6,209.4" stroke="#0000ea" stroke-width="10.0"/>
<path d="M1132.6,209.4 1133.7,211.6 1134.8,213.8 1135.9,216.0 1137.0,218.3" stroke="#0000e2" stroke-width="10.0"/>
<path d="M1137.0,218.3 1138.1,220.5 1139.3,222.6 1140.5,224.8" stroke="#0000da" stroke-width="10.0"/>
<path d="M1140.5,224.8 1141.7,227.0 1142.9,229.1 1144.2,231.3 1145.4,233.4" stroke="#0000d2" stroke-width="10.0"/>
<path d="M1145.4,233.4 1146.7,235.5 1148.0,237.6 1149.4,239.7" stroke="#0000ca" stroke-width="10.0"/>
<path d="M1149.4,239.7 1150.7,241.8 1152.1,243.8 1153.6,245.9" stroke="#0000c2" stroke-width="10.0"/>
<path d="M1153.6,245.9 1155.0,247.9 1156.5,249.8 1158.0,251.8" stroke="#0000ba" stroke-width="10.0"/>
<path d="M1158.0,251.8 1159.5,253.8 1161.1,255.7 1162.7,257.6 1164.3,259.4 1165.9,261.3 1167.6,263.1 1169.3,264.9 1171.1,266.6 1172.9,268.4 1174.7,270.1 1176.5,271.7 1178.4,273.3 1180.3,274.9 1182.2,276.5 1184.2,278.0 1186.2,279.5 1188.2,281.0 1190.2,282.4 1192.3,283.8 1194.4,285.2 1196.5,286.5 1198.6,287.8 1200.7,289.1 1202.8,290.4" stroke="#0000b3" stroke-width="10.0"/>
<path d="M1202.8,290.4 1205.0,291.7 1207.1,293.0" stroke="#0000ba" stroke-width="10.0"/>
<path d="M1207.1,293.0 1209.3,294.2" stroke="#0000c2" stroke-width="10.0"/>
<path d="M1209.3,294.2 1211.5,295.5 1213.6,296.7" stroke="#0000ca" stroke-width="10.0"/>
<path d="M1213.6,296.7 1215.8,297.9" stroke="#0000d2" stroke-width="10.0"/>
<path d="M1215.8,297.9 1218.0,299.2 1220.1,300.5" stroke="#0000da" stroke-width="10.0"/>
<path d="M1220.1,300.5 1222.3,301.7" stroke="#0000e2" stroke-width="10.0"/>
<path d="M1222.3,301.7 1224.4,303.0 1226.6,304.3" stroke="#0000ea" stroke-width="10.0"/>
<path d="M1226.6,304.3 1228.7,305.6" stroke="#0000f2" stroke-width="10.0"/>
<path d="M1228.7,305.6 1230.8,307.0 1233.0,308.3" stroke="#0000fa" stroke-width="10.0"/>
<path d="M1233.0,308.3 1235.1,309.6" stroke="#0000ff" stroke-width="10.0"/>
<path d="M1235.1,309.6 1237.2,310.9 1239.3,312.3" stroke="#0000ff" stroke-width="10.0"/>
<path d="M1239.3,312.3 1241.4,313.6 1243.5,315.0" stroke="#0001ff" stroke-width="10.0"/>
<path d="M1243.5,315.0 1245.6,316.3 1247.7,317.7" stroke="#0008ff" stroke-width="10.0"/>
<path d="M1247.7,317.7 1249.8,319.0 1251.9,320.4 1254.1,321.7" stroke="#000fff" stroke-width="10.0"/>
<path d="M1254.1,321.7 1256.2,323.0 1258.3,324.4" stroke="#0016ff" stroke-width="10.0"/>
<path d="M1258.3,324.4 1260.4,325.7 1262.5,327.0" stroke="#001dff" stroke-width="10.0"/>
<path d="M1262.5,327.0 1264.6,328.3 1266.8,329.7 1268.9,330.9" stroke="#0024ff" stroke-width="10.0"/>
<path d="M1268.9,330.9 1271.0,332.2 1273.2,333.5" stroke="#002bff" stroke-width="10.0"/>
<path d="M1273.2,333.5 1275.3,334.8 1277.5,336.0 1279.6,337.3" stroke="#0032ff" stroke-width="10.0"/>
<path d="M1279.6,337.3 1281.8,338.5 1284.0,339.7" stroke="#0039ff" stroke-width="10.0"/>
<path d="M1284.0,339.7 1286.2,340.9 1288.4,342.0" stroke="#0040ff" stroke-width="10.0"/>
<path d="M1288.4,342.0 1290.6,343.2 1292.9,344.3" stroke="#0047ff" stroke-width="10.0"/>
<path d="M1292.9,344.3 1295.1,345.4" stroke="#004eff" stroke-width="10.0"/>
<path d="M1295.1,345.4 1297.3,346.5 1299.6,347.5" stroke="#0055ff" stroke-width="10.0"/>
<path d="M1299.6,347.5 1301.9,348.5" stroke="#005cff" stroke-width="10.0"/>
<path d="M1301.9,348.5 1304.2,349.5" stroke="#0063ff" stroke-width="10.0"/>
<path d="M1304.2,349.5 1306.5,350.4" stroke="#006aff" stroke-width="10.0"/>
<path d="M1306.5,350.4 1308.8,351.3 1311.2,352.2" stroke="#0071ff" stroke-width="10.0"/>
<path d="M1311.2,352.2 1313.5,353.0" stroke="#0078ff" stroke-width="10.0"/>
<path d="M1313.5,353.0 1315.9,353.7" stroke="#007fff" stroke-width="10.0"/>
<path d="M1315.9,353.7 1318.3,354.5 1320.7,355.1" stroke="#0086ff" stroke-width="10.0"/>
<path d="M1320.7,355.1 1323.1,355.7" stroke="#008dff" stroke-width="10.0"/>
<path d="M1323.1,355.7 1325.5,356.3" stroke="#0094ff" stroke-width="10.0"/>
<path d="M1325.5,356.3 1328.0,356.7" stroke="#009bff" stroke-width="10.0"/>
<path d="M1328.0,356.7 1330.4,357.1 1332.9,357.4" stroke="#00a2ff" stroke-width="10.0"/>
<path d="M1332.9,357.4 1335.4,357.6" stroke="#00a9ff" stroke-width="10.0"/>
<path d="M1335.4,357.6 1337.9,357.7" stroke="#00b0ff" stroke-width="10.0"/>
<path d="M1337.9,357.7 1340.4,357.7" stroke="#00b7ff" stroke-width="10.0"/>
<path d="M1340.4,357.7 1342.9,357.5" stroke="#00beff" stroke-width="10.0"/>
<path d="M1342.9,357.5 1345.4,357.3 1347.9,356.8" stroke="#00c5ff" stroke-width="10.0"/>
<path d="M1347.9,356.8 1350.3,356.3" stroke="#00ccff" stroke-width="10.0"/>
<path d="M1350.3,356.3 1352.7,355.6" stroke="#00d2ff" stroke-width="10.0"/>
<path d="M1352.7,355.6 1355.1,354.7" stroke="#00d9ff" stroke-width="10.0"/>
<path d="M1355.1,354.7 1357.4,353.8" stroke="#00e0fb" stroke-width="10.0"/>
<path d="M1357.4,353.8 1359.7,352.7" stroke="#02e7f5" stroke-width="10.0"/>
<path d="M1359.7,352.7 1362.0,351.4 1364.1,350.1" stroke="#07eef0" stroke-width="10.0"/>
<path d="M1364.1,350.1 1366.2,348.7" stroke="#0df5ea" stroke-width="10.0"/>
<path d="M1366.2,348.7 1368.3,347.2" stroke="#12fce4" stroke-width="10.0"/>
<path d="M1368.3,347.2 1370.3,345.7" stroke="#18ffdf" stroke-width="10.0"/>
<path d="M1370.3,345.7 1372.2,344.1 1374.1,342.4" stroke="#1effd9" stroke-width="10.0"/>
<path d="M1374.1,342.4 1376.0,340.8" stroke="#23ffd3" stroke-width="10.0"/>
<path d="M1376.0,340.8 1377.9,339.0 1379.7,337.3" stroke="#29ffce" stroke-width="10.0"/>
<path d="M1379.7,337.3 1381.5,335.5 1383.2,333.7" stroke="#2fffc8" stroke-width="10.0"/>
<path d="M1383.2,333.7 1384.9,331.9 1386.6,330.0" stroke="#34ffc3" stroke-width="10.0"/>
<path d="M1386.6,330.0 1388.3,328.1 1390.0,326.3" stroke="#3affbd" stroke-width="10.0"/>
<path d="M1390.0,326.3 1391.6,324.4 1393.3,322.5" stroke="#3fffb7" stroke-width="10.0"/>
<path d="M1393.3,322.5 1394.9,320.6 1396.5,318.6" stroke="#45ffb2" stroke-width="10.0"/>
<path d="M1396.5,318.6 1398.1,316.7 1399.7,314.8" stroke="#4bffac" stroke-width="10.0"/>
<path d="M1399.7,314.8 1401.3,312.8 1402.9,310.9" stroke="#50ffa6" stroke-width="10.0"/>
<path d="M1402.9,310.9 1404.4,308.9 1406.0,306.9" stroke="#56ffa1" stroke-width="10.0"/>
<path d="M1406.0,306.9 1407.5,304.9 1409.0,303.0 1410.6,301.0" stroke="#5cff9b" stroke-width="10.0"/>
<path d="M1410.6,301.0 1412.1,299.0 1413.6,297.0" stroke="#61ff96" stroke-width="10.0"/>
<path d="M1413.6,297.0 1415.1,295.0 1416.6,293.0" stroke="#67ff90" stroke-width="10.0"/>
<path d="M1416.6,293.0 1418.1,291.0 1419.6,288.9" stroke="#6cff8a" stroke-width="10.0"/>
<path d="M1419.6,288.9 1421.1,286.9 1422.5,284.9 1424.0,282.9" stroke="#72ff85" stroke-width="10.0"/>
<path d="M1424.0,282.9 1425.5,280.9 1426.9,278.8" stroke="#78ff7f" stroke-width="10.0"/>
<path d="M1426.9,278.8 1428.4,276.8 1429.9,274.8" stroke="#7dff79" stroke-width="10.0"/>
<path d="M1429.9,274.8 1431.3,272.7 1432.8,270.7 1434.2,268.6" stroke="#83ff74" stroke-width="10.0"/>
<path d="M1434.2,268.6 1435.7,266.6 1437.1,264.6" stroke="#89ff6e" stroke-width="10.0"/>
<path d="M1437.1,264.6 1438.6,262.5 1440.0,260.5" stroke="#8eff69" stroke-width="10.0"/>
<path d="M1440.0,260.5 1441.5,258.4 1442.9,256.4 1444.3,254.4" stroke="#94ff63" stroke-width="10.0"/>
<path d="M1444.3,254.4 1445.8,252.3 1447.2,250.3 1448.7,248.2" stroke="#99ff5d" stroke-width="10.0"/>
<path d="M1448.7,248.2 1450.1,246.2 1451.6,244.2 1453.0,242.1 1454.5,240.1" stroke="#9fff58" stroke-width="10.0"/>
<path d="M1454.5,240.1 1455.9,238.1 1457.4,236.0 1458.8,234.0 1460.3,232.0" stroke="#a5ff52" stroke-width="10.0"/>
<path d="M1460.3,232.0 1461.7,229.9 1463.2,227.9 1464.7,225.9 1466.1,223.9" stroke="#aaff4c" stroke-width="10.0"/>
<path d="M1466.1,223.9 1467.6,221.9 1469.1,219.9 1470.6,217.9 1472.1,215.9" stroke="#b0ff47" stroke-width="10.0"/>
<path d="M1472.1,215.9 1473.6,213.9 1475.1,211.9 1476.6,209.9 1478.1,207.9" stroke="#b6ff41" stroke-width="10.0"/>
<path d="M1478.1,207.9 1479.6,205.9 1481.2,204.0 1482.7,202.0" stroke="#bbff3c" stroke-width="10.0"/>
<path d="M1482.7,202.0 1484.2,200.0 1485.8,198.1 1487.4,196.2" stroke="#c1ff36" stroke-width="10.0"/>
<path d="M1487.4,196.2 1488.9,194.2 1490.5,192.3 1492.1,190.4" stroke="#c6ff30" stroke-width="10.0"/>
<path d="M1492.1,190.4 1493.7,188.5 1495.4,186.6" stroke="#ccff2b" stroke-width="10.0"/>
<path d="M1495.4,186.6 1497.0,184.7 1498.6,182.9 1500.3,181.0" stroke="#d2ff25" stroke-width="10.0"/>
<path d="M1500.3,181.0 1502.0,179.2 1503.7,177.4" stroke="#d7ff1f" stroke-width="10.0"/>
<path d="M1503.7,177.4 1505.4,175.5 1507.1,173.8 1508.8,172.0" stroke="#ddff1a" stroke-width="10.0"/>
<path d="M1508.8,172.0 1510.6,170.2 1512.4,168.5" stroke="#e3ff14" stroke-width="10.0"/>
<path d="M1512.4,168.5 1514.2,166.8 1516.0,165.1 1517.9,163.4 1519.7,161.8 1521.6,160.2" stroke="#e8ff0f" stroke-width="10.0"/>
<path d="M1521.6,160.2 1523.5,158.6 1525.5,157.1 1527.5,155.5 1529.4,154.1 1531.5,152.6 1533.5,151.2" stroke="#eeff09" stroke-width="10.0"/>
<path d="M1533.5,151.2 1535.6,149.8 1537.7,148.5 1539.8,147.2 1541.9,145.9 1544.1,144.7" stroke="#f4f903" stroke-width="10.0"/>
<path d="M1544.1,144.7 1546.3,143.6 1548.5,142.5 1550.8,141.4 1553.1,140.4 1555.4,139.5 1557.7,138.6" stroke="#f9f300" stroke-width="10.0"/>
<path d="M1557.7,138.6 1560.0,137.8 1562.4,137.0 1564.8,136.3 1567.2,135.7 1569.7,135.2" stroke="#ffec00" stroke-width="10.0"/>
<path d="M1569.7,135.2 1572.1,134.7 1574.6,134.3 1577.0,134.0 1579.5,133.8 1582.0,133.6" stroke="#ffe600" stroke-width="10.0"/>
<path d="M1582.0,133.6 1584.5,133.6 1586.0,133.6" stroke="#ffdf00" stroke-width="10.0"/>
<path d="M1064.5,39.2l-8.5,5.3M1070.3,49.1l-8.7,4.9M1076.1,59.8l-8.9,4.6M1081.9,71.5l-9.0,4.3M1087.6,84.0l-9.1,4.1M1093.4,97.4l-9.2,3.9M1099.2,111.4l-9.3,3.7M1104.9,126.1l-9.3,3.6M1110.6,141.3l-9.4,3.5M1116.3,156.4l-9.4,3.5M1122.0,171.3l-9.3,3.6M1127.7,185.6l-9.3,3.8M1133.4,199.0l-9.1,4.0M1139.0,211.1l-9.0,4.4M1144.6,222.0l-8.8,4.8M1150.2,231.7l-8.5,5.2M1155.8,240.3l-8.3,5.6M1161.3,248.0l-7.9,6.1M1166.9,254.8l-7.6,6.5M1172.4,260.9l-7.2,7.0M1177.9,266.2l-6.8,7.4M1183.4,271.0l-6.4,7.7M1188.9,275.3l-6.0,8.0M1194.5,279.2l-5.6,8.3M1200.0,282.9l-5.3,8.5M1205.6,286.3l-5.1,8.6M1211.3,289.6l-5.0,8.7M1217.0,292.9l-5.0,8.7M1222.8,296.2l-5.1,8.6M1228.6,299.7l-5.2,8.5M1234.3,303.2l-5.3,8.5M1240.1,306.8l-5.3,8.5M1245.8,310.5l-5.4,8.4M1251.5,314.1l-5.4,8.4M1257.2,317.8l-5.4,8.4M1262.9,321.4l-5.3,8.5M1268.6,324.9l-5.2,8.5M1274.2,328.3l-5.1,8.6M1279.9,331.6l-5.0,8.7M1285.5,334.8l-4.8,8.8M1291.1,337.8l-4.6,8.9M1296.7,340.6l-4.4,9.0M1302.3,343.2l-4.1,9.1M1307.8,345.5l-3.7,9.3M1313.3,347.6l-3.3,9.4M1318.8,349.4l-2.9,9.6M1324.3,350.9l-2.3,9.7M1329.6,352.0l-1.6,9.9M1334.9,352.6l-0.7,10.0M1340.1,352.7l0.3,10.0M1345.2,352.2l1.5,9.9M1350.3,351.1l2.8,9.6M1355.4,349.2l4.1,9.1M1360.5,346.5l5.2,8.5M1365.8,342.8l6.1,8.0M1371.2,338.4l6.6,7.5M1376.7,333.2l7.1,7.1M1382.3,327.3l7.4,6.8M1387.9,321.0l7.6,6.5M1393.6,314.4l7.7,6.4M1399.2,307.4l7.8,6.2M1404.9,300.2l7.9,6.1M1410.6,292.7l8.0,6.0M1416.2,285.0l8.1,5.9M1421.9,277.2l8.1,5.9M1427.6,269.3l8.1,5.8M1433.3,261.3l8.2,5.8M1439.0,253.2l8.2,5.8M1444.8,245.1l8.2,5.8M1450.5,237.0l8.1,5.8M1456.2,229.0l8.1,5.8M1461.9,221.1l8.1,5.9M1467.7,213.4l8.0,6.0M1473.4,205.8l7.9,6.1M1479.2,198.4l7.8,6.2M1485.0,191.2l7.7,6.3M1490.8,184.3l7.6,6.5M1496.6,177.7l7.4,6.7M1502.4,171.4l7.2,6.9M1508.2,165.6l7.0,7.2M1514.1,160.1l6.7,7.5M1520.0,155.1l6.3,7.7M1525.9,150.5l6.0,8.0M1531.8,146.3l5.5,8.3M1537.7,142.6l5.1,8.6M1543.7,139.3l4.6,8.9M1549.7,136.4l4.0,9.2M1555.7,134.0l3.4,9.4M1561.7,132.0l2.8,9.6M1567.8,130.5l2.1,9.8M1573.9,129.4l1.4,9.9M1579.9,128.7l0.7,10.0" stroke="#7a7a7a" stroke-opacity="0.3" stroke-width="0.9"/>
</g>
<g><path d="M1448.0,33.1 1449.1,35.4 1450.2,37.6 1451.3,39.8 1452.4,42.1 1453.6,44.3 1454.7,46.5 1455.8,48.7 1457.0,51.0 1458.1,53.2 1459.3,55.4 1460.4,57.6 1461.6,59.8 1462.8,62.0 1463.9,64.2 1465.1,66.4 1466.3,68.6 1467.5,70.8 1468.7,72.9 1470.0,75.1 1471.2,77.3 1472.4,79.4 1473.7,81.6 1474.9,83.8 1476.2,85.9 1477.4,88.0 1478.7,90.2 1480.0,92.3 1481.3,94.4 1482.6,96.6 1483.9,98.7 1485.2,100.8 1486.6,102.9 1487.9,105.0 1489.3,107.1 1490.7,109.1 1492.0,111.2 1493.4,113.3 1494.8,115.3 1496.3,117.4 1497.7,119.4 1499.1,121.4 1500.6,123.4 1502.1,125.5 1503.6,127.4 1505.1,129.4 1506.6,131.4 1508.1,133.4 1509.7,135.3 1511.2,137.2 1512.8,139.1 1514.4,141.0 1516.1,142.9 1517.7,144.8 1519.4,146.6 1521.0,148.5 1522.7,150.3 1524.5,152.1 1526.2,153.8 1528.0,155.6 1529.8,157.3 1531.6,159.0 1533.5,160.6 1535.3,162.3 1537.2,163.8 1539.2,165.4 1541.1,166.9 1543.1,168.4 1545.1,169.9 1547.2,171.3 1549.2,172.6 1551.4,173.9 1553.5,175.2 1555.7,176.4 1557.9,177.5 1560.1,178.5 1562.4,179.5 1564.7,180.4 1567.1,181.3 1569.4,182.0 1571.8,182.7 1574.2,183.3 1576.7,183.7 1579.2,184.1 1581.6,184.4 1584.1,184.5 1586.0,184.6" stroke="#808080" stroke-width="12.3"/>
<path d="M1448.0,33.1 1449.1,35.4 1450.2,37.6 1451.3,39.8 1452.4,42.1 1453.6,44.3 1454.7,46.5 1455.8,48.7 1457.0,51.0 1458.1,53.2 1459.3,55.4 1460.4,57.6 1461.6,59.8 1462.8,62.0 1463.9,64.2 1465.1,66.4 1466.3,68.6 1467.5,70.8 1468.7,72.9 1470.0,75.1 1471.2,77.3 1472.4,79.4 1473.7,81.6 1474.9,83.8 1476.2,85.9 1477.4,88.0 1478.7,90.2 1480.0,92.3 1481.3,94.4 1482.6,96.6 1483.9,98.7 1485.2,100.8 1486.6,102.9 1487.9,105.0 1489.3,107.1 1490.7,109.1 1492.0,111.2 1493.4,113.3 1494.8,115.3 1496.3,117.4 1497.7,119.4 1499.1,121.4 1500.6,123.4 1502.1,125.5 1503.6,127.4 1505.1,129.4 1506.6,131.4 1508.1,133.4 1509.7,135.3 1511.2,137.2 1512.8,139.1 1514.4,141.0 1516.1,142.9 1517.7,144.8 1519.4,146.6 1521.0,148.5 1522.7,150.3 1524.5,152.1 1526.2,153.8 1528.0,155.6 1529.8,157.3 1531.6,159.0 1533.5,160.6 1535.3,162.3 1537.2,163.8 1539.2,165.4 1541.1,166.9 1543.1,168.4 1545.1,169.9 1547.2,171.3 1549.2,172.6 1551.4,173.9 1553.5,175.2 1555.7,176.4 1557.9,177.5 1560.1,178.5 1562.4,179.5 1564.7,180.4 1567.1,181.3 1569.4,182.0 1571.8,182.7 1574.2,183.3 1576.7,183.7 1579.2,184.1 1581.6,184.4 1584.1,184.5 1586.0,184.6" stroke="#99ff5d" stroke-width="10.0"/>
<path d="M1453.3,32.6l-9.0,4.4M1459.0,44.0l-8.9,4.5M1464.7,55.0l-8.8,4.7M1470.4,65.5l-8.8,4.8M1476.0,75.7l-8.7,5.0M1481.7,85.5l-8.6,5.1M1487.4,94.8l-8.5,5.3M1493.0,103.6l-8.4,5.5M1498.7,112.1l-8.2,5.7M1504.3,120.1l-8.1,5.9M1509.9,127.6l-7.9,6.1M1515.6,134.6l-7.7,6.4M1521.2,141.2l-7.5,6.6M1526.7,147.2l-7.2,6.9M1532.3,152.8l-6.9,7.2M1537.8,157.8l-6.6,7.6M1543.3,162.4l-6.1,7.9M1548.8,166.4l-5.7,8.2M1554.3,169.8l-5.1,8.6M1559.7,172.8l-4.5,9.0M1565.0,175.2l-3.7,9.3M1570.3,177.1l-2.9,9.6M1575.6,178.4l-2.0,9.8M1580.8,179.3l-1.1,9.9" stroke="#7a7a7a" stroke-opacity="0.3" stroke-width="0.9"/>
</g>
</g>
<line x1="728.5" y1="49.0" x2="728.5" y2="2028.0" stroke="#000" stroke-opacity="0.5" stroke-width="3"/>
<line x1="1014.5" y1="49.0" x2="1014.5" y2="2028.0" stroke="#000" stroke-opacity="0.5" stroke-width="3"/>
<g shape-rendering="crispEdges">
<rect x="1593.0" y="2020.27" width="41.0" height="8.33" fill="#000082"/>
<rect x="1593.0" y="2012.54" width="41.0" height="8.33" fill="#000086"/>
<rect x="1593.0" y="2004.81" width="41.0" height="8.33" fill="#00008b"/>
<rect x="1593.0" y="1997.08" width="41.0" height="8.33" fill="#00008f"/>
<rect x="1593.0" y="1989.35" width="41.0" height="8.33" fill="#000094"/>
<rect x="1593.0" y="1981.62" width="41.0" height="8.33" fill="#000098"/>
<rect x="1593.0" y="1973.89" width="41.0" height="8.33" fill="#00009d"/>
<rect x="1593.0" y="1966.16" width="41.0" height="8.33" fill="#0000a1"/>
<rect x="1593.0" y="1958.43" width="41.0" height="8.33" fill="#0000a6"/>
<rect x="1593.0" y="1950.70" width="41.0" height="8.33" fill="#0000ab"/>
<rect x="1593.0" y="1942.96" width="41.0" height="8.33" fill="#0000af"/>
<rect x="1593.0" y="1935.23" width="41.0" height="8.33" fill="#0000b4"/>
<rect x="1593.0" y="1927.50" width="41.0" height="8.33" fill="#0000b8"/>
<rect x="1593.0" y="1919.77" width="41.0" height="8.33" fill="#0000bd"/>
<rect x="1593.0" y="1912.04" width="41.0" height="8.33" fill="#0000c1"/>
<rect x="1593.0" y="1904.31" width="41.0" height="8.33" fill="#0000c6"/>
<rect x="1593.0" y="1896.58" width="41.0" height="8.33" fill="#0000ca"/>
<rect x="1593.0" y="1888.85" width="41.0" height="8.33" fill="#0000cf"/>
<rect x="1593.0" y="1881.12" width="41.0" height="8.33" fill="#0000d3"/>
<rect x="1593.0" y="1873.39" width="41.0" height="8.33" fill="#0000d8"/>
<rect x="1593.0" y="1865.66" width="41.0" height="8.33" fill="#0000dc"/>
<rect x="1593.0" y="1857.93" width="41.0" height="8.33" fill="#0000e1"/>
<rect x="1593.0" y="1850.20" width="41.0" height="8.33" fill="#0000e5"/>
<rect x="1593.0" y="1842.47" width="41.0" height="8.33" fill="#0000ea"/>
<rect x="1593.0" y="1834.74" width="41.0" height="8.33" fill="#0000ee"/>
<rect x="1593.0" y="1827.01" width="41.0" height="8.33" fill="#0000f3"/>
<rect x="1593.0" y="1819.28" width="41.0" height="8.33" fill="#0000f7"/>
<rect x="1593.0" y="1811.55" width="41.0" height="8.33" fill="#0000fc"/>
<rect x="1593.0" y="1803.82" width="41.0" height="8.33" fill="#0000ff"/>
<rect x="1593.0" y="1796.09" width="41.0" height="8.33" fill="#0000ff"/>
<rect x="1593.0" y="1788.36" width="41.0" height="8.33" fill="#0000ff"/>
<rect x="1593.0" y="1780.62" width="41.0" height="8.33" fill="#0000ff"/>
<rect x="1593.0" y="1772.89" width="41.0" height="8.33" fill="#0002ff"/>
<rect x="1593.0" y="1765.16" width="41.0" height="8.33" fill="#0006ff"/>
<rect x="1593.0" y="1757.43" width="41.0" height="8.33" fill="#000aff"/>
<rect x="1593.0" y="1749.70" width="41.0" height="8.33" fill="#000eff"/>
<rect x="1593.0" y="1741.97" width="41.0" height="8.33" fill="#0012ff"/>
<rect x="1593.0" y="1734.24" width="41.0" height="8.33" fill="#0016ff"/>
<rect x="1593.0" y="1726.51" width="41.0" height="8.33" fill="#001aff"/>
<rect x="1593.0" y="1718.78" width="41.0" height="8.33" fill="#001eff"/>
<rect x="1593.0" y="1711.05" width="41.0" height="8.33" fill="#0022ff"/>
<rect x="1593.0" y="1703.32" width="41.0" height="8.33" fill="#0026ff"/>
<rect x="1593.0" y="1695.59" width="41.0" height="8.33" fill="#002aff"/>
<rect x="1593.0" y="1687.86" width="41.0" height="8.33" fill="#002eff"/>
<rect x="1593.0" y="1680.13" width="41.0" height="8.33" fill="#0032ff"/>
<rect x="1593.0" y="1672.40" width="41.0" height="8.33" fill="#0036ff"/>
<rect x="1593.0" y="1664.67" width="41.0" height="8.33" fill="#003aff"/>
<rect x="1593.0" y="1656.94" width="41.0" height="8.33" fill="#003eff"/>
<rect x="1593.0" y="1649.21" width="41.0" height="8.33" fill="#0042ff"/>
<rect x="1593.0" y="1641.48" width="41.0" height="8.33" fill="#0046ff"/>
<rect x="1593.0" y="1633.75" width="41.0" height="8.33" fill="#004aff"/>
<rect x="1593.0" y="1626.02" width="41.0" height="8.33" fill="#004eff"/>
<rect x="1593.0" y="1618.29" width="41.0" height="8.33" fill="#0052ff"/>
<rect x="1593.0" y="1610.55" width="41.0" height="8.33" fill="#0056ff"/>
<rect x="1593.0" y="1602.82" width="41.0" height="8.33" fill="#005aff"/>
<rect x="1593.0" y="1595.09" width="41.0" height="8.33" fill="#005eff"/>
<rect x="1593.0" y="1587.36" width="41.0" height="8.33" fill="#0062ff"/>
<rect x="1593.0" y="1579.63" width="41.0" height="8.33" fill="#0066ff"/>
<rect x="1593.0" y="1571.90" width="41.0" height="8.33" fill="#006aff"/>
<rect x="1593.0" y="1564.17" width="41.0" height="8.33" fill="#006eff"/>
<rect x="1593.0" y="1556.44" width="41.0" height="8.33" fill="#0072ff"/>
<rect x="1593.0" y="1548.71" width="41.0" height="8.33" fill="#0076ff"/>
<rect x="1593.0" y="1540.98" width="41.0" height="8.33" fill="#007aff"/>
<rect x="1593.0" y="1533.25" width="41.0" height="8.33" fill="#007eff"/>
<rect x="1593.0" y="1525.52" width="41.0" height="8.33" fill="#0081ff"/>
<rect x="1593.0" y="1517.79" width="41.0" height="8.33" fill="#0085ff"/>
<rect x="1593.0" y="1510.06" width="41.0" height="8.33" fill="#0089ff"/>
<rect x="1593.0" y="1502.33" width="41.0" height="8.33" fill="#008dff"/>
<rect x="1593.0" y="1494.60" width="41.0" height="8.33" fill="#0091ff"/>
<rect x="1593.0" y="1486.87" width="41.0" height="8.33" fill="#0095ff"/>
<rect x="1593.0" y="1479.14" width="41.0" height="8.33" fill="#0099ff"/>
<rect x="1593.0" y="1471.41" width="41.0" height="8.33" fill="#009dff"/>
<rect x="1593.0" y="1463.68" width="41.0" height="8.33" fill="#00a1ff"/>
<rect x="1593.0" y="1455.95" width="41.0" height="8.33" fill="#00a5ff"/>
<rect x="1593.0" y="1448.21" width="41.0" height="8.33" fill="#00a9ff"/>
<rect x="1593.0" y="1440.48" width="41.0" height="8.33" fill="#00adff"/>
<rect x="1593.0" y="1432.75" width="41.0" height="8.33" fill="#00b1ff"/>
<rect x="1593.0" y="1425.02" width="41.0" height="8.33" fill="#00b5ff"/>
<rect x="1593.0" y="1417.29" width="41.0" height="8.33" fill="#00b9ff"/>
<rect x="1593.0" y="1409.56" width="41.0" height="8.33" fill="#00bdff"/>
<rect x="1593.0" y="1401.83" width="41.0" height="8.33" fill="#00c1ff"/>
<rect x="1593.0" y="1394.10" width="41.0" height="8.33" fill="#00c5ff"/>
<rect x="1593.0" y="1386.37" width="41.0" height="8.33" fill="#00c9ff"/>
<rect x="1593.0" y="1378.64" width="41.0" height="8.33" fill="#00cdff"/>
<rect x="1593.0" y="1370.91" width="41.0" height="8.33" fill="#00d1ff"/>
<rect x="1593.0" y="1363.18" width="41.0" height="8.33" fill="#00d5ff"/>
<rect x="1593.0" y="1355.45" width="41.0" height="8.33" fill="#00d9ff"/>
<rect x="1593.0" y="1347.72" width="41.0" height="8.33" fill="#00ddfe"/>
<rect x="1593.0" y="1339.99" width="41.0" height="8.33" fill="#00e1fa"/>
<rect x="1593.0" y="1332.26" width="41.0" height="8.33" fill="#00e5f7"/>
<rect x="1593.0" y="1324.53" width="41.0" height="8.33" fill="#03e9f4"/>
<rect x="1593.0" y="1316.80" width="41.0" height="8.33" fill="#06edf1"/>
<rect x="1593.0" y="1309.07" width="41.0" height="8.33" fill="#09f1ed"/>
<rect x="1593.0" y="1301.34" width="41.0" height="8.33" fill="#0df5ea"/>
<rect x="1593.0" y="1293.61" width="41.0" height="8.33" fill="#10f9e7"/>
<rect x="1593.0" y="1285.88" width="41.0" height="8.33" fill="#13fde4"/>
<rect x="1593.0" y="1278.14" width="41.0" height="8.33" fill="#16ffe1"/>
<rect x="1593.0" y="1270.41" width="41.0" height="8.33" fill="#19ffdd"/>
<rect x="1593.0" y="1262.68" width="41.0" height="8.33" fill="#1dffda"/>
<rect x="1593.0" y="1254.95" width="41.0" height="8.33" fill="#20ffd7"/>
<rect x="1593.0" y="1247.22" width="41.0" height="8.33" fill="#23ffd4"/>
<rect x="1593.0" y="1239.49" width="41.0" height="8.33" fill="#26ffd1"/>
<rect x="1593.0" y="1231.76" width="41.0" height="8.33" fill="#29ffcd"/>
<rect x="1593.0" y="1224.03" width="41.0" height="8.33" fill="#2dffca"/>
<rect x="1593.0" y="1216.30" width="41.0" height="8.33" fill="#30ffc7"/>
<rect x="1593.0" y="1208.57" width="41.0" height="8.33" fill="#33ffc4"/>
<rect x="1593.0" y="1200.84" width="41.0" height="8.33" fill="#36ffc0"/>
<rect x="1593.0" y="1193.11" width="41.0" height="8.33" fill="#3affbd"/>
<rect x="1593.0" y="1185.38" width="41.0" height="8.33" fill="#3dffba"/>
<rect x="1593.0" y="1177.65" width="41.0" height="8.33" fill="#40ffb7"/>
<rect x="1593.0" y="1169.92" width="41.0" height="8.33" fill="#43ffb4"/>
<rect x="1593.0" y="1162.19" width="41.0" height="8.33" fill="#46ffb0"/>
<rect x="1593.0" y="1154.46" width="41.0" height="8.33" fill="#4affad"/>
<rect x="1593.0" y="1146.73" width="41.0" height="8.33" fill="#4dffaa"/>
<rect x="1593.0" y="1139.00" width="41.0" height="8.33" fill="#50ffa7"/>
<rect x="1593.0" y="1131.27" width="41.0" height="8.33" fill="#53ffa4"/>
<rect x="1593.0" y="1123.54" width="41.0" height="8.33" fill="#56ffa0"/>
<rect x="1593.0" y="1115.80" width="41.0" height="8.33" fill="#5aff9d"/>
<rect x="1593.0" y="1108.07" width="41.0" height="8.33" fill="#5dff9a"/>
<rect x="1593.0" y="1100.34" width="41.0" height="8.33" fill="#60ff97"/>
<rect x="1593.0" y="1092.61" width="41.0" height="8.33" fill="#63ff93"/>
<rect x="1593.0" y="1084.88" width="41.0" height="8.33" fill="#67ff90"/>
<rect x="1593.0" y="1077.15" width="41.0" height="8.33" fill="#6aff8d"/>
<rect x="1593.0" y="1069.42" width="41.0" height="8.33" fill="#6dff8a"/>
<rect x="1593.0" y="1061.69" width="41.0" height="8.33" fill="#70ff87"/>
<rect x="1593.0" y="1053.96" width="41.0" height="8.33" fill="#73ff83"/>
<rect x="1593.0" y="1046.23" width="41.0" height="8.33" fill="#77ff80"/>
<rect x="1593.0" y="1038.50" width="41.0" height="8.33" fill="#7aff7d"/>
<rect x="1593.0" y="1030.77" width="41.0" height="8.33" fill="#7dff7a"/>
<rect x="1593.0" y="1023.04" width="41.0" height="8.33" fill="#80ff77"/>
<rect x="1593.0" y="1015.31" width="41.0" height="8.33" fill="#83ff73"/>
<rect x="1593.0" y="1007.58" width="41.0" height="8.33" fill="#87ff70"/>
<rect x="1593.0" y="999.85" width="41.0" height="8.33" fill="#8aff6d"/>
<rect x="1593.0" y="992.12" width="41.0" height="8.33" fill="#8dff6a"/>
<rect x="1593.0" y="984.39" width="41.0" height="8.33" fill="#90ff67"/>
<rect x="1593.0" y="976.66" width="41.0" height="8.33" fill="#93ff63"/>
<rect x="1593.0" y="968.93" width="41.0" height="8.33" fill="#97ff60"/>
<rect x="1593.0" y="961.20" width="41.0" height="8.33" fill="#9aff5d"/>
<rect x="1593.0" y="953.46" width="41.0" height="8.33" fill="#9dff5a"/>
<rect x="1593.0" y="945.73" width="41.0" height="8.33" fill="#a0ff56"/>
<rect x="1593.0" y="938.00" width="41.0" height="8.33" fill="#a4ff53"/>
<rect x="1593.0" y="930.27" width="41.0" height="8.33" fill="#a7ff50"/>
<rect x="1593.0" y="922.54" width="41.0" height="8.33" fill="#aaff4d"/>
<rect x="1593.0" y="914.81" width="41.0" height="8.33" fill="#adff4a"/>
<rect x="1593.0" y="907.08" width="41.0" height="8.33" fill="#b0ff46"/>
<rect x="1593.0" y="899.35" width="41.0" height="8.33" fill="#b4ff43"/>
<rect x="1593.0" y="891.62" width="41.0" height="8.33" fill="#b7ff40"/>
<rect x="1593.0" y="883.89" width="41.0" height="8.33" fill="#baff3d"/>
<rect x="1593.0" y="876.16" width="41.0" height="8.33" fill="#bdff3a"/>
<rect x="1593.0" y="868.43" width="41.0" height="8.33" fill="#c0ff36"/>
<rect x="1593.0" y="860.70" width="41.0" height="8.33" fill="#c4ff33"/>
<rect x="1593.0" y="852.97" width="41.0" height="8.33" fill="#c7ff30"/>
<rect x="1593.0" y="845.24" width="41.0" height="8.33" fill="#caff2d"/>
<rect x="1593.0" y="837.51" width="41.0" height="8.33" fill="#cdff29"/>
<rect x="1593.0" y="829.78" width="41.0" height="8.33" fill="#d1ff26"/>
<rect x="1593.0" y="822.05" width="41.0" height="8.33" fill="#d4ff23"/>
<rect x="1593.0" y="814.32" width="41.0" height="8.33" fill="#d7ff20"/>
<rect x="1593.0" y="806.59" width="41.0" height="8.33" fill="#daff1d"/>
<rect x="1593.0" y="798.86" width="41.0" height="8.33" fill="#ddff19"/>
<rect x="1593.0" y="791.12" width="41.0" height="8.33" fill="#e1ff16"/>
<rect x="1593.0" y="783.39" width="41.0" height="8.33" fill="#e4ff13"/>
<rect x="1593.0" y="775.66" width="41.0" height="8.33" fill="#e7ff10"/>
<rect x="1593.0" y="767.93" width="41.0" height="8.33" fill="#eaff0d"/>
<rect x="1593.0" y="760.20" width="41.0" height="8.33" fill="#edff09"/>
<rect x="1593.0" y="752.47" width="41.0" height="8.33" fill="#f1fd06"/>
<rect x="1593.0" y="744.74" width="41.0" height="8.33" fill="#f4f903"/>
<rect x="1593.0" y="737.01" width="41.0" height="8.33" fill="#f7f500"/>
<rect x="1593.0" y="729.28" width="41.0" height="8.33" fill="#faf100"/>
<rect x="1593.0" y="721.55" width="41.0" height="8.33" fill="#feee00"/>
<rect x="1593.0" y="713.82" width="41.0" height="8.33" fill="#ffea00"/>
<rect x="1593.0" y="706.09" width="41.0" height="8.33" fill="#ffe600"/>
<rect x="1593.0" y="698.36" width="41.0" height="8.33" fill="#ffe300"/>
<rect x="1593.0" y="690.63" width="41.0" height="8.33" fill="#ffdf00"/>
<rect x="1593.0" y="682.90" width="41.0" height="8.33" fill="#ffdb00"/>
<rect x="1593.0" y="675.17" width="41.0" height="8.33" fill="#ffd800"/>
<rect x="1593.0" y="667.44" width="41.0" height="8.33" fill="#ffd400"/>
<rect x="1593.0" y="659.71" width="41.0" height="8.33" fill="#ffd000"/>
<rect x="1593.0" y="651.98" width="41.0" height="8.33" fill="#ffcd00"/>
<rect x="1593.0" y="644.25" width="41.0" height="8.33" fill="#ffc900"/>
<rect x="1593.0" y="636.52" width="41.0" height="8.33" fill="#ffc500"/>
<rect x="1593.0" y="628.79" width="41.0" height="8.33" fill="#ffc200"/>
<rect x="1593.0" y="621.05" width="41.0" height="8.33" fill="#ffbe00"/>
<rect x="1593.0" y="613.32" width="41.0" height="8.33" fill="#ffba00"/>
<rect x="1593.0" y="605.59" width="41.0" height="8.33" fill="#ffb600"/>
<rect x="1593.0" y="597.86" width="41.0" height="8.33" fill="#ffb300"/>
<rect x="1593.0" y="590.13" width="41.0" height="8.33" fill="#ffaf00"/>
<rect x="1593.0" y="582.40" width="41.0" height="8.33" fill="#ffab00"/>
<rect x="1593.0" y="574.67" width="41.0" height="8.33" fill="#ffa800"/>
<rect x="1593.0" y="566.94" width="41.0" height="8.33" fill="#ffa400"/>
<rect x="1593.0" y="559.21" width="41.0" height="8.33" fill="#ffa000"/>
<rect x="1593.0" y="551.48" width="41.0" height="8.33" fill="#ff9d00"/>
<rect x="1593.0" y="543.75" width="41.0" height="8.33" fill="#ff9900"/>
<rect x="1593.0" y="536.02" width="41.0" height="8.33" fill="#ff9500"/>
<rect x="1593.0" y="528.29" width="41.0" height="8.33" fill="#ff9200"/>
<rect x="1593.0" y="520.56" width="41.0" height="8.33" fill="#ff8e00"/>
<rect x="1593.0" y="512.83" width="41.0" height="8.33" fill="#ff8a00"/>
<rect x="1593.0" y="505.10" width="41.0" height="8.33" fill="#ff8700"/>
<rect x="1593.0" y="497.37" width="41.0" height="8.33" fill="#ff8300"/>
<rect x="1593.0" y="489.64" width="41.0" height="8.33" fill="#ff7f00"/>
<rect x="1593.0" y="481.91" width="41.0" height="8.33" fill="#ff7b00"/>
<rect x="1593.0" y="474.18" width="41.0" height="8.33" fill="#ff7800"/>
<rect x="1593.0" y="466.45" width="41.0" height="8.33" fill="#ff7400"/>
<rect x="1593.0" y="458.71" width="41.0" height="8.33" fill="#ff7000"/>
<rect x="1593.0" y="450.98" width="41.0" height="8.33" fill="#ff6d00"/>
<rect x="1593.0" y="443.25" width="41.0" height="8.33" fill="#ff6900"/>
<rect x="1593.0" y="435.52" width="41.0" height="8.33" fill="#ff6500"/>
<rect x="1593.0" y="427.79" width="41.0" height="8.33" fill="#ff6200"/>
<rect x="1593.0" y="420.06" width="41.0" height="8.33" fill="#ff5e00"/>
<rect x="1593.0" y="412.33" width="41.0" height="8.33" fill="#ff5a00"/>
<rect x="1593.0" y="404.60" width="41.0" height="8.33" fill="#ff5700"/>
<rect x="1593.0" y="396.87" width="41.0" height="8.33" fill="#ff5300"/>
<rect x="1593.0" y="389.14" width="41.0" height="8.33" fill="#ff4f00"/>
<rect x="1593.0" y="381.41" width="41.0" height="8.33" fill="#ff4b00"/>
<rect x="1593.0" y="373.68" width="41.0" height="8.33" fill="#ff4800"/>
<rect x="1593.0" y="365.95" width="41.0" height="8.33" fill="#ff4400"/>
<rect x="1593.0" y="358.22" width="41.0" height="8.33" fill="#ff4000"/>
<rect x="1593.0" y="350.49" width="41.0" height="8.33" fill="#ff3d00"/>
<rect x="1593.0" y="342.76" width="41.0" height="8.33" fill="#ff3900"/>
<rect x="1593.0" y="335.03" width="41.0" height="8.33" fill="#ff3500"/>
<rect x="1593.0" y="327.30" width="41.0" height="8.33" fill="#ff3200"/>
<rect x="1593.0" y="319.57" width="41.0" height="8.33" fill="#ff2e00"/>
<rect x="1593.0" y="311.84" width="41.0" height="8.33" fill="#ff2a00"/>
<rect x="1593.0" y="304.11" width="41.0" height="8.33" fill="#ff2700"/>
<rect x="1593.0" y="296.38" width="41.0" height="8.33" fill="#ff2300"/>
<rect x="1593.0" y="288.64" width="41.0" height="8.33" fill="#ff1f00"/>
<rect x="1593.0" y="280.91" width="41.0" height="8.33" fill="#ff1c00"/>
<rect x="1593.0" y="273.18" width="41.0" height="8.33" fill="#ff1800"/>
<rect x="1593.0" y="265.45" width="41.0" height="8.33" fill="#ff1400"/>
<rect x="1593.0" y="257.72" width="41.0" height="8.33" fill="#fc1000"/>
<rect x="1593.0" y="249.99" width="41.0" height="8.33" fill="#f70d00"/>
<rect x="1593.0" y="242.26" width="41.0" height="8.33" fill="#f30900"/>
<rect x="1593.0" y="234.53" width="41.0" height="8.33" fill="#ee0500"/>
<rect x="1593.0" y="226.80" width="41.0" height="8.33" fill="#ea0200"/>
<rect x="1593.0" y="219.07" width="41.0" height="8.33" fill="#e50000"/>
<rect x="1593.0" y="211.34" width="41.0" height="8.33" fill="#e10000"/>
<rect x="1593.0" y="203.61" width="41.0" height="8.33" fill="#dc0000"/>
<rect x="1593.0" y="195.88" width="41.0" height="8.33" fill="#d80000"/>
<rect x="1593.0" y="188.15" width="41.0" height="8.33" fill="#d30000"/>
<rect x="1593.0" y="180.42" width="41.0" height="8.33" fill="#cf0000"/>
<rect x="1593.0" y="172.69" width="41.0" height="8.33" fill="#ca0000"/>
<rect x="1593.0" y="164.96" width="41.0" height="8.33" fill="#c60000"/>
<rect x="1593.0" y="157.23" width="41.0" height="8.33" fill="#c10000"/>
<rect x="1593.0" y="149.50" width="41.0" height="8.33" fill="#bd0000"/>
<rect x="1593.0" y="141.77" width="41.0" height="8.33" fill="#b80000"/>
<rect x="1593.0" y="134.04" width="41.0" height="8.33" fill="#b40000"/>
<rect x="1593.0" y="126.30" width="41.0" height="8.33" fill="#af0000"/>
<rect x="1593.0" y="118.57" width="41.0" height="8.33" fill="#ab0000"/>
<rect x="1593.0" y="110.84" width="41.0" height="8.33" fill="#a60000"/>
<rect x="1593.0" y="103.11" width="41.0" height="8.33" fill="#a10000"/>
<rect x="1593.0" y="95.38" width="41.0" height="8.33" fill="#9d0000"/>
<rect x="1593.0" y="87.65" width="41.0" height="8.33" fill="#980000"/>
<rect x="1593.0" y="79.92" width="41.0" height="8.33" fill="#940000"/>
<rect x="1593.0" y="72.19" width="41.0" height="8.33" fill="#8f0000"/>
<rect x="1593.0" y="64.46" width="41.0" height="8.33" fill="#8b0000"/>
<rect x="1593.0" y="56.73" width="41.0" height="8.33" fill="#860000"/>
<rect x="1593.0" y="49.00" width="41.0" height="8.33" fill="#820000"/>
</g>
<rect x="1593.0" y="49.0" width="41.0" height="1979.0" fill="none" stroke="#000" stroke-width="4"/>
<line x1="1636.0" y1="1778.40" x2="1652.0" y2="1778.40" stroke="#000" stroke-width="4"/>
<text x="1670" y="1807.90">0.1</text>
<line x1="1636.0" y1="1507.63" x2="1652.0" y2="1507.63" stroke="#000" stroke-width="4"/>
<text x="1670" y="1537.13">0.2</text>
<line x1="1636.0" y1="1236.87" x2="1652.0" y2="1236.87" stroke="#000" stroke-width="4"/>
<text x="1670" y="1266.37">0.3</text>
<line x1="1636.0" y1="966.10" x2="1652.0" y2="966.10" stroke="#000" stroke-width="4"/>
<text x="1670" y="995.60">0.4</text>
<line x1="1636.0" y1="695.33" x2="1652.0" y2="695.33" stroke="#000" stroke-width="4"/>
<text x="1670" y="724.83">0.5</text>
<line x1="1636.0" y1="424.57" x2="1652.0" y2="424.57" stroke="#000" stroke-width="4"/>
<text x="1670" y="454.07">0.6</text>
<line x1="1636.0" y1="153.80" x2="1652.0" y2="153.80" stroke="#000" stroke-width="4"/>
<text x="1670" y="183.30">0.7</text>
<rect x="233.0" y="49.0" width="1353.0" height="1979.0" fill="none" stroke="#000" stroke-width="4"/>
<line x1="216.0" y1="2028.00" x2="231.0" y2="2028.00" stroke="#000" stroke-width="4"/>
<text x="196" y="2056.00" text-anchor="end">-3</text>
<line x1="216.0" y1="1698.17" x2="231.0" y2="1698.17" stroke="#000" stroke-width="4"/>
<text x="196" y="1726.17" text-anchor="end">-2</text>
<line x1="216.0" y1="1368.33" x2="231.0" y2="1368.33" stroke="#000" stroke-width="4"/>
<text x="196" y="1396.33" text-anchor="end">-1</text>
<line x1="216.0" y1="1038.50" x2="231.0" y2="1038.50" stroke="#000" stroke-width="4"/>
<text x="196" y="1066.50" text-anchor="end">0</text>
<line x1="216.0" y1="708.67" x2="231.0" y2="708.67" stroke="#000" stroke-width="4"/>
<text x="196" y="736.67" text-anchor="end">1</text>
<line x1="216.0" y1="378.83" x2="231.0" y2="378.83" stroke="#000" stroke-width="4"/>
<text x="196" y="406.83" text-anchor="end">2</text>
<line x1="216.0" y1="49.00" x2="231.0" y2="49.00" stroke="#000" stroke-width="4"/>
<text x="196" y="77.00" text-anchor="end">3</text>
<line x1="223.0" y1="1863.08" x2="231.0" y2="1863.08" stroke="#000" stroke-width="3"/>
<line x1="223.0" y1="1533.25" x2="231.0" y2="1533.25" stroke="#000" stroke-width="3"/>
<line x1="223.0" y1="1203.42" x2="231.0" y2="1203.42" stroke="#000" stroke-width="3"/>
<line x1="223.0" y1="873.58" x2="231.0" y2="873.58" stroke="#000" stroke-width="3"/>
<line x1="223.0" y1="543.75" x2="231.0" y2="543.75" stroke="#000" stroke-width="3"/>
<line x1="223.0" y1="213.92" x2="231.0" y2="213.92" stroke="#000" stroke-width="3"/>
<line x1="233.0" y1="2030.0" x2="233.0" y2="2046.0" stroke="#000" stroke-width="4"/>
<text x="235.5" y="2122.5" text-anchor="middle">Γ</text>
<line x1="728.0" y1="2030.0" x2="728.0" y2="2046.0" stroke="#000" stroke-width="4"/>
<text x="729.0" y="2122.5" text-anchor="middle">M</text>
<line x1="1014.0" y1="2030.0" x2="1014.0" y2="2046.0" stroke="#000" stroke-width="4"/>
<text x="1015.0" y="2122.5" text-anchor="middle">K</text>
<line x1="1586.0" y1="2030.0" x2="1586.0" y2="2046.0" stroke="#000" stroke-width="4"/>
<text x="1588.5" y="2122.5" text-anchor="middle">Γ</text>
<text transform="translate(78.7,1040.5) rotate(-90)" text-anchor="middle">Energy [eV]</text>
</svg>
</body></html>
